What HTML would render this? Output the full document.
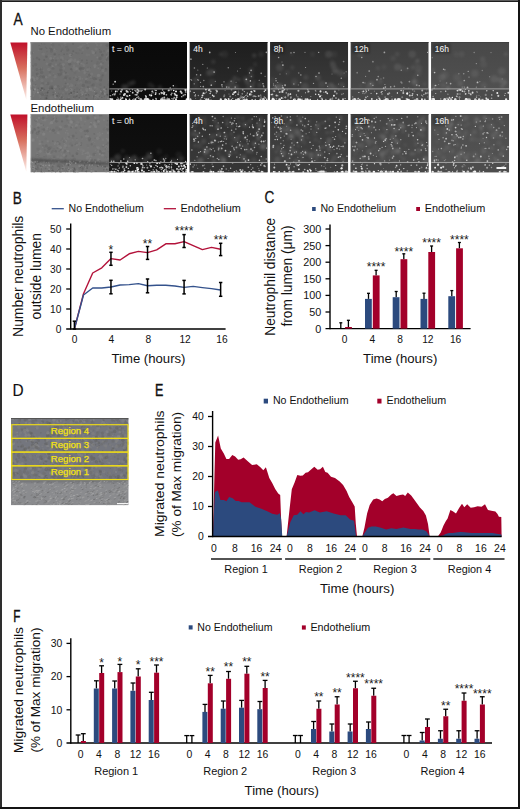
<!DOCTYPE html>
<html><head><meta charset="utf-8"><style>
html,body{margin:0;padding:0;background:#fff;}
svg{display:block;}
text{font-family:"Liberation Sans",sans-serif;}
</style></head><body>
<svg width="520" height="809" viewBox="0 0 520 809" font-family="Liberation Sans, sans-serif">
<defs><filter id="b4" x="-20%" y="-20%" width="140%" height="140%"><feGaussianBlur stdDeviation="0.35"/></filter><filter id="b5" x="-20%" y="-20%" width="140%" height="140%"><feGaussianBlur stdDeviation="0.5"/></filter><filter id="b8" x="-20%" y="-50%" width="140%" height="200%"><feGaussianBlur stdDeviation="0.8"/></filter><filter id="b10" x="-20%" y="-20%" width="140%" height="140%"><feGaussianBlur stdDeviation="1.0"/></filter></defs>
<rect x="0" y="0" width="520" height="809" fill="#fff"/>
<text transform="translate(13.4,24.7) scale(0.86,1)" x="0" y="0" font-size="16" fill="#111" stroke="#111" stroke-width="0.3">A</text>
<text x="30.5" y="34.7" font-size="10.6" text-anchor="start" fill="#111" textLength="80.6" lengthAdjust="spacingAndGlyphs" >No Endothelium</text>
<text x="30.5" y="111.6" font-size="10.6" text-anchor="start" fill="#111" textLength="63.4" lengthAdjust="spacingAndGlyphs" >Endothelium</text>
<defs><linearGradient id="tri" x1="0" y1="0" x2="0" y2="1"><stop offset="0" stop-color="#c0102a"/><stop offset="0.45" stop-color="#d8705e"/><stop offset="1" stop-color="#fdf0ec"/></linearGradient></defs>
<polygon points="10.3,42.5 27.4,42.5 26.3,99.8" fill="url(#tri)"/>
<polygon points="10.3,114.5 27.4,114.5 26.3,171.8" fill="url(#tri)"/>
<clipPath id="c1"><rect x="30.5" y="42" width="78.5" height="58"/></clipPath>
<g clip-path="url(#c1)">
<rect x="30.5" y="42" width="78.5" height="58" fill="#707070"/>
<g filter="url(#b5)">
<circle cx="55.9" cy="50.7" r="1.3" fill="#5f5f5f" opacity="0.6"/>
<circle cx="37.9" cy="75.8" r="1.7" fill="#6a6a6a" opacity="0.6"/>
<circle cx="64.5" cy="46.1" r="0.6" fill="#757575" opacity="0.6"/>
<circle cx="74.9" cy="97.0" r="1.3" fill="#626262" opacity="0.6"/>
<circle cx="61.6" cy="98.6" r="0.6" fill="#666666" opacity="0.6"/>
<circle cx="41.8" cy="48.8" r="0.9" fill="#696969" opacity="0.6"/>
<circle cx="75.3" cy="52.9" r="0.6" fill="#636363" opacity="0.6"/>
<circle cx="79.1" cy="70.8" r="1.2" fill="#7b7b7b" opacity="0.6"/>
<circle cx="103.0" cy="63.0" r="0.8" fill="#616161" opacity="0.6"/>
<circle cx="49.7" cy="75.3" r="1.2" fill="#7f7f7f" opacity="0.6"/>
<circle cx="53.1" cy="98.9" r="0.7" fill="#777777" opacity="0.6"/>
<circle cx="57.4" cy="96.1" r="1.0" fill="#606060" opacity="0.6"/>
<circle cx="75.5" cy="92.8" r="0.9" fill="#7d7d7d" opacity="0.6"/>
<circle cx="76.0" cy="68.5" r="1.6" fill="#7b7b7b" opacity="0.6"/>
<circle cx="82.6" cy="45.5" r="1.4" fill="#787878" opacity="0.6"/>
<circle cx="60.8" cy="80.8" r="0.5" fill="#797979" opacity="0.6"/>
<circle cx="78.5" cy="70.6" r="0.8" fill="#767676" opacity="0.6"/>
<circle cx="49.9" cy="64.7" r="1.6" fill="#686868" opacity="0.6"/>
<circle cx="62.0" cy="58.1" r="0.7" fill="#818181" opacity="0.6"/>
<circle cx="52.4" cy="66.1" r="1.0" fill="#828282" opacity="0.6"/>
<circle cx="42.3" cy="52.2" r="0.8" fill="#6a6a6a" opacity="0.6"/>
<circle cx="95.7" cy="52.6" r="0.9" fill="#656565" opacity="0.6"/>
<circle cx="59.5" cy="74.8" r="1.7" fill="#646464" opacity="0.6"/>
<circle cx="98.9" cy="97.2" r="1.4" fill="#7a7a7a" opacity="0.6"/>
<circle cx="61.4" cy="69.9" r="1.0" fill="#6a6a6a" opacity="0.6"/>
<circle cx="46.9" cy="51.4" r="0.9" fill="#696969" opacity="0.6"/>
<circle cx="75.0" cy="73.1" r="1.7" fill="#6a6a6a" opacity="0.6"/>
<circle cx="46.8" cy="63.8" r="1.3" fill="#7d7d7d" opacity="0.6"/>
<circle cx="67.7" cy="48.7" r="1.1" fill="#7b7b7b" opacity="0.6"/>
<circle cx="55.0" cy="50.4" r="1.5" fill="#7b7b7b" opacity="0.6"/>
<circle cx="84.8" cy="71.9" r="0.8" fill="#777777" opacity="0.6"/>
<circle cx="73.1" cy="43.6" r="1.2" fill="#616161" opacity="0.6"/>
<circle cx="51.0" cy="63.3" r="0.7" fill="#636363" opacity="0.6"/>
<circle cx="91.7" cy="61.1" r="0.8" fill="#5f5f5f" opacity="0.6"/>
<circle cx="94.7" cy="84.9" r="0.8" fill="#797979" opacity="0.6"/>
<circle cx="32.8" cy="43.6" r="0.9" fill="#777777" opacity="0.6"/>
<circle cx="78.0" cy="62.0" r="1.6" fill="#828282" opacity="0.6"/>
<circle cx="59.1" cy="54.8" r="0.8" fill="#666666" opacity="0.6"/>
<circle cx="68.4" cy="99.1" r="1.3" fill="#646464" opacity="0.6"/>
<circle cx="81.8" cy="88.4" r="0.6" fill="#5e5e5e" opacity="0.6"/>
<circle cx="91.9" cy="85.5" r="1.1" fill="#646464" opacity="0.6"/>
<circle cx="80.4" cy="47.0" r="1.7" fill="#7b7b7b" opacity="0.6"/>
<circle cx="88.9" cy="46.9" r="0.7" fill="#6a6a6a" opacity="0.6"/>
<circle cx="76.9" cy="69.0" r="1.4" fill="#7e7e7e" opacity="0.6"/>
<circle cx="58.0" cy="73.8" r="0.7" fill="#5f5f5f" opacity="0.6"/>
<circle cx="87.5" cy="48.0" r="1.5" fill="#646464" opacity="0.6"/>
<circle cx="98.9" cy="89.9" r="0.8" fill="#777777" opacity="0.6"/>
<circle cx="69.8" cy="86.3" r="0.9" fill="#808080" opacity="0.6"/>
<circle cx="35.3" cy="84.9" r="1.7" fill="#808080" opacity="0.6"/>
<circle cx="99.4" cy="49.6" r="0.7" fill="#5e5e5e" opacity="0.6"/>
<circle cx="91.5" cy="77.3" r="1.5" fill="#686868" opacity="0.6"/>
<circle cx="67.7" cy="84.1" r="1.2" fill="#7e7e7e" opacity="0.6"/>
<circle cx="72.2" cy="70.0" r="1.5" fill="#676767" opacity="0.6"/>
<circle cx="52.2" cy="86.8" r="1.2" fill="#606060" opacity="0.6"/>
<circle cx="102.1" cy="67.7" r="1.3" fill="#616161" opacity="0.6"/>
<circle cx="66.0" cy="72.9" r="1.1" fill="#616161" opacity="0.6"/>
<circle cx="99.3" cy="96.6" r="0.8" fill="#5f5f5f" opacity="0.6"/>
<circle cx="41.3" cy="49.1" r="1.1" fill="#616161" opacity="0.6"/>
<circle cx="64.1" cy="54.3" r="0.9" fill="#5e5e5e" opacity="0.6"/>
<circle cx="42.6" cy="83.5" r="1.4" fill="#676767" opacity="0.6"/>
<circle cx="41.3" cy="69.1" r="1.5" fill="#656565" opacity="0.6"/>
<circle cx="68.7" cy="99.4" r="1.6" fill="#616161" opacity="0.6"/>
<circle cx="108.5" cy="65.4" r="1.0" fill="#797979" opacity="0.6"/>
<circle cx="87.2" cy="43.1" r="1.2" fill="#7e7e7e" opacity="0.6"/>
<circle cx="60.7" cy="72.0" r="0.9" fill="#696969" opacity="0.6"/>
<circle cx="102.6" cy="55.3" r="1.6" fill="#676767" opacity="0.6"/>
<circle cx="33.6" cy="87.2" r="0.9" fill="#5f5f5f" opacity="0.6"/>
<circle cx="97.2" cy="81.2" r="1.7" fill="#777777" opacity="0.6"/>
<circle cx="102.7" cy="75.1" r="1.4" fill="#676767" opacity="0.6"/>
<circle cx="93.3" cy="52.6" r="1.7" fill="#828282" opacity="0.6"/>
<circle cx="80.3" cy="88.5" r="0.6" fill="#6a6a6a" opacity="0.6"/>
<circle cx="98.2" cy="68.3" r="0.9" fill="#818181" opacity="0.6"/>
<circle cx="51.5" cy="49.5" r="1.2" fill="#5d5d5d" opacity="0.6"/>
<circle cx="106.6" cy="57.2" r="0.7" fill="#7d7d7d" opacity="0.6"/>
<circle cx="72.2" cy="53.9" r="1.1" fill="#676767" opacity="0.6"/>
<circle cx="93.6" cy="99.7" r="0.5" fill="#606060" opacity="0.6"/>
<circle cx="73.8" cy="53.0" r="1.1" fill="#767676" opacity="0.6"/>
<circle cx="94.8" cy="67.1" r="1.1" fill="#828282" opacity="0.6"/>
<circle cx="54.7" cy="54.5" r="0.8" fill="#5f5f5f" opacity="0.6"/>
<circle cx="86.0" cy="78.9" r="1.0" fill="#828282" opacity="0.6"/>
<circle cx="96.2" cy="42.8" r="1.3" fill="#7b7b7b" opacity="0.6"/>
<circle cx="34.8" cy="80.6" r="1.0" fill="#7d7d7d" opacity="0.6"/>
<circle cx="84.9" cy="44.6" r="0.7" fill="#7b7b7b" opacity="0.6"/>
<circle cx="51.2" cy="97.8" r="1.8" fill="#787878" opacity="0.6"/>
<circle cx="106.3" cy="60.0" r="1.0" fill="#666666" opacity="0.6"/>
<circle cx="37.1" cy="58.2" r="1.4" fill="#636363" opacity="0.6"/>
<circle cx="30.9" cy="57.3" r="0.6" fill="#7d7d7d" opacity="0.6"/>
<circle cx="61.4" cy="59.4" r="1.3" fill="#626262" opacity="0.6"/>
<circle cx="72.0" cy="85.5" r="1.4" fill="#7f7f7f" opacity="0.6"/>
<circle cx="87.1" cy="70.7" r="0.9" fill="#6a6a6a" opacity="0.6"/>
<circle cx="96.1" cy="93.7" r="1.3" fill="#5e5e5e" opacity="0.6"/>
<circle cx="89.6" cy="75.0" r="1.6" fill="#5f5f5f" opacity="0.6"/>
<circle cx="76.3" cy="93.8" r="1.4" fill="#696969" opacity="0.6"/>
<circle cx="33.8" cy="79.0" r="1.7" fill="#808080" opacity="0.6"/>
<circle cx="74.3" cy="78.4" r="1.3" fill="#646464" opacity="0.6"/>
<circle cx="30.8" cy="88.3" r="1.5" fill="#616161" opacity="0.6"/>
<circle cx="35.7" cy="84.7" r="0.8" fill="#5f5f5f" opacity="0.6"/>
<circle cx="48.9" cy="85.9" r="0.8" fill="#7b7b7b" opacity="0.6"/>
<circle cx="60.5" cy="69.8" r="1.4" fill="#626262" opacity="0.6"/>
<circle cx="81.0" cy="46.5" r="0.7" fill="#7e7e7e" opacity="0.6"/>
<circle cx="84.9" cy="78.0" r="0.7" fill="#757575" opacity="0.6"/>
<circle cx="51.6" cy="81.0" r="1.4" fill="#797979" opacity="0.6"/>
<circle cx="71.0" cy="69.0" r="1.1" fill="#5d5d5d" opacity="0.6"/>
<circle cx="73.6" cy="60.1" r="0.6" fill="#757575" opacity="0.6"/>
<circle cx="66.5" cy="89.6" r="1.8" fill="#828282" opacity="0.6"/>
<circle cx="60.9" cy="95.2" r="1.7" fill="#626262" opacity="0.6"/>
<circle cx="41.6" cy="72.4" r="1.7" fill="#626262" opacity="0.6"/>
<circle cx="80.1" cy="58.2" r="0.6" fill="#787878" opacity="0.6"/>
<circle cx="101.0" cy="70.2" r="0.5" fill="#5d5d5d" opacity="0.6"/>
<circle cx="84.0" cy="65.5" r="1.4" fill="#797979" opacity="0.6"/>
<circle cx="55.3" cy="90.7" r="0.5" fill="#808080" opacity="0.6"/>
<circle cx="39.9" cy="95.7" r="1.4" fill="#787878" opacity="0.6"/>
<circle cx="35.6" cy="64.6" r="1.6" fill="#656565" opacity="0.6"/>
<circle cx="64.1" cy="58.0" r="0.6" fill="#6a6a6a" opacity="0.6"/>
<circle cx="82.5" cy="78.8" r="0.7" fill="#7b7b7b" opacity="0.6"/>
<circle cx="55.3" cy="86.8" r="1.5" fill="#818181" opacity="0.6"/>
<circle cx="94.2" cy="78.6" r="1.7" fill="#606060" opacity="0.6"/>
<circle cx="34.4" cy="84.5" r="1.1" fill="#616161" opacity="0.6"/>
<circle cx="53.0" cy="44.8" r="1.7" fill="#686868" opacity="0.6"/>
<circle cx="63.1" cy="58.3" r="0.8" fill="#7a7a7a" opacity="0.6"/>
<circle cx="49.2" cy="70.0" r="1.4" fill="#686868" opacity="0.6"/>
<circle cx="43.2" cy="54.1" r="1.7" fill="#7c7c7c" opacity="0.6"/>
<circle cx="66.1" cy="61.3" r="1.5" fill="#767676" opacity="0.6"/>
<circle cx="45.6" cy="47.3" r="0.9" fill="#666666" opacity="0.6"/>
<circle cx="59.4" cy="88.9" r="0.8" fill="#606060" opacity="0.6"/>
<circle cx="62.9" cy="66.0" r="1.2" fill="#787878" opacity="0.6"/>
<circle cx="89.5" cy="70.9" r="1.2" fill="#767676" opacity="0.6"/>
<circle cx="70.0" cy="78.5" r="1.6" fill="#696969" opacity="0.6"/>
<circle cx="100.9" cy="64.3" r="1.3" fill="#828282" opacity="0.6"/>
<circle cx="97.1" cy="92.6" r="0.5" fill="#656565" opacity="0.6"/>
<circle cx="90.4" cy="88.6" r="1.8" fill="#757575" opacity="0.6"/>
<circle cx="61.2" cy="95.8" r="1.6" fill="#828282" opacity="0.6"/>
<circle cx="50.0" cy="48.3" r="0.7" fill="#5d5d5d" opacity="0.6"/>
<circle cx="87.2" cy="79.5" r="1.5" fill="#767676" opacity="0.6"/>
<circle cx="91.5" cy="42.1" r="0.7" fill="#616161" opacity="0.6"/>
<circle cx="54.3" cy="49.4" r="0.8" fill="#7e7e7e" opacity="0.6"/>
<circle cx="39.3" cy="46.1" r="1.2" fill="#656565" opacity="0.6"/>
<circle cx="48.1" cy="76.9" r="0.5" fill="#828282" opacity="0.6"/>
<circle cx="52.4" cy="60.3" r="1.6" fill="#646464" opacity="0.6"/>
<circle cx="48.9" cy="56.3" r="1.7" fill="#757575" opacity="0.6"/>
<circle cx="45.7" cy="93.3" r="1.3" fill="#676767" opacity="0.6"/>
<circle cx="82.9" cy="95.7" r="0.8" fill="#616161" opacity="0.6"/>
<circle cx="86.9" cy="63.0" r="1.0" fill="#5f5f5f" opacity="0.6"/>
<circle cx="88.5" cy="71.3" r="0.8" fill="#666666" opacity="0.6"/>
<circle cx="94.9" cy="55.4" r="0.8" fill="#767676" opacity="0.6"/>
<circle cx="79.5" cy="77.4" r="1.7" fill="#7a7a7a" opacity="0.6"/>
<circle cx="82.7" cy="97.0" r="0.7" fill="#757575" opacity="0.6"/>
<circle cx="32.4" cy="76.6" r="1.0" fill="#686868" opacity="0.6"/>
<circle cx="65.8" cy="83.3" r="0.9" fill="#5d5d5d" opacity="0.6"/>
<circle cx="103.6" cy="61.1" r="0.7" fill="#757575" opacity="0.6"/>
<circle cx="82.7" cy="64.0" r="1.0" fill="#7b7b7b" opacity="0.6"/>
<circle cx="39.1" cy="46.5" r="0.6" fill="#828282" opacity="0.6"/>
<circle cx="40.2" cy="97.9" r="0.8" fill="#7f7f7f" opacity="0.6"/>
<circle cx="54.7" cy="88.6" r="0.6" fill="#777777" opacity="0.6"/>
<circle cx="73.0" cy="67.9" r="0.9" fill="#757575" opacity="0.6"/>
<circle cx="62.7" cy="89.1" r="1.5" fill="#656565" opacity="0.6"/>
<circle cx="66.9" cy="88.6" r="0.6" fill="#606060" opacity="0.6"/>
<circle cx="101.0" cy="61.7" r="0.9" fill="#676767" opacity="0.6"/>
<circle cx="86.8" cy="60.4" r="0.9" fill="#606060" opacity="0.6"/>
<circle cx="77.3" cy="88.7" r="1.7" fill="#6a6a6a" opacity="0.6"/>
<circle cx="48.9" cy="69.6" r="1.7" fill="#808080" opacity="0.6"/>
<circle cx="102.2" cy="89.3" r="0.7" fill="#777777" opacity="0.6"/>
<circle cx="93.5" cy="84.8" r="1.6" fill="#626262" opacity="0.6"/>
<circle cx="56.2" cy="60.5" r="1.0" fill="#636363" opacity="0.6"/>
<circle cx="61.2" cy="51.3" r="1.0" fill="#646464" opacity="0.6"/>
<circle cx="73.3" cy="51.3" r="1.1" fill="#5d5d5d" opacity="0.6"/>
<circle cx="51.3" cy="46.9" r="0.6" fill="#828282" opacity="0.6"/>
<circle cx="106.8" cy="52.0" r="0.7" fill="#7d7d7d" opacity="0.6"/>
<circle cx="83.4" cy="85.4" r="1.6" fill="#606060" opacity="0.6"/>
<circle cx="53.6" cy="58.2" r="0.8" fill="#7f7f7f" opacity="0.6"/>
<circle cx="46.1" cy="56.4" r="0.8" fill="#676767" opacity="0.6"/>
<circle cx="101.7" cy="52.9" r="0.6" fill="#828282" opacity="0.6"/>
<circle cx="70.3" cy="55.4" r="1.6" fill="#828282" opacity="0.6"/>
<circle cx="38.5" cy="69.5" r="1.6" fill="#818181" opacity="0.6"/>
<circle cx="33.7" cy="59.0" r="0.7" fill="#626262" opacity="0.6"/>
<circle cx="95.5" cy="53.3" r="0.6" fill="#646464" opacity="0.6"/>
<circle cx="50.9" cy="87.1" r="1.7" fill="#626262" opacity="0.6"/>
<circle cx="86.2" cy="62.3" r="0.5" fill="#767676" opacity="0.6"/>
<circle cx="46.5" cy="56.8" r="1.3" fill="#5f5f5f" opacity="0.6"/>
<circle cx="94.8" cy="65.7" r="1.0" fill="#767676" opacity="0.6"/>
<circle cx="33.0" cy="70.7" r="1.1" fill="#767676" opacity="0.6"/>
<circle cx="61.5" cy="73.9" r="1.3" fill="#616161" opacity="0.6"/>
<circle cx="61.7" cy="57.7" r="1.8" fill="#7a7a7a" opacity="0.6"/>
<circle cx="34.5" cy="85.2" r="1.6" fill="#7a7a7a" opacity="0.6"/>
<circle cx="98.3" cy="99.8" r="1.0" fill="#656565" opacity="0.6"/>
<circle cx="62.3" cy="96.6" r="1.1" fill="#656565" opacity="0.6"/>
<circle cx="94.9" cy="65.6" r="1.6" fill="#7f7f7f" opacity="0.6"/>
<circle cx="40.7" cy="45.0" r="0.7" fill="#767676" opacity="0.6"/>
<circle cx="79.3" cy="63.5" r="1.2" fill="#666666" opacity="0.6"/>
<circle cx="43.2" cy="52.0" r="0.6" fill="#7b7b7b" opacity="0.6"/>
<circle cx="93.7" cy="98.1" r="0.8" fill="#5f5f5f" opacity="0.6"/>
<circle cx="33.9" cy="94.9" r="0.9" fill="#767676" opacity="0.6"/>
<circle cx="86.4" cy="81.9" r="1.7" fill="#626262" opacity="0.6"/>
<circle cx="78.8" cy="53.4" r="1.1" fill="#6a6a6a" opacity="0.6"/>
<circle cx="104.2" cy="51.1" r="1.0" fill="#676767" opacity="0.6"/>
<circle cx="87.4" cy="94.0" r="0.6" fill="#616161" opacity="0.6"/>
<circle cx="55.9" cy="64.6" r="1.1" fill="#7e7e7e" opacity="0.6"/>
<circle cx="54.7" cy="56.5" r="1.0" fill="#7b7b7b" opacity="0.6"/>
<circle cx="64.9" cy="43.4" r="1.3" fill="#7b7b7b" opacity="0.6"/>
<circle cx="65.6" cy="77.9" r="1.6" fill="#5f5f5f" opacity="0.6"/>
<circle cx="61.9" cy="45.9" r="1.0" fill="#767676" opacity="0.6"/>
<circle cx="65.2" cy="71.6" r="0.6" fill="#696969" opacity="0.6"/>
<circle cx="88.1" cy="87.1" r="1.2" fill="#606060" opacity="0.6"/>
<circle cx="100.7" cy="79.9" r="1.5" fill="#5f5f5f" opacity="0.6"/>
<circle cx="108.7" cy="84.5" r="1.6" fill="#696969" opacity="0.6"/>
<circle cx="100.0" cy="58.7" r="1.6" fill="#616161" opacity="0.6"/>
<circle cx="87.1" cy="54.8" r="1.6" fill="#777777" opacity="0.6"/>
<circle cx="100.9" cy="57.9" r="1.6" fill="#676767" opacity="0.6"/>
<circle cx="106.2" cy="69.8" r="1.3" fill="#666666" opacity="0.6"/>
<circle cx="33.4" cy="52.6" r="0.7" fill="#7e7e7e" opacity="0.6"/>
<circle cx="100.8" cy="51.8" r="1.5" fill="#606060" opacity="0.6"/>
<circle cx="34.3" cy="91.8" r="1.8" fill="#7c7c7c" opacity="0.6"/>
<circle cx="76.0" cy="93.2" r="0.6" fill="#7f7f7f" opacity="0.6"/>
<circle cx="59.7" cy="63.8" r="1.0" fill="#656565" opacity="0.6"/>
<circle cx="90.5" cy="67.7" r="0.7" fill="#666666" opacity="0.6"/>
<circle cx="71.0" cy="60.0" r="1.8" fill="#7f7f7f" opacity="0.6"/>
<circle cx="89.1" cy="54.9" r="0.9" fill="#7a7a7a" opacity="0.6"/>
<circle cx="59.1" cy="44.8" r="1.1" fill="#6a6a6a" opacity="0.6"/>
<circle cx="30.7" cy="62.6" r="0.6" fill="#7c7c7c" opacity="0.6"/>
<circle cx="62.9" cy="59.5" r="0.7" fill="#7d7d7d" opacity="0.6"/>
<circle cx="67.8" cy="49.8" r="1.7" fill="#616161" opacity="0.6"/>
<circle cx="65.9" cy="45.7" r="0.7" fill="#7a7a7a" opacity="0.6"/>
<circle cx="51.2" cy="42.7" r="1.3" fill="#7d7d7d" opacity="0.6"/>
<circle cx="75.9" cy="76.9" r="1.2" fill="#787878" opacity="0.6"/>
<circle cx="101.4" cy="44.6" r="1.2" fill="#777777" opacity="0.6"/>
<circle cx="43.0" cy="94.9" r="0.6" fill="#696969" opacity="0.6"/>
<circle cx="46.2" cy="77.3" r="1.2" fill="#808080" opacity="0.6"/>
<circle cx="44.2" cy="59.9" r="0.9" fill="#5d5d5d" opacity="0.6"/>
<circle cx="87.4" cy="69.7" r="1.2" fill="#808080" opacity="0.6"/>
<circle cx="89.0" cy="69.0" r="1.5" fill="#777777" opacity="0.6"/>
<circle cx="108.7" cy="57.2" r="1.3" fill="#666666" opacity="0.6"/>
<circle cx="89.3" cy="82.3" r="1.6" fill="#676767" opacity="0.6"/>
<circle cx="74.0" cy="67.3" r="1.5" fill="#797979" opacity="0.6"/>
<circle cx="103.4" cy="93.9" r="0.6" fill="#686868" opacity="0.6"/>
<circle cx="101.5" cy="90.8" r="0.8" fill="#606060" opacity="0.6"/>
<circle cx="56.2" cy="93.0" r="0.9" fill="#656565" opacity="0.6"/>
<circle cx="97.4" cy="95.5" r="1.8" fill="#7b7b7b" opacity="0.6"/>
<circle cx="72.2" cy="42.4" r="0.5" fill="#636363" opacity="0.6"/>
<circle cx="54.7" cy="54.3" r="1.3" fill="#636363" opacity="0.6"/>
<circle cx="44.0" cy="43.9" r="0.6" fill="#666666" opacity="0.6"/>
<circle cx="41.6" cy="43.7" r="0.6" fill="#616161" opacity="0.6"/>
<circle cx="88.3" cy="45.8" r="1.3" fill="#777777" opacity="0.6"/>
<circle cx="105.4" cy="73.0" r="1.4" fill="#767676" opacity="0.6"/>
<circle cx="46.6" cy="48.5" r="0.5" fill="#5f5f5f" opacity="0.6"/>
<circle cx="80.1" cy="58.7" r="0.6" fill="#5f5f5f" opacity="0.6"/>
<circle cx="81.2" cy="59.1" r="0.9" fill="#757575" opacity="0.6"/>
<circle cx="50.7" cy="58.4" r="1.4" fill="#818181" opacity="0.6"/>
<circle cx="90.9" cy="76.9" r="1.1" fill="#7d7d7d" opacity="0.6"/>
<circle cx="32.9" cy="65.9" r="1.1" fill="#666666" opacity="0.6"/>
<circle cx="85.8" cy="73.2" r="0.8" fill="#626262" opacity="0.6"/>
<circle cx="53.0" cy="67.3" r="1.2" fill="#7f7f7f" opacity="0.6"/>
<circle cx="107.3" cy="42.3" r="1.1" fill="#7e7e7e" opacity="0.6"/>
<circle cx="95.3" cy="98.1" r="1.3" fill="#7d7d7d" opacity="0.6"/>
<circle cx="43.0" cy="89.3" r="1.7" fill="#646464" opacity="0.6"/>
<circle cx="39.1" cy="78.9" r="0.6" fill="#626262" opacity="0.6"/>
<circle cx="58.4" cy="65.3" r="1.0" fill="#656565" opacity="0.6"/>
<circle cx="81.2" cy="63.6" r="0.9" fill="#818181" opacity="0.6"/>
<circle cx="69.8" cy="64.0" r="1.6" fill="#5d5d5d" opacity="0.6"/>
<circle cx="40.5" cy="76.5" r="1.4" fill="#666666" opacity="0.6"/>
<circle cx="56.1" cy="51.0" r="1.6" fill="#777777" opacity="0.6"/>
<circle cx="64.9" cy="86.9" r="1.3" fill="#666666" opacity="0.6"/>
<circle cx="81.0" cy="82.4" r="1.2" fill="#797979" opacity="0.6"/>
<circle cx="85.7" cy="90.9" r="0.7" fill="#5d5d5d" opacity="0.6"/>
<circle cx="87.3" cy="77.0" r="1.0" fill="#666666" opacity="0.6"/>
<circle cx="45.4" cy="98.6" r="1.4" fill="#686868" opacity="0.6"/>
<circle cx="82.1" cy="53.3" r="0.7" fill="#5f5f5f" opacity="0.6"/>
<circle cx="88.1" cy="67.2" r="0.8" fill="#676767" opacity="0.6"/>
<circle cx="100.0" cy="68.9" r="0.5" fill="#7e7e7e" opacity="0.6"/>
<circle cx="69.8" cy="78.7" r="1.1" fill="#676767" opacity="0.6"/>
<circle cx="88.5" cy="42.3" r="0.8" fill="#7e7e7e" opacity="0.6"/>
<circle cx="76.6" cy="79.5" r="1.6" fill="#616161" opacity="0.6"/>
<circle cx="80.9" cy="68.3" r="0.9" fill="#5e5e5e" opacity="0.6"/>
<circle cx="49.5" cy="65.2" r="1.4" fill="#676767" opacity="0.6"/>
<circle cx="63.8" cy="68.4" r="1.3" fill="#7c7c7c" opacity="0.6"/>
<circle cx="82.4" cy="92.6" r="1.7" fill="#7f7f7f" opacity="0.6"/>
<circle cx="61.0" cy="70.4" r="1.8" fill="#676767" opacity="0.6"/>
<circle cx="47.6" cy="83.5" r="1.7" fill="#636363" opacity="0.6"/>
<circle cx="38.4" cy="75.3" r="1.2" fill="#7c7c7c" opacity="0.6"/>
<circle cx="80.7" cy="90.1" r="1.2" fill="#7f7f7f" opacity="0.6"/>
<circle cx="66.4" cy="99.4" r="0.7" fill="#606060" opacity="0.6"/>
<circle cx="78.7" cy="79.0" r="0.8" fill="#7a7a7a" opacity="0.6"/>
<circle cx="31.5" cy="66.3" r="1.0" fill="#7d7d7d" opacity="0.6"/>
<circle cx="39.1" cy="59.6" r="1.0" fill="#5d5d5d" opacity="0.6"/>
<circle cx="105.9" cy="68.8" r="0.7" fill="#5f5f5f" opacity="0.6"/>
<circle cx="80.3" cy="69.2" r="1.2" fill="#5f5f5f" opacity="0.6"/>
<circle cx="42.0" cy="80.6" r="1.6" fill="#7b7b7b" opacity="0.6"/>
<circle cx="53.6" cy="73.8" r="0.7" fill="#797979" opacity="0.6"/>
<circle cx="97.3" cy="57.5" r="1.0" fill="#828282" opacity="0.6"/>
<circle cx="83.8" cy="69.9" r="1.5" fill="#7a7a7a" opacity="0.6"/>
<circle cx="81.9" cy="60.6" r="1.1" fill="#616161" opacity="0.6"/>
<circle cx="59.0" cy="95.9" r="1.6" fill="#696969" opacity="0.6"/>
<circle cx="74.8" cy="60.8" r="1.7" fill="#7d7d7d" opacity="0.6"/>
<circle cx="31.7" cy="42.7" r="1.7" fill="#787878" opacity="0.6"/>
<circle cx="38.5" cy="50.3" r="0.8" fill="#797979" opacity="0.6"/>
<circle cx="42.5" cy="94.4" r="1.5" fill="#626262" opacity="0.6"/>
<circle cx="84.5" cy="98.7" r="0.6" fill="#777777" opacity="0.6"/>
<circle cx="84.9" cy="72.8" r="1.5" fill="#7e7e7e" opacity="0.6"/>
<circle cx="39.7" cy="48.9" r="1.0" fill="#646464" opacity="0.6"/>
<circle cx="74.2" cy="70.1" r="1.7" fill="#787878" opacity="0.6"/>
<circle cx="43.4" cy="76.8" r="1.5" fill="#5f5f5f" opacity="0.6"/>
<circle cx="67.2" cy="74.6" r="1.4" fill="#7a7a7a" opacity="0.6"/>
<circle cx="63.4" cy="97.7" r="0.6" fill="#7d7d7d" opacity="0.6"/>
<circle cx="32.7" cy="77.4" r="1.4" fill="#808080" opacity="0.6"/>
<circle cx="37.9" cy="70.1" r="1.5" fill="#6a6a6a" opacity="0.6"/>
<circle cx="86.9" cy="78.3" r="0.9" fill="#797979" opacity="0.6"/>
<circle cx="91.6" cy="74.1" r="1.7" fill="#7b7b7b" opacity="0.6"/>
<circle cx="63.7" cy="74.1" r="1.6" fill="#797979" opacity="0.6"/>
<circle cx="69.3" cy="61.4" r="1.8" fill="#828282" opacity="0.6"/>
<circle cx="81.9" cy="87.9" r="0.9" fill="#7e7e7e" opacity="0.6"/>
<circle cx="40.5" cy="98.4" r="0.6" fill="#656565" opacity="0.6"/>
<circle cx="74.0" cy="65.5" r="1.2" fill="#797979" opacity="0.6"/>
<circle cx="31.0" cy="53.0" r="1.7" fill="#5f5f5f" opacity="0.6"/>
<circle cx="101.9" cy="77.5" r="1.3" fill="#686868" opacity="0.6"/>
<circle cx="82.9" cy="68.6" r="1.5" fill="#616161" opacity="0.6"/>
<circle cx="98.7" cy="66.5" r="0.6" fill="#656565" opacity="0.6"/>
<circle cx="95.1" cy="87.6" r="1.2" fill="#818181" opacity="0.6"/>
<circle cx="45.0" cy="44.0" r="0.5" fill="#646464" opacity="0.6"/>
<circle cx="71.5" cy="89.8" r="1.5" fill="#7d7d7d" opacity="0.6"/>
<circle cx="102.6" cy="67.9" r="0.5" fill="#7d7d7d" opacity="0.6"/>
<circle cx="108.5" cy="80.2" r="0.7" fill="#7c7c7c" opacity="0.6"/>
<circle cx="37.0" cy="69.4" r="1.7" fill="#656565" opacity="0.6"/>
<circle cx="31.2" cy="80.8" r="1.8" fill="#676767" opacity="0.6"/>
<circle cx="40.0" cy="69.4" r="0.9" fill="#646464" opacity="0.6"/>
<circle cx="88.9" cy="95.5" r="1.0" fill="#606060" opacity="0.6"/>
<circle cx="37.1" cy="78.5" r="1.4" fill="#7e7e7e" opacity="0.6"/>
<circle cx="100.4" cy="95.0" r="0.6" fill="#6a6a6a" opacity="0.6"/>
<circle cx="31.7" cy="79.7" r="1.6" fill="#656565" opacity="0.6"/>
<circle cx="55.0" cy="76.8" r="1.7" fill="#7d7d7d" opacity="0.6"/>
<circle cx="55.3" cy="97.0" r="1.4" fill="#7e7e7e" opacity="0.6"/>
<circle cx="41.9" cy="88.2" r="1.0" fill="#626262" opacity="0.6"/>
<circle cx="63.3" cy="64.4" r="1.5" fill="#7f7f7f" opacity="0.6"/>
<circle cx="75.0" cy="59.0" r="0.6" fill="#818181" opacity="0.6"/>
<circle cx="87.5" cy="42.9" r="0.7" fill="#7d7d7d" opacity="0.6"/>
<circle cx="107.1" cy="56.3" r="1.0" fill="#7d7d7d" opacity="0.6"/>
<circle cx="100.8" cy="88.8" r="0.9" fill="#666666" opacity="0.6"/>
<circle cx="51.5" cy="51.1" r="1.7" fill="#666666" opacity="0.6"/>
<circle cx="41.5" cy="93.7" r="1.8" fill="#676767" opacity="0.6"/>
<circle cx="97.3" cy="88.8" r="1.4" fill="#797979" opacity="0.6"/>
<circle cx="37.2" cy="74.1" r="1.5" fill="#5f5f5f" opacity="0.6"/>
<circle cx="87.2" cy="99.0" r="0.9" fill="#616161" opacity="0.6"/>
<circle cx="67.0" cy="54.0" r="0.8" fill="#5f5f5f" opacity="0.6"/>
<circle cx="66.6" cy="47.1" r="1.5" fill="#676767" opacity="0.6"/>
<circle cx="76.0" cy="94.0" r="1.7" fill="#7b7b7b" opacity="0.6"/>
<circle cx="76.8" cy="53.0" r="0.8" fill="#5f5f5f" opacity="0.6"/>
<circle cx="53.2" cy="75.5" r="1.0" fill="#676767" opacity="0.6"/>
<circle cx="102.9" cy="70.6" r="1.6" fill="#7d7d7d" opacity="0.6"/>
<circle cx="92.3" cy="51.1" r="1.3" fill="#787878" opacity="0.6"/>
<circle cx="78.2" cy="47.5" r="0.8" fill="#7d7d7d" opacity="0.6"/>
<circle cx="47.3" cy="95.7" r="0.9" fill="#5d5d5d" opacity="0.6"/>
<circle cx="90.7" cy="89.5" r="1.8" fill="#808080" opacity="0.6"/>
<circle cx="57.1" cy="99.7" r="1.0" fill="#6a6a6a" opacity="0.6"/>
<circle cx="74.3" cy="92.5" r="1.1" fill="#5e5e5e" opacity="0.6"/>
<circle cx="80.7" cy="95.5" r="1.4" fill="#676767" opacity="0.6"/>
<circle cx="74.8" cy="79.2" r="1.7" fill="#777777" opacity="0.6"/>
<circle cx="97.2" cy="63.5" r="0.8" fill="#686868" opacity="0.6"/>
<circle cx="104.4" cy="96.6" r="0.6" fill="#5f5f5f" opacity="0.6"/>
<circle cx="34.2" cy="87.6" r="1.4" fill="#757575" opacity="0.6"/>
<circle cx="41.9" cy="85.8" r="1.7" fill="#7d7d7d" opacity="0.6"/>
<circle cx="65.1" cy="79.8" r="1.1" fill="#787878" opacity="0.6"/>
<circle cx="40.2" cy="69.9" r="0.7" fill="#5f5f5f" opacity="0.6"/>
<circle cx="102.3" cy="93.7" r="1.1" fill="#5f5f5f" opacity="0.6"/>
<circle cx="42.8" cy="90.3" r="0.6" fill="#818181" opacity="0.6"/>
<circle cx="41.5" cy="67.9" r="0.6" fill="#808080" opacity="0.6"/>
<circle cx="79.8" cy="68.2" r="0.9" fill="#646464" opacity="0.6"/>
<circle cx="79.8" cy="50.3" r="0.8" fill="#686868" opacity="0.6"/>
<circle cx="65.9" cy="93.6" r="1.1" fill="#676767" opacity="0.6"/>
<circle cx="62.8" cy="51.0" r="0.9" fill="#797979" opacity="0.6"/>
<circle cx="43.7" cy="70.5" r="0.9" fill="#767676" opacity="0.6"/>
<circle cx="107.3" cy="45.3" r="1.7" fill="#636363" opacity="0.6"/>
<circle cx="96.1" cy="48.9" r="1.5" fill="#7b7b7b" opacity="0.6"/>
<circle cx="51.0" cy="55.8" r="0.8" fill="#797979" opacity="0.6"/>
<circle cx="100.9" cy="45.3" r="1.4" fill="#777777" opacity="0.6"/>
<circle cx="80.7" cy="67.6" r="1.2" fill="#646464" opacity="0.6"/>
<circle cx="92.5" cy="96.7" r="0.9" fill="#7b7b7b" opacity="0.6"/>
<circle cx="102.1" cy="54.7" r="1.2" fill="#5f5f5f" opacity="0.6"/>
<circle cx="71.4" cy="55.4" r="0.7" fill="#5f5f5f" opacity="0.6"/>
<circle cx="100.3" cy="84.4" r="1.5" fill="#686868" opacity="0.6"/>
<circle cx="78.6" cy="83.0" r="1.6" fill="#777777" opacity="0.6"/>
<circle cx="35.7" cy="84.5" r="1.0" fill="#636363" opacity="0.6"/>
<circle cx="57.8" cy="58.3" r="1.3" fill="#767676" opacity="0.6"/>
<circle cx="62.6" cy="86.3" r="0.7" fill="#787878" opacity="0.6"/>
<circle cx="74.7" cy="99.2" r="0.5" fill="#7d7d7d" opacity="0.6"/>
<circle cx="97.9" cy="62.7" r="1.7" fill="#696969" opacity="0.6"/>
<circle cx="86.6" cy="89.4" r="1.6" fill="#7f7f7f" opacity="0.6"/>
<circle cx="98.6" cy="75.4" r="1.7" fill="#818181" opacity="0.6"/>
<circle cx="105.4" cy="70.7" r="1.2" fill="#6a6a6a" opacity="0.6"/>
<circle cx="106.4" cy="55.0" r="0.7" fill="#666666" opacity="0.6"/>
<circle cx="74.1" cy="97.4" r="0.5" fill="#676767" opacity="0.6"/>
<circle cx="96.2" cy="78.9" r="1.1" fill="#616161" opacity="0.6"/>
<circle cx="38.6" cy="92.4" r="1.4" fill="#676767" opacity="0.6"/>
<circle cx="67.0" cy="76.0" r="1.5" fill="#696969" opacity="0.6"/>
<circle cx="62.3" cy="49.9" r="1.3" fill="#686868" opacity="0.6"/>
<circle cx="75.5" cy="85.3" r="0.7" fill="#5d5d5d" opacity="0.6"/>
<circle cx="61.0" cy="66.4" r="1.6" fill="#656565" opacity="0.6"/>
<circle cx="104.4" cy="87.1" r="0.9" fill="#5f5f5f" opacity="0.6"/>
<circle cx="86.7" cy="90.9" r="1.2" fill="#808080" opacity="0.6"/>
<circle cx="97.0" cy="45.1" r="1.2" fill="#787878" opacity="0.6"/>
<circle cx="63.6" cy="78.7" r="1.0" fill="#6a6a6a" opacity="0.6"/>
<circle cx="64.5" cy="71.3" r="0.5" fill="#656565" opacity="0.6"/>
<circle cx="61.7" cy="99.9" r="1.1" fill="#5f5f5f" opacity="0.6"/>
<circle cx="99.9" cy="93.3" r="0.5" fill="#818181" opacity="0.6"/>
<circle cx="79.4" cy="78.4" r="1.5" fill="#626262" opacity="0.6"/>
<circle cx="50.2" cy="72.2" r="1.1" fill="#666666" opacity="0.6"/>
<circle cx="54.5" cy="79.6" r="0.7" fill="#767676" opacity="0.6"/>
<circle cx="76.8" cy="96.1" r="1.1" fill="#5e5e5e" opacity="0.6"/>
<circle cx="102.4" cy="75.5" r="0.9" fill="#606060" opacity="0.6"/>
<circle cx="53.0" cy="68.3" r="1.4" fill="#616161" opacity="0.6"/>
<circle cx="46.3" cy="83.2" r="1.1" fill="#7d7d7d" opacity="0.6"/>
<circle cx="67.3" cy="60.0" r="0.8" fill="#686868" opacity="0.6"/>
<circle cx="73.4" cy="98.2" r="1.0" fill="#777777" opacity="0.6"/>
<circle cx="105.2" cy="60.8" r="0.9" fill="#787878" opacity="0.6"/>
<circle cx="108.0" cy="59.1" r="1.5" fill="#636363" opacity="0.6"/>
<circle cx="78.1" cy="62.2" r="1.4" fill="#808080" opacity="0.6"/>
<circle cx="58.3" cy="86.2" r="1.2" fill="#656565" opacity="0.6"/>
<circle cx="83.0" cy="50.1" r="0.8" fill="#808080" opacity="0.6"/>
<circle cx="71.1" cy="84.8" r="1.5" fill="#787878" opacity="0.6"/>
<circle cx="80.0" cy="78.7" r="1.4" fill="#818181" opacity="0.6"/>
<circle cx="30.8" cy="86.4" r="1.3" fill="#7a7a7a" opacity="0.6"/>
<circle cx="108.4" cy="50.7" r="1.6" fill="#818181" opacity="0.6"/>
<circle cx="78.2" cy="64.0" r="1.1" fill="#797979" opacity="0.6"/>
</g>
<circle cx="58.2" cy="92.2" r="0.4" fill="#8c8c8c" opacity="0.7"/>
<circle cx="89.0" cy="99.9" r="0.5" fill="#868686" opacity="0.7"/>
<circle cx="54.4" cy="89.7" r="0.5" fill="#8a8a8a" opacity="0.7"/>
<circle cx="102.7" cy="91.9" r="0.5" fill="#4b4b4b" opacity="0.7"/>
<circle cx="64.0" cy="98.9" r="0.6" fill="#656565" opacity="0.7"/>
<circle cx="100.8" cy="91.6" r="1.0" fill="#898989" opacity="0.7"/>
<circle cx="71.1" cy="94.2" r="0.6" fill="#848484" opacity="0.7"/>
<circle cx="77.2" cy="92.2" r="0.7" fill="#535353" opacity="0.7"/>
<circle cx="38.3" cy="92.5" r="1.0" fill="#8c8c8c" opacity="0.7"/>
<circle cx="42.6" cy="90.3" r="0.7" fill="#878787" opacity="0.7"/>
<circle cx="79.5" cy="100.0" r="0.8" fill="#8d8d8d" opacity="0.7"/>
<circle cx="37.7" cy="92.4" r="0.9" fill="#959595" opacity="0.7"/>
<circle cx="70.7" cy="89.3" r="0.9" fill="#8d8d8d" opacity="0.7"/>
<circle cx="108.2" cy="98.7" r="0.7" fill="#8b8b8b" opacity="0.7"/>
<circle cx="94.6" cy="90.5" r="0.4" fill="#5a5a5a" opacity="0.7"/>
<circle cx="74.8" cy="89.3" r="0.4" fill="#525252" opacity="0.7"/>
<circle cx="30.7" cy="96.5" r="0.6" fill="#4c4c4c" opacity="0.7"/>
<circle cx="38.2" cy="88.2" r="0.7" fill="#606060" opacity="0.7"/>
<circle cx="73.9" cy="91.2" r="0.6" fill="#555555" opacity="0.7"/>
<circle cx="40.0" cy="89.9" r="0.4" fill="#656565" opacity="0.7"/>
<circle cx="104.9" cy="93.9" r="0.9" fill="#8b8b8b" opacity="0.7"/>
<circle cx="35.4" cy="88.1" r="0.5" fill="#7e7e7e" opacity="0.7"/>
<circle cx="52.1" cy="88.4" r="1.0" fill="#4d4d4d" opacity="0.7"/>
<circle cx="35.4" cy="90.3" r="0.5" fill="#7a7a7a" opacity="0.7"/>
<circle cx="61.6" cy="97.2" r="0.8" fill="#595959" opacity="0.7"/>
<circle cx="50.1" cy="88.5" r="0.9" fill="#5d5d5d" opacity="0.7"/>
<circle cx="94.5" cy="91.6" r="0.7" fill="#949494" opacity="0.7"/>
<circle cx="105.1" cy="90.9" r="0.8" fill="#8c8c8c" opacity="0.7"/>
<circle cx="63.0" cy="92.8" r="0.9" fill="#7a7a7a" opacity="0.7"/>
<circle cx="37.4" cy="90.0" r="1.0" fill="#7f7f7f" opacity="0.7"/>
<circle cx="53.3" cy="94.7" r="0.9" fill="#5c5c5c" opacity="0.7"/>
<circle cx="56.9" cy="95.8" r="0.9" fill="#5a5a5a" opacity="0.7"/>
<circle cx="74.0" cy="92.6" r="0.5" fill="#818181" opacity="0.7"/>
<circle cx="33.2" cy="96.0" r="0.5" fill="#909090" opacity="0.7"/>
<circle cx="40.7" cy="90.4" r="0.7" fill="#565656" opacity="0.7"/>
<circle cx="92.9" cy="90.9" r="0.8" fill="#838383" opacity="0.7"/>
<circle cx="60.1" cy="99.5" r="0.7" fill="#5d5d5d" opacity="0.7"/>
<circle cx="46.5" cy="98.3" r="1.0" fill="#4b4b4b" opacity="0.7"/>
<circle cx="77.3" cy="93.3" r="0.6" fill="#888888" opacity="0.7"/>
<circle cx="70.6" cy="89.5" r="0.5" fill="#535353" opacity="0.7"/>
<circle cx="97.4" cy="96.8" r="0.8" fill="#7a7a7a" opacity="0.7"/>
<circle cx="41.9" cy="88.2" r="0.9" fill="#525252" opacity="0.7"/>
<circle cx="48.7" cy="90.3" r="0.9" fill="#646464" opacity="0.7"/>
<circle cx="93.7" cy="97.1" r="0.6" fill="#646464" opacity="0.7"/>
<circle cx="48.3" cy="89.5" r="0.6" fill="#818181" opacity="0.7"/>
<circle cx="101.9" cy="97.3" r="0.5" fill="#4b4b4b" opacity="0.7"/>
<circle cx="59.3" cy="97.6" r="0.4" fill="#939393" opacity="0.7"/>
<circle cx="85.7" cy="93.6" r="0.8" fill="#838383" opacity="0.7"/>
<circle cx="44.8" cy="89.4" r="0.4" fill="#525252" opacity="0.7"/>
<circle cx="33.6" cy="89.9" r="0.5" fill="#505050" opacity="0.7"/>
<circle cx="88.5" cy="94.6" r="0.5" fill="#565656" opacity="0.7"/>
<circle cx="69.6" cy="94.2" r="0.7" fill="#8c8c8c" opacity="0.7"/>
<circle cx="104.0" cy="89.3" r="0.9" fill="#939393" opacity="0.7"/>
<circle cx="76.4" cy="96.4" r="0.4" fill="#525252" opacity="0.7"/>
<circle cx="55.5" cy="97.3" r="0.5" fill="#8e8e8e" opacity="0.7"/>
<circle cx="85.0" cy="92.7" r="0.5" fill="#5e5e5e" opacity="0.7"/>
<circle cx="104.8" cy="93.1" r="0.8" fill="#8d8d8d" opacity="0.7"/>
<circle cx="95.7" cy="95.5" r="0.8" fill="#888888" opacity="0.7"/>
<circle cx="46.7" cy="96.1" r="0.5" fill="#585858" opacity="0.7"/>
<circle cx="105.3" cy="97.9" r="0.5" fill="#7e7e7e" opacity="0.7"/>
<circle cx="91.8" cy="90.8" r="0.4" fill="#808080" opacity="0.7"/>
<circle cx="58.6" cy="92.9" r="0.5" fill="#545454" opacity="0.7"/>
<circle cx="84.4" cy="93.8" r="0.5" fill="#808080" opacity="0.7"/>
<circle cx="71.0" cy="93.3" r="0.5" fill="#8d8d8d" opacity="0.7"/>
<circle cx="86.1" cy="95.1" r="0.9" fill="#5c5c5c" opacity="0.7"/>
<circle cx="73.5" cy="97.1" r="0.5" fill="#535353" opacity="0.7"/>
<circle cx="107.4" cy="98.1" r="0.5" fill="#919191" opacity="0.7"/>
<circle cx="53.2" cy="92.3" r="0.9" fill="#646464" opacity="0.7"/>
<circle cx="54.4" cy="89.3" r="0.5" fill="#868686" opacity="0.7"/>
<circle cx="56.0" cy="93.6" r="0.7" fill="#828282" opacity="0.7"/>
<circle cx="34.1" cy="93.6" r="0.8" fill="#7c7c7c" opacity="0.7"/>
<circle cx="107.4" cy="94.8" r="1.0" fill="#535353" opacity="0.7"/>
<circle cx="68.8" cy="97.4" r="1.0" fill="#7a7a7a" opacity="0.7"/>
<circle cx="81.1" cy="95.5" r="0.4" fill="#8c8c8c" opacity="0.7"/>
<circle cx="89.2" cy="88.3" r="0.6" fill="#919191" opacity="0.7"/>
<circle cx="45.1" cy="95.7" r="0.8" fill="#636363" opacity="0.7"/>
<circle cx="54.9" cy="95.4" r="0.9" fill="#7f7f7f" opacity="0.7"/>
<circle cx="55.6" cy="92.4" r="0.6" fill="#919191" opacity="0.7"/>
<circle cx="35.0" cy="89.3" r="1.0" fill="#939393" opacity="0.7"/>
<circle cx="69.3" cy="94.0" r="0.8" fill="#4a4a4a" opacity="0.7"/>
<circle cx="79.7" cy="89.7" r="0.7" fill="#616161" opacity="0.7"/>
<circle cx="106.6" cy="89.1" r="0.7" fill="#4e4e4e" opacity="0.7"/>
<circle cx="47.6" cy="92.5" r="0.9" fill="#4e4e4e" opacity="0.7"/>
<circle cx="92.3" cy="93.1" r="0.4" fill="#7c7c7c" opacity="0.7"/>
<circle cx="86.3" cy="98.7" r="0.8" fill="#595959" opacity="0.7"/>
<circle cx="95.3" cy="98.8" r="0.4" fill="#5b5b5b" opacity="0.7"/>
<circle cx="93.6" cy="96.1" r="0.7" fill="#585858" opacity="0.7"/>
<circle cx="71.1" cy="93.1" r="1.0" fill="#4a4a4a" opacity="0.7"/>
<circle cx="79.2" cy="97.7" r="0.6" fill="#515151" opacity="0.7"/>
<circle cx="82.2" cy="94.8" r="0.7" fill="#949494" opacity="0.7"/>
<rect x="30.5" y="42" width="78.5" height="0.8" fill="#8e8e8e"/>
<rect x="30.5" y="42" width="0.8" height="58" fill="#939393"/>
</g>
<defs><linearGradient id="g109_42" x1="0" y1="0" x2="0" y2="1"><stop offset="0" stop-color="#0a0a0a"/><stop offset="0.8" stop-color="#0d0d0d"/><stop offset="1" stop-color="#0d0d0d"/></linearGradient></defs>
<clipPath id="c2"><rect x="109" y="42" width="78" height="58"/></clipPath>
<g clip-path="url(#c2)">
<rect x="109" y="42" width="78" height="58" fill="url(#g109_42)"/>
<g filter="url(#b10)">
<circle cx="133.1" cy="82.5" r="2.5" fill="#a0a0a0" opacity="0.16"/>
<circle cx="125.0" cy="87.8" r="3.2" fill="#a0a0a0" opacity="0.11"/>
<circle cx="159.9" cy="87.4" r="2.5" fill="#a0a0a0" opacity="0.13"/>
<circle cx="150.2" cy="85.1" r="2.9" fill="#a0a0a0" opacity="0.11"/>
<circle cx="124.4" cy="87.3" r="3.6" fill="#a0a0a0" opacity="0.12"/>
<circle cx="174.8" cy="87.3" r="2.3" fill="#a0a0a0" opacity="0.08"/>
<circle cx="129.6" cy="84.0" r="2.8" fill="#a0a0a0" opacity="0.13"/>
<circle cx="153.4" cy="86.6" r="2.0" fill="#a0a0a0" opacity="0.12"/>
</g>
<g filter="url(#b4)">
<circle cx="113.2" cy="84.2" r="0.66" fill="#afafaf"/>
<circle cx="173.3" cy="85.7" r="0.72" fill="#dcdcdc"/>
<circle cx="115.1" cy="81.7" r="0.90" fill="#dcdcdc"/>
<circle cx="170.2" cy="87.9" r="0.66" fill="#b5b5b5"/>
<rect x="109" y="89.5" width="78" height="10.5" fill="#101010"/>
<circle cx="183.4" cy="95.4" r="0.91" fill="#a4a4a4"/>
<circle cx="169.3" cy="90.1" r="0.59" fill="#bdbdbd"/>
<circle cx="110.7" cy="95.7" r="0.58" fill="#b5b5b5"/>
<circle cx="164.0" cy="94.0" r="0.98" fill="#d7d7d7"/>
<circle cx="176.7" cy="95.4" r="1.00" fill="#f1f1f1"/>
<circle cx="122.4" cy="97.3" r="0.65" fill="#e6e6e6"/>
<circle cx="161.9" cy="98.2" r="0.52" fill="#bdbdbd"/>
<circle cx="166.3" cy="99.5" r="0.88" fill="#9a9a9a"/>
<circle cx="156.0" cy="90.5" r="0.78" fill="#eaeaea"/>
<circle cx="118.2" cy="99.2" r="0.86" fill="#b0b0b0"/>
<circle cx="124.4" cy="94.2" r="0.95" fill="#d3d3d3"/>
<circle cx="118.2" cy="89.7" r="0.52" fill="#eaeaea"/>
<circle cx="123.8" cy="95.3" r="0.62" fill="#dedede"/>
<circle cx="138.8" cy="91.0" r="0.98" fill="#cecece"/>
<circle cx="162.6" cy="98.0" r="1.02" fill="#979797"/>
<circle cx="135.9" cy="91.1" r="0.75" fill="#f1f1f1"/>
<circle cx="171.1" cy="89.9" r="0.56" fill="#ebebeb"/>
<circle cx="161.8" cy="93.6" r="0.74" fill="#a6a6a6"/>
<circle cx="174.6" cy="93.6" r="0.97" fill="#d6d6d6"/>
<circle cx="115.3" cy="93.0" r="0.58" fill="#f3f3f3"/>
<circle cx="154.9" cy="90.0" r="0.55" fill="#bbbbbb"/>
<circle cx="145.5" cy="95.6" r="0.68" fill="#bbbbbb"/>
<circle cx="110.0" cy="95.6" r="0.65" fill="#989898"/>
<circle cx="144.9" cy="99.9" r="0.48" fill="#a5a5a5"/>
<circle cx="161.2" cy="92.4" r="0.61" fill="#cacaca"/>
<circle cx="129.7" cy="95.5" r="0.77" fill="#fafafa"/>
<circle cx="185.9" cy="89.9" r="0.79" fill="#e6e6e6"/>
<circle cx="176.7" cy="97.6" r="0.83" fill="#d8d8d8"/>
<circle cx="137.4" cy="92.5" r="0.93" fill="#f1f1f1"/>
<circle cx="181.8" cy="96.7" r="0.63" fill="#e6e6e6"/>
<circle cx="166.4" cy="94.8" r="0.83" fill="#bababa"/>
<circle cx="151.9" cy="93.8" r="0.49" fill="#b9b9b9"/>
<circle cx="134.4" cy="99.9" r="0.74" fill="#bcbcbc"/>
<circle cx="128.2" cy="92.0" r="0.66" fill="#a4a4a4"/>
<circle cx="110.1" cy="98.6" r="0.72" fill="#c4c4c4"/>
<circle cx="153.3" cy="92.7" r="0.55" fill="#9c9c9c"/>
<circle cx="132.7" cy="92.7" r="0.89" fill="#cfcfcf"/>
<circle cx="181.7" cy="93.1" r="1.00" fill="#d3d3d3"/>
<circle cx="115.7" cy="91.4" r="0.80" fill="#fdfdfd"/>
<circle cx="137.0" cy="97.6" r="0.71" fill="#f1f1f1"/>
<circle cx="114.7" cy="94.6" r="0.99" fill="#b2b2b2"/>
<circle cx="129.3" cy="89.7" r="0.55" fill="#b2b2b2"/>
<circle cx="163.7" cy="91.8" r="0.69" fill="#ababab"/>
<circle cx="155.9" cy="98.6" r="0.84" fill="#aaaaaa"/>
<circle cx="166.0" cy="99.6" r="0.81" fill="#9e9e9e"/>
<circle cx="171.8" cy="98.7" r="0.65" fill="#a4a4a4"/>
<circle cx="124.0" cy="95.1" r="0.98" fill="#d9d9d9"/>
<circle cx="180.6" cy="91.7" r="0.65" fill="#e4e4e4"/>
<circle cx="159.5" cy="93.8" r="0.86" fill="#b9b9b9"/>
<circle cx="113.9" cy="93.8" r="0.48" fill="#d7d7d7"/>
<circle cx="135.3" cy="94.7" r="0.81" fill="#b0b0b0"/>
<circle cx="145.2" cy="89.6" r="1.01" fill="#d1d1d1"/>
<circle cx="185.5" cy="90.1" r="0.82" fill="#e2e2e2"/>
<circle cx="134.8" cy="90.5" r="0.54" fill="#a4a4a4"/>
<circle cx="168.6" cy="90.4" r="0.94" fill="#c2c2c2"/>
<circle cx="151.0" cy="95.7" r="0.78" fill="#dbdbdb"/>
<circle cx="155.8" cy="93.0" r="0.89" fill="#b1b1b1"/>
<circle cx="164.3" cy="97.5" r="0.92" fill="#b6b6b6"/>
<circle cx="169.0" cy="99.8" r="0.72" fill="#b3b3b3"/>
<circle cx="149.8" cy="99.4" r="0.53" fill="#969696"/>
<circle cx="146.1" cy="96.4" r="0.91" fill="#bcbcbc"/>
<circle cx="185.7" cy="91.9" r="0.90" fill="#9f9f9f"/>
<circle cx="111.7" cy="90.9" r="0.49" fill="#cacaca"/>
<circle cx="152.3" cy="91.4" r="1.01" fill="#bcbcbc"/>
<circle cx="121.0" cy="91.4" r="0.89" fill="#f6f6f6"/>
<circle cx="122.0" cy="89.8" r="0.92" fill="#afafaf"/>
<circle cx="185.1" cy="94.7" r="0.83" fill="#bababa"/>
<circle cx="171.1" cy="94.3" r="0.64" fill="#f4f4f4"/>
<circle cx="117.8" cy="97.2" r="0.49" fill="#d9d9d9"/>
<circle cx="140.4" cy="98.6" r="0.49" fill="#d1d1d1"/>
<circle cx="141.1" cy="99.2" r="1.02" fill="#d7d7d7"/>
<circle cx="126.8" cy="92.1" r="0.61" fill="#c3c3c3"/>
<circle cx="127.3" cy="91.6" r="0.91" fill="#d9d9d9"/>
<circle cx="132.5" cy="99.9" r="0.58" fill="#d1d1d1"/>
<circle cx="121.6" cy="98.6" r="0.97" fill="#b2b2b2"/>
<circle cx="167.4" cy="98.1" r="0.62" fill="#b8b8b8"/>
<circle cx="146.9" cy="98.9" r="0.55" fill="#dddddd"/>
<circle cx="155.5" cy="94.3" r="0.80" fill="#f2f2f2"/>
<circle cx="125.7" cy="98.8" r="0.67" fill="#e7e7e7"/>
<circle cx="176.0" cy="91.4" r="0.97" fill="#fefefe"/>
<circle cx="132.4" cy="89.8" r="0.52" fill="#fcfcfc"/>
<circle cx="110.2" cy="99.1" r="0.54" fill="#e3e3e3"/>
<circle cx="117.0" cy="91.3" r="0.86" fill="#9f9f9f"/>
<circle cx="135.6" cy="99.1" r="0.88" fill="#f2f2f2"/>
<circle cx="184.9" cy="89.8" r="0.59" fill="#e9e9e9"/>
<circle cx="162.6" cy="89.9" r="0.75" fill="#aeaeae"/>
<circle cx="142.6" cy="90.6" r="0.46" fill="#fefefe"/>
<circle cx="133.9" cy="98.7" r="0.52" fill="#c9c9c9"/>
<circle cx="120.0" cy="94.0" r="0.56" fill="#dddddd"/>
<circle cx="120.9" cy="97.3" r="0.75" fill="#a1a1a1"/>
<circle cx="136.7" cy="94.7" r="1.00" fill="#bababa"/>
<circle cx="126.1" cy="99.7" r="0.98" fill="#e2e2e2"/>
<circle cx="130.5" cy="91.4" r="0.61" fill="#9d9d9d"/>
<circle cx="112.8" cy="94.8" r="0.69" fill="#d0d0d0"/>
<circle cx="137.4" cy="89.6" r="0.86" fill="#dadada"/>
<circle cx="151.4" cy="95.3" r="0.86" fill="#fdfdfd"/>
<circle cx="176.8" cy="97.0" r="0.69" fill="#b7b7b7"/>
<circle cx="141.8" cy="99.7" r="0.68" fill="#bebebe"/>
<circle cx="141.1" cy="91.0" r="1.05" fill="#969696"/>
<circle cx="156.3" cy="99.2" r="0.60" fill="#d6d6d6"/>
<circle cx="138.5" cy="92.0" r="0.57" fill="#a2a2a2"/>
<circle cx="174.4" cy="97.7" r="1.00" fill="#9b9b9b"/>
<circle cx="163.0" cy="92.9" r="0.84" fill="#cfcfcf"/>
<circle cx="133.8" cy="99.7" r="0.45" fill="#e4e4e4"/>
<circle cx="175.2" cy="94.9" r="0.81" fill="#fefefe"/>
<circle cx="127.6" cy="96.1" r="0.90" fill="#bdbdbd"/>
<circle cx="164.3" cy="93.6" r="0.77" fill="#d6d6d6"/>
<circle cx="161.6" cy="92.9" r="0.83" fill="#cfcfcf"/>
<circle cx="126.7" cy="95.9" r="0.61" fill="#f5f5f5"/>
<circle cx="145.9" cy="97.1" r="0.76" fill="#c8c8c8"/>
<circle cx="126.5" cy="91.0" r="1.01" fill="#cdcdcd"/>
<circle cx="149.8" cy="95.0" r="0.94" fill="#afafaf"/>
<circle cx="122.8" cy="98.1" r="0.73" fill="#d9d9d9"/>
<circle cx="173.2" cy="98.9" r="0.97" fill="#9a9a9a"/>
<circle cx="138.9" cy="98.2" r="0.94" fill="#a2a2a2"/>
<circle cx="121.3" cy="92.1" r="0.51" fill="#bbbbbb"/>
<circle cx="171.3" cy="95.0" r="0.72" fill="#9f9f9f"/>
<circle cx="140.0" cy="100.0" r="0.87" fill="#c5c5c5"/>
<circle cx="146.3" cy="97.9" r="0.91" fill="#a5a5a5"/>
<circle cx="161.9" cy="93.4" r="0.76" fill="#aeaeae"/>
<circle cx="138.0" cy="93.1" r="0.68" fill="#979797"/>
<circle cx="125.0" cy="95.5" r="0.48" fill="#a8a8a8"/>
<circle cx="164.8" cy="92.4" r="0.64" fill="#afafaf"/>
<circle cx="173.7" cy="90.5" r="0.83" fill="#f0f0f0"/>
<circle cx="125.0" cy="93.9" r="0.93" fill="#d6d6d6"/>
<circle cx="138.1" cy="90.0" r="0.72" fill="#bcbcbc"/>
<circle cx="164.4" cy="92.6" r="0.69" fill="#dadada"/>
<circle cx="171.9" cy="93.2" r="0.68" fill="#d2d2d2"/>
<circle cx="180.7" cy="91.5" r="1.03" fill="#e0e0e0"/>
<circle cx="138.2" cy="96.5" r="0.65" fill="#9d9d9d"/>
<circle cx="168.0" cy="99.4" r="0.90" fill="#dddddd"/>
<circle cx="147.7" cy="99.4" r="1.32" fill="#ebebeb"/>
<circle cx="111.0" cy="99.4" r="1.07" fill="#d9d9d9"/>
<circle cx="145.0" cy="99.4" r="1.27" fill="#d6d6d6"/>
<circle cx="145.9" cy="99.4" r="1.31" fill="#d8d8d8"/>
<circle cx="147.3" cy="99.4" r="1.01" fill="#efefef"/>
<circle cx="161.3" cy="99.4" r="1.19" fill="#d6d6d6"/>
<circle cx="112.2" cy="99.4" r="1.14" fill="#dfdfdf"/>
<circle cx="169.0" cy="99.4" r="1.22" fill="#c5c5c5"/>
<circle cx="126.2" cy="99.4" r="0.66" fill="#efefef"/>
<circle cx="116.9" cy="99.4" r="0.67" fill="#ebebeb"/>
<circle cx="153.0" cy="99.4" r="0.64" fill="#e6e6e6"/>
<circle cx="164.5" cy="99.4" r="0.99" fill="#c1c1c1"/>
<circle cx="162.9" cy="99.4" r="0.93" fill="#e1e1e1"/>
<circle cx="186.9" cy="99.4" r="1.25" fill="#f2f2f2"/>
<circle cx="120.4" cy="99.4" r="0.87" fill="#dddddd"/>
<circle cx="109.5" cy="99.4" r="1.39" fill="#cecece"/>
<circle cx="129.5" cy="99.4" r="0.85" fill="#cdcdcd"/>
<circle cx="176.0" cy="99.4" r="1.04" fill="#dcdcdc"/>
</g>
<rect x="109" y="88.45" width="78" height="0.9" fill="#b4b4b4" opacity="0.9"/>
<rect x="109" y="42" width="78" height="0.9" fill="#020202"/>
<rect x="109" y="42" width="0.7" height="58" fill="#282828" opacity="0.6"/>
</g>
<text x="112.0" y="52.0" font-size="8.5" text-anchor="start" fill="#eeeeee" textLength="21.9" lengthAdjust="spacingAndGlyphs" stroke="#eeeeee" stroke-width="0.08">t = 0h</text>
<defs><linearGradient id="g189_42" x1="0" y1="0" x2="0" y2="1"><stop offset="0" stop-color="#1e1e1e"/><stop offset="0.8" stop-color="#2a2a2a"/><stop offset="1" stop-color="#2a2a2a"/></linearGradient></defs>
<clipPath id="c3"><rect x="189.5" y="42" width="78.2" height="58"/></clipPath>
<g clip-path="url(#c3)">
<rect x="189.5" y="42" width="78.2" height="58" fill="url(#g189_42)"/>
<g filter="url(#b10)">
<circle cx="195.3" cy="80.0" r="2.4" fill="#a0a0a0" opacity="0.16"/>
<circle cx="255.1" cy="64.4" r="2.3" fill="#a0a0a0" opacity="0.09"/>
<circle cx="231.3" cy="87.1" r="2.5" fill="#a0a0a0" opacity="0.12"/>
<circle cx="234.8" cy="78.2" r="2.5" fill="#a0a0a0" opacity="0.15"/>
<circle cx="259.7" cy="84.7" r="2.9" fill="#a0a0a0" opacity="0.08"/>
<circle cx="231.1" cy="82.4" r="2.6" fill="#a0a0a0" opacity="0.13"/>
<circle cx="211.8" cy="82.2" r="3.4" fill="#a0a0a0" opacity="0.10"/>
<circle cx="251.0" cy="69.9" r="3.0" fill="#a0a0a0" opacity="0.12"/>
<circle cx="224.5" cy="54.2" r="3.6" fill="#a0a0a0" opacity="0.08"/>
<circle cx="238.9" cy="79.7" r="1.9" fill="#a0a0a0" opacity="0.16"/>
<circle cx="235.7" cy="86.8" r="2.2" fill="#a0a0a0" opacity="0.16"/>
<circle cx="250.9" cy="76.0" r="2.8" fill="#a0a0a0" opacity="0.14"/>
<circle cx="213.4" cy="71.6" r="2.2" fill="#a0a0a0" opacity="0.15"/>
<circle cx="259.6" cy="85.6" r="2.2" fill="#a0a0a0" opacity="0.08"/>
<circle cx="249.7" cy="86.4" r="3.7" fill="#a0a0a0" opacity="0.11"/>
<circle cx="210.6" cy="72.3" r="3.6" fill="#a0a0a0" opacity="0.14"/>
<circle cx="195.7" cy="85.5" r="3.2" fill="#a0a0a0" opacity="0.07"/>
<circle cx="213.3" cy="61.7" r="2.3" fill="#a0a0a0" opacity="0.13"/>
<circle cx="233.1" cy="82.3" r="2.1" fill="#a0a0a0" opacity="0.16"/>
<circle cx="253.9" cy="82.2" r="2.1" fill="#a0a0a0" opacity="0.15"/>
<circle cx="220.5" cy="54.2" r="1.9" fill="#a0a0a0" opacity="0.11"/>
<circle cx="208.1" cy="73.1" r="2.9" fill="#a0a0a0" opacity="0.08"/>
<circle cx="245.5" cy="78.8" r="2.7" fill="#a0a0a0" opacity="0.14"/>
<circle cx="253.0" cy="86.1" r="2.0" fill="#a0a0a0" opacity="0.16"/>
<circle cx="261.2" cy="54.2" r="2.9" fill="#a0a0a0" opacity="0.10"/>
<circle cx="247.2" cy="81.7" r="2.8" fill="#a0a0a0" opacity="0.16"/>
<circle cx="227.5" cy="86.5" r="3.5" fill="#a0a0a0" opacity="0.13"/>
<circle cx="198.1" cy="76.6" r="2.1" fill="#a0a0a0" opacity="0.10"/>
<circle cx="254.2" cy="55.5" r="2.3" fill="#a0a0a0" opacity="0.16"/>
<circle cx="235.9" cy="87.4" r="3.7" fill="#a0a0a0" opacity="0.10"/>
</g>
<g filter="url(#b4)">
<circle cx="235.5" cy="52.4" r="0.52" fill="#8f8f8f"/>
<circle cx="203.8" cy="80.5" r="0.80" fill="#848484"/>
<circle cx="207.3" cy="68.0" r="0.53" fill="#9f9f9f"/>
<circle cx="226.7" cy="87.1" r="0.82" fill="#a1a1a1"/>
<circle cx="191.6" cy="80.2" r="0.71" fill="#7e7e7e"/>
<circle cx="196.6" cy="74.7" r="0.73" fill="#909090"/>
<circle cx="236.1" cy="82.2" r="0.57" fill="#838383"/>
<circle cx="209.7" cy="52.4" r="0.84" fill="#b5b5b5"/>
<circle cx="197.6" cy="79.8" r="0.54" fill="#b5b5b5"/>
<circle cx="222.2" cy="86.8" r="0.71" fill="#808080"/>
<circle cx="198.5" cy="80.1" r="0.71" fill="#9b9b9b"/>
<circle cx="200.5" cy="82.4" r="0.66" fill="#868686"/>
<circle cx="203.3" cy="86.6" r="0.85" fill="#9b9b9b"/>
<circle cx="190.9" cy="59.2" r="0.88" fill="#9a9a9a"/>
<circle cx="228.3" cy="67.8" r="0.78" fill="#888888"/>
<circle cx="197.8" cy="70.1" r="0.61" fill="#7a7a7a"/>
<circle cx="224.0" cy="81.8" r="0.62" fill="#b6b6b6"/>
<circle cx="228.9" cy="87.2" r="0.59" fill="#a1a1a1"/>
<circle cx="240.2" cy="68.2" r="0.52" fill="#898989"/>
<circle cx="265.1" cy="76.3" r="0.52" fill="#a3a3a3"/>
<circle cx="249.5" cy="72.9" r="0.64" fill="#b0b0b0"/>
<circle cx="259.2" cy="80.2" r="0.50" fill="#b9b9b9"/>
<circle cx="215.3" cy="81.4" r="0.54" fill="#898989"/>
<circle cx="237.5" cy="71.0" r="0.56" fill="#909090"/>
<circle cx="200.6" cy="86.4" r="0.59" fill="#8f8f8f"/>
<circle cx="266.4" cy="52.4" r="0.82" fill="#999999"/>
<circle cx="246.3" cy="79.3" r="0.86" fill="#acacac"/>
<circle cx="200.6" cy="75.1" r="0.75" fill="#b3b3b3"/>
<circle cx="194.4" cy="68.0" r="0.79" fill="#909090"/>
<circle cx="263.5" cy="86.1" r="0.77" fill="#acacac"/>
<circle cx="250.7" cy="86.5" r="0.87" fill="#b7b7b7"/>
<circle cx="251.1" cy="70.4" r="0.82" fill="#a1a1a1"/>
<circle cx="250.4" cy="80.9" r="0.81" fill="#b4b4b4"/>
<circle cx="263.0" cy="83.7" r="0.71" fill="#bababa"/>
<circle cx="263.7" cy="86.8" r="0.81" fill="#898989"/>
<circle cx="202.8" cy="64.4" r="0.58" fill="#989898"/>
<circle cx="221.9" cy="84.8" r="0.86" fill="#a7a7a7"/>
<circle cx="214.1" cy="72.1" r="0.81" fill="#afafaf"/>
<circle cx="261.2" cy="73.3" r="0.83" fill="#949494"/>
<circle cx="235.2" cy="87.2" r="0.83" fill="#8f8f8f"/>
<circle cx="251.4" cy="76.5" r="0.82" fill="#787878"/>
<circle cx="190.9" cy="79.5" r="0.54" fill="#b0b0b0"/>
<circle cx="231.1" cy="81.2" r="0.68" fill="#8f8f8f"/>
<circle cx="211.3" cy="85.2" r="0.84" fill="#a3a3a3"/>
<circle cx="194.2" cy="83.8" r="0.61" fill="#a9a9a9"/>
<rect x="189.5" y="89.5" width="78.2" height="10.5" fill="#303030"/>
<circle cx="224.1" cy="96.4" r="0.93" fill="#7f7f7f"/>
<circle cx="242.7" cy="89.9" r="0.94" fill="#888888"/>
<circle cx="211.0" cy="99.6" r="0.67" fill="#8e8e8e"/>
<circle cx="258.7" cy="95.9" r="0.99" fill="#a7a7a7"/>
<circle cx="228.6" cy="99.5" r="0.75" fill="#fdfdfd"/>
<circle cx="204.6" cy="98.2" r="0.55" fill="#bababa"/>
<circle cx="190.0" cy="91.3" r="1.02" fill="#afafaf"/>
<circle cx="252.5" cy="92.1" r="0.66" fill="#7c7c7c"/>
<circle cx="232.7" cy="98.6" r="0.76" fill="#a4a4a4"/>
<circle cx="261.7" cy="98.9" r="0.85" fill="#797979"/>
<circle cx="238.2" cy="94.2" r="1.02" fill="#a2a2a2"/>
<circle cx="241.0" cy="96.1" r="0.68" fill="#b9b9b9"/>
<circle cx="242.2" cy="99.0" r="0.75" fill="#a2a2a2"/>
<circle cx="265.4" cy="90.1" r="0.95" fill="#d1d1d1"/>
<circle cx="233.0" cy="94.2" r="0.90" fill="#efefef"/>
<circle cx="246.3" cy="97.4" r="0.47" fill="#9d9d9d"/>
<circle cx="200.6" cy="99.5" r="0.98" fill="#828282"/>
<circle cx="235.4" cy="95.6" r="0.48" fill="#a6a6a6"/>
<circle cx="247.7" cy="96.2" r="0.62" fill="#dcdcdc"/>
<circle cx="212.5" cy="95.2" r="0.70" fill="#fbfbfb"/>
<circle cx="240.1" cy="98.0" r="0.86" fill="#a5a5a5"/>
<circle cx="264.3" cy="97.0" r="0.86" fill="#969696"/>
<circle cx="202.5" cy="95.5" r="0.95" fill="#e1e1e1"/>
<circle cx="216.8" cy="91.0" r="0.76" fill="#ededed"/>
<circle cx="202.5" cy="97.3" r="0.55" fill="#9b9b9b"/>
<circle cx="194.1" cy="92.6" r="0.68" fill="#fafafa"/>
<circle cx="264.3" cy="91.5" r="0.64" fill="#f6f6f6"/>
<circle cx="205.2" cy="92.9" r="0.71" fill="#7d7d7d"/>
<circle cx="210.1" cy="93.6" r="0.68" fill="#f9f9f9"/>
<circle cx="210.6" cy="91.6" r="1.00" fill="#afafaf"/>
<circle cx="254.6" cy="96.2" r="0.92" fill="#9b9b9b"/>
<circle cx="201.7" cy="97.4" r="0.73" fill="#bfbfbf"/>
<circle cx="241.8" cy="97.4" r="0.62" fill="#a2a2a2"/>
<circle cx="260.8" cy="95.1" r="0.62" fill="#c9c9c9"/>
<circle cx="210.1" cy="97.6" r="0.47" fill="#e5e5e5"/>
<circle cx="233.7" cy="93.2" r="1.01" fill="#949494"/>
<circle cx="208.8" cy="90.2" r="0.78" fill="#dbdbdb"/>
<circle cx="242.3" cy="93.8" r="0.93" fill="#7e7e7e"/>
<circle cx="213.7" cy="96.3" r="1.03" fill="#c9c9c9"/>
<circle cx="243.4" cy="97.6" r="0.69" fill="#f6f6f6"/>
<circle cx="247.3" cy="93.1" r="0.69" fill="#e2e2e2"/>
<circle cx="217.0" cy="91.5" r="0.97" fill="#bbbbbb"/>
<circle cx="230.2" cy="96.5" r="0.99" fill="#818181"/>
<circle cx="216.1" cy="90.2" r="0.70" fill="#b6b6b6"/>
<circle cx="255.8" cy="96.5" r="0.80" fill="#a8a8a8"/>
<circle cx="234.3" cy="92.4" r="0.96" fill="#e0e0e0"/>
<circle cx="254.7" cy="91.1" r="0.85" fill="#dbdbdb"/>
<circle cx="228.6" cy="98.9" r="0.99" fill="#d9d9d9"/>
<circle cx="253.4" cy="96.3" r="0.98" fill="#818181"/>
<circle cx="244.4" cy="96.9" r="0.82" fill="#959595"/>
<circle cx="195.2" cy="95.8" r="0.94" fill="#959595"/>
<circle cx="206.4" cy="91.9" r="0.51" fill="#d0d0d0"/>
<circle cx="265.3" cy="97.9" r="0.67" fill="#d3d3d3"/>
<circle cx="195.6" cy="98.3" r="0.65" fill="#6e6e6e"/>
<circle cx="238.6" cy="91.0" r="0.62" fill="#767676"/>
<circle cx="224.4" cy="95.3" r="0.93" fill="#737373"/>
<circle cx="253.9" cy="90.7" r="0.58" fill="#c9c9c9"/>
<circle cx="216.3" cy="93.0" r="0.79" fill="#8d8d8d"/>
<circle cx="251.3" cy="91.7" r="0.95" fill="#e3e3e3"/>
<circle cx="231.5" cy="89.8" r="0.92" fill="#727272"/>
<circle cx="229.0" cy="94.0" r="0.49" fill="#c9c9c9"/>
<circle cx="245.9" cy="95.6" r="0.69" fill="#b8b8b8"/>
<circle cx="235.5" cy="91.9" r="0.97" fill="#fefefe"/>
<circle cx="252.1" cy="99.6" r="0.65" fill="#fdfdfd"/>
<circle cx="195.5" cy="94.5" r="0.53" fill="#afafaf"/>
<circle cx="242.7" cy="96.9" r="0.72" fill="#9f9f9f"/>
<circle cx="204.7" cy="93.7" r="0.62" fill="#8a8a8a"/>
<circle cx="246.8" cy="94.9" r="0.71" fill="#8a8a8a"/>
<circle cx="244.3" cy="91.6" r="0.61" fill="#bfbfbf"/>
<circle cx="244.1" cy="99.7" r="0.90" fill="#f7f7f7"/>
<circle cx="261.0" cy="97.1" r="0.88" fill="#777777"/>
<circle cx="205.9" cy="89.6" r="0.97" fill="#d6d6d6"/>
<circle cx="238.7" cy="92.3" r="0.66" fill="#858585"/>
<circle cx="238.8" cy="99.9" r="0.63" fill="#747474"/>
<circle cx="203.5" cy="93.2" r="0.99" fill="#e2e2e2"/>
<circle cx="225.1" cy="90.6" r="0.51" fill="#848484"/>
<circle cx="250.0" cy="94.4" r="1.04" fill="#f2f2f2"/>
<circle cx="251.4" cy="94.5" r="0.94" fill="#808080"/>
<circle cx="198.4" cy="95.4" r="0.75" fill="#8c8c8c"/>
<circle cx="209.4" cy="89.7" r="1.00" fill="#d4d4d4"/>
<circle cx="263.4" cy="99.4" r="1.38" fill="#d8d8d8"/>
<circle cx="246.8" cy="99.4" r="0.91" fill="#eeeeee"/>
<circle cx="255.3" cy="99.4" r="0.71" fill="#bebebe"/>
<circle cx="206.2" cy="99.4" r="1.07" fill="#d4d4d4"/>
<circle cx="190.2" cy="99.4" r="1.26" fill="#ededed"/>
<circle cx="225.8" cy="99.4" r="0.63" fill="#f3f3f3"/>
<circle cx="231.3" cy="99.4" r="0.66" fill="#d1d1d1"/>
<circle cx="238.3" cy="99.4" r="1.31" fill="#dbdbdb"/>
<circle cx="239.5" cy="99.4" r="0.76" fill="#cccccc"/>
<circle cx="260.3" cy="99.4" r="0.91" fill="#c4c4c4"/>
<circle cx="235.7" cy="99.4" r="0.70" fill="#c9c9c9"/>
<circle cx="225.2" cy="99.4" r="1.07" fill="#e4e4e4"/>
<circle cx="244.8" cy="99.4" r="0.95" fill="#c2c2c2"/>
<circle cx="246.2" cy="99.4" r="0.64" fill="#dadada"/>
<circle cx="220.8" cy="99.4" r="1.14" fill="#e8e8e8"/>
<circle cx="208.3" cy="99.4" r="1.12" fill="#e7e7e7"/>
<circle cx="226.4" cy="99.4" r="0.71" fill="#f4f4f4"/>
<circle cx="236.3" cy="99.4" r="0.65" fill="#cccccc"/>
<circle cx="266.7" cy="99.4" r="0.78" fill="#d5d5d5"/>
</g>
<rect x="189.5" y="88.45" width="78.2" height="0.9" fill="#b4b4b4" opacity="0.9"/>
<rect x="189.5" y="42" width="78.2" height="0.9" fill="#161616"/>
<rect x="189.5" y="42" width="0.7" height="58" fill="#3c3c3c" opacity="0.6"/>
</g>
<text x="193.3" y="52.0" font-size="8.5" text-anchor="start" fill="#eeeeee" stroke="#eeeeee" stroke-width="0.08">4h</text>
<defs><linearGradient id="g270_42" x1="0" y1="0" x2="0" y2="1"><stop offset="0" stop-color="#2c2c2c"/><stop offset="0.8" stop-color="#3a3a3a"/><stop offset="1" stop-color="#3a3a3a"/></linearGradient></defs>
<clipPath id="c4"><rect x="270" y="42" width="78.2" height="58"/></clipPath>
<g clip-path="url(#c4)">
<rect x="270" y="42" width="78.2" height="58" fill="url(#g270_42)"/>
<g filter="url(#b10)">
<circle cx="333.1" cy="65.4" r="3.1" fill="#a0a0a0" opacity="0.14"/>
<circle cx="279.0" cy="87.3" r="3.8" fill="#a0a0a0" opacity="0.15"/>
<circle cx="275.6" cy="87.3" r="2.3" fill="#a0a0a0" opacity="0.16"/>
<circle cx="321.9" cy="84.3" r="3.7" fill="#a0a0a0" opacity="0.13"/>
<circle cx="291.5" cy="54.2" r="2.1" fill="#a0a0a0" opacity="0.07"/>
<circle cx="279.7" cy="67.4" r="3.7" fill="#a0a0a0" opacity="0.14"/>
<circle cx="331.9" cy="84.9" r="2.1" fill="#a0a0a0" opacity="0.12"/>
<circle cx="330.4" cy="86.3" r="3.6" fill="#a0a0a0" opacity="0.16"/>
<circle cx="335.2" cy="87.9" r="2.9" fill="#a0a0a0" opacity="0.15"/>
<circle cx="318.0" cy="77.8" r="3.0" fill="#a0a0a0" opacity="0.15"/>
<circle cx="276.0" cy="86.7" r="2.9" fill="#a0a0a0" opacity="0.10"/>
<circle cx="272.6" cy="80.6" r="3.3" fill="#a0a0a0" opacity="0.07"/>
<circle cx="332.2" cy="62.2" r="2.7" fill="#a0a0a0" opacity="0.08"/>
<circle cx="287.4" cy="72.7" r="2.7" fill="#a0a0a0" opacity="0.08"/>
<circle cx="312.5" cy="54.2" r="2.5" fill="#a0a0a0" opacity="0.08"/>
<circle cx="335.0" cy="68.9" r="3.5" fill="#a0a0a0" opacity="0.08"/>
<circle cx="294.5" cy="81.3" r="3.3" fill="#a0a0a0" opacity="0.08"/>
<circle cx="344.6" cy="74.4" r="3.3" fill="#a0a0a0" opacity="0.07"/>
<circle cx="280.4" cy="86.8" r="3.2" fill="#a0a0a0" opacity="0.13"/>
<circle cx="305.8" cy="77.3" r="2.6" fill="#a0a0a0" opacity="0.13"/>
<circle cx="340.0" cy="72.7" r="3.3" fill="#a0a0a0" opacity="0.15"/>
<circle cx="334.1" cy="54.2" r="3.2" fill="#a0a0a0" opacity="0.07"/>
<circle cx="335.1" cy="71.3" r="2.7" fill="#a0a0a0" opacity="0.16"/>
<circle cx="342.0" cy="85.0" r="2.7" fill="#a0a0a0" opacity="0.14"/>
<circle cx="294.3" cy="83.7" r="2.5" fill="#a0a0a0" opacity="0.10"/>
<circle cx="304.9" cy="86.5" r="3.8" fill="#a0a0a0" opacity="0.14"/>
<circle cx="328.6" cy="54.2" r="3.5" fill="#a0a0a0" opacity="0.17"/>
<circle cx="292.3" cy="67.6" r="2.3" fill="#a0a0a0" opacity="0.11"/>
</g>
<g filter="url(#b4)">
<circle cx="283.2" cy="88.1" r="0.85" fill="#b8b8b8"/>
<circle cx="326.0" cy="83.1" r="0.81" fill="#b6b6b6"/>
<circle cx="305.6" cy="67.5" r="0.54" fill="#b1b1b1"/>
<circle cx="313.5" cy="83.4" r="0.65" fill="#9d9d9d"/>
<circle cx="278.8" cy="52.4" r="0.71" fill="#a5a5a5"/>
<circle cx="341.3" cy="78.2" r="0.66" fill="#b7b7b7"/>
<circle cx="344.1" cy="73.0" r="0.54" fill="#868686"/>
<circle cx="338.4" cy="83.9" r="0.51" fill="#8a8a8a"/>
<circle cx="346.2" cy="71.8" r="0.57" fill="#969696"/>
<circle cx="319.0" cy="73.1" r="0.80" fill="#acacac"/>
<circle cx="285.0" cy="84.6" r="0.51" fill="#a8a8a8"/>
<circle cx="285.1" cy="85.3" r="0.89" fill="#a5a5a5"/>
<circle cx="316.0" cy="76.6" r="0.74" fill="#a8a8a8"/>
<circle cx="273.5" cy="83.6" r="0.53" fill="#797979"/>
<circle cx="277.7" cy="82.5" r="0.55" fill="#9a9a9a"/>
<circle cx="318.7" cy="52.4" r="0.61" fill="#adadad"/>
<circle cx="275.3" cy="85.8" r="0.62" fill="#949494"/>
<circle cx="298.7" cy="73.0" r="0.79" fill="#7e7e7e"/>
<circle cx="291.0" cy="52.9" r="0.83" fill="#7a7a7a"/>
<circle cx="282.9" cy="65.1" r="0.84" fill="#b0b0b0"/>
<circle cx="286.4" cy="73.8" r="0.50" fill="#858585"/>
<circle cx="278.6" cy="57.4" r="0.76" fill="#a1a1a1"/>
<circle cx="280.0" cy="74.1" r="0.56" fill="#7e7e7e"/>
<circle cx="294.0" cy="52.4" r="0.76" fill="#9f9f9f"/>
<circle cx="273.5" cy="85.1" r="0.51" fill="#b3b3b3"/>
<circle cx="343.7" cy="86.6" r="0.65" fill="#aaaaaa"/>
<circle cx="327.6" cy="86.4" r="0.60" fill="#919191"/>
<circle cx="275.9" cy="78.6" r="0.60" fill="#afafaf"/>
<circle cx="293.8" cy="84.0" r="0.81" fill="#878787"/>
<circle cx="282.4" cy="85.6" r="0.65" fill="#919191"/>
<circle cx="300.8" cy="74.9" r="0.85" fill="#7b7b7b"/>
<circle cx="332.0" cy="74.0" r="0.59" fill="#7a7a7a"/>
<circle cx="276.1" cy="80.8" r="0.68" fill="#a9a9a9"/>
<circle cx="276.3" cy="87.1" r="0.69" fill="#848484"/>
<circle cx="298.3" cy="84.9" r="0.55" fill="#7c7c7c"/>
<circle cx="300.6" cy="82.5" r="0.87" fill="#9e9e9e"/>
<circle cx="282.6" cy="87.4" r="0.80" fill="#9f9f9f"/>
<circle cx="343.6" cy="61.5" r="0.84" fill="#7f7f7f"/>
<circle cx="305.0" cy="52.4" r="0.60" fill="#838383"/>
<circle cx="282.0" cy="62.0" r="0.53" fill="#8a8a8a"/>
<rect x="270" y="89.5" width="78.2" height="10.5" fill="#3c3c3c"/>
<circle cx="341.8" cy="94.3" r="0.89" fill="#787878"/>
<circle cx="305.5" cy="92.8" r="0.57" fill="#cecece"/>
<circle cx="298.4" cy="90.8" r="1.04" fill="#b3b3b3"/>
<circle cx="284.4" cy="89.6" r="0.84" fill="#b8b8b8"/>
<circle cx="272.4" cy="94.4" r="0.89" fill="#bbbbbb"/>
<circle cx="288.6" cy="94.7" r="0.81" fill="#cccccc"/>
<circle cx="281.7" cy="97.9" r="1.02" fill="#d9d9d9"/>
<circle cx="336.7" cy="93.4" r="0.99" fill="#888888"/>
<circle cx="288.0" cy="95.8" r="0.99" fill="#797979"/>
<circle cx="287.2" cy="89.9" r="0.71" fill="#828282"/>
<circle cx="285.3" cy="97.4" r="0.80" fill="#f6f6f6"/>
<circle cx="301.5" cy="96.6" r="0.46" fill="#f7f7f7"/>
<circle cx="288.5" cy="94.5" r="0.76" fill="#f7f7f7"/>
<circle cx="308.5" cy="99.9" r="0.82" fill="#8d8d8d"/>
<circle cx="334.9" cy="91.6" r="1.05" fill="#b0b0b0"/>
<circle cx="288.0" cy="99.6" r="0.64" fill="#a9a9a9"/>
<circle cx="297.0" cy="96.5" r="0.46" fill="#a4a4a4"/>
<circle cx="283.0" cy="98.2" r="0.45" fill="#c6c6c6"/>
<circle cx="290.4" cy="94.3" r="0.79" fill="#d5d5d5"/>
<circle cx="281.1" cy="92.0" r="0.52" fill="#f9f9f9"/>
<circle cx="282.0" cy="90.9" r="0.76" fill="#c2c2c2"/>
<circle cx="338.9" cy="90.1" r="0.59" fill="#868686"/>
<circle cx="315.7" cy="94.3" r="0.70" fill="#eeeeee"/>
<circle cx="321.6" cy="98.5" r="1.02" fill="#949494"/>
<circle cx="343.2" cy="93.8" r="0.48" fill="#f2f2f2"/>
<circle cx="278.5" cy="89.7" r="0.62" fill="#979797"/>
<circle cx="345.1" cy="98.6" r="0.70" fill="#bababa"/>
<circle cx="336.0" cy="98.0" r="0.84" fill="#b8b8b8"/>
<circle cx="279.5" cy="92.1" r="0.84" fill="#c3c3c3"/>
<circle cx="332.3" cy="98.9" r="1.03" fill="#898989"/>
<circle cx="276.4" cy="98.9" r="0.79" fill="#888888"/>
<circle cx="323.9" cy="92.2" r="0.59" fill="#a3a3a3"/>
<circle cx="310.9" cy="96.6" r="0.49" fill="#d9d9d9"/>
<circle cx="318.7" cy="94.5" r="0.85" fill="#e1e1e1"/>
<circle cx="271.2" cy="94.5" r="0.86" fill="#d4d4d4"/>
<circle cx="320.5" cy="91.4" r="1.03" fill="#dfdfdf"/>
<circle cx="288.5" cy="94.0" r="1.02" fill="#8c8c8c"/>
<circle cx="302.1" cy="99.6" r="0.99" fill="#8f8f8f"/>
<circle cx="327.3" cy="93.3" r="0.85" fill="#dddddd"/>
<circle cx="280.3" cy="91.8" r="0.58" fill="#949494"/>
<circle cx="273.3" cy="90.9" r="0.69" fill="#ababab"/>
<circle cx="276.5" cy="95.6" r="1.02" fill="#c1c1c1"/>
<circle cx="298.0" cy="96.9" r="0.71" fill="#878787"/>
<circle cx="307.7" cy="89.7" r="0.86" fill="#858585"/>
<circle cx="299.0" cy="99.6" r="0.91" fill="#e7e7e7"/>
<circle cx="320.1" cy="96.2" r="0.87" fill="#fafafa"/>
<circle cx="285.7" cy="97.5" r="0.63" fill="#939393"/>
<circle cx="333.9" cy="95.8" r="0.96" fill="#ececec"/>
<circle cx="316.0" cy="91.6" r="0.46" fill="#bbbbbb"/>
<circle cx="326.5" cy="92.4" r="0.49" fill="#6e6e6e"/>
<circle cx="283.9" cy="96.8" r="0.45" fill="#8f8f8f"/>
<circle cx="291.0" cy="97.0" r="1.04" fill="#707070"/>
<circle cx="279.3" cy="99.3" r="1.03" fill="#838383"/>
<circle cx="296.4" cy="95.0" r="0.64" fill="#aaaaaa"/>
<circle cx="307.5" cy="92.2" r="0.48" fill="#7a7a7a"/>
<circle cx="283.0" cy="90.5" r="0.82" fill="#d3d3d3"/>
<circle cx="290.8" cy="97.8" r="0.89" fill="#9f9f9f"/>
<circle cx="308.5" cy="91.5" r="1.01" fill="#bfbfbf"/>
<circle cx="274.5" cy="91.1" r="0.87" fill="#a5a5a5"/>
<circle cx="325.9" cy="91.9" r="0.93" fill="#e2e2e2"/>
<circle cx="277.8" cy="95.7" r="0.56" fill="#d4d4d4"/>
<circle cx="332.6" cy="97.8" r="0.59" fill="#7b7b7b"/>
<circle cx="321.7" cy="95.4" r="0.53" fill="#898989"/>
<circle cx="315.5" cy="90.6" r="0.83" fill="#909090"/>
<circle cx="290.5" cy="93.9" r="0.77" fill="#d7d7d7"/>
<circle cx="272.9" cy="97.1" r="0.58" fill="#989898"/>
<circle cx="319.9" cy="96.8" r="0.82" fill="#f0f0f0"/>
<circle cx="286.3" cy="92.8" r="0.85" fill="#939393"/>
<circle cx="282.6" cy="91.9" r="0.91" fill="#e5e5e5"/>
<circle cx="325.8" cy="99.6" r="0.93" fill="#9a9a9a"/>
<circle cx="294.7" cy="99.4" r="1.18" fill="#c1c1c1"/>
<circle cx="317.6" cy="99.4" r="0.67" fill="#c0c0c0"/>
<circle cx="310.2" cy="99.4" r="0.72" fill="#f5f5f5"/>
<circle cx="338.6" cy="99.4" r="0.97" fill="#c9c9c9"/>
<circle cx="279.4" cy="99.4" r="1.01" fill="#dddddd"/>
<circle cx="298.4" cy="99.4" r="1.17" fill="#dddddd"/>
<circle cx="330.6" cy="99.4" r="0.68" fill="#c2c2c2"/>
<circle cx="300.3" cy="99.4" r="0.99" fill="#cdcdcd"/>
<circle cx="322.3" cy="99.4" r="0.78" fill="#d1d1d1"/>
<circle cx="307.3" cy="99.4" r="1.17" fill="#ececec"/>
<circle cx="299.1" cy="99.4" r="0.96" fill="#f5f5f5"/>
<circle cx="343.0" cy="99.4" r="1.09" fill="#c4c4c4"/>
<circle cx="305.6" cy="99.4" r="1.11" fill="#cecece"/>
<circle cx="272.9" cy="99.4" r="1.38" fill="#f4f4f4"/>
<circle cx="280.1" cy="99.4" r="0.97" fill="#e3e3e3"/>
<circle cx="293.5" cy="99.4" r="0.65" fill="#ebebeb"/>
<circle cx="330.3" cy="99.4" r="0.95" fill="#c3c3c3"/>
<circle cx="300.8" cy="99.4" r="0.68" fill="#f7f7f7"/>
<circle cx="274.0" cy="99.4" r="0.83" fill="#ececec"/>
</g>
<rect x="270" y="88.45" width="78.2" height="0.9" fill="#b4b4b4" opacity="0.9"/>
<rect x="270" y="42" width="78.2" height="0.9" fill="#242424"/>
<rect x="270" y="42" width="0.7" height="58" fill="#4a4a4a" opacity="0.6"/>
</g>
<rect x="271.5" y="43.5" width="13" height="10" fill="#000" opacity="0.22" filter="url(#b10)"/>
<text x="273.8" y="52.0" font-size="8.5" text-anchor="start" fill="#eeeeee" stroke="#eeeeee" stroke-width="0.08">8h</text>
<defs><linearGradient id="g350_42" x1="0" y1="0" x2="0" y2="1"><stop offset="0" stop-color="#3e3e3e"/><stop offset="0.8" stop-color="#484848"/><stop offset="1" stop-color="#484848"/></linearGradient></defs>
<clipPath id="c5"><rect x="350.5" y="42" width="78.2" height="58"/></clipPath>
<g clip-path="url(#c5)">
<rect x="350.5" y="42" width="78.2" height="58" fill="url(#g350_42)"/>
<g filter="url(#b10)">
<circle cx="360.4" cy="85.8" r="1.9" fill="#a0a0a0" opacity="0.09"/>
<circle cx="414.3" cy="76.9" r="2.1" fill="#a0a0a0" opacity="0.09"/>
<circle cx="384.1" cy="66.9" r="2.5" fill="#a0a0a0" opacity="0.08"/>
<circle cx="424.6" cy="83.9" r="2.0" fill="#a0a0a0" opacity="0.10"/>
<circle cx="418.7" cy="68.3" r="3.6" fill="#a0a0a0" opacity="0.12"/>
<circle cx="397.3" cy="54.2" r="2.4" fill="#a0a0a0" opacity="0.12"/>
<circle cx="407.0" cy="69.6" r="2.1" fill="#a0a0a0" opacity="0.09"/>
<circle cx="360.4" cy="54.2" r="3.4" fill="#a0a0a0" opacity="0.10"/>
<circle cx="371.4" cy="83.8" r="2.7" fill="#a0a0a0" opacity="0.17"/>
<circle cx="415.9" cy="85.6" r="2.4" fill="#a0a0a0" opacity="0.09"/>
<circle cx="377.8" cy="68.1" r="2.2" fill="#a0a0a0" opacity="0.11"/>
<circle cx="416.5" cy="62.9" r="2.9" fill="#a0a0a0" opacity="0.07"/>
<circle cx="397.5" cy="67.0" r="3.6" fill="#a0a0a0" opacity="0.17"/>
<circle cx="415.5" cy="82.2" r="3.4" fill="#a0a0a0" opacity="0.10"/>
<circle cx="380.3" cy="81.3" r="2.5" fill="#a0a0a0" opacity="0.11"/>
<circle cx="369.4" cy="86.2" r="3.6" fill="#a0a0a0" opacity="0.11"/>
<circle cx="418.3" cy="73.3" r="3.3" fill="#a0a0a0" opacity="0.09"/>
<circle cx="412.2" cy="54.2" r="3.8" fill="#a0a0a0" opacity="0.14"/>
<circle cx="412.8" cy="67.5" r="2.3" fill="#a0a0a0" opacity="0.14"/>
<circle cx="414.8" cy="81.0" r="2.1" fill="#a0a0a0" opacity="0.12"/>
<circle cx="413.4" cy="82.0" r="2.5" fill="#a0a0a0" opacity="0.15"/>
<circle cx="417.7" cy="60.6" r="2.1" fill="#a0a0a0" opacity="0.16"/>
<circle cx="402.7" cy="68.1" r="3.1" fill="#a0a0a0" opacity="0.07"/>
<circle cx="393.1" cy="58.3" r="2.7" fill="#a0a0a0" opacity="0.10"/>
</g>
<g filter="url(#b4)">
<circle cx="407.6" cy="68.3" r="0.85" fill="#868686"/>
<circle cx="364.9" cy="82.9" r="0.54" fill="#8e8e8e"/>
<circle cx="408.8" cy="88.1" r="0.59" fill="#7c7c7c"/>
<circle cx="403.9" cy="87.5" r="0.58" fill="#989898"/>
<circle cx="409.4" cy="81.6" r="0.88" fill="#8d8d8d"/>
<circle cx="417.8" cy="75.2" r="0.69" fill="#b6b6b6"/>
<circle cx="369.2" cy="71.0" r="0.85" fill="#a0a0a0"/>
<circle cx="390.7" cy="86.9" r="0.83" fill="#9c9c9c"/>
<circle cx="377.0" cy="79.7" r="0.85" fill="#a6a6a6"/>
<circle cx="372.9" cy="85.3" r="0.65" fill="#bbbbbb"/>
<circle cx="357.2" cy="72.7" r="0.87" fill="#7a7a7a"/>
<circle cx="378.2" cy="76.6" r="0.79" fill="#969696"/>
<circle cx="385.4" cy="87.1" r="0.83" fill="#afafaf"/>
<circle cx="363.1" cy="82.6" r="0.80" fill="#b0b0b0"/>
<circle cx="416.7" cy="85.1" r="0.90" fill="#969696"/>
<circle cx="401.1" cy="82.1" r="0.87" fill="#868686"/>
<circle cx="370.5" cy="83.7" r="0.79" fill="#858585"/>
<circle cx="383.6" cy="78.0" r="0.77" fill="#828282"/>
<circle cx="427.7" cy="52.4" r="0.72" fill="#afafaf"/>
<circle cx="419.2" cy="85.7" r="0.72" fill="#adadad"/>
<circle cx="372.9" cy="61.7" r="0.87" fill="#868686"/>
<circle cx="383.7" cy="88.1" r="0.86" fill="#b7b7b7"/>
<circle cx="384.4" cy="52.4" r="0.87" fill="#9f9f9f"/>
<circle cx="394.4" cy="86.4" r="0.82" fill="#959595"/>
<circle cx="365.6" cy="76.3" r="0.61" fill="#959595"/>
<circle cx="381.0" cy="78.9" r="0.54" fill="#787878"/>
<circle cx="401.8" cy="82.9" r="0.80" fill="#888888"/>
<circle cx="384.9" cy="84.5" r="0.57" fill="#a2a2a2"/>
<circle cx="361.8" cy="57.5" r="0.73" fill="#aaaaaa"/>
<circle cx="401.3" cy="70.2" r="0.78" fill="#8b8b8b"/>
<rect x="350.5" y="89.5" width="78.2" height="10.5" fill="#464646"/>
<circle cx="415.7" cy="99.2" r="0.48" fill="#f6f6f6"/>
<circle cx="385.2" cy="90.4" r="0.49" fill="#e1e1e1"/>
<circle cx="403.3" cy="91.0" r="0.73" fill="#cacaca"/>
<circle cx="428.0" cy="93.0" r="0.91" fill="#919191"/>
<circle cx="366.4" cy="91.2" r="0.70" fill="#c7c7c7"/>
<circle cx="374.4" cy="91.2" r="0.58" fill="#7a7a7a"/>
<circle cx="365.9" cy="92.8" r="0.75" fill="#888888"/>
<circle cx="388.0" cy="94.1" r="1.03" fill="#b4b4b4"/>
<circle cx="423.9" cy="94.4" r="0.57" fill="#c3c3c3"/>
<circle cx="362.2" cy="91.3" r="0.49" fill="#d3d3d3"/>
<circle cx="425.7" cy="93.7" r="0.66" fill="#ababab"/>
<circle cx="378.2" cy="96.8" r="0.69" fill="#848484"/>
<circle cx="417.7" cy="95.5" r="0.45" fill="#e9e9e9"/>
<circle cx="407.2" cy="93.2" r="0.83" fill="#f3f3f3"/>
<circle cx="382.0" cy="94.0" r="0.63" fill="#bebebe"/>
<circle cx="402.2" cy="97.2" r="1.02" fill="#838383"/>
<circle cx="379.2" cy="98.4" r="0.92" fill="#c3c3c3"/>
<circle cx="403.3" cy="93.1" r="1.02" fill="#bdbdbd"/>
<circle cx="382.1" cy="91.4" r="0.52" fill="#f0f0f0"/>
<circle cx="412.8" cy="89.8" r="0.64" fill="#b3b3b3"/>
<circle cx="389.3" cy="93.3" r="0.99" fill="#a0a0a0"/>
<circle cx="392.1" cy="99.3" r="0.83" fill="#b3b3b3"/>
<circle cx="376.7" cy="93.6" r="0.82" fill="#dfdfdf"/>
<circle cx="371.1" cy="93.4" r="0.68" fill="#a2a2a2"/>
<circle cx="421.5" cy="95.2" r="0.62" fill="#9e9e9e"/>
<circle cx="414.4" cy="91.2" r="0.86" fill="#717171"/>
<circle cx="365.9" cy="90.1" r="0.93" fill="#838383"/>
<circle cx="368.6" cy="90.1" r="0.61" fill="#d8d8d8"/>
<circle cx="406.6" cy="99.1" r="1.02" fill="#bdbdbd"/>
<circle cx="422.2" cy="90.4" r="1.01" fill="#acacac"/>
<circle cx="365.9" cy="97.4" r="0.97" fill="#a5a5a5"/>
<circle cx="358.2" cy="98.7" r="0.90" fill="#c4c4c4"/>
<circle cx="426.4" cy="89.9" r="0.48" fill="#808080"/>
<circle cx="352.7" cy="96.9" r="0.83" fill="#7e7e7e"/>
<circle cx="363.5" cy="91.4" r="0.82" fill="#cfcfcf"/>
<circle cx="425.8" cy="93.3" r="1.04" fill="#acacac"/>
<circle cx="381.2" cy="92.2" r="0.59" fill="#fbfbfb"/>
<circle cx="427.8" cy="96.9" r="0.56" fill="#888888"/>
<circle cx="362.8" cy="93.2" r="0.89" fill="#767676"/>
<circle cx="391.9" cy="96.6" r="0.47" fill="#adadad"/>
<circle cx="412.1" cy="95.5" r="0.72" fill="#ededed"/>
<circle cx="397.4" cy="93.0" r="0.69" fill="#f6f6f6"/>
<circle cx="417.3" cy="99.1" r="0.79" fill="#828282"/>
<circle cx="364.5" cy="93.5" r="0.86" fill="#6e6e6e"/>
<circle cx="412.9" cy="97.8" r="0.76" fill="#6e6e6e"/>
<circle cx="412.6" cy="93.8" r="0.85" fill="#c0c0c0"/>
<circle cx="407.2" cy="93.8" r="1.03" fill="#f8f8f8"/>
<circle cx="422.7" cy="96.0" r="0.64" fill="#a4a4a4"/>
<circle cx="371.8" cy="99.0" r="0.93" fill="#e0e0e0"/>
<circle cx="414.4" cy="99.9" r="0.86" fill="#9c9c9c"/>
<circle cx="409.5" cy="92.3" r="0.82" fill="#848484"/>
<circle cx="417.2" cy="94.6" r="0.62" fill="#f3f3f3"/>
<circle cx="357.4" cy="99.3" r="0.90" fill="#838383"/>
<circle cx="409.8" cy="95.5" r="0.99" fill="#c3c3c3"/>
<circle cx="384.0" cy="99.3" r="0.50" fill="#dedede"/>
<circle cx="358.9" cy="92.4" r="0.52" fill="#ececec"/>
<circle cx="385.1" cy="97.1" r="0.60" fill="#d7d7d7"/>
<circle cx="401.1" cy="90.5" r="0.75" fill="#d6d6d6"/>
<circle cx="367.6" cy="96.4" r="0.62" fill="#a3a3a3"/>
<circle cx="422.0" cy="99.4" r="1.05" fill="#ababab"/>
<circle cx="395.2" cy="99.4" r="1.25" fill="#ebebeb"/>
<circle cx="386.2" cy="99.4" r="1.29" fill="#d6d6d6"/>
<circle cx="424.8" cy="99.4" r="0.98" fill="#c5c5c5"/>
<circle cx="409.1" cy="99.4" r="0.72" fill="#e6e6e6"/>
<circle cx="354.7" cy="99.4" r="1.39" fill="#dedede"/>
<circle cx="408.4" cy="99.4" r="0.70" fill="#e4e4e4"/>
<circle cx="379.9" cy="99.4" r="0.80" fill="#eeeeee"/>
<circle cx="353.1" cy="99.4" r="0.98" fill="#c3c3c3"/>
<circle cx="417.1" cy="99.4" r="1.31" fill="#c0c0c0"/>
<circle cx="386.8" cy="99.4" r="0.98" fill="#e9e9e9"/>
<circle cx="407.5" cy="99.4" r="0.87" fill="#f5f5f5"/>
<circle cx="365.0" cy="99.4" r="0.71" fill="#eeeeee"/>
<circle cx="359.9" cy="99.4" r="0.75" fill="#dcdcdc"/>
<circle cx="376.8" cy="99.4" r="0.73" fill="#f5f5f5"/>
<circle cx="387.6" cy="99.4" r="1.23" fill="#cdcdcd"/>
<circle cx="421.9" cy="99.4" r="0.78" fill="#f4f4f4"/>
<circle cx="398.4" cy="99.4" r="1.38" fill="#ececec"/>
<circle cx="399.8" cy="99.4" r="1.03" fill="#f1f1f1"/>
<circle cx="385.2" cy="99.4" r="0.68" fill="#f4f4f4"/>
</g>
<rect x="350.5" y="88.45" width="78.2" height="0.9" fill="#b4b4b4" opacity="0.9"/>
<rect x="350.5" y="42" width="78.2" height="0.9" fill="#363636"/>
<rect x="350.5" y="42" width="0.7" height="58" fill="#5c5c5c" opacity="0.6"/>
</g>
<rect x="352.0" y="43.5" width="18" height="10" fill="#000" opacity="0.22" filter="url(#b10)"/>
<text x="354.3" y="52.0" font-size="8.5" text-anchor="start" fill="#eeeeee" stroke="#eeeeee" stroke-width="0.08">12h</text>
<defs><linearGradient id="g431_42" x1="0" y1="0" x2="0" y2="1"><stop offset="0" stop-color="#484848"/><stop offset="0.8" stop-color="#505050"/><stop offset="1" stop-color="#505050"/></linearGradient></defs>
<clipPath id="c6"><rect x="431" y="42" width="78.2" height="58"/></clipPath>
<g clip-path="url(#c6)">
<rect x="431" y="42" width="78.2" height="58" fill="url(#g431_42)"/>
<g filter="url(#b10)">
<circle cx="483.6" cy="64.2" r="3.3" fill="#a0a0a0" opacity="0.09"/>
<circle cx="494.1" cy="78.9" r="3.7" fill="#a0a0a0" opacity="0.16"/>
<circle cx="483.7" cy="85.4" r="2.9" fill="#a0a0a0" opacity="0.11"/>
<circle cx="443.2" cy="85.2" r="2.7" fill="#a0a0a0" opacity="0.12"/>
<circle cx="460.3" cy="83.4" r="2.9" fill="#a0a0a0" opacity="0.15"/>
<circle cx="445.0" cy="75.0" r="3.6" fill="#a0a0a0" opacity="0.11"/>
<circle cx="505.8" cy="54.2" r="2.1" fill="#a0a0a0" opacity="0.13"/>
<circle cx="461.6" cy="54.2" r="2.9" fill="#a0a0a0" opacity="0.10"/>
<circle cx="448.2" cy="87.5" r="2.0" fill="#a0a0a0" opacity="0.10"/>
<circle cx="474.8" cy="73.5" r="3.7" fill="#a0a0a0" opacity="0.14"/>
<circle cx="503.4" cy="81.4" r="3.1" fill="#a0a0a0" opacity="0.12"/>
<circle cx="482.7" cy="59.1" r="2.5" fill="#a0a0a0" opacity="0.13"/>
<circle cx="504.9" cy="82.7" r="2.3" fill="#a0a0a0" opacity="0.17"/>
<circle cx="433.7" cy="86.9" r="2.9" fill="#a0a0a0" opacity="0.09"/>
<circle cx="441.8" cy="77.6" r="3.5" fill="#a0a0a0" opacity="0.14"/>
<circle cx="501.8" cy="71.2" r="3.8" fill="#a0a0a0" opacity="0.14"/>
<circle cx="433.1" cy="69.8" r="1.9" fill="#a0a0a0" opacity="0.11"/>
<circle cx="456.2" cy="54.2" r="2.9" fill="#a0a0a0" opacity="0.07"/>
<circle cx="500.0" cy="80.1" r="3.0" fill="#a0a0a0" opacity="0.15"/>
<circle cx="448.0" cy="87.7" r="2.2" fill="#a0a0a0" opacity="0.15"/>
<circle cx="502.2" cy="86.3" r="2.3" fill="#a0a0a0" opacity="0.16"/>
<circle cx="457.0" cy="77.4" r="3.7" fill="#a0a0a0" opacity="0.11"/>
</g>
<g filter="url(#b4)">
<circle cx="434.6" cy="72.6" r="0.83" fill="#bcbcbc"/>
<circle cx="484.9" cy="86.9" r="0.61" fill="#828282"/>
<circle cx="477.5" cy="82.4" r="0.88" fill="#bdbdbd"/>
<circle cx="474.2" cy="52.4" r="0.76" fill="#838383"/>
<circle cx="468.2" cy="71.3" r="0.64" fill="#b7b7b7"/>
<circle cx="438.6" cy="84.5" r="0.56" fill="#828282"/>
<circle cx="489.7" cy="76.7" r="0.56" fill="#9b9b9b"/>
<circle cx="469.0" cy="77.1" r="0.67" fill="#9e9e9e"/>
<circle cx="434.2" cy="88.2" r="0.67" fill="#888888"/>
<circle cx="444.9" cy="69.8" r="0.83" fill="#888888"/>
<circle cx="462.2" cy="87.1" r="0.66" fill="#8f8f8f"/>
<circle cx="443.6" cy="69.3" r="0.77" fill="#b2b2b2"/>
<circle cx="464.3" cy="80.5" r="0.87" fill="#a2a2a2"/>
<circle cx="434.7" cy="85.8" r="0.53" fill="#8f8f8f"/>
<circle cx="476.4" cy="87.2" r="0.67" fill="#8d8d8d"/>
<circle cx="502.2" cy="78.9" r="0.60" fill="#828282"/>
<circle cx="450.6" cy="83.6" r="0.86" fill="#a9a9a9"/>
<circle cx="440.1" cy="81.0" r="0.52" fill="#808080"/>
<circle cx="476.3" cy="63.6" r="0.56" fill="#a3a3a3"/>
<circle cx="464.6" cy="87.6" r="0.63" fill="#7f7f7f"/>
<circle cx="482.3" cy="70.5" r="0.70" fill="#838383"/>
<circle cx="458.8" cy="73.8" r="0.76" fill="#7e7e7e"/>
<circle cx="432.1" cy="57.7" r="0.59" fill="#939393"/>
<circle cx="435.6" cy="85.5" r="0.77" fill="#bdbdbd"/>
<circle cx="446.6" cy="83.0" r="0.77" fill="#878787"/>
<circle cx="479.8" cy="81.6" r="0.67" fill="#828282"/>
<circle cx="467.5" cy="87.4" r="0.90" fill="#b8b8b8"/>
<circle cx="464.2" cy="87.0" r="0.70" fill="#858585"/>
<circle cx="463.7" cy="73.8" r="0.82" fill="#8c8c8c"/>
<circle cx="491.0" cy="52.6" r="0.69" fill="#818181"/>
<rect x="431" y="89.5" width="78.2" height="10.5" fill="#4c4c4c"/>
<circle cx="468.8" cy="90.8" r="0.86" fill="#d3d3d3"/>
<circle cx="476.1" cy="99.8" r="0.48" fill="#d5d5d5"/>
<circle cx="493.3" cy="90.7" r="0.64" fill="#757575"/>
<circle cx="476.5" cy="97.1" r="0.66" fill="#d2d2d2"/>
<circle cx="459.8" cy="97.0" r="0.62" fill="#fbfbfb"/>
<circle cx="465.3" cy="89.5" r="0.50" fill="#d7d7d7"/>
<circle cx="498.3" cy="96.2" r="0.54" fill="#ececec"/>
<circle cx="486.8" cy="90.7" r="0.68" fill="#cfcfcf"/>
<circle cx="431.8" cy="89.9" r="0.66" fill="#ececec"/>
<circle cx="508.4" cy="92.8" r="1.00" fill="#dfdfdf"/>
<circle cx="498.3" cy="95.7" r="1.03" fill="#cbcbcb"/>
<circle cx="504.7" cy="95.4" r="0.57" fill="#b9b9b9"/>
<circle cx="468.8" cy="93.0" r="0.67" fill="#b8b8b8"/>
<circle cx="476.9" cy="91.8" r="0.62" fill="#b6b6b6"/>
<circle cx="470.4" cy="93.9" r="0.85" fill="#888888"/>
<circle cx="472.6" cy="92.4" r="0.91" fill="#d4d4d4"/>
<circle cx="491.8" cy="94.9" r="0.60" fill="#f4f4f4"/>
<circle cx="470.9" cy="93.4" r="0.62" fill="#a8a8a8"/>
<circle cx="486.2" cy="98.1" r="0.74" fill="#d8d8d8"/>
<circle cx="447.9" cy="94.2" r="0.66" fill="#9a9a9a"/>
<circle cx="459.3" cy="97.4" r="0.89" fill="#8c8c8c"/>
<circle cx="449.5" cy="97.7" r="0.84" fill="#d0d0d0"/>
<circle cx="480.5" cy="96.8" r="0.61" fill="#767676"/>
<circle cx="459.3" cy="89.8" r="1.03" fill="#bababa"/>
<circle cx="483.2" cy="99.6" r="0.93" fill="#8f8f8f"/>
<circle cx="457.5" cy="90.6" r="0.93" fill="#d8d8d8"/>
<circle cx="469.1" cy="93.4" r="0.61" fill="#b4b4b4"/>
<circle cx="486.5" cy="98.9" r="0.96" fill="#ebebeb"/>
<circle cx="465.4" cy="93.9" r="0.64" fill="#fbfbfb"/>
<circle cx="445.7" cy="91.2" r="0.62" fill="#f3f3f3"/>
<circle cx="497.3" cy="93.0" r="0.96" fill="#efefef"/>
<circle cx="464.5" cy="91.5" r="0.91" fill="#a4a4a4"/>
<circle cx="440.7" cy="99.0" r="0.71" fill="#a7a7a7"/>
<circle cx="477.5" cy="92.2" r="0.46" fill="#a6a6a6"/>
<circle cx="460.8" cy="89.6" r="0.67" fill="#dcdcdc"/>
<circle cx="457.2" cy="96.6" r="0.82" fill="#898989"/>
<circle cx="433.1" cy="96.6" r="0.82" fill="#989898"/>
<circle cx="447.0" cy="98.5" r="1.00" fill="#8f8f8f"/>
<circle cx="476.7" cy="95.5" r="0.64" fill="#737373"/>
<circle cx="456.6" cy="96.3" r="0.81" fill="#b7b7b7"/>
<circle cx="440.9" cy="91.7" r="0.64" fill="#aaaaaa"/>
<circle cx="459.5" cy="99.0" r="0.52" fill="#fdfdfd"/>
<circle cx="450.1" cy="98.5" r="0.60" fill="#c3c3c3"/>
<circle cx="460.6" cy="89.9" r="0.93" fill="#e3e3e3"/>
<circle cx="452.3" cy="97.6" r="0.74" fill="#fdfdfd"/>
<circle cx="435.7" cy="93.5" r="0.59" fill="#c8c8c8"/>
<circle cx="491.6" cy="98.3" r="0.78" fill="#a6a6a6"/>
<circle cx="493.2" cy="90.6" r="0.61" fill="#dbdbdb"/>
<circle cx="465.5" cy="99.9" r="0.50" fill="#b0b0b0"/>
<circle cx="447.9" cy="89.5" r="0.51" fill="#7b7b7b"/>
<circle cx="460.0" cy="94.0" r="0.75" fill="#979797"/>
<circle cx="485.7" cy="94.9" r="1.04" fill="#868686"/>
<circle cx="470.9" cy="94.7" r="0.67" fill="#eaeaea"/>
<circle cx="447.7" cy="98.7" r="0.66" fill="#9e9e9e"/>
<circle cx="479.0" cy="95.4" r="0.62" fill="#7a7a7a"/>
<circle cx="505.2" cy="93.4" r="0.52" fill="#cdcdcd"/>
<circle cx="472.6" cy="92.9" r="0.65" fill="#e8e8e8"/>
<circle cx="457.6" cy="93.9" r="1.02" fill="#a2a2a2"/>
<circle cx="462.5" cy="91.2" r="0.85" fill="#cecece"/>
<circle cx="466.0" cy="93.8" r="0.59" fill="#e0e0e0"/>
<circle cx="466.8" cy="99.4" r="1.27" fill="#d4d4d4"/>
<circle cx="488.4" cy="99.4" r="0.62" fill="#cbcbcb"/>
<circle cx="506.1" cy="99.4" r="1.15" fill="#e6e6e6"/>
<circle cx="469.9" cy="99.4" r="0.98" fill="#c9c9c9"/>
<circle cx="444.5" cy="99.4" r="1.12" fill="#e7e7e7"/>
<circle cx="451.2" cy="99.4" r="1.12" fill="#c6c6c6"/>
<circle cx="478.9" cy="99.4" r="0.74" fill="#dcdcdc"/>
<circle cx="455.6" cy="99.4" r="1.04" fill="#c6c6c6"/>
<circle cx="468.8" cy="99.4" r="1.09" fill="#c6c6c6"/>
<circle cx="455.1" cy="99.4" r="1.14" fill="#dedede"/>
<circle cx="479.2" cy="99.4" r="1.22" fill="#e0e0e0"/>
<circle cx="448.4" cy="99.4" r="0.95" fill="#efefef"/>
<circle cx="475.3" cy="99.4" r="1.20" fill="#d3d3d3"/>
<circle cx="466.1" cy="99.4" r="1.38" fill="#efefef"/>
<circle cx="482.1" cy="99.4" r="0.69" fill="#e2e2e2"/>
<circle cx="433.6" cy="99.4" r="1.35" fill="#f8f8f8"/>
<circle cx="487.9" cy="99.4" r="0.81" fill="#f0f0f0"/>
<circle cx="444.9" cy="99.4" r="1.26" fill="#dddddd"/>
<circle cx="432.2" cy="99.4" r="1.31" fill="#d8d8d8"/>
</g>
<rect x="431" y="88.45" width="78.2" height="0.9" fill="#b4b4b4" opacity="0.9"/>
<rect x="431" y="42" width="78.2" height="0.9" fill="#404040"/>
<rect x="431" y="42" width="0.7" height="58" fill="#666666" opacity="0.6"/>
</g>
<rect x="432.5" y="43.5" width="18" height="10" fill="#000" opacity="0.22" filter="url(#b10)"/>
<text x="434.8" y="52.0" font-size="8.5" text-anchor="start" fill="#eeeeee" stroke="#eeeeee" stroke-width="0.08">16h</text>
<clipPath id="c7"><rect x="30.5" y="114" width="78.5" height="58.5"/></clipPath>
<g clip-path="url(#c7)">
<rect x="30.5" y="114" width="78.5" height="58.5" fill="#767676"/>
<g filter="url(#b5)">
<circle cx="95.7" cy="154.3" r="1.2" fill="#6e6e6e" opacity="0.6"/>
<circle cx="101.0" cy="133.8" r="0.5" fill="#808080" opacity="0.6"/>
<circle cx="101.9" cy="115.3" r="1.4" fill="#6e6e6e" opacity="0.6"/>
<circle cx="53.5" cy="130.3" r="1.7" fill="#646464" opacity="0.6"/>
<circle cx="108.2" cy="139.8" r="1.5" fill="#828282" opacity="0.6"/>
<circle cx="30.9" cy="117.4" r="0.9" fill="#7c7c7c" opacity="0.6"/>
<circle cx="103.1" cy="146.3" r="1.3" fill="#6b6b6b" opacity="0.6"/>
<circle cx="73.1" cy="136.0" r="1.5" fill="#636363" opacity="0.6"/>
<circle cx="47.8" cy="129.8" r="1.7" fill="#6f6f6f" opacity="0.6"/>
<circle cx="54.5" cy="116.7" r="0.6" fill="#888888" opacity="0.6"/>
<circle cx="59.4" cy="143.8" r="1.2" fill="#686868" opacity="0.6"/>
<circle cx="90.6" cy="160.6" r="1.4" fill="#7d7d7d" opacity="0.6"/>
<circle cx="57.8" cy="156.8" r="1.4" fill="#7d7d7d" opacity="0.6"/>
<circle cx="90.5" cy="138.9" r="0.7" fill="#656565" opacity="0.6"/>
<circle cx="46.0" cy="156.3" r="1.0" fill="#6d6d6d" opacity="0.6"/>
<circle cx="57.9" cy="121.1" r="0.9" fill="#6c6c6c" opacity="0.6"/>
<circle cx="93.9" cy="165.0" r="0.9" fill="#696969" opacity="0.6"/>
<circle cx="77.7" cy="150.6" r="0.7" fill="#6c6c6c" opacity="0.6"/>
<circle cx="98.2" cy="160.0" r="1.4" fill="#818181" opacity="0.6"/>
<circle cx="83.4" cy="169.7" r="0.7" fill="#6e6e6e" opacity="0.6"/>
<circle cx="44.0" cy="166.5" r="0.9" fill="#808080" opacity="0.6"/>
<circle cx="42.2" cy="124.7" r="1.3" fill="#6e6e6e" opacity="0.6"/>
<circle cx="76.5" cy="125.3" r="1.3" fill="#868686" opacity="0.6"/>
<circle cx="31.8" cy="168.4" r="0.8" fill="#646464" opacity="0.6"/>
<circle cx="81.2" cy="120.0" r="1.1" fill="#838383" opacity="0.6"/>
<circle cx="77.2" cy="169.0" r="0.7" fill="#808080" opacity="0.6"/>
<circle cx="68.2" cy="117.8" r="1.3" fill="#7d7d7d" opacity="0.6"/>
<circle cx="73.7" cy="156.9" r="0.6" fill="#6e6e6e" opacity="0.6"/>
<circle cx="46.7" cy="129.0" r="1.6" fill="#818181" opacity="0.6"/>
<circle cx="50.2" cy="131.6" r="1.1" fill="#7e7e7e" opacity="0.6"/>
<circle cx="99.5" cy="138.2" r="1.5" fill="#6f6f6f" opacity="0.6"/>
<circle cx="89.4" cy="140.5" r="1.1" fill="#636363" opacity="0.6"/>
<circle cx="46.9" cy="116.1" r="1.5" fill="#848484" opacity="0.6"/>
<circle cx="72.4" cy="127.1" r="1.0" fill="#848484" opacity="0.6"/>
<circle cx="76.4" cy="145.1" r="1.5" fill="#7d7d7d" opacity="0.6"/>
<circle cx="62.4" cy="166.1" r="1.0" fill="#696969" opacity="0.6"/>
<circle cx="66.7" cy="147.6" r="0.8" fill="#6f6f6f" opacity="0.6"/>
<circle cx="59.5" cy="165.5" r="1.8" fill="#6d6d6d" opacity="0.6"/>
<circle cx="68.8" cy="123.2" r="0.8" fill="#646464" opacity="0.6"/>
<circle cx="64.6" cy="151.2" r="1.7" fill="#686868" opacity="0.6"/>
<circle cx="82.1" cy="152.5" r="0.5" fill="#858585" opacity="0.6"/>
<circle cx="71.3" cy="127.5" r="0.6" fill="#676767" opacity="0.6"/>
<circle cx="53.0" cy="160.3" r="0.9" fill="#6f6f6f" opacity="0.6"/>
<circle cx="87.9" cy="118.0" r="1.7" fill="#666666" opacity="0.6"/>
<circle cx="102.5" cy="155.2" r="1.3" fill="#878787" opacity="0.6"/>
<circle cx="39.7" cy="141.1" r="1.1" fill="#808080" opacity="0.6"/>
<circle cx="64.7" cy="127.3" r="1.8" fill="#818181" opacity="0.6"/>
<circle cx="86.4" cy="136.2" r="1.2" fill="#868686" opacity="0.6"/>
<circle cx="76.5" cy="152.1" r="0.8" fill="#6e6e6e" opacity="0.6"/>
<circle cx="61.1" cy="149.7" r="1.0" fill="#6b6b6b" opacity="0.6"/>
<circle cx="104.2" cy="166.5" r="0.8" fill="#6b6b6b" opacity="0.6"/>
<circle cx="33.2" cy="140.0" r="1.7" fill="#878787" opacity="0.6"/>
<circle cx="65.0" cy="158.6" r="0.6" fill="#6b6b6b" opacity="0.6"/>
<circle cx="70.2" cy="161.8" r="1.6" fill="#7c7c7c" opacity="0.6"/>
<circle cx="67.7" cy="114.9" r="0.7" fill="#686868" opacity="0.6"/>
<circle cx="94.5" cy="146.3" r="1.3" fill="#6f6f6f" opacity="0.6"/>
<circle cx="95.0" cy="138.4" r="0.8" fill="#6c6c6c" opacity="0.6"/>
<circle cx="106.2" cy="147.0" r="1.8" fill="#7f7f7f" opacity="0.6"/>
<circle cx="35.1" cy="120.5" r="1.1" fill="#686868" opacity="0.6"/>
<circle cx="87.1" cy="130.3" r="1.1" fill="#686868" opacity="0.6"/>
<circle cx="32.2" cy="140.7" r="0.9" fill="#838383" opacity="0.6"/>
<circle cx="70.5" cy="119.5" r="1.2" fill="#7e7e7e" opacity="0.6"/>
<circle cx="39.5" cy="143.8" r="1.2" fill="#808080" opacity="0.6"/>
<circle cx="62.9" cy="166.2" r="0.9" fill="#636363" opacity="0.6"/>
<circle cx="104.5" cy="129.0" r="1.6" fill="#6f6f6f" opacity="0.6"/>
<circle cx="73.5" cy="121.5" r="1.6" fill="#6f6f6f" opacity="0.6"/>
<circle cx="98.3" cy="124.3" r="0.8" fill="#6b6b6b" opacity="0.6"/>
<circle cx="44.2" cy="152.1" r="0.9" fill="#6e6e6e" opacity="0.6"/>
<circle cx="80.9" cy="144.9" r="1.0" fill="#636363" opacity="0.6"/>
<circle cx="61.3" cy="154.1" r="0.8" fill="#808080" opacity="0.6"/>
<circle cx="75.2" cy="144.2" r="0.7" fill="#636363" opacity="0.6"/>
<circle cx="91.5" cy="172.1" r="1.1" fill="#6d6d6d" opacity="0.6"/>
<circle cx="88.8" cy="155.8" r="1.7" fill="#878787" opacity="0.6"/>
<circle cx="51.5" cy="160.1" r="1.1" fill="#838383" opacity="0.6"/>
<circle cx="107.7" cy="166.1" r="0.7" fill="#6e6e6e" opacity="0.6"/>
<circle cx="42.7" cy="147.2" r="0.8" fill="#878787" opacity="0.6"/>
<circle cx="71.7" cy="122.4" r="1.2" fill="#888888" opacity="0.6"/>
<circle cx="53.2" cy="118.8" r="0.8" fill="#636363" opacity="0.6"/>
<circle cx="47.8" cy="141.3" r="1.1" fill="#868686" opacity="0.6"/>
<circle cx="37.9" cy="169.3" r="1.0" fill="#707070" opacity="0.6"/>
<circle cx="38.3" cy="155.5" r="1.3" fill="#6d6d6d" opacity="0.6"/>
<circle cx="53.0" cy="170.8" r="1.0" fill="#646464" opacity="0.6"/>
<circle cx="40.3" cy="163.6" r="0.5" fill="#828282" opacity="0.6"/>
<circle cx="94.3" cy="123.0" r="1.2" fill="#7f7f7f" opacity="0.6"/>
<circle cx="43.1" cy="119.3" r="1.8" fill="#838383" opacity="0.6"/>
<circle cx="102.9" cy="161.5" r="1.2" fill="#7b7b7b" opacity="0.6"/>
<circle cx="69.8" cy="143.7" r="0.5" fill="#848484" opacity="0.6"/>
<circle cx="103.6" cy="151.8" r="1.4" fill="#858585" opacity="0.6"/>
<circle cx="65.5" cy="141.0" r="1.5" fill="#878787" opacity="0.6"/>
<circle cx="84.6" cy="124.3" r="0.6" fill="#6e6e6e" opacity="0.6"/>
<circle cx="46.9" cy="153.0" r="0.7" fill="#888888" opacity="0.6"/>
<circle cx="65.5" cy="160.4" r="1.3" fill="#656565" opacity="0.6"/>
<circle cx="35.0" cy="140.1" r="0.6" fill="#707070" opacity="0.6"/>
<circle cx="68.2" cy="138.1" r="1.7" fill="#7e7e7e" opacity="0.6"/>
<circle cx="41.4" cy="116.9" r="1.0" fill="#7f7f7f" opacity="0.6"/>
<circle cx="69.1" cy="137.1" r="1.3" fill="#6c6c6c" opacity="0.6"/>
<circle cx="78.1" cy="172.3" r="0.8" fill="#888888" opacity="0.6"/>
<circle cx="32.6" cy="163.3" r="1.6" fill="#848484" opacity="0.6"/>
<circle cx="106.3" cy="163.0" r="1.3" fill="#7b7b7b" opacity="0.6"/>
<circle cx="60.6" cy="129.3" r="1.3" fill="#6a6a6a" opacity="0.6"/>
<circle cx="71.9" cy="120.1" r="0.6" fill="#6a6a6a" opacity="0.6"/>
<circle cx="64.4" cy="143.5" r="0.5" fill="#878787" opacity="0.6"/>
<circle cx="107.9" cy="158.4" r="0.6" fill="#848484" opacity="0.6"/>
<circle cx="52.2" cy="167.8" r="1.6" fill="#6c6c6c" opacity="0.6"/>
<circle cx="67.3" cy="120.1" r="1.3" fill="#6c6c6c" opacity="0.6"/>
<circle cx="73.1" cy="168.3" r="1.2" fill="#6a6a6a" opacity="0.6"/>
<circle cx="99.8" cy="151.1" r="1.3" fill="#686868" opacity="0.6"/>
<circle cx="68.0" cy="151.1" r="1.2" fill="#888888" opacity="0.6"/>
<circle cx="31.6" cy="132.7" r="1.6" fill="#666666" opacity="0.6"/>
<circle cx="49.7" cy="167.3" r="0.7" fill="#7e7e7e" opacity="0.6"/>
<circle cx="60.4" cy="127.2" r="1.4" fill="#838383" opacity="0.6"/>
<circle cx="41.6" cy="161.1" r="1.6" fill="#6d6d6d" opacity="0.6"/>
<circle cx="71.0" cy="136.6" r="0.9" fill="#7d7d7d" opacity="0.6"/>
<circle cx="74.3" cy="159.3" r="1.7" fill="#696969" opacity="0.6"/>
<circle cx="93.0" cy="117.1" r="0.7" fill="#6b6b6b" opacity="0.6"/>
<circle cx="73.5" cy="168.3" r="0.6" fill="#7b7b7b" opacity="0.6"/>
<circle cx="60.3" cy="168.4" r="1.2" fill="#686868" opacity="0.6"/>
<circle cx="40.1" cy="160.9" r="1.2" fill="#6a6a6a" opacity="0.6"/>
<circle cx="96.2" cy="121.1" r="1.7" fill="#656565" opacity="0.6"/>
<circle cx="48.5" cy="114.1" r="1.6" fill="#7c7c7c" opacity="0.6"/>
<circle cx="90.7" cy="159.2" r="1.3" fill="#888888" opacity="0.6"/>
<circle cx="40.7" cy="124.8" r="1.4" fill="#848484" opacity="0.6"/>
<circle cx="97.1" cy="147.2" r="0.9" fill="#838383" opacity="0.6"/>
<circle cx="44.9" cy="150.0" r="1.0" fill="#6d6d6d" opacity="0.6"/>
<circle cx="85.2" cy="153.4" r="0.7" fill="#858585" opacity="0.6"/>
<circle cx="54.5" cy="119.7" r="0.9" fill="#868686" opacity="0.6"/>
<circle cx="72.9" cy="139.9" r="0.6" fill="#878787" opacity="0.6"/>
<circle cx="43.2" cy="118.3" r="1.5" fill="#646464" opacity="0.6"/>
<circle cx="62.0" cy="121.4" r="1.1" fill="#646464" opacity="0.6"/>
<circle cx="62.6" cy="140.3" r="0.5" fill="#7d7d7d" opacity="0.6"/>
<circle cx="76.6" cy="139.5" r="1.0" fill="#828282" opacity="0.6"/>
<circle cx="85.4" cy="121.4" r="1.0" fill="#808080" opacity="0.6"/>
<circle cx="53.4" cy="120.9" r="1.1" fill="#7e7e7e" opacity="0.6"/>
<circle cx="98.3" cy="151.4" r="1.1" fill="#838383" opacity="0.6"/>
<circle cx="37.5" cy="120.9" r="0.6" fill="#878787" opacity="0.6"/>
<circle cx="50.6" cy="129.1" r="0.6" fill="#696969" opacity="0.6"/>
<circle cx="45.5" cy="114.4" r="1.6" fill="#808080" opacity="0.6"/>
<circle cx="40.2" cy="151.2" r="1.5" fill="#848484" opacity="0.6"/>
<circle cx="54.7" cy="144.1" r="0.9" fill="#868686" opacity="0.6"/>
<circle cx="53.1" cy="165.0" r="1.5" fill="#838383" opacity="0.6"/>
<circle cx="79.3" cy="124.1" r="0.8" fill="#6b6b6b" opacity="0.6"/>
<circle cx="108.3" cy="115.5" r="1.6" fill="#808080" opacity="0.6"/>
<circle cx="95.6" cy="126.5" r="1.5" fill="#888888" opacity="0.6"/>
<circle cx="87.7" cy="154.8" r="1.4" fill="#6f6f6f" opacity="0.6"/>
<circle cx="107.3" cy="126.9" r="1.0" fill="#808080" opacity="0.6"/>
<circle cx="82.5" cy="154.1" r="1.1" fill="#808080" opacity="0.6"/>
<circle cx="38.9" cy="118.0" r="1.2" fill="#858585" opacity="0.6"/>
<circle cx="104.0" cy="152.7" r="1.2" fill="#6d6d6d" opacity="0.6"/>
<circle cx="79.7" cy="143.7" r="1.8" fill="#7e7e7e" opacity="0.6"/>
<circle cx="55.3" cy="142.9" r="1.1" fill="#828282" opacity="0.6"/>
<circle cx="46.7" cy="117.1" r="0.7" fill="#7f7f7f" opacity="0.6"/>
<circle cx="36.7" cy="126.6" r="1.1" fill="#818181" opacity="0.6"/>
<circle cx="72.7" cy="145.2" r="0.6" fill="#6e6e6e" opacity="0.6"/>
<circle cx="46.8" cy="119.4" r="0.7" fill="#808080" opacity="0.6"/>
<circle cx="41.6" cy="133.0" r="1.1" fill="#707070" opacity="0.6"/>
<circle cx="68.7" cy="116.0" r="1.5" fill="#808080" opacity="0.6"/>
<circle cx="107.8" cy="129.6" r="1.1" fill="#656565" opacity="0.6"/>
<circle cx="66.1" cy="155.9" r="1.0" fill="#686868" opacity="0.6"/>
<circle cx="81.8" cy="137.0" r="1.2" fill="#6c6c6c" opacity="0.6"/>
<circle cx="59.0" cy="130.0" r="0.8" fill="#696969" opacity="0.6"/>
<circle cx="60.6" cy="150.2" r="0.9" fill="#6a6a6a" opacity="0.6"/>
<circle cx="98.7" cy="159.8" r="1.4" fill="#818181" opacity="0.6"/>
<circle cx="75.5" cy="126.9" r="0.8" fill="#828282" opacity="0.6"/>
<circle cx="68.0" cy="134.8" r="1.4" fill="#7c7c7c" opacity="0.6"/>
<circle cx="98.4" cy="147.7" r="1.5" fill="#838383" opacity="0.6"/>
<circle cx="81.3" cy="143.1" r="1.1" fill="#6a6a6a" opacity="0.6"/>
<circle cx="33.4" cy="159.1" r="0.8" fill="#858585" opacity="0.6"/>
<circle cx="85.1" cy="131.1" r="1.4" fill="#686868" opacity="0.6"/>
<circle cx="65.3" cy="156.9" r="1.4" fill="#6d6d6d" opacity="0.6"/>
<circle cx="69.1" cy="124.8" r="1.7" fill="#808080" opacity="0.6"/>
<circle cx="32.3" cy="131.4" r="1.7" fill="#686868" opacity="0.6"/>
<circle cx="44.1" cy="156.8" r="0.7" fill="#636363" opacity="0.6"/>
<circle cx="54.3" cy="158.5" r="1.0" fill="#888888" opacity="0.6"/>
<circle cx="52.7" cy="157.9" r="1.4" fill="#7e7e7e" opacity="0.6"/>
<circle cx="105.0" cy="170.0" r="0.5" fill="#7e7e7e" opacity="0.6"/>
<circle cx="91.7" cy="160.7" r="0.8" fill="#7b7b7b" opacity="0.6"/>
<circle cx="96.1" cy="132.1" r="0.5" fill="#7c7c7c" opacity="0.6"/>
<circle cx="59.2" cy="151.3" r="0.9" fill="#6b6b6b" opacity="0.6"/>
<circle cx="37.3" cy="168.1" r="1.1" fill="#828282" opacity="0.6"/>
<circle cx="91.3" cy="156.4" r="0.9" fill="#828282" opacity="0.6"/>
<circle cx="67.8" cy="133.3" r="0.7" fill="#838383" opacity="0.6"/>
<circle cx="38.2" cy="168.1" r="1.7" fill="#6e6e6e" opacity="0.6"/>
<circle cx="71.6" cy="121.6" r="1.4" fill="#7f7f7f" opacity="0.6"/>
<circle cx="69.6" cy="152.9" r="0.8" fill="#6b6b6b" opacity="0.6"/>
<circle cx="107.6" cy="125.0" r="1.4" fill="#6f6f6f" opacity="0.6"/>
<circle cx="57.9" cy="142.4" r="1.2" fill="#636363" opacity="0.6"/>
<circle cx="80.1" cy="144.2" r="0.7" fill="#7c7c7c" opacity="0.6"/>
<circle cx="47.6" cy="158.7" r="1.1" fill="#7f7f7f" opacity="0.6"/>
<circle cx="61.7" cy="170.0" r="0.9" fill="#878787" opacity="0.6"/>
<circle cx="46.2" cy="145.9" r="1.7" fill="#676767" opacity="0.6"/>
<circle cx="66.6" cy="170.5" r="0.8" fill="#6c6c6c" opacity="0.6"/>
<circle cx="42.2" cy="125.1" r="1.2" fill="#808080" opacity="0.6"/>
<circle cx="36.6" cy="120.1" r="1.2" fill="#888888" opacity="0.6"/>
<circle cx="60.7" cy="161.0" r="1.1" fill="#7f7f7f" opacity="0.6"/>
<circle cx="73.3" cy="115.5" r="1.1" fill="#6e6e6e" opacity="0.6"/>
<circle cx="57.5" cy="148.0" r="0.7" fill="#636363" opacity="0.6"/>
<circle cx="37.0" cy="155.2" r="1.4" fill="#707070" opacity="0.6"/>
<circle cx="103.0" cy="139.7" r="1.3" fill="#7e7e7e" opacity="0.6"/>
<circle cx="32.8" cy="168.0" r="0.9" fill="#6d6d6d" opacity="0.6"/>
<circle cx="66.7" cy="126.1" r="1.6" fill="#6e6e6e" opacity="0.6"/>
<circle cx="101.0" cy="152.9" r="1.3" fill="#6a6a6a" opacity="0.6"/>
<circle cx="58.9" cy="166.5" r="1.1" fill="#696969" opacity="0.6"/>
<circle cx="107.9" cy="143.2" r="1.3" fill="#6b6b6b" opacity="0.6"/>
<circle cx="41.2" cy="159.1" r="0.7" fill="#868686" opacity="0.6"/>
<circle cx="40.8" cy="165.3" r="1.0" fill="#7c7c7c" opacity="0.6"/>
<circle cx="39.5" cy="168.3" r="1.0" fill="#646464" opacity="0.6"/>
<circle cx="70.6" cy="144.0" r="1.8" fill="#6f6f6f" opacity="0.6"/>
<circle cx="37.7" cy="127.5" r="0.8" fill="#6b6b6b" opacity="0.6"/>
<circle cx="33.2" cy="167.9" r="1.1" fill="#666666" opacity="0.6"/>
<circle cx="54.2" cy="156.7" r="0.8" fill="#858585" opacity="0.6"/>
<circle cx="43.7" cy="134.1" r="1.6" fill="#888888" opacity="0.6"/>
<circle cx="39.8" cy="126.3" r="0.6" fill="#848484" opacity="0.6"/>
<circle cx="91.7" cy="144.2" r="1.2" fill="#676767" opacity="0.6"/>
<circle cx="76.7" cy="142.9" r="1.5" fill="#6f6f6f" opacity="0.6"/>
<circle cx="63.9" cy="138.6" r="1.1" fill="#828282" opacity="0.6"/>
<circle cx="42.1" cy="129.3" r="0.9" fill="#6a6a6a" opacity="0.6"/>
<circle cx="55.9" cy="120.7" r="1.1" fill="#686868" opacity="0.6"/>
<circle cx="59.3" cy="128.0" r="0.5" fill="#636363" opacity="0.6"/>
<circle cx="52.9" cy="141.2" r="0.9" fill="#646464" opacity="0.6"/>
<circle cx="49.0" cy="153.2" r="1.1" fill="#818181" opacity="0.6"/>
<circle cx="39.7" cy="124.9" r="1.6" fill="#7c7c7c" opacity="0.6"/>
<circle cx="77.1" cy="171.6" r="1.4" fill="#878787" opacity="0.6"/>
<circle cx="106.5" cy="138.8" r="0.8" fill="#848484" opacity="0.6"/>
<circle cx="67.7" cy="166.2" r="1.7" fill="#6f6f6f" opacity="0.6"/>
<circle cx="76.7" cy="138.6" r="0.8" fill="#686868" opacity="0.6"/>
<circle cx="65.0" cy="126.7" r="1.7" fill="#6a6a6a" opacity="0.6"/>
<circle cx="94.4" cy="124.6" r="1.4" fill="#888888" opacity="0.6"/>
<circle cx="87.5" cy="117.8" r="1.6" fill="#6f6f6f" opacity="0.6"/>
<circle cx="62.7" cy="150.5" r="1.3" fill="#868686" opacity="0.6"/>
<circle cx="65.7" cy="132.8" r="0.8" fill="#828282" opacity="0.6"/>
<circle cx="42.2" cy="171.3" r="0.8" fill="#818181" opacity="0.6"/>
<circle cx="87.5" cy="131.2" r="1.4" fill="#646464" opacity="0.6"/>
<circle cx="43.5" cy="125.3" r="0.7" fill="#666666" opacity="0.6"/>
<circle cx="44.1" cy="161.9" r="0.9" fill="#888888" opacity="0.6"/>
<circle cx="42.6" cy="135.4" r="0.6" fill="#7d7d7d" opacity="0.6"/>
<circle cx="102.4" cy="133.5" r="0.8" fill="#868686" opacity="0.6"/>
<circle cx="40.6" cy="167.4" r="1.8" fill="#828282" opacity="0.6"/>
<circle cx="77.4" cy="122.0" r="1.3" fill="#7b7b7b" opacity="0.6"/>
<circle cx="86.3" cy="139.3" r="0.6" fill="#7c7c7c" opacity="0.6"/>
<circle cx="39.1" cy="131.4" r="1.1" fill="#636363" opacity="0.6"/>
<circle cx="95.2" cy="160.1" r="1.4" fill="#676767" opacity="0.6"/>
<circle cx="100.0" cy="152.3" r="0.6" fill="#707070" opacity="0.6"/>
<circle cx="75.0" cy="164.6" r="0.6" fill="#7d7d7d" opacity="0.6"/>
<circle cx="68.9" cy="145.8" r="1.5" fill="#7b7b7b" opacity="0.6"/>
<circle cx="107.6" cy="129.0" r="1.6" fill="#6b6b6b" opacity="0.6"/>
<circle cx="91.7" cy="159.8" r="1.2" fill="#666666" opacity="0.6"/>
<circle cx="105.2" cy="163.9" r="1.3" fill="#7e7e7e" opacity="0.6"/>
<circle cx="51.9" cy="119.1" r="1.8" fill="#6f6f6f" opacity="0.6"/>
<circle cx="60.5" cy="147.6" r="1.4" fill="#888888" opacity="0.6"/>
<circle cx="49.9" cy="123.6" r="1.3" fill="#7d7d7d" opacity="0.6"/>
<circle cx="99.1" cy="120.5" r="0.7" fill="#6b6b6b" opacity="0.6"/>
<circle cx="70.9" cy="121.9" r="1.7" fill="#878787" opacity="0.6"/>
<circle cx="67.3" cy="116.5" r="1.6" fill="#676767" opacity="0.6"/>
<circle cx="96.2" cy="115.5" r="0.6" fill="#6f6f6f" opacity="0.6"/>
<circle cx="53.6" cy="163.8" r="1.4" fill="#696969" opacity="0.6"/>
<circle cx="42.9" cy="166.2" r="1.3" fill="#7f7f7f" opacity="0.6"/>
<circle cx="41.0" cy="123.6" r="1.0" fill="#6c6c6c" opacity="0.6"/>
<circle cx="41.1" cy="133.0" r="0.8" fill="#868686" opacity="0.6"/>
<circle cx="37.4" cy="133.3" r="1.7" fill="#666666" opacity="0.6"/>
<circle cx="72.6" cy="160.1" r="1.2" fill="#696969" opacity="0.6"/>
<circle cx="78.3" cy="122.9" r="0.9" fill="#7b7b7b" opacity="0.6"/>
<circle cx="38.2" cy="124.5" r="1.7" fill="#868686" opacity="0.6"/>
<circle cx="99.7" cy="132.6" r="0.7" fill="#848484" opacity="0.6"/>
<circle cx="59.7" cy="134.1" r="0.7" fill="#818181" opacity="0.6"/>
<circle cx="94.2" cy="133.9" r="0.9" fill="#666666" opacity="0.6"/>
<circle cx="99.8" cy="134.7" r="1.4" fill="#848484" opacity="0.6"/>
<circle cx="58.5" cy="146.4" r="1.3" fill="#7e7e7e" opacity="0.6"/>
<circle cx="100.0" cy="160.9" r="0.9" fill="#676767" opacity="0.6"/>
<circle cx="82.1" cy="139.2" r="0.6" fill="#828282" opacity="0.6"/>
<circle cx="72.9" cy="138.0" r="1.2" fill="#6f6f6f" opacity="0.6"/>
<circle cx="50.1" cy="153.8" r="1.7" fill="#838383" opacity="0.6"/>
<circle cx="93.8" cy="154.5" r="1.7" fill="#6d6d6d" opacity="0.6"/>
<circle cx="87.3" cy="158.1" r="1.7" fill="#828282" opacity="0.6"/>
<circle cx="91.0" cy="123.1" r="1.2" fill="#888888" opacity="0.6"/>
<circle cx="94.0" cy="114.3" r="1.6" fill="#676767" opacity="0.6"/>
<circle cx="54.4" cy="156.8" r="1.1" fill="#6b6b6b" opacity="0.6"/>
<circle cx="99.7" cy="154.1" r="1.1" fill="#888888" opacity="0.6"/>
<circle cx="31.1" cy="166.5" r="1.4" fill="#828282" opacity="0.6"/>
<circle cx="73.7" cy="114.5" r="1.1" fill="#808080" opacity="0.6"/>
<circle cx="108.5" cy="151.9" r="0.6" fill="#6a6a6a" opacity="0.6"/>
<circle cx="37.4" cy="137.4" r="0.8" fill="#848484" opacity="0.6"/>
<circle cx="65.4" cy="145.5" r="1.6" fill="#838383" opacity="0.6"/>
<circle cx="72.1" cy="145.6" r="1.1" fill="#656565" opacity="0.6"/>
<circle cx="36.4" cy="121.2" r="0.9" fill="#696969" opacity="0.6"/>
<circle cx="102.7" cy="153.0" r="0.8" fill="#6d6d6d" opacity="0.6"/>
<circle cx="47.9" cy="115.4" r="0.9" fill="#707070" opacity="0.6"/>
<circle cx="63.4" cy="167.8" r="1.5" fill="#838383" opacity="0.6"/>
<circle cx="54.0" cy="157.0" r="1.4" fill="#6a6a6a" opacity="0.6"/>
<circle cx="66.9" cy="130.7" r="0.6" fill="#888888" opacity="0.6"/>
<circle cx="55.8" cy="151.2" r="1.2" fill="#656565" opacity="0.6"/>
<circle cx="94.6" cy="142.6" r="0.7" fill="#808080" opacity="0.6"/>
<circle cx="78.5" cy="149.2" r="0.9" fill="#878787" opacity="0.6"/>
<circle cx="60.9" cy="158.0" r="1.7" fill="#7f7f7f" opacity="0.6"/>
<circle cx="86.8" cy="161.7" r="0.7" fill="#686868" opacity="0.6"/>
<circle cx="95.3" cy="117.7" r="1.2" fill="#888888" opacity="0.6"/>
<circle cx="104.0" cy="120.1" r="1.0" fill="#828282" opacity="0.6"/>
<circle cx="105.6" cy="128.8" r="0.5" fill="#848484" opacity="0.6"/>
<circle cx="80.8" cy="118.3" r="1.2" fill="#878787" opacity="0.6"/>
<circle cx="50.7" cy="162.0" r="0.5" fill="#7b7b7b" opacity="0.6"/>
<circle cx="53.7" cy="115.0" r="0.6" fill="#6d6d6d" opacity="0.6"/>
<circle cx="86.1" cy="152.2" r="0.6" fill="#7c7c7c" opacity="0.6"/>
<circle cx="85.2" cy="134.4" r="0.7" fill="#666666" opacity="0.6"/>
<circle cx="92.0" cy="163.6" r="1.1" fill="#636363" opacity="0.6"/>
<circle cx="103.2" cy="145.2" r="0.9" fill="#888888" opacity="0.6"/>
<circle cx="87.8" cy="153.2" r="1.6" fill="#838383" opacity="0.6"/>
<circle cx="75.6" cy="161.9" r="0.6" fill="#696969" opacity="0.6"/>
<circle cx="97.8" cy="117.4" r="1.5" fill="#7f7f7f" opacity="0.6"/>
<circle cx="62.6" cy="163.5" r="0.9" fill="#707070" opacity="0.6"/>
<circle cx="37.8" cy="155.7" r="0.7" fill="#818181" opacity="0.6"/>
<circle cx="77.0" cy="153.7" r="1.4" fill="#636363" opacity="0.6"/>
<circle cx="32.6" cy="163.5" r="0.9" fill="#6a6a6a" opacity="0.6"/>
<circle cx="49.1" cy="148.4" r="1.8" fill="#636363" opacity="0.6"/>
<circle cx="80.7" cy="127.4" r="0.8" fill="#6a6a6a" opacity="0.6"/>
<circle cx="107.9" cy="133.0" r="0.9" fill="#888888" opacity="0.6"/>
<circle cx="92.9" cy="141.6" r="0.7" fill="#868686" opacity="0.6"/>
<circle cx="45.0" cy="119.9" r="1.3" fill="#828282" opacity="0.6"/>
<circle cx="69.3" cy="118.3" r="0.8" fill="#868686" opacity="0.6"/>
<circle cx="37.1" cy="153.6" r="1.0" fill="#808080" opacity="0.6"/>
<circle cx="41.2" cy="164.6" r="1.1" fill="#7f7f7f" opacity="0.6"/>
<circle cx="38.0" cy="149.1" r="1.7" fill="#6c6c6c" opacity="0.6"/>
<circle cx="48.0" cy="150.9" r="1.5" fill="#6a6a6a" opacity="0.6"/>
<circle cx="94.7" cy="164.2" r="1.2" fill="#818181" opacity="0.6"/>
<circle cx="81.7" cy="164.7" r="0.8" fill="#868686" opacity="0.6"/>
<circle cx="56.5" cy="118.2" r="0.7" fill="#666666" opacity="0.6"/>
<circle cx="80.0" cy="168.4" r="1.4" fill="#6b6b6b" opacity="0.6"/>
<circle cx="76.0" cy="144.5" r="0.7" fill="#6e6e6e" opacity="0.6"/>
<circle cx="97.7" cy="138.2" r="1.7" fill="#848484" opacity="0.6"/>
<circle cx="45.6" cy="168.5" r="0.8" fill="#636363" opacity="0.6"/>
<circle cx="105.5" cy="157.5" r="1.6" fill="#707070" opacity="0.6"/>
<circle cx="54.0" cy="149.7" r="1.6" fill="#707070" opacity="0.6"/>
<circle cx="106.0" cy="171.0" r="1.6" fill="#7f7f7f" opacity="0.6"/>
<circle cx="96.3" cy="115.0" r="1.3" fill="#7c7c7c" opacity="0.6"/>
<circle cx="33.3" cy="162.6" r="1.4" fill="#7f7f7f" opacity="0.6"/>
<circle cx="51.5" cy="167.9" r="1.2" fill="#6c6c6c" opacity="0.6"/>
<circle cx="100.5" cy="115.1" r="1.5" fill="#646464" opacity="0.6"/>
<circle cx="94.5" cy="114.2" r="1.0" fill="#656565" opacity="0.6"/>
<circle cx="68.1" cy="163.0" r="0.6" fill="#6d6d6d" opacity="0.6"/>
<circle cx="61.1" cy="165.3" r="1.2" fill="#6b6b6b" opacity="0.6"/>
<circle cx="47.9" cy="154.1" r="1.3" fill="#848484" opacity="0.6"/>
<circle cx="106.4" cy="147.2" r="0.7" fill="#6f6f6f" opacity="0.6"/>
<circle cx="89.4" cy="127.2" r="0.9" fill="#808080" opacity="0.6"/>
<circle cx="98.0" cy="134.2" r="1.4" fill="#7d7d7d" opacity="0.6"/>
<circle cx="54.4" cy="114.4" r="0.8" fill="#7d7d7d" opacity="0.6"/>
<circle cx="65.9" cy="168.8" r="0.8" fill="#656565" opacity="0.6"/>
<circle cx="88.4" cy="147.5" r="1.0" fill="#7c7c7c" opacity="0.6"/>
<circle cx="38.1" cy="132.2" r="0.7" fill="#646464" opacity="0.6"/>
<circle cx="37.4" cy="154.6" r="0.5" fill="#666666" opacity="0.6"/>
<circle cx="95.3" cy="150.2" r="0.8" fill="#808080" opacity="0.6"/>
<circle cx="51.6" cy="122.7" r="1.6" fill="#888888" opacity="0.6"/>
<circle cx="44.0" cy="129.5" r="1.2" fill="#656565" opacity="0.6"/>
<circle cx="47.6" cy="127.3" r="0.9" fill="#848484" opacity="0.6"/>
<circle cx="88.1" cy="145.7" r="1.4" fill="#6f6f6f" opacity="0.6"/>
<circle cx="47.9" cy="152.5" r="0.7" fill="#6e6e6e" opacity="0.6"/>
<circle cx="43.1" cy="145.7" r="1.0" fill="#6a6a6a" opacity="0.6"/>
<circle cx="94.4" cy="154.1" r="1.6" fill="#6b6b6b" opacity="0.6"/>
<circle cx="58.7" cy="133.0" r="0.5" fill="#858585" opacity="0.6"/>
<circle cx="69.2" cy="114.2" r="0.8" fill="#818181" opacity="0.6"/>
<circle cx="46.6" cy="162.0" r="1.7" fill="#636363" opacity="0.6"/>
<circle cx="66.1" cy="171.8" r="0.5" fill="#686868" opacity="0.6"/>
<circle cx="83.4" cy="150.8" r="1.3" fill="#828282" opacity="0.6"/>
<circle cx="82.1" cy="125.4" r="1.2" fill="#7c7c7c" opacity="0.6"/>
<circle cx="90.9" cy="124.1" r="1.0" fill="#696969" opacity="0.6"/>
<circle cx="106.6" cy="168.6" r="1.8" fill="#888888" opacity="0.6"/>
<circle cx="50.9" cy="147.6" r="1.4" fill="#6d6d6d" opacity="0.6"/>
<circle cx="62.8" cy="138.8" r="1.2" fill="#6f6f6f" opacity="0.6"/>
<circle cx="52.3" cy="151.5" r="1.3" fill="#6a6a6a" opacity="0.6"/>
<circle cx="105.3" cy="126.1" r="0.7" fill="#7c7c7c" opacity="0.6"/>
<circle cx="58.0" cy="165.9" r="1.4" fill="#636363" opacity="0.6"/>
<circle cx="35.5" cy="168.4" r="0.5" fill="#686868" opacity="0.6"/>
<circle cx="105.8" cy="158.2" r="0.6" fill="#7e7e7e" opacity="0.6"/>
<circle cx="76.8" cy="145.0" r="0.9" fill="#828282" opacity="0.6"/>
<circle cx="74.5" cy="172.4" r="1.4" fill="#666666" opacity="0.6"/>
<circle cx="72.8" cy="155.9" r="1.3" fill="#636363" opacity="0.6"/>
<circle cx="90.2" cy="126.7" r="1.2" fill="#878787" opacity="0.6"/>
<circle cx="64.3" cy="141.5" r="1.5" fill="#6a6a6a" opacity="0.6"/>
<circle cx="64.0" cy="155.3" r="1.4" fill="#868686" opacity="0.6"/>
<circle cx="51.2" cy="153.1" r="1.1" fill="#6a6a6a" opacity="0.6"/>
<circle cx="58.6" cy="115.5" r="1.1" fill="#7f7f7f" opacity="0.6"/>
<circle cx="68.9" cy="118.4" r="1.6" fill="#818181" opacity="0.6"/>
<circle cx="57.8" cy="143.3" r="1.2" fill="#838383" opacity="0.6"/>
<circle cx="66.5" cy="150.6" r="0.6" fill="#7e7e7e" opacity="0.6"/>
<circle cx="58.1" cy="132.7" r="1.5" fill="#838383" opacity="0.6"/>
<circle cx="94.9" cy="122.7" r="1.8" fill="#7e7e7e" opacity="0.6"/>
<circle cx="56.5" cy="121.6" r="1.2" fill="#686868" opacity="0.6"/>
<circle cx="77.2" cy="162.5" r="0.9" fill="#666666" opacity="0.6"/>
<circle cx="41.7" cy="172.5" r="1.2" fill="#808080" opacity="0.6"/>
<circle cx="81.0" cy="130.6" r="1.7" fill="#7d7d7d" opacity="0.6"/>
<circle cx="71.0" cy="127.6" r="1.1" fill="#6a6a6a" opacity="0.6"/>
<circle cx="107.5" cy="120.8" r="0.8" fill="#636363" opacity="0.6"/>
<circle cx="70.2" cy="154.4" r="0.8" fill="#6f6f6f" opacity="0.6"/>
<circle cx="100.4" cy="134.9" r="1.6" fill="#7c7c7c" opacity="0.6"/>
<circle cx="99.3" cy="135.6" r="1.6" fill="#7c7c7c" opacity="0.6"/>
<circle cx="95.7" cy="154.8" r="0.8" fill="#878787" opacity="0.6"/>
<circle cx="42.3" cy="142.1" r="1.1" fill="#6b6b6b" opacity="0.6"/>
<circle cx="87.2" cy="156.5" r="0.8" fill="#878787" opacity="0.6"/>
<circle cx="105.4" cy="148.8" r="0.6" fill="#646464" opacity="0.6"/>
<circle cx="81.1" cy="150.0" r="1.7" fill="#7c7c7c" opacity="0.6"/>
<circle cx="31.2" cy="126.3" r="1.5" fill="#7f7f7f" opacity="0.6"/>
<circle cx="95.9" cy="168.9" r="1.7" fill="#7b7b7b" opacity="0.6"/>
<circle cx="61.0" cy="140.3" r="0.8" fill="#6f6f6f" opacity="0.6"/>
<circle cx="70.2" cy="170.6" r="1.7" fill="#7d7d7d" opacity="0.6"/>
<circle cx="55.1" cy="132.9" r="1.0" fill="#6e6e6e" opacity="0.6"/>
<circle cx="52.4" cy="171.6" r="0.5" fill="#7c7c7c" opacity="0.6"/>
<circle cx="89.4" cy="138.8" r="1.7" fill="#666666" opacity="0.6"/>
<circle cx="38.7" cy="127.8" r="0.9" fill="#666666" opacity="0.6"/>
<circle cx="106.2" cy="144.5" r="0.6" fill="#656565" opacity="0.6"/>
<circle cx="40.3" cy="143.7" r="1.1" fill="#868686" opacity="0.6"/>
<circle cx="37.9" cy="133.2" r="0.6" fill="#7c7c7c" opacity="0.6"/>
<circle cx="34.6" cy="129.4" r="1.3" fill="#636363" opacity="0.6"/>
<circle cx="98.4" cy="121.3" r="1.5" fill="#888888" opacity="0.6"/>
<circle cx="49.6" cy="142.6" r="0.8" fill="#707070" opacity="0.6"/>
<circle cx="41.0" cy="158.9" r="1.4" fill="#6f6f6f" opacity="0.6"/>
<circle cx="44.3" cy="147.6" r="0.8" fill="#6f6f6f" opacity="0.6"/>
<circle cx="56.9" cy="128.0" r="1.8" fill="#6e6e6e" opacity="0.6"/>
<circle cx="45.8" cy="138.6" r="1.2" fill="#6f6f6f" opacity="0.6"/>
<circle cx="48.0" cy="152.2" r="0.6" fill="#6c6c6c" opacity="0.6"/>
<circle cx="88.0" cy="136.2" r="1.0" fill="#888888" opacity="0.6"/>
<circle cx="76.1" cy="128.0" r="1.2" fill="#6b6b6b" opacity="0.6"/>
<circle cx="64.6" cy="147.8" r="1.8" fill="#7d7d7d" opacity="0.6"/>
<circle cx="76.2" cy="132.8" r="1.1" fill="#707070" opacity="0.6"/>
</g>
<path d="M30.5,158.5 L109.0,162.5 L109.0,165 L30.5,161 Z" fill="#404040" opacity="0.7" filter="url(#b8)"/>
<circle cx="70.3" cy="164.6" r="0.7" fill="#989898" opacity="0.7"/>
<circle cx="79.9" cy="164.3" r="0.4" fill="#838383" opacity="0.7"/>
<circle cx="98.6" cy="165.4" r="0.6" fill="#878787" opacity="0.7"/>
<circle cx="41.2" cy="164.5" r="0.4" fill="#878787" opacity="0.7"/>
<circle cx="80.1" cy="161.3" r="0.7" fill="#8a8a8a" opacity="0.7"/>
<circle cx="84.1" cy="162.8" r="0.5" fill="#868686" opacity="0.7"/>
<circle cx="66.6" cy="170.0" r="0.6" fill="#656565" opacity="0.7"/>
<circle cx="33.0" cy="168.4" r="0.7" fill="#9b9b9b" opacity="0.7"/>
<circle cx="102.6" cy="166.4" r="0.7" fill="#888888" opacity="0.7"/>
<circle cx="104.0" cy="166.6" r="1.0" fill="#626262" opacity="0.7"/>
<circle cx="37.3" cy="161.2" r="0.5" fill="#8a8a8a" opacity="0.7"/>
<circle cx="43.1" cy="165.5" r="0.8" fill="#959595" opacity="0.7"/>
<circle cx="81.7" cy="166.8" r="0.7" fill="#606060" opacity="0.7"/>
<circle cx="31.9" cy="162.7" r="0.9" fill="#838383" opacity="0.7"/>
<circle cx="73.3" cy="162.9" r="1.0" fill="#636363" opacity="0.7"/>
<circle cx="62.8" cy="168.8" r="0.8" fill="#525252" opacity="0.7"/>
<circle cx="31.1" cy="161.7" r="0.5" fill="#9a9a9a" opacity="0.7"/>
<circle cx="75.7" cy="163.1" r="0.9" fill="#9b9b9b" opacity="0.7"/>
<circle cx="86.3" cy="171.3" r="0.9" fill="#505050" opacity="0.7"/>
<circle cx="36.4" cy="171.0" r="0.7" fill="#9c9c9c" opacity="0.7"/>
<circle cx="36.9" cy="169.1" r="0.9" fill="#545454" opacity="0.7"/>
<circle cx="87.8" cy="162.6" r="0.6" fill="#878787" opacity="0.7"/>
<circle cx="47.9" cy="167.5" r="0.7" fill="#898989" opacity="0.7"/>
<circle cx="43.1" cy="164.4" r="0.4" fill="#939393" opacity="0.7"/>
<circle cx="51.8" cy="172.2" r="0.8" fill="#9a9a9a" opacity="0.7"/>
<circle cx="38.8" cy="162.1" r="0.9" fill="#515151" opacity="0.7"/>
<circle cx="34.3" cy="169.1" r="0.8" fill="#8e8e8e" opacity="0.7"/>
<circle cx="71.5" cy="163.1" r="0.6" fill="#838383" opacity="0.7"/>
<circle cx="97.3" cy="167.5" r="0.6" fill="#8e8e8e" opacity="0.7"/>
<circle cx="73.8" cy="161.3" r="0.6" fill="#8b8b8b" opacity="0.7"/>
<circle cx="70.4" cy="161.8" r="0.9" fill="#848484" opacity="0.7"/>
<circle cx="52.7" cy="170.3" r="0.8" fill="#595959" opacity="0.7"/>
<circle cx="51.5" cy="170.6" r="0.6" fill="#646464" opacity="0.7"/>
<circle cx="58.9" cy="161.9" r="0.7" fill="#8e8e8e" opacity="0.7"/>
<circle cx="99.6" cy="161.8" r="0.5" fill="#828282" opacity="0.7"/>
<circle cx="35.3" cy="168.7" r="0.4" fill="#535353" opacity="0.7"/>
<circle cx="32.3" cy="168.2" r="0.7" fill="#888888" opacity="0.7"/>
<circle cx="38.7" cy="165.1" r="0.5" fill="#5b5b5b" opacity="0.7"/>
<circle cx="66.9" cy="163.8" r="0.9" fill="#999999" opacity="0.7"/>
<circle cx="87.0" cy="167.9" r="1.0" fill="#696969" opacity="0.7"/>
<circle cx="81.2" cy="165.5" r="0.6" fill="#898989" opacity="0.7"/>
<circle cx="92.3" cy="165.2" r="0.9" fill="#868686" opacity="0.7"/>
<circle cx="74.2" cy="169.4" r="0.5" fill="#5d5d5d" opacity="0.7"/>
<circle cx="87.0" cy="166.8" r="0.8" fill="#666666" opacity="0.7"/>
<circle cx="35.3" cy="167.5" r="0.9" fill="#686868" opacity="0.7"/>
<circle cx="59.5" cy="171.7" r="0.8" fill="#4f4f4f" opacity="0.7"/>
<circle cx="73.5" cy="170.5" r="0.4" fill="#515151" opacity="0.7"/>
<circle cx="68.3" cy="169.5" r="1.0" fill="#636363" opacity="0.7"/>
<circle cx="35.1" cy="161.7" r="0.7" fill="#959595" opacity="0.7"/>
<circle cx="44.3" cy="172.4" r="0.7" fill="#999999" opacity="0.7"/>
<circle cx="80.0" cy="166.1" r="0.7" fill="#989898" opacity="0.7"/>
<circle cx="81.8" cy="168.9" r="0.7" fill="#656565" opacity="0.7"/>
<circle cx="37.2" cy="165.7" r="1.0" fill="#6a6a6a" opacity="0.7"/>
<circle cx="41.3" cy="171.2" r="0.7" fill="#4e4e4e" opacity="0.7"/>
<circle cx="97.6" cy="166.8" r="0.7" fill="#555555" opacity="0.7"/>
<circle cx="63.3" cy="165.6" r="0.7" fill="#818181" opacity="0.7"/>
<circle cx="85.7" cy="170.0" r="0.6" fill="#858585" opacity="0.7"/>
<circle cx="57.7" cy="170.5" r="0.6" fill="#505050" opacity="0.7"/>
<circle cx="64.5" cy="164.7" r="0.8" fill="#636363" opacity="0.7"/>
<circle cx="62.8" cy="169.1" r="0.8" fill="#868686" opacity="0.7"/>
<circle cx="58.3" cy="168.1" r="0.6" fill="#8c8c8c" opacity="0.7"/>
<circle cx="68.3" cy="165.0" r="0.9" fill="#515151" opacity="0.7"/>
<circle cx="48.9" cy="170.7" r="0.7" fill="#525252" opacity="0.7"/>
<circle cx="85.5" cy="169.6" r="0.4" fill="#828282" opacity="0.7"/>
<circle cx="69.2" cy="171.0" r="0.9" fill="#969696" opacity="0.7"/>
<circle cx="67.8" cy="171.7" r="0.5" fill="#585858" opacity="0.7"/>
<circle cx="91.3" cy="170.9" r="1.0" fill="#898989" opacity="0.7"/>
<circle cx="108.3" cy="161.2" r="0.9" fill="#6a6a6a" opacity="0.7"/>
<circle cx="49.2" cy="165.3" r="0.9" fill="#9c9c9c" opacity="0.7"/>
<circle cx="32.4" cy="162.5" r="0.8" fill="#9a9a9a" opacity="0.7"/>
<circle cx="79.1" cy="166.0" r="0.8" fill="#919191" opacity="0.7"/>
<circle cx="69.2" cy="163.3" r="0.7" fill="#9a9a9a" opacity="0.7"/>
<circle cx="99.3" cy="164.4" r="0.4" fill="#818181" opacity="0.7"/>
<circle cx="95.9" cy="162.8" r="0.5" fill="#818181" opacity="0.7"/>
<circle cx="103.8" cy="169.7" r="0.7" fill="#606060" opacity="0.7"/>
<circle cx="45.7" cy="161.6" r="0.4" fill="#585858" opacity="0.7"/>
<circle cx="36.9" cy="169.1" r="0.7" fill="#8a8a8a" opacity="0.7"/>
<circle cx="55.6" cy="172.3" r="0.7" fill="#5f5f5f" opacity="0.7"/>
<circle cx="33.9" cy="171.2" r="1.0" fill="#818181" opacity="0.7"/>
<circle cx="91.2" cy="168.6" r="0.4" fill="#9b9b9b" opacity="0.7"/>
<circle cx="82.9" cy="167.2" r="0.5" fill="#555555" opacity="0.7"/>
<circle cx="74.9" cy="161.2" r="0.5" fill="#535353" opacity="0.7"/>
<circle cx="106.4" cy="162.3" r="0.4" fill="#8f8f8f" opacity="0.7"/>
<circle cx="105.7" cy="166.6" r="1.0" fill="#656565" opacity="0.7"/>
<circle cx="37.0" cy="162.4" r="0.7" fill="#5a5a5a" opacity="0.7"/>
<circle cx="33.8" cy="166.2" r="0.8" fill="#949494" opacity="0.7"/>
<circle cx="86.4" cy="171.9" r="0.4" fill="#8e8e8e" opacity="0.7"/>
<circle cx="59.5" cy="166.8" r="0.9" fill="#646464" opacity="0.7"/>
<circle cx="106.6" cy="171.9" r="0.4" fill="#8f8f8f" opacity="0.7"/>
<circle cx="68.6" cy="168.2" r="0.6" fill="#9b9b9b" opacity="0.7"/>
<circle cx="64.4" cy="170.6" r="0.4" fill="#6b6b6b" opacity="0.7"/>
<circle cx="67.0" cy="162.1" r="0.9" fill="#696969" opacity="0.7"/>
<circle cx="48.2" cy="162.5" r="0.4" fill="#979797" opacity="0.7"/>
<circle cx="58.8" cy="169.4" r="0.7" fill="#5b5b5b" opacity="0.7"/>
<circle cx="62.8" cy="168.9" r="0.7" fill="#545454" opacity="0.7"/>
<circle cx="79.7" cy="162.1" r="0.5" fill="#8a8a8a" opacity="0.7"/>
<circle cx="37.7" cy="167.2" r="0.7" fill="#616161" opacity="0.7"/>
<circle cx="46.4" cy="162.7" r="0.6" fill="#858585" opacity="0.7"/>
<circle cx="70.9" cy="169.4" r="0.9" fill="#8c8c8c" opacity="0.7"/>
<circle cx="69.6" cy="161.2" r="0.7" fill="#868686" opacity="0.7"/>
<circle cx="85.9" cy="165.2" r="0.5" fill="#979797" opacity="0.7"/>
<circle cx="57.9" cy="170.1" r="0.5" fill="#9c9c9c" opacity="0.7"/>
<circle cx="35.5" cy="163.4" r="0.5" fill="#505050" opacity="0.7"/>
<circle cx="41.8" cy="168.7" r="0.6" fill="#858585" opacity="0.7"/>
<circle cx="101.5" cy="166.1" r="0.5" fill="#525252" opacity="0.7"/>
<circle cx="82.4" cy="161.1" r="0.7" fill="#535353" opacity="0.7"/>
<circle cx="73.7" cy="171.3" r="0.8" fill="#505050" opacity="0.7"/>
<circle cx="44.9" cy="163.1" r="0.7" fill="#6a6a6a" opacity="0.7"/>
<circle cx="52.7" cy="166.4" r="0.6" fill="#555555" opacity="0.7"/>
<circle cx="79.1" cy="165.3" r="0.8" fill="#828282" opacity="0.7"/>
<circle cx="42.4" cy="166.5" r="0.8" fill="#6b6b6b" opacity="0.7"/>
<circle cx="87.2" cy="168.3" r="0.5" fill="#535353" opacity="0.7"/>
<circle cx="36.3" cy="169.0" r="0.9" fill="#676767" opacity="0.7"/>
<circle cx="31.1" cy="162.4" r="0.7" fill="#898989" opacity="0.7"/>
<circle cx="40.7" cy="166.1" r="1.0" fill="#5d5d5d" opacity="0.7"/>
<circle cx="96.7" cy="163.0" r="0.7" fill="#515151" opacity="0.7"/>
<circle cx="71.9" cy="163.0" r="0.8" fill="#838383" opacity="0.7"/>
<circle cx="56.7" cy="161.3" r="0.7" fill="#545454" opacity="0.7"/>
<circle cx="95.4" cy="162.0" r="0.8" fill="#8f8f8f" opacity="0.7"/>
<circle cx="49.2" cy="169.0" r="1.0" fill="#919191" opacity="0.7"/>
<circle cx="51.1" cy="163.6" r="0.9" fill="#676767" opacity="0.7"/>
<circle cx="51.4" cy="161.9" r="0.7" fill="#5d5d5d" opacity="0.7"/>
<circle cx="89.3" cy="161.8" r="0.8" fill="#646464" opacity="0.7"/>
<circle cx="50.9" cy="163.4" r="0.8" fill="#5e5e5e" opacity="0.7"/>
<circle cx="89.2" cy="161.0" r="0.9" fill="#878787" opacity="0.7"/>
<circle cx="106.7" cy="169.4" r="1.0" fill="#565656" opacity="0.7"/>
<circle cx="67.4" cy="169.8" r="0.9" fill="#828282" opacity="0.7"/>
<circle cx="99.9" cy="164.5" r="0.9" fill="#525252" opacity="0.7"/>
<circle cx="36.0" cy="170.6" r="0.7" fill="#6b6b6b" opacity="0.7"/>
<circle cx="45.8" cy="165.5" r="0.8" fill="#919191" opacity="0.7"/>
<circle cx="83.1" cy="165.6" r="0.7" fill="#8f8f8f" opacity="0.7"/>
<circle cx="105.3" cy="166.7" r="0.8" fill="#525252" opacity="0.7"/>
<circle cx="84.6" cy="166.9" r="0.4" fill="#585858" opacity="0.7"/>
<circle cx="65.3" cy="172.2" r="0.4" fill="#616161" opacity="0.7"/>
<circle cx="52.9" cy="166.2" r="0.9" fill="#6b6b6b" opacity="0.7"/>
<circle cx="93.1" cy="171.0" r="0.7" fill="#8f8f8f" opacity="0.7"/>
<circle cx="72.1" cy="168.6" r="0.5" fill="#949494" opacity="0.7"/>
<circle cx="30.9" cy="164.0" r="0.9" fill="#696969" opacity="0.7"/>
<circle cx="74.4" cy="168.4" r="0.8" fill="#555555" opacity="0.7"/>
<circle cx="96.0" cy="171.4" r="0.7" fill="#545454" opacity="0.7"/>
<circle cx="84.7" cy="164.9" r="0.9" fill="#525252" opacity="0.7"/>
<circle cx="64.9" cy="163.0" r="0.7" fill="#646464" opacity="0.7"/>
<circle cx="31.6" cy="161.5" r="0.6" fill="#949494" opacity="0.7"/>
<circle cx="89.4" cy="165.0" r="0.7" fill="#969696" opacity="0.7"/>
<circle cx="34.6" cy="167.2" r="1.0" fill="#888888" opacity="0.7"/>
<circle cx="82.1" cy="170.8" r="1.0" fill="#666666" opacity="0.7"/>
<circle cx="87.2" cy="166.8" r="0.6" fill="#636363" opacity="0.7"/>
<circle cx="87.4" cy="165.1" r="0.9" fill="#686868" opacity="0.7"/>
<circle cx="75.4" cy="172.0" r="0.7" fill="#8d8d8d" opacity="0.7"/>
<circle cx="76.7" cy="171.2" r="0.9" fill="#888888" opacity="0.7"/>
<circle cx="80.5" cy="167.2" r="0.5" fill="#505050" opacity="0.7"/>
<circle cx="58.8" cy="171.4" r="0.6" fill="#9d9d9d" opacity="0.7"/>
<circle cx="35.7" cy="163.9" r="0.9" fill="#595959" opacity="0.7"/>
<circle cx="74.8" cy="169.8" r="1.0" fill="#5c5c5c" opacity="0.7"/>
<circle cx="41.3" cy="169.0" r="0.7" fill="#5a5a5a" opacity="0.7"/>
<circle cx="49.1" cy="168.0" r="0.4" fill="#535353" opacity="0.7"/>
<circle cx="34.2" cy="172.0" r="0.9" fill="#686868" opacity="0.7"/>
<circle cx="85.7" cy="167.7" r="0.5" fill="#939393" opacity="0.7"/>
<circle cx="82.8" cy="168.7" r="1.0" fill="#606060" opacity="0.7"/>
<circle cx="60.8" cy="172.4" r="0.9" fill="#6a6a6a" opacity="0.7"/>
<rect x="30.5" y="114" width="78.5" height="0.8" fill="#949494"/>
<rect x="30.5" y="114" width="0.8" height="58.5" fill="#999999"/>
</g>
<defs><linearGradient id="g109_114" x1="0" y1="0" x2="0" y2="1"><stop offset="0" stop-color="#0c0c0c"/><stop offset="0.8" stop-color="#101010"/><stop offset="1" stop-color="#101010"/></linearGradient></defs>
<clipPath id="c8"><rect x="109" y="114" width="78" height="58.5"/></clipPath>
<g clip-path="url(#c8)">
<rect x="109" y="114" width="78" height="58.5" fill="url(#g109_114)"/>
<g filter="url(#b10)">
<circle cx="149.1" cy="157.0" r="3.0" fill="#a0a0a0" opacity="0.12"/>
<circle cx="150.4" cy="157.3" r="2.4" fill="#a0a0a0" opacity="0.12"/>
<circle cx="111.4" cy="160.7" r="2.8" fill="#a0a0a0" opacity="0.16"/>
<circle cx="126.5" cy="157.7" r="2.8" fill="#a0a0a0" opacity="0.13"/>
<circle cx="145.0" cy="158.9" r="2.8" fill="#a0a0a0" opacity="0.14"/>
<circle cx="149.2" cy="155.2" r="3.4" fill="#a0a0a0" opacity="0.14"/>
<circle cx="130.2" cy="161.0" r="2.4" fill="#a0a0a0" opacity="0.11"/>
<circle cx="132.8" cy="159.4" r="3.8" fill="#a0a0a0" opacity="0.14"/>
<circle cx="162.8" cy="160.0" r="3.6" fill="#a0a0a0" opacity="0.09"/>
<circle cx="181.9" cy="158.5" r="2.6" fill="#a0a0a0" opacity="0.16"/>
<circle cx="134.7" cy="156.6" r="2.1" fill="#a0a0a0" opacity="0.15"/>
<circle cx="136.9" cy="159.8" r="2.7" fill="#a0a0a0" opacity="0.14"/>
<circle cx="178.8" cy="154.8" r="3.3" fill="#a0a0a0" opacity="0.09"/>
<circle cx="111.5" cy="160.1" r="2.2" fill="#a0a0a0" opacity="0.10"/>
<circle cx="146.2" cy="160.8" r="2.1" fill="#a0a0a0" opacity="0.14"/>
<circle cx="129.3" cy="159.9" r="3.2" fill="#a0a0a0" opacity="0.10"/>
<circle cx="173.0" cy="161.3" r="3.3" fill="#a0a0a0" opacity="0.16"/>
<circle cx="130.5" cy="160.4" r="3.2" fill="#a0a0a0" opacity="0.08"/>
<circle cx="159.3" cy="151.5" r="2.9" fill="#a0a0a0" opacity="0.08"/>
<circle cx="142.3" cy="160.4" r="3.8" fill="#a0a0a0" opacity="0.08"/>
<circle cx="116.8" cy="158.8" r="3.7" fill="#a0a0a0" opacity="0.14"/>
<circle cx="166.4" cy="156.5" r="2.2" fill="#a0a0a0" opacity="0.09"/>
<circle cx="151.8" cy="161.3" r="2.0" fill="#a0a0a0" opacity="0.09"/>
<circle cx="179.1" cy="160.8" r="3.4" fill="#a0a0a0" opacity="0.10"/>
<circle cx="122.8" cy="151.1" r="2.1" fill="#a0a0a0" opacity="0.11"/>
<circle cx="118.3" cy="156.6" r="3.4" fill="#a0a0a0" opacity="0.12"/>
</g>
<g filter="url(#b4)">
<circle cx="129.5" cy="157.6" r="0.52" fill="#9c9c9c"/>
<circle cx="142.5" cy="158.5" r="0.81" fill="#a3a3a3"/>
<circle cx="120.9" cy="161.0" r="0.84" fill="#c7c7c7"/>
<circle cx="160.9" cy="161.5" r="0.52" fill="#b6b6b6"/>
<circle cx="164.3" cy="161.1" r="0.79" fill="#c5c5c5"/>
<circle cx="111.5" cy="161.3" r="0.76" fill="#c6c6c6"/>
<circle cx="171.0" cy="161.9" r="0.86" fill="#afafaf"/>
<circle cx="154.4" cy="160.0" r="0.87" fill="#c3c3c3"/>
<circle cx="164.7" cy="160.0" r="0.70" fill="#989898"/>
<circle cx="135.2" cy="159.8" r="0.63" fill="#b1b1b1"/>
<circle cx="127.7" cy="161.2" r="0.80" fill="#d3d3d3"/>
<circle cx="171.6" cy="160.3" r="0.55" fill="#bababa"/>
<circle cx="165.8" cy="158.3" r="0.65" fill="#a1a1a1"/>
<circle cx="150.9" cy="153.3" r="0.76" fill="#aeaeae"/>
<circle cx="147.7" cy="161.6" r="0.66" fill="#d4d4d4"/>
<circle cx="163.5" cy="159.0" r="0.73" fill="#cacaca"/>
<circle cx="185.6" cy="161.5" r="0.73" fill="#bfbfbf"/>
<circle cx="113.8" cy="161.3" r="0.78" fill="#c8c8c8"/>
<circle cx="123.8" cy="159.0" r="0.69" fill="#cbcbcb"/>
<circle cx="177.5" cy="159.2" r="0.54" fill="#cccccc"/>
<circle cx="152.2" cy="161.9" r="0.71" fill="#9b9b9b"/>
<circle cx="155.9" cy="160.5" r="0.85" fill="#9b9b9b"/>
<rect x="109" y="163.0" width="78" height="9.5" fill="#1e1e1e"/>
<circle cx="148.7" cy="170.6" r="0.52" fill="#f3f3f3"/>
<circle cx="181.8" cy="166.3" r="0.58" fill="#a5a5a5"/>
<circle cx="126.4" cy="167.0" r="0.87" fill="#f8f8f8"/>
<circle cx="152.5" cy="172.1" r="0.71" fill="#dbdbdb"/>
<circle cx="109.5" cy="167.0" r="0.46" fill="#a3a3a3"/>
<circle cx="171.8" cy="164.1" r="0.63" fill="#cdcdcd"/>
<circle cx="149.9" cy="163.3" r="0.52" fill="#dddddd"/>
<circle cx="140.7" cy="163.9" r="0.74" fill="#bdbdbd"/>
<circle cx="186.5" cy="163.5" r="0.56" fill="#9d9d9d"/>
<circle cx="151.9" cy="172.1" r="0.92" fill="#a1a1a1"/>
<circle cx="151.0" cy="166.4" r="1.04" fill="#e0e0e0"/>
<circle cx="156.0" cy="165.4" r="0.71" fill="#cdcdcd"/>
<circle cx="138.7" cy="168.4" r="0.50" fill="#c2c2c2"/>
<circle cx="185.5" cy="166.8" r="0.75" fill="#e5e5e5"/>
<circle cx="172.0" cy="170.0" r="0.68" fill="#e0e0e0"/>
<circle cx="124.9" cy="168.9" r="0.46" fill="#aaaaaa"/>
<circle cx="123.0" cy="166.3" r="0.89" fill="#989898"/>
<circle cx="177.0" cy="163.9" r="1.02" fill="#f9f9f9"/>
<circle cx="156.8" cy="171.0" r="1.01" fill="#c5c5c5"/>
<circle cx="175.4" cy="163.3" r="0.92" fill="#dadada"/>
<circle cx="169.3" cy="164.4" r="0.50" fill="#cccccc"/>
<circle cx="156.2" cy="169.5" r="0.56" fill="#d1d1d1"/>
<circle cx="184.1" cy="165.4" r="0.94" fill="#fafafa"/>
<circle cx="161.3" cy="167.2" r="0.70" fill="#c7c7c7"/>
<circle cx="119.1" cy="163.7" r="0.62" fill="#a8a8a8"/>
<circle cx="178.8" cy="166.4" r="0.98" fill="#d1d1d1"/>
<circle cx="178.6" cy="171.5" r="0.88" fill="#c5c5c5"/>
<circle cx="128.3" cy="168.4" r="0.64" fill="#ececec"/>
<circle cx="112.8" cy="169.0" r="0.65" fill="#c2c2c2"/>
<circle cx="151.3" cy="172.3" r="1.05" fill="#bbbbbb"/>
<circle cx="183.2" cy="172.1" r="0.77" fill="#d1d1d1"/>
<circle cx="124.7" cy="170.5" r="0.74" fill="#e6e6e6"/>
<circle cx="180.5" cy="168.9" r="0.87" fill="#cfcfcf"/>
<circle cx="119.6" cy="167.4" r="0.49" fill="#a8a8a8"/>
<circle cx="185.0" cy="166.6" r="0.53" fill="#c3c3c3"/>
<circle cx="114.1" cy="168.8" r="0.59" fill="#acacac"/>
<circle cx="158.5" cy="171.8" r="0.46" fill="#e1e1e1"/>
<circle cx="154.3" cy="167.6" r="0.70" fill="#979797"/>
<circle cx="136.6" cy="168.0" r="0.65" fill="#fefefe"/>
<circle cx="135.7" cy="171.0" r="0.94" fill="#e9e9e9"/>
<circle cx="147.4" cy="167.7" r="0.96" fill="#a2a2a2"/>
<circle cx="126.8" cy="163.1" r="0.74" fill="#c5c5c5"/>
<circle cx="183.1" cy="171.8" r="0.69" fill="#cacaca"/>
<circle cx="117.6" cy="170.2" r="0.76" fill="#a7a7a7"/>
<circle cx="177.0" cy="163.4" r="0.57" fill="#c8c8c8"/>
<circle cx="186.3" cy="164.3" r="0.61" fill="#e9e9e9"/>
<circle cx="135.4" cy="171.8" r="0.46" fill="#aeaeae"/>
<circle cx="133.4" cy="171.1" r="0.51" fill="#dcdcdc"/>
<circle cx="177.8" cy="172.3" r="0.93" fill="#9b9b9b"/>
<circle cx="146.7" cy="165.1" r="0.52" fill="#afafaf"/>
<circle cx="166.1" cy="168.5" r="0.53" fill="#b3b3b3"/>
<circle cx="114.6" cy="171.8" r="0.90" fill="#c7c7c7"/>
<circle cx="183.5" cy="172.3" r="0.57" fill="#b0b0b0"/>
<circle cx="124.2" cy="169.0" r="0.81" fill="#cccccc"/>
<circle cx="169.1" cy="168.0" r="0.64" fill="#dcdcdc"/>
<circle cx="182.6" cy="163.5" r="0.74" fill="#a4a4a4"/>
<circle cx="167.0" cy="167.1" r="0.95" fill="#dcdcdc"/>
<circle cx="183.4" cy="168.5" r="0.81" fill="#fcfcfc"/>
<circle cx="171.3" cy="166.2" r="0.51" fill="#f6f6f6"/>
<circle cx="114.4" cy="171.8" r="1.01" fill="#dbdbdb"/>
<circle cx="182.6" cy="168.8" r="0.90" fill="#d4d4d4"/>
<circle cx="126.6" cy="163.7" r="0.90" fill="#c5c5c5"/>
<circle cx="119.1" cy="168.3" r="0.61" fill="#b1b1b1"/>
<circle cx="177.0" cy="168.9" r="0.90" fill="#ebebeb"/>
<circle cx="143.1" cy="167.3" r="0.71" fill="#bbbbbb"/>
<circle cx="169.5" cy="171.4" r="0.63" fill="#e0e0e0"/>
<circle cx="126.1" cy="163.1" r="0.86" fill="#e7e7e7"/>
<circle cx="134.9" cy="172.5" r="0.88" fill="#b7b7b7"/>
<circle cx="168.0" cy="171.0" r="0.53" fill="#f5f5f5"/>
<circle cx="142.9" cy="165.6" r="0.68" fill="#cdcdcd"/>
<circle cx="150.1" cy="165.8" r="0.49" fill="#d8d8d8"/>
<circle cx="164.8" cy="169.6" r="0.69" fill="#f0f0f0"/>
<circle cx="110.8" cy="164.2" r="0.46" fill="#d0d0d0"/>
<circle cx="149.8" cy="165.2" r="0.77" fill="#969696"/>
<circle cx="112.3" cy="172.1" r="0.98" fill="#9d9d9d"/>
<circle cx="160.0" cy="167.8" r="0.77" fill="#eeeeee"/>
<circle cx="158.9" cy="171.9" r="0.86" fill="#f6f6f6"/>
<circle cx="118.5" cy="170.8" r="0.64" fill="#f6f6f6"/>
<circle cx="170.4" cy="172.2" r="0.90" fill="#bfbfbf"/>
<circle cx="149.8" cy="170.4" r="0.48" fill="#cecece"/>
<circle cx="153.2" cy="169.8" r="0.66" fill="#d5d5d5"/>
<circle cx="166.2" cy="166.6" r="0.86" fill="#f4f4f4"/>
<circle cx="137.9" cy="168.0" r="0.74" fill="#eeeeee"/>
<circle cx="130.3" cy="165.7" r="0.69" fill="#dadada"/>
<circle cx="121.4" cy="172.3" r="0.75" fill="#e2e2e2"/>
<circle cx="141.3" cy="163.3" r="0.68" fill="#d2d2d2"/>
<circle cx="116.5" cy="172.3" r="0.80" fill="#c6c6c6"/>
<circle cx="111.7" cy="165.3" r="0.65" fill="#dadada"/>
<circle cx="122.9" cy="167.6" r="0.61" fill="#d1d1d1"/>
<circle cx="162.5" cy="167.9" r="0.90" fill="#d7d7d7"/>
<circle cx="115.9" cy="169.2" r="0.74" fill="#e5e5e5"/>
<circle cx="181.7" cy="166.3" r="0.96" fill="#aeaeae"/>
<circle cx="159.6" cy="163.1" r="0.94" fill="#c4c4c4"/>
<circle cx="144.5" cy="167.7" r="0.67" fill="#aeaeae"/>
<circle cx="162.8" cy="169.0" r="0.48" fill="#b2b2b2"/>
<circle cx="181.2" cy="165.7" r="0.63" fill="#d2d2d2"/>
<circle cx="138.2" cy="172.0" r="1.04" fill="#a3a3a3"/>
<circle cx="126.8" cy="164.6" r="0.72" fill="#b3b3b3"/>
<circle cx="161.4" cy="171.4" r="0.49" fill="#989898"/>
<circle cx="118.1" cy="165.9" r="0.53" fill="#c3c3c3"/>
<circle cx="137.5" cy="169.9" r="1.03" fill="#fcfcfc"/>
<circle cx="141.9" cy="169.1" r="0.53" fill="#d6d6d6"/>
<circle cx="177.5" cy="171.4" r="0.53" fill="#a7a7a7"/>
<circle cx="178.9" cy="169.6" r="0.91" fill="#9d9d9d"/>
<circle cx="157.1" cy="163.2" r="0.89" fill="#e9e9e9"/>
<circle cx="134.3" cy="163.0" r="0.89" fill="#fefefe"/>
<circle cx="157.3" cy="166.5" r="0.65" fill="#ebebeb"/>
<circle cx="184.1" cy="166.5" r="0.58" fill="#fefefe"/>
<circle cx="142.4" cy="167.2" r="0.64" fill="#e2e2e2"/>
<circle cx="185.2" cy="167.5" r="0.96" fill="#c0c0c0"/>
<circle cx="142.0" cy="170.6" r="1.03" fill="#e5e5e5"/>
<circle cx="163.8" cy="170.9" r="1.00" fill="#fafafa"/>
<circle cx="150.4" cy="166.7" r="0.45" fill="#cdcdcd"/>
<circle cx="136.9" cy="163.0" r="1.05" fill="#b6b6b6"/>
<circle cx="181.3" cy="163.1" r="0.67" fill="#e8e8e8"/>
<circle cx="161.3" cy="169.4" r="0.74" fill="#9f9f9f"/>
<circle cx="173.5" cy="170.2" r="0.74" fill="#d1d1d1"/>
<circle cx="171.4" cy="167.7" r="0.74" fill="#c8c8c8"/>
<circle cx="166.2" cy="170.0" r="0.65" fill="#e7e7e7"/>
<circle cx="138.4" cy="169.4" r="0.68" fill="#f4f4f4"/>
<circle cx="181.9" cy="170.4" r="0.68" fill="#bababa"/>
<circle cx="142.9" cy="168.7" r="0.47" fill="#cfcfcf"/>
<circle cx="181.0" cy="163.6" r="0.98" fill="#d2d2d2"/>
<circle cx="186.3" cy="169.9" r="0.88" fill="#e5e5e5"/>
<circle cx="141.9" cy="164.1" r="0.96" fill="#f2f2f2"/>
<circle cx="165.0" cy="165.1" r="0.75" fill="#cccccc"/>
<circle cx="137.5" cy="167.7" r="0.72" fill="#fcfcfc"/>
<circle cx="157.8" cy="172.3" r="1.00" fill="#a8a8a8"/>
<circle cx="168.9" cy="166.6" r="0.81" fill="#d1d1d1"/>
<circle cx="166.5" cy="165.9" r="0.86" fill="#bcbcbc"/>
<circle cx="170.0" cy="171.9" r="0.99" fill="#e4e4e4"/>
<circle cx="186.7" cy="171.9" r="0.82" fill="#bebebe"/>
<circle cx="178.9" cy="171.9" r="1.02" fill="#e4e4e4"/>
<circle cx="173.8" cy="171.9" r="1.31" fill="#d5d5d5"/>
<circle cx="186.0" cy="171.9" r="0.91" fill="#e9e9e9"/>
<circle cx="173.9" cy="171.9" r="0.89" fill="#d7d7d7"/>
<circle cx="137.6" cy="171.9" r="0.87" fill="#d6d6d6"/>
<circle cx="175.1" cy="171.9" r="0.65" fill="#f9f9f9"/>
<circle cx="170.7" cy="171.9" r="1.05" fill="#e4e4e4"/>
<circle cx="132.4" cy="171.9" r="1.21" fill="#f2f2f2"/>
<circle cx="138.8" cy="171.9" r="1.00" fill="#cbcbcb"/>
<circle cx="128.6" cy="171.9" r="1.28" fill="#e4e4e4"/>
<circle cx="143.9" cy="171.9" r="1.11" fill="#c9c9c9"/>
<circle cx="109.3" cy="171.9" r="0.89" fill="#e0e0e0"/>
<circle cx="123.4" cy="171.9" r="1.03" fill="#d1d1d1"/>
<circle cx="129.5" cy="171.9" r="1.19" fill="#d3d3d3"/>
<circle cx="166.9" cy="171.9" r="1.20" fill="#d4d4d4"/>
<circle cx="111.5" cy="171.9" r="1.27" fill="#dfdfdf"/>
<circle cx="154.2" cy="171.9" r="1.15" fill="#dedede"/>
</g>
<rect x="109" y="161.95000000000002" width="78" height="0.9" fill="#b4b4b4" opacity="0.9"/>
<rect x="109" y="114" width="78" height="0.9" fill="#040404"/>
<rect x="109" y="114" width="0.7" height="58.5" fill="#2a2a2a" opacity="0.6"/>
</g>
<text x="112.0" y="124.0" font-size="8.5" text-anchor="start" fill="#eeeeee" textLength="21.9" lengthAdjust="spacingAndGlyphs" stroke="#eeeeee" stroke-width="0.08">t = 0h</text>
<defs><linearGradient id="g189_114" x1="0" y1="0" x2="0" y2="1"><stop offset="0" stop-color="#303030"/><stop offset="0.8" stop-color="#383838"/><stop offset="1" stop-color="#383838"/></linearGradient></defs>
<clipPath id="c9"><rect x="189.5" y="114" width="78.2" height="58.5"/></clipPath>
<g clip-path="url(#c9)">
<rect x="189.5" y="114" width="78.2" height="58.5" fill="url(#g189_114)"/>
<g filter="url(#b10)">
<circle cx="192.2" cy="164.7" r="2.9" fill="#a0a0a0" opacity="0.14"/>
<circle cx="258.8" cy="138.4" r="2.8" fill="#a0a0a0" opacity="0.14"/>
<circle cx="237.8" cy="117.4" r="2.1" fill="#a0a0a0" opacity="0.14"/>
<circle cx="201.3" cy="160.6" r="2.8" fill="#a0a0a0" opacity="0.11"/>
<circle cx="194.3" cy="130.2" r="1.6" fill="#a0a0a0" opacity="0.11"/>
<circle cx="261.2" cy="144.8" r="1.7" fill="#a0a0a0" opacity="0.11"/>
<circle cx="239.0" cy="136.6" r="2.0" fill="#a0a0a0" opacity="0.15"/>
<circle cx="194.7" cy="124.8" r="2.3" fill="#a0a0a0" opacity="0.15"/>
<circle cx="195.1" cy="124.0" r="2.5" fill="#a0a0a0" opacity="0.09"/>
<circle cx="242.7" cy="165.7" r="1.7" fill="#a0a0a0" opacity="0.12"/>
<circle cx="198.0" cy="119.9" r="2.0" fill="#a0a0a0" opacity="0.17"/>
<circle cx="247.4" cy="164.8" r="2.4" fill="#a0a0a0" opacity="0.14"/>
<circle cx="240.2" cy="143.8" r="2.2" fill="#a0a0a0" opacity="0.12"/>
<circle cx="213.8" cy="161.0" r="2.0" fill="#a0a0a0" opacity="0.15"/>
<circle cx="217.1" cy="167.7" r="2.1" fill="#a0a0a0" opacity="0.12"/>
<circle cx="217.8" cy="128.0" r="2.7" fill="#a0a0a0" opacity="0.10"/>
<circle cx="212.6" cy="142.1" r="2.3" fill="#a0a0a0" opacity="0.16"/>
<circle cx="227.6" cy="123.0" r="1.7" fill="#a0a0a0" opacity="0.14"/>
<circle cx="207.9" cy="152.6" r="1.8" fill="#a0a0a0" opacity="0.11"/>
<circle cx="257.7" cy="134.2" r="2.8" fill="#a0a0a0" opacity="0.16"/>
<circle cx="225.4" cy="137.7" r="1.7" fill="#a0a0a0" opacity="0.13"/>
<circle cx="198.3" cy="167.0" r="2.0" fill="#a0a0a0" opacity="0.10"/>
<circle cx="213.9" cy="161.4" r="2.2" fill="#a0a0a0" opacity="0.09"/>
<circle cx="229.6" cy="153.3" r="2.7" fill="#a0a0a0" opacity="0.15"/>
<circle cx="211.0" cy="156.1" r="1.8" fill="#a0a0a0" opacity="0.14"/>
<circle cx="261.0" cy="119.5" r="2.6" fill="#a0a0a0" opacity="0.13"/>
<circle cx="197.2" cy="136.0" r="2.3" fill="#a0a0a0" opacity="0.16"/>
<circle cx="198.9" cy="123.1" r="2.5" fill="#a0a0a0" opacity="0.13"/>
<circle cx="222.0" cy="158.6" r="3.0" fill="#a0a0a0" opacity="0.17"/>
<circle cx="231.3" cy="133.8" r="2.3" fill="#a0a0a0" opacity="0.13"/>
<circle cx="243.8" cy="160.0" r="2.7" fill="#a0a0a0" opacity="0.11"/>
<circle cx="231.8" cy="143.5" r="2.3" fill="#a0a0a0" opacity="0.08"/>
<circle cx="224.7" cy="159.7" r="1.7" fill="#a0a0a0" opacity="0.17"/>
<circle cx="246.4" cy="146.2" r="2.6" fill="#a0a0a0" opacity="0.14"/>
<circle cx="195.6" cy="165.1" r="1.9" fill="#a0a0a0" opacity="0.10"/>
<circle cx="207.8" cy="150.4" r="1.4" fill="#a0a0a0" opacity="0.09"/>
<circle cx="231.6" cy="126.1" r="2.1" fill="#a0a0a0" opacity="0.13"/>
<circle cx="230.7" cy="117.6" r="1.8" fill="#a0a0a0" opacity="0.09"/>
<circle cx="202.7" cy="119.9" r="2.0" fill="#a0a0a0" opacity="0.10"/>
<circle cx="203.6" cy="141.3" r="2.6" fill="#a0a0a0" opacity="0.17"/>
<circle cx="196.8" cy="134.0" r="2.9" fill="#a0a0a0" opacity="0.09"/>
<circle cx="247.6" cy="151.1" r="2.2" fill="#a0a0a0" opacity="0.17"/>
<circle cx="245.0" cy="124.7" r="2.9" fill="#a0a0a0" opacity="0.17"/>
<circle cx="223.9" cy="161.6" r="2.2" fill="#a0a0a0" opacity="0.16"/>
<circle cx="210.4" cy="136.9" r="1.5" fill="#a0a0a0" opacity="0.10"/>
<circle cx="260.5" cy="124.3" r="1.9" fill="#a0a0a0" opacity="0.12"/>
<circle cx="242.8" cy="168.2" r="2.1" fill="#a0a0a0" opacity="0.09"/>
<circle cx="213.1" cy="136.2" r="2.9" fill="#a0a0a0" opacity="0.12"/>
<circle cx="211.5" cy="168.1" r="1.5" fill="#a0a0a0" opacity="0.17"/>
<circle cx="250.0" cy="120.9" r="2.4" fill="#a0a0a0" opacity="0.11"/>
<circle cx="223.3" cy="160.8" r="3.0" fill="#a0a0a0" opacity="0.14"/>
<circle cx="260.5" cy="166.6" r="2.0" fill="#a0a0a0" opacity="0.15"/>
<circle cx="240.1" cy="155.3" r="1.4" fill="#a0a0a0" opacity="0.15"/>
<circle cx="205.9" cy="157.0" r="1.6" fill="#a0a0a0" opacity="0.09"/>
<circle cx="199.4" cy="145.6" r="2.8" fill="#a0a0a0" opacity="0.12"/>
<circle cx="246.0" cy="169.3" r="2.1" fill="#a0a0a0" opacity="0.10"/>
<circle cx="236.5" cy="139.4" r="2.8" fill="#a0a0a0" opacity="0.17"/>
<circle cx="193.2" cy="134.0" r="2.5" fill="#a0a0a0" opacity="0.15"/>
<circle cx="251.1" cy="151.0" r="2.7" fill="#a0a0a0" opacity="0.14"/>
<circle cx="200.8" cy="160.2" r="2.9" fill="#a0a0a0" opacity="0.15"/>
<circle cx="204.0" cy="121.9" r="2.4" fill="#a0a0a0" opacity="0.11"/>
<circle cx="212.2" cy="166.3" r="2.2" fill="#a0a0a0" opacity="0.13"/>
<circle cx="214.0" cy="166.4" r="2.8" fill="#a0a0a0" opacity="0.15"/>
<circle cx="261.7" cy="146.9" r="2.8" fill="#a0a0a0" opacity="0.15"/>
<circle cx="194.8" cy="145.6" r="1.8" fill="#a0a0a0" opacity="0.15"/>
<circle cx="239.2" cy="123.1" r="2.0" fill="#a0a0a0" opacity="0.12"/>
<circle cx="253.9" cy="160.2" r="2.6" fill="#a0a0a0" opacity="0.12"/>
<circle cx="264.6" cy="145.1" r="2.9" fill="#a0a0a0" opacity="0.14"/>
<circle cx="258.4" cy="121.1" r="1.5" fill="#a0a0a0" opacity="0.09"/>
<circle cx="206.1" cy="151.6" r="2.6" fill="#a0a0a0" opacity="0.15"/>
<circle cx="258.9" cy="125.6" r="3.0" fill="#a0a0a0" opacity="0.15"/>
<circle cx="250.9" cy="168.6" r="2.2" fill="#a0a0a0" opacity="0.16"/>
<circle cx="243.1" cy="166.3" r="1.5" fill="#a0a0a0" opacity="0.12"/>
<circle cx="218.6" cy="154.0" r="1.7" fill="#a0a0a0" opacity="0.13"/>
<circle cx="226.7" cy="124.3" r="1.6" fill="#a0a0a0" opacity="0.15"/>
<circle cx="260.9" cy="128.1" r="1.6" fill="#a0a0a0" opacity="0.14"/>
<circle cx="206.3" cy="150.8" r="2.4" fill="#a0a0a0" opacity="0.13"/>
<circle cx="205.2" cy="149.3" r="2.2" fill="#a0a0a0" opacity="0.16"/>
<circle cx="209.6" cy="149.5" r="1.9" fill="#a0a0a0" opacity="0.17"/>
<circle cx="227.0" cy="119.7" r="2.2" fill="#a0a0a0" opacity="0.12"/>
<circle cx="199.4" cy="117.1" r="2.7" fill="#a0a0a0" opacity="0.13"/>
<circle cx="225.0" cy="132.3" r="1.5" fill="#a0a0a0" opacity="0.09"/>
<circle cx="247.9" cy="160.6" r="1.7" fill="#a0a0a0" opacity="0.11"/>
<circle cx="215.1" cy="121.0" r="2.2" fill="#a0a0a0" opacity="0.16"/>
<circle cx="254.4" cy="143.6" r="3.0" fill="#a0a0a0" opacity="0.14"/>
<circle cx="201.5" cy="119.2" r="2.5" fill="#a0a0a0" opacity="0.09"/>
<circle cx="195.5" cy="164.3" r="1.5" fill="#a0a0a0" opacity="0.18"/>
<circle cx="232.7" cy="138.3" r="2.4" fill="#a0a0a0" opacity="0.09"/>
<circle cx="218.9" cy="134.6" r="2.6" fill="#a0a0a0" opacity="0.16"/>
<circle cx="204.9" cy="153.5" r="2.1" fill="#a0a0a0" opacity="0.17"/>
<circle cx="217.4" cy="126.1" r="2.4" fill="#a0a0a0" opacity="0.18"/>
<circle cx="242.8" cy="118.3" r="2.1" fill="#a0a0a0" opacity="0.13"/>
<circle cx="198.6" cy="161.2" r="2.4" fill="#a0a0a0" opacity="0.11"/>
<circle cx="244.5" cy="156.7" r="2.1" fill="#a0a0a0" opacity="0.10"/>
<circle cx="243.5" cy="157.2" r="2.3" fill="#a0a0a0" opacity="0.15"/>
<circle cx="209.6" cy="166.9" r="2.5" fill="#a0a0a0" opacity="0.16"/>
<circle cx="258.5" cy="130.9" r="1.9" fill="#a0a0a0" opacity="0.18"/>
<circle cx="263.7" cy="147.6" r="2.8" fill="#a0a0a0" opacity="0.16"/>
<circle cx="225.5" cy="136.4" r="2.3" fill="#a0a0a0" opacity="0.16"/>
<circle cx="258.2" cy="138.8" r="1.7" fill="#a0a0a0" opacity="0.13"/>
<circle cx="204.2" cy="124.6" r="1.9" fill="#a0a0a0" opacity="0.08"/>
<circle cx="237.5" cy="146.9" r="2.0" fill="#a0a0a0" opacity="0.16"/>
<circle cx="242.2" cy="145.7" r="1.5" fill="#a0a0a0" opacity="0.11"/>
<circle cx="203.4" cy="118.0" r="2.8" fill="#a0a0a0" opacity="0.09"/>
<circle cx="219.5" cy="148.3" r="2.5" fill="#a0a0a0" opacity="0.17"/>
<circle cx="263.1" cy="160.6" r="2.9" fill="#a0a0a0" opacity="0.12"/>
<circle cx="248.1" cy="168.9" r="1.8" fill="#a0a0a0" opacity="0.11"/>
<circle cx="254.2" cy="144.5" r="1.6" fill="#a0a0a0" opacity="0.17"/>
<circle cx="235.5" cy="152.2" r="2.1" fill="#a0a0a0" opacity="0.12"/>
<circle cx="244.6" cy="138.3" r="2.1" fill="#a0a0a0" opacity="0.15"/>
</g>
<g filter="url(#b4)">
<circle cx="197.1" cy="156.7" r="0.51" fill="#cdcdcd"/>
<circle cx="252.5" cy="125.0" r="0.66" fill="#9b9b9b"/>
<circle cx="223.2" cy="116.6" r="0.74" fill="#8f8f8f"/>
<circle cx="212.4" cy="116.5" r="0.85" fill="#c0c0c0"/>
<circle cx="221.2" cy="127.9" r="0.67" fill="#bdbdbd"/>
<circle cx="217.6" cy="129.2" r="0.70" fill="#9c9c9c"/>
<circle cx="247.5" cy="135.9" r="0.70" fill="#8f8f8f"/>
<circle cx="234.0" cy="132.2" r="0.59" fill="#a7a7a7"/>
<circle cx="218.3" cy="142.0" r="0.57" fill="#c9c9c9"/>
<circle cx="259.6" cy="119.0" r="0.54" fill="#b2b2b2"/>
<circle cx="221.7" cy="141.3" r="0.75" fill="#c9c9c9"/>
<circle cx="195.1" cy="130.8" r="0.58" fill="#c9c9c9"/>
<circle cx="248.0" cy="143.8" r="0.66" fill="#a2a2a2"/>
<circle cx="233.8" cy="148.0" r="0.87" fill="#979797"/>
<circle cx="243.2" cy="131.9" r="0.86" fill="#acacac"/>
<circle cx="198.8" cy="152.5" r="0.76" fill="#a3a3a3"/>
<circle cx="213.2" cy="148.2" r="0.57" fill="#9e9e9e"/>
<circle cx="244.8" cy="149.6" r="0.87" fill="#a8a8a8"/>
<circle cx="252.1" cy="119.0" r="0.60" fill="#bebebe"/>
<circle cx="224.3" cy="138.7" r="0.51" fill="#9b9b9b"/>
<circle cx="225.5" cy="150.7" r="0.85" fill="#c4c4c4"/>
<circle cx="265.4" cy="140.8" r="0.50" fill="#a8a8a8"/>
<circle cx="194.6" cy="140.8" r="0.85" fill="#969696"/>
<circle cx="211.2" cy="142.9" r="0.65" fill="#acacac"/>
<circle cx="203.5" cy="129.4" r="0.77" fill="#b7b7b7"/>
<circle cx="264.6" cy="119.7" r="0.54" fill="#9b9b9b"/>
<circle cx="218.3" cy="129.1" r="0.70" fill="#cbcbcb"/>
<circle cx="234.3" cy="120.7" r="0.75" fill="#9e9e9e"/>
<circle cx="224.4" cy="132.5" r="0.85" fill="#c2c2c2"/>
<circle cx="195.8" cy="138.3" r="0.64" fill="#c5c5c5"/>
<circle cx="220.3" cy="136.2" r="0.76" fill="#8e8e8e"/>
<circle cx="242.7" cy="146.1" r="0.55" fill="#a9a9a9"/>
<circle cx="210.5" cy="155.7" r="0.71" fill="#a4a4a4"/>
<circle cx="220.3" cy="141.6" r="0.64" fill="#cccccc"/>
<circle cx="266.6" cy="148.1" r="0.63" fill="#acacac"/>
<circle cx="256.6" cy="133.0" r="0.65" fill="#bbbbbb"/>
<circle cx="231.8" cy="124.2" r="0.61" fill="#cbcbcb"/>
<circle cx="263.1" cy="133.0" r="0.73" fill="#a3a3a3"/>
<circle cx="261.4" cy="141.6" r="0.78" fill="#c5c5c5"/>
<circle cx="237.6" cy="142.3" r="0.56" fill="#c6c6c6"/>
<circle cx="239.9" cy="145.7" r="0.62" fill="#c1c1c1"/>
<circle cx="214.9" cy="140.5" r="0.90" fill="#c2c2c2"/>
<circle cx="254.5" cy="147.5" r="0.78" fill="#a6a6a6"/>
<circle cx="259.5" cy="160.3" r="0.77" fill="#aaaaaa"/>
<circle cx="194.0" cy="139.2" r="0.86" fill="#c6c6c6"/>
<circle cx="226.0" cy="143.6" r="0.82" fill="#8d8d8d"/>
<circle cx="209.6" cy="134.6" r="0.74" fill="#a4a4a4"/>
<circle cx="258.9" cy="144.2" r="0.66" fill="#949494"/>
<circle cx="254.2" cy="116.6" r="0.69" fill="#aaaaaa"/>
<circle cx="198.4" cy="117.4" r="0.50" fill="#cacaca"/>
<circle cx="215.0" cy="118.2" r="0.69" fill="#b4b4b4"/>
<circle cx="239.7" cy="126.3" r="0.76" fill="#d0d0d0"/>
<circle cx="213.0" cy="120.3" r="0.54" fill="#a0a0a0"/>
<circle cx="192.8" cy="125.9" r="0.82" fill="#9f9f9f"/>
<circle cx="252.5" cy="150.6" r="0.82" fill="#8d8d8d"/>
<circle cx="255.4" cy="143.2" r="0.75" fill="#b6b6b6"/>
<circle cx="253.2" cy="135.7" r="0.71" fill="#a4a4a4"/>
<circle cx="226.4" cy="139.0" r="0.57" fill="#bbbbbb"/>
<circle cx="240.3" cy="154.7" r="0.50" fill="#a8a8a8"/>
<circle cx="200.5" cy="151.6" r="0.70" fill="#bbbbbb"/>
<circle cx="215.7" cy="140.8" r="0.51" fill="#bdbdbd"/>
<circle cx="236.3" cy="123.7" r="0.71" fill="#bebebe"/>
<circle cx="264.7" cy="121.2" r="0.80" fill="#c9c9c9"/>
<circle cx="245.4" cy="124.6" r="0.65" fill="#bdbdbd"/>
<circle cx="221.7" cy="148.4" r="0.88" fill="#aaaaaa"/>
<circle cx="245.0" cy="137.7" r="0.56" fill="#cacaca"/>
<circle cx="258.1" cy="131.4" r="0.56" fill="#949494"/>
<circle cx="208.8" cy="143.4" r="0.68" fill="#9a9a9a"/>
<circle cx="246.7" cy="149.6" r="0.77" fill="#959595"/>
<circle cx="234.9" cy="118.2" r="0.53" fill="#bebebe"/>
<circle cx="261.5" cy="141.4" r="0.83" fill="#b9b9b9"/>
<circle cx="229.2" cy="154.4" r="0.62" fill="#909090"/>
<circle cx="241.2" cy="148.6" r="0.75" fill="#afafaf"/>
<circle cx="260.5" cy="137.1" r="0.65" fill="#959595"/>
<circle cx="248.5" cy="160.1" r="0.86" fill="#d0d0d0"/>
<circle cx="202.3" cy="136.3" r="0.70" fill="#aeaeae"/>
<circle cx="250.4" cy="134.0" r="0.60" fill="#cfcfcf"/>
<circle cx="212.1" cy="125.8" r="0.83" fill="#9c9c9c"/>
<circle cx="211.4" cy="149.6" r="0.66" fill="#acacac"/>
<circle cx="253.2" cy="127.4" r="0.88" fill="#cccccc"/>
<circle cx="192.5" cy="123.4" r="0.68" fill="#bfbfbf"/>
<circle cx="263.7" cy="141.4" r="0.90" fill="#bbbbbb"/>
<circle cx="221.1" cy="128.1" r="0.53" fill="#a7a7a7"/>
<circle cx="214.6" cy="150.9" r="0.57" fill="#b1b1b1"/>
<circle cx="239.7" cy="157.6" r="0.54" fill="#aaaaaa"/>
<circle cx="252.4" cy="126.6" r="0.67" fill="#ababab"/>
<circle cx="213.1" cy="156.7" r="0.68" fill="#d0d0d0"/>
<circle cx="231.6" cy="130.2" r="0.76" fill="#a3a3a3"/>
<circle cx="222.6" cy="145.2" r="0.83" fill="#b2b2b2"/>
<circle cx="234.2" cy="149.7" r="0.78" fill="#a7a7a7"/>
<circle cx="218.2" cy="122.9" r="0.63" fill="#8d8d8d"/>
<circle cx="230.5" cy="151.7" r="0.69" fill="#bdbdbd"/>
<circle cx="200.1" cy="119.1" r="0.79" fill="#8e8e8e"/>
<circle cx="229.2" cy="156.3" r="0.89" fill="#c8c8c8"/>
<circle cx="216.7" cy="134.9" r="0.67" fill="#c1c1c1"/>
<circle cx="245.4" cy="137.4" r="0.90" fill="#c0c0c0"/>
<circle cx="247.1" cy="139.8" r="0.70" fill="#b4b4b4"/>
<circle cx="261.8" cy="135.5" r="0.89" fill="#b3b3b3"/>
<circle cx="198.4" cy="141.9" r="0.73" fill="#cdcdcd"/>
<circle cx="249.5" cy="127.2" r="0.60" fill="#bdbdbd"/>
<circle cx="235.9" cy="129.1" r="0.81" fill="#8e8e8e"/>
<circle cx="230.4" cy="155.0" r="0.60" fill="#a1a1a1"/>
<circle cx="247.0" cy="141.7" r="0.57" fill="#909090"/>
<circle cx="238.8" cy="126.7" r="0.66" fill="#c1c1c1"/>
<circle cx="218.5" cy="149.7" r="0.74" fill="#969696"/>
<circle cx="239.8" cy="144.3" r="0.59" fill="#bababa"/>
<circle cx="264.6" cy="122.4" r="0.72" fill="#cccccc"/>
<circle cx="206.9" cy="147.0" r="0.79" fill="#b7b7b7"/>
<circle cx="243.3" cy="133.6" r="0.80" fill="#bbbbbb"/>
<circle cx="264.1" cy="126.1" r="0.86" fill="#aaaaaa"/>
<circle cx="266.2" cy="159.0" r="0.64" fill="#999999"/>
<circle cx="227.8" cy="127.3" r="0.56" fill="#9c9c9c"/>
<circle cx="191.9" cy="150.0" r="0.74" fill="#a8a8a8"/>
<circle cx="210.2" cy="148.9" r="0.69" fill="#9a9a9a"/>
<circle cx="256.4" cy="116.7" r="0.65" fill="#a0a0a0"/>
<circle cx="218.7" cy="159.4" r="0.72" fill="#959595"/>
<circle cx="257.2" cy="135.1" r="0.83" fill="#c5c5c5"/>
<circle cx="208.1" cy="158.4" r="0.52" fill="#959595"/>
<circle cx="232.1" cy="146.2" r="0.65" fill="#bdbdbd"/>
<circle cx="236.8" cy="126.2" r="0.67" fill="#959595"/>
<circle cx="204.5" cy="152.0" r="0.82" fill="#c1c1c1"/>
<circle cx="225.1" cy="136.3" r="0.58" fill="#959595"/>
<circle cx="218.8" cy="148.3" r="0.73" fill="#a5a5a5"/>
<circle cx="202.9" cy="128.4" r="0.80" fill="#aaaaaa"/>
<circle cx="257.0" cy="123.1" r="0.56" fill="#9c9c9c"/>
<circle cx="233.1" cy="123.3" r="0.81" fill="#8e8e8e"/>
<circle cx="244.0" cy="158.9" r="0.83" fill="#a9a9a9"/>
<circle cx="197.7" cy="136.3" r="0.60" fill="#c8c8c8"/>
<circle cx="259.1" cy="129.2" r="0.83" fill="#cccccc"/>
<circle cx="222.7" cy="122.5" r="0.83" fill="#a1a1a1"/>
<circle cx="192.1" cy="127.4" r="0.71" fill="#b2b2b2"/>
<circle cx="210.2" cy="125.8" r="0.75" fill="#989898"/>
<circle cx="257.0" cy="152.5" r="0.67" fill="#959595"/>
<circle cx="213.0" cy="142.5" r="0.54" fill="#bdbdbd"/>
<circle cx="211.2" cy="142.0" r="0.60" fill="#bebebe"/>
<circle cx="217.3" cy="158.5" r="0.73" fill="#9b9b9b"/>
<circle cx="234.7" cy="137.6" r="0.62" fill="#b6b6b6"/>
<circle cx="193.8" cy="141.1" r="0.55" fill="#a8a8a8"/>
<circle cx="232.1" cy="122.9" r="0.74" fill="#b7b7b7"/>
<circle cx="236.8" cy="157.1" r="0.81" fill="#949494"/>
<circle cx="261.3" cy="156.5" r="0.74" fill="#c5c5c5"/>
<circle cx="223.6" cy="141.5" r="0.56" fill="#adadad"/>
<circle cx="251.0" cy="149.1" r="0.86" fill="#b0b0b0"/>
<circle cx="218.8" cy="159.8" r="0.51" fill="#a9a9a9"/>
<circle cx="249.4" cy="141.1" r="0.59" fill="#8d8d8d"/>
<circle cx="205.1" cy="149.5" r="0.84" fill="#b3b3b3"/>
<circle cx="230.2" cy="122.3" r="0.81" fill="#9b9b9b"/>
<circle cx="194.8" cy="160.3" r="0.56" fill="#b5b5b5"/>
<circle cx="236.4" cy="147.4" r="0.87" fill="#9a9a9a"/>
<circle cx="231.4" cy="118.1" r="0.64" fill="#a7a7a7"/>
<circle cx="257.7" cy="134.4" r="0.61" fill="#bcbcbc"/>
<circle cx="212.2" cy="142.3" r="0.86" fill="#9d9d9d"/>
<circle cx="205.2" cy="129.9" r="0.78" fill="#bcbcbc"/>
<circle cx="199.5" cy="132.9" r="0.74" fill="#a3a3a3"/>
<circle cx="240.5" cy="141.5" r="0.50" fill="#8f8f8f"/>
<circle cx="256.6" cy="154.0" r="0.53" fill="#9b9b9b"/>
<circle cx="254.0" cy="135.8" r="0.62" fill="#cecece"/>
<circle cx="259.5" cy="120.2" r="0.52" fill="#b6b6b6"/>
<circle cx="245.5" cy="161.1" r="0.87" fill="#a4a4a4"/>
<circle cx="259.4" cy="160.3" r="0.61" fill="#c2c2c2"/>
<rect x="189.5" y="163.0" width="78.2" height="9.5" fill="#363636"/>
<circle cx="260.8" cy="165.0" r="0.68" fill="#e0e0e0"/>
<circle cx="234.3" cy="171.7" r="0.71" fill="#b4b4b4"/>
<circle cx="202.9" cy="165.6" r="0.97" fill="#9b9b9b"/>
<circle cx="259.2" cy="170.6" r="0.79" fill="#a0a0a0"/>
<circle cx="190.1" cy="164.1" r="0.95" fill="#f9f9f9"/>
<circle cx="264.3" cy="165.7" r="1.01" fill="#b3b3b3"/>
<circle cx="218.4" cy="171.6" r="0.94" fill="#d3d3d3"/>
<circle cx="212.1" cy="164.0" r="0.56" fill="#9b9b9b"/>
<circle cx="204.8" cy="168.4" r="0.64" fill="#959595"/>
<circle cx="257.7" cy="166.5" r="0.45" fill="#797979"/>
<circle cx="232.6" cy="163.3" r="0.78" fill="#7b7b7b"/>
<circle cx="226.2" cy="168.9" r="0.77" fill="#959595"/>
<circle cx="254.7" cy="172.2" r="0.94" fill="#f5f5f5"/>
<circle cx="265.0" cy="166.5" r="0.78" fill="#afafaf"/>
<circle cx="250.7" cy="164.6" r="0.59" fill="#b4b4b4"/>
<circle cx="232.0" cy="172.4" r="0.65" fill="#787878"/>
<circle cx="219.9" cy="171.3" r="0.51" fill="#bebebe"/>
<circle cx="236.3" cy="171.0" r="0.65" fill="#c9c9c9"/>
<circle cx="263.5" cy="172.2" r="0.79" fill="#a5a5a5"/>
<circle cx="240.2" cy="169.9" r="0.86" fill="#d3d3d3"/>
<circle cx="219.7" cy="169.8" r="0.66" fill="#979797"/>
<circle cx="197.7" cy="168.3" r="0.55" fill="#9e9e9e"/>
<circle cx="213.0" cy="166.5" r="0.70" fill="#fbfbfb"/>
<circle cx="230.6" cy="168.2" r="0.69" fill="#c1c1c1"/>
<circle cx="252.8" cy="168.0" r="0.76" fill="#a7a7a7"/>
<circle cx="204.3" cy="165.0" r="0.50" fill="#9e9e9e"/>
<circle cx="193.1" cy="166.9" r="0.79" fill="#878787"/>
<circle cx="248.3" cy="167.3" r="0.82" fill="#b2b2b2"/>
<circle cx="251.3" cy="169.5" r="0.52" fill="#c2c2c2"/>
<circle cx="210.4" cy="170.1" r="0.67" fill="#969696"/>
<circle cx="192.6" cy="172.4" r="0.52" fill="#999999"/>
<circle cx="261.9" cy="163.5" r="0.70" fill="#b2b2b2"/>
<circle cx="242.5" cy="170.4" r="1.03" fill="#a3a3a3"/>
<circle cx="196.5" cy="165.0" r="0.45" fill="#9c9c9c"/>
<circle cx="237.9" cy="171.5" r="0.51" fill="#9c9c9c"/>
<circle cx="258.7" cy="168.6" r="0.69" fill="#818181"/>
<circle cx="194.3" cy="165.1" r="0.82" fill="#7f7f7f"/>
<circle cx="228.8" cy="170.8" r="0.45" fill="#9e9e9e"/>
<circle cx="221.9" cy="168.8" r="0.89" fill="#d3d3d3"/>
<circle cx="223.5" cy="166.2" r="0.83" fill="#b6b6b6"/>
<circle cx="262.2" cy="171.9" r="1.02" fill="#e1e1e1"/>
<circle cx="241.6" cy="171.9" r="0.99" fill="#dbdbdb"/>
<circle cx="241.4" cy="171.9" r="1.08" fill="#f9f9f9"/>
<circle cx="213.4" cy="171.9" r="1.00" fill="#f8f8f8"/>
<circle cx="253.2" cy="171.9" r="1.04" fill="#d0d0d0"/>
<circle cx="203.5" cy="171.9" r="0.93" fill="#d7d7d7"/>
<circle cx="223.3" cy="171.9" r="0.80" fill="#dadada"/>
<circle cx="234.4" cy="171.9" r="0.68" fill="#e5e5e5"/>
<circle cx="245.0" cy="171.9" r="0.76" fill="#cccccc"/>
<circle cx="192.5" cy="171.9" r="0.98" fill="#e6e6e6"/>
<circle cx="221.7" cy="171.9" r="1.07" fill="#e2e2e2"/>
<circle cx="193.0" cy="171.9" r="0.64" fill="#dcdcdc"/>
<circle cx="261.8" cy="171.9" r="1.16" fill="#d8d8d8"/>
<circle cx="209.8" cy="171.9" r="0.71" fill="#e4e4e4"/>
<circle cx="249.3" cy="171.9" r="0.91" fill="#c3c3c3"/>
<circle cx="211.2" cy="171.9" r="1.17" fill="#ececec"/>
<circle cx="220.8" cy="171.9" r="1.31" fill="#d5d5d5"/>
<circle cx="191.3" cy="171.9" r="0.76" fill="#f3f3f3"/>
<circle cx="244.7" cy="171.9" r="0.67" fill="#cfcfcf"/>
</g>
<rect x="189.5" y="161.95000000000002" width="78.2" height="0.9" fill="#b4b4b4" opacity="0.9"/>
<rect x="189.5" y="114" width="78.2" height="0.9" fill="#282828"/>
<rect x="189.5" y="114" width="0.7" height="58.5" fill="#4e4e4e" opacity="0.6"/>
</g>
<rect x="191.0" y="115.5" width="13" height="10" fill="#000" opacity="0.22" filter="url(#b10)"/>
<text x="193.3" y="124.0" font-size="8.5" text-anchor="start" fill="#eeeeee" stroke="#eeeeee" stroke-width="0.08">4h</text>
<defs><linearGradient id="g270_114" x1="0" y1="0" x2="0" y2="1"><stop offset="0" stop-color="#3a3a3a"/><stop offset="0.8" stop-color="#404040"/><stop offset="1" stop-color="#404040"/></linearGradient></defs>
<clipPath id="c10"><rect x="270" y="114" width="78.2" height="58.5"/></clipPath>
<g clip-path="url(#c10)">
<rect x="270" y="114" width="78.2" height="58.5" fill="url(#g270_114)"/>
<g filter="url(#b10)">
<circle cx="307.7" cy="137.7" r="1.4" fill="#a0a0a0" opacity="0.17"/>
<circle cx="291.6" cy="144.9" r="1.5" fill="#a0a0a0" opacity="0.14"/>
<circle cx="325.3" cy="166.0" r="2.8" fill="#a0a0a0" opacity="0.17"/>
<circle cx="276.2" cy="151.9" r="1.9" fill="#a0a0a0" opacity="0.14"/>
<circle cx="288.1" cy="138.8" r="1.5" fill="#a0a0a0" opacity="0.17"/>
<circle cx="294.2" cy="152.0" r="2.2" fill="#a0a0a0" opacity="0.17"/>
<circle cx="318.7" cy="124.5" r="1.8" fill="#a0a0a0" opacity="0.17"/>
<circle cx="342.3" cy="159.1" r="2.0" fill="#a0a0a0" opacity="0.13"/>
<circle cx="298.1" cy="133.9" r="2.9" fill="#a0a0a0" opacity="0.18"/>
<circle cx="339.4" cy="169.3" r="2.2" fill="#a0a0a0" opacity="0.15"/>
<circle cx="304.0" cy="164.7" r="2.9" fill="#a0a0a0" opacity="0.16"/>
<circle cx="298.7" cy="131.9" r="2.5" fill="#a0a0a0" opacity="0.10"/>
<circle cx="286.4" cy="130.4" r="1.6" fill="#a0a0a0" opacity="0.17"/>
<circle cx="332.9" cy="169.4" r="2.2" fill="#a0a0a0" opacity="0.15"/>
<circle cx="304.7" cy="153.1" r="2.2" fill="#a0a0a0" opacity="0.09"/>
<circle cx="297.5" cy="129.7" r="2.0" fill="#a0a0a0" opacity="0.15"/>
<circle cx="289.6" cy="129.6" r="2.8" fill="#a0a0a0" opacity="0.16"/>
<circle cx="329.8" cy="166.0" r="1.7" fill="#a0a0a0" opacity="0.13"/>
<circle cx="331.8" cy="160.8" r="1.8" fill="#a0a0a0" opacity="0.13"/>
<circle cx="272.8" cy="147.9" r="1.8" fill="#a0a0a0" opacity="0.15"/>
<circle cx="305.2" cy="152.0" r="2.3" fill="#a0a0a0" opacity="0.13"/>
<circle cx="278.3" cy="135.1" r="2.6" fill="#a0a0a0" opacity="0.16"/>
<circle cx="329.1" cy="139.8" r="2.7" fill="#a0a0a0" opacity="0.15"/>
<circle cx="343.7" cy="159.5" r="1.5" fill="#a0a0a0" opacity="0.17"/>
<circle cx="329.7" cy="140.7" r="2.6" fill="#a0a0a0" opacity="0.09"/>
<circle cx="278.6" cy="147.8" r="2.6" fill="#a0a0a0" opacity="0.11"/>
<circle cx="292.3" cy="136.7" r="2.7" fill="#a0a0a0" opacity="0.14"/>
<circle cx="327.0" cy="132.6" r="1.7" fill="#a0a0a0" opacity="0.16"/>
<circle cx="328.8" cy="148.7" r="2.4" fill="#a0a0a0" opacity="0.18"/>
<circle cx="306.4" cy="153.5" r="2.3" fill="#a0a0a0" opacity="0.14"/>
<circle cx="294.7" cy="132.0" r="2.7" fill="#a0a0a0" opacity="0.16"/>
<circle cx="322.9" cy="167.7" r="2.2" fill="#a0a0a0" opacity="0.12"/>
<circle cx="320.2" cy="154.1" r="2.9" fill="#a0a0a0" opacity="0.15"/>
<circle cx="292.7" cy="137.1" r="1.5" fill="#a0a0a0" opacity="0.16"/>
<circle cx="301.3" cy="139.4" r="1.5" fill="#a0a0a0" opacity="0.13"/>
<circle cx="292.6" cy="164.2" r="2.6" fill="#a0a0a0" opacity="0.16"/>
<circle cx="316.2" cy="151.7" r="1.8" fill="#a0a0a0" opacity="0.15"/>
<circle cx="343.7" cy="147.7" r="2.2" fill="#a0a0a0" opacity="0.12"/>
<circle cx="318.3" cy="164.6" r="1.9" fill="#a0a0a0" opacity="0.14"/>
<circle cx="286.0" cy="125.0" r="2.8" fill="#a0a0a0" opacity="0.13"/>
<circle cx="287.9" cy="159.1" r="2.2" fill="#a0a0a0" opacity="0.10"/>
<circle cx="316.3" cy="159.2" r="2.0" fill="#a0a0a0" opacity="0.12"/>
<circle cx="287.6" cy="128.0" r="2.5" fill="#a0a0a0" opacity="0.11"/>
<circle cx="300.6" cy="122.4" r="2.1" fill="#a0a0a0" opacity="0.18"/>
<circle cx="301.9" cy="137.2" r="3.0" fill="#a0a0a0" opacity="0.15"/>
<circle cx="301.5" cy="141.1" r="1.8" fill="#a0a0a0" opacity="0.10"/>
<circle cx="319.5" cy="141.8" r="1.6" fill="#a0a0a0" opacity="0.13"/>
<circle cx="316.6" cy="126.0" r="2.0" fill="#a0a0a0" opacity="0.15"/>
<circle cx="302.0" cy="158.1" r="2.0" fill="#a0a0a0" opacity="0.09"/>
<circle cx="318.1" cy="128.1" r="2.7" fill="#a0a0a0" opacity="0.09"/>
<circle cx="339.8" cy="168.3" r="2.0" fill="#a0a0a0" opacity="0.13"/>
<circle cx="296.4" cy="152.3" r="2.0" fill="#a0a0a0" opacity="0.15"/>
<circle cx="304.4" cy="142.4" r="2.3" fill="#a0a0a0" opacity="0.09"/>
<circle cx="293.9" cy="141.7" r="1.7" fill="#a0a0a0" opacity="0.13"/>
<circle cx="311.0" cy="153.9" r="2.2" fill="#a0a0a0" opacity="0.15"/>
<circle cx="344.8" cy="139.1" r="1.7" fill="#a0a0a0" opacity="0.08"/>
<circle cx="323.6" cy="146.9" r="2.0" fill="#a0a0a0" opacity="0.12"/>
<circle cx="290.0" cy="135.0" r="2.7" fill="#a0a0a0" opacity="0.17"/>
<circle cx="313.9" cy="131.6" r="2.1" fill="#a0a0a0" opacity="0.09"/>
<circle cx="311.5" cy="155.5" r="3.0" fill="#a0a0a0" opacity="0.17"/>
<circle cx="291.4" cy="164.5" r="1.6" fill="#a0a0a0" opacity="0.16"/>
<circle cx="323.0" cy="122.6" r="1.7" fill="#a0a0a0" opacity="0.15"/>
<circle cx="278.5" cy="119.8" r="2.8" fill="#a0a0a0" opacity="0.13"/>
<circle cx="344.1" cy="140.6" r="2.7" fill="#a0a0a0" opacity="0.10"/>
<circle cx="300.6" cy="154.1" r="2.1" fill="#a0a0a0" opacity="0.11"/>
<circle cx="294.5" cy="128.9" r="1.8" fill="#a0a0a0" opacity="0.10"/>
<circle cx="300.1" cy="162.9" r="2.3" fill="#a0a0a0" opacity="0.16"/>
<circle cx="283.6" cy="152.6" r="2.9" fill="#a0a0a0" opacity="0.17"/>
<circle cx="296.5" cy="161.1" r="2.7" fill="#a0a0a0" opacity="0.14"/>
<circle cx="300.0" cy="118.6" r="2.5" fill="#a0a0a0" opacity="0.13"/>
<circle cx="330.7" cy="166.8" r="2.7" fill="#a0a0a0" opacity="0.18"/>
<circle cx="339.4" cy="135.0" r="1.4" fill="#a0a0a0" opacity="0.16"/>
<circle cx="309.1" cy="121.6" r="2.1" fill="#a0a0a0" opacity="0.09"/>
<circle cx="330.4" cy="150.4" r="1.8" fill="#a0a0a0" opacity="0.10"/>
<circle cx="311.2" cy="157.5" r="1.4" fill="#a0a0a0" opacity="0.11"/>
<circle cx="292.5" cy="166.6" r="1.9" fill="#a0a0a0" opacity="0.13"/>
<circle cx="332.1" cy="163.6" r="2.0" fill="#a0a0a0" opacity="0.15"/>
<circle cx="276.8" cy="118.4" r="2.0" fill="#a0a0a0" opacity="0.14"/>
<circle cx="275.2" cy="124.3" r="2.8" fill="#a0a0a0" opacity="0.10"/>
<circle cx="278.4" cy="119.8" r="1.5" fill="#a0a0a0" opacity="0.11"/>
<circle cx="320.7" cy="147.4" r="1.9" fill="#a0a0a0" opacity="0.13"/>
<circle cx="315.0" cy="134.4" r="1.6" fill="#a0a0a0" opacity="0.14"/>
<circle cx="340.5" cy="116.9" r="1.7" fill="#a0a0a0" opacity="0.14"/>
<circle cx="305.0" cy="126.9" r="1.8" fill="#a0a0a0" opacity="0.14"/>
<circle cx="334.7" cy="158.0" r="3.0" fill="#a0a0a0" opacity="0.13"/>
<circle cx="298.1" cy="145.9" r="1.9" fill="#a0a0a0" opacity="0.13"/>
<circle cx="276.1" cy="168.2" r="2.6" fill="#a0a0a0" opacity="0.11"/>
<circle cx="291.7" cy="148.4" r="2.6" fill="#a0a0a0" opacity="0.13"/>
<circle cx="305.2" cy="133.3" r="1.4" fill="#a0a0a0" opacity="0.09"/>
<circle cx="278.1" cy="164.7" r="2.0" fill="#a0a0a0" opacity="0.15"/>
<circle cx="341.1" cy="118.8" r="1.7" fill="#a0a0a0" opacity="0.18"/>
<circle cx="315.5" cy="139.8" r="2.4" fill="#a0a0a0" opacity="0.09"/>
<circle cx="327.6" cy="143.6" r="2.7" fill="#a0a0a0" opacity="0.15"/>
<circle cx="281.5" cy="152.7" r="2.1" fill="#a0a0a0" opacity="0.13"/>
<circle cx="328.8" cy="119.1" r="1.6" fill="#a0a0a0" opacity="0.14"/>
<circle cx="284.1" cy="131.0" r="2.9" fill="#a0a0a0" opacity="0.14"/>
<circle cx="317.0" cy="155.5" r="2.3" fill="#a0a0a0" opacity="0.17"/>
<circle cx="300.1" cy="120.3" r="1.8" fill="#a0a0a0" opacity="0.14"/>
<circle cx="340.3" cy="137.7" r="1.8" fill="#a0a0a0" opacity="0.11"/>
<circle cx="325.5" cy="165.2" r="2.1" fill="#a0a0a0" opacity="0.12"/>
<circle cx="283.0" cy="155.6" r="2.6" fill="#a0a0a0" opacity="0.10"/>
<circle cx="277.5" cy="159.4" r="2.9" fill="#a0a0a0" opacity="0.17"/>
<circle cx="283.9" cy="118.2" r="2.9" fill="#a0a0a0" opacity="0.16"/>
<circle cx="331.4" cy="132.3" r="2.3" fill="#a0a0a0" opacity="0.10"/>
<circle cx="302.8" cy="153.1" r="1.6" fill="#a0a0a0" opacity="0.17"/>
<circle cx="290.1" cy="154.7" r="2.1" fill="#a0a0a0" opacity="0.15"/>
<circle cx="291.1" cy="136.5" r="2.2" fill="#a0a0a0" opacity="0.18"/>
<circle cx="290.7" cy="121.9" r="2.2" fill="#a0a0a0" opacity="0.18"/>
<circle cx="272.6" cy="169.2" r="2.4" fill="#a0a0a0" opacity="0.09"/>
<circle cx="282.1" cy="127.8" r="2.2" fill="#a0a0a0" opacity="0.18"/>
</g>
<g filter="url(#b4)">
<circle cx="299.0" cy="160.8" r="0.86" fill="#bcbcbc"/>
<circle cx="339.6" cy="119.4" r="0.61" fill="#d0d0d0"/>
<circle cx="339.6" cy="122.1" r="0.71" fill="#b0b0b0"/>
<circle cx="308.2" cy="124.5" r="0.80" fill="#b2b2b2"/>
<circle cx="311.7" cy="161.5" r="0.86" fill="#959595"/>
<circle cx="316.7" cy="150.2" r="0.85" fill="#a3a3a3"/>
<circle cx="332.9" cy="137.5" r="0.60" fill="#a6a6a6"/>
<circle cx="320.4" cy="155.3" r="0.70" fill="#8d8d8d"/>
<circle cx="302.6" cy="151.4" r="0.60" fill="#a7a7a7"/>
<circle cx="335.1" cy="122.4" r="0.82" fill="#cfcfcf"/>
<circle cx="283.3" cy="147.3" r="0.67" fill="#d1d1d1"/>
<circle cx="297.1" cy="116.0" r="0.56" fill="#979797"/>
<circle cx="318.2" cy="128.8" r="0.53" fill="#c8c8c8"/>
<circle cx="284.2" cy="136.0" r="0.54" fill="#b0b0b0"/>
<circle cx="309.2" cy="132.2" r="0.54" fill="#a4a4a4"/>
<circle cx="277.4" cy="139.5" r="0.70" fill="#c6c6c6"/>
<circle cx="280.8" cy="143.4" r="0.75" fill="#919191"/>
<circle cx="271.7" cy="122.6" r="0.71" fill="#989898"/>
<circle cx="280.2" cy="128.9" r="0.86" fill="#969696"/>
<circle cx="332.4" cy="147.3" r="0.68" fill="#b4b4b4"/>
<circle cx="333.4" cy="131.5" r="0.77" fill="#919191"/>
<circle cx="281.7" cy="148.7" r="0.69" fill="#989898"/>
<circle cx="320.9" cy="138.5" r="0.79" fill="#a2a2a2"/>
<circle cx="305.3" cy="118.5" r="0.87" fill="#b2b2b2"/>
<circle cx="329.3" cy="144.7" r="0.76" fill="#cecece"/>
<circle cx="327.3" cy="160.3" r="0.82" fill="#959595"/>
<circle cx="325.2" cy="128.3" r="0.73" fill="#c8c8c8"/>
<circle cx="296.3" cy="151.9" r="0.57" fill="#bababa"/>
<circle cx="308.7" cy="121.1" r="0.61" fill="#a8a8a8"/>
<circle cx="319.3" cy="146.3" r="0.75" fill="#909090"/>
<circle cx="324.7" cy="157.5" r="0.86" fill="#b6b6b6"/>
<circle cx="338.7" cy="146.0" r="0.80" fill="#b8b8b8"/>
<circle cx="272.8" cy="117.9" r="0.79" fill="#c7c7c7"/>
<circle cx="287.0" cy="133.9" r="0.68" fill="#c6c6c6"/>
<circle cx="280.9" cy="151.1" r="0.58" fill="#9a9a9a"/>
<circle cx="290.1" cy="150.6" r="0.86" fill="#a8a8a8"/>
<circle cx="302.7" cy="125.0" r="0.56" fill="#c9c9c9"/>
<circle cx="302.8" cy="117.1" r="0.65" fill="#8e8e8e"/>
<circle cx="346.4" cy="126.3" r="0.84" fill="#a9a9a9"/>
<circle cx="340.2" cy="156.5" r="0.84" fill="#bebebe"/>
<circle cx="310.0" cy="142.3" r="0.79" fill="#b6b6b6"/>
<circle cx="284.7" cy="161.2" r="0.86" fill="#c0c0c0"/>
<circle cx="335.6" cy="136.5" r="0.61" fill="#a7a7a7"/>
<circle cx="344.9" cy="142.8" r="0.60" fill="#c7c7c7"/>
<circle cx="341.1" cy="146.5" r="0.62" fill="#bababa"/>
<circle cx="338.4" cy="157.2" r="0.78" fill="#c6c6c6"/>
<circle cx="313.1" cy="145.4" r="0.58" fill="#b0b0b0"/>
<circle cx="343.1" cy="161.3" r="0.52" fill="#a1a1a1"/>
<circle cx="335.2" cy="127.1" r="0.57" fill="#c1c1c1"/>
<circle cx="296.9" cy="125.1" r="0.89" fill="#949494"/>
<circle cx="291.9" cy="143.0" r="0.80" fill="#909090"/>
<circle cx="290.6" cy="147.4" r="0.88" fill="#a3a3a3"/>
<circle cx="273.2" cy="147.1" r="0.88" fill="#b8b8b8"/>
<circle cx="327.7" cy="158.4" r="0.52" fill="#c0c0c0"/>
<circle cx="286.3" cy="133.7" r="0.86" fill="#bababa"/>
<circle cx="276.5" cy="132.2" r="0.76" fill="#909090"/>
<circle cx="274.7" cy="127.1" r="0.57" fill="#c0c0c0"/>
<circle cx="346.1" cy="128.4" r="0.61" fill="#c3c3c3"/>
<circle cx="320.0" cy="150.2" r="0.74" fill="#959595"/>
<circle cx="341.3" cy="154.5" r="0.71" fill="#999999"/>
<circle cx="290.5" cy="120.0" r="0.89" fill="#a2a2a2"/>
<circle cx="311.0" cy="129.0" r="0.51" fill="#c3c3c3"/>
<circle cx="294.4" cy="152.2" r="0.51" fill="#cacaca"/>
<circle cx="329.2" cy="153.6" r="0.58" fill="#cecece"/>
<circle cx="273.4" cy="145.7" r="0.89" fill="#bcbcbc"/>
<circle cx="338.9" cy="124.5" r="0.74" fill="#b8b8b8"/>
<circle cx="287.3" cy="117.3" r="0.82" fill="#8c8c8c"/>
<circle cx="276.3" cy="125.0" r="0.73" fill="#959595"/>
<circle cx="305.4" cy="152.4" r="0.81" fill="#cbcbcb"/>
<circle cx="285.6" cy="161.1" r="0.65" fill="#c3c3c3"/>
<circle cx="342.5" cy="131.4" r="0.63" fill="#b7b7b7"/>
<circle cx="326.1" cy="127.9" r="0.61" fill="#a9a9a9"/>
<circle cx="334.1" cy="149.6" r="0.56" fill="#989898"/>
<circle cx="329.5" cy="125.8" r="0.77" fill="#bebebe"/>
<circle cx="288.8" cy="153.5" r="0.70" fill="#8c8c8c"/>
<circle cx="316.8" cy="132.3" r="0.60" fill="#c3c3c3"/>
<circle cx="304.7" cy="125.9" r="0.77" fill="#9b9b9b"/>
<circle cx="301.5" cy="146.8" r="0.52" fill="#939393"/>
<circle cx="333.7" cy="146.3" r="0.77" fill="#c8c8c8"/>
<circle cx="330.3" cy="146.9" r="0.84" fill="#b5b5b5"/>
<circle cx="283.3" cy="140.7" r="0.59" fill="#929292"/>
<circle cx="300.9" cy="121.2" r="0.62" fill="#b3b3b3"/>
<circle cx="291.5" cy="154.4" r="0.86" fill="#c6c6c6"/>
<circle cx="315.9" cy="124.9" r="0.58" fill="#909090"/>
<circle cx="286.6" cy="126.2" r="0.50" fill="#8d8d8d"/>
<circle cx="336.9" cy="153.5" r="0.85" fill="#919191"/>
<circle cx="336.3" cy="117.1" r="0.65" fill="#a4a4a4"/>
<circle cx="311.4" cy="148.5" r="0.63" fill="#969696"/>
<circle cx="325.3" cy="121.3" r="0.86" fill="#8e8e8e"/>
<circle cx="311.0" cy="126.4" r="0.61" fill="#aeaeae"/>
<circle cx="291.1" cy="139.3" r="0.55" fill="#a9a9a9"/>
<circle cx="281.5" cy="153.6" r="0.72" fill="#c4c4c4"/>
<circle cx="297.4" cy="142.5" r="0.87" fill="#c2c2c2"/>
<circle cx="293.8" cy="162.3" r="0.69" fill="#ababab"/>
<circle cx="318.2" cy="155.0" r="0.72" fill="#b0b0b0"/>
<circle cx="297.9" cy="157.3" r="0.55" fill="#989898"/>
<circle cx="278.3" cy="127.3" r="0.89" fill="#b2b2b2"/>
<circle cx="305.6" cy="153.0" r="0.71" fill="#9b9b9b"/>
<circle cx="303.0" cy="157.3" r="0.66" fill="#bfbfbf"/>
<circle cx="347.0" cy="156.3" r="0.69" fill="#a9a9a9"/>
<circle cx="303.4" cy="154.3" r="0.58" fill="#adadad"/>
<circle cx="290.6" cy="130.2" r="0.81" fill="#a4a4a4"/>
<circle cx="294.1" cy="145.0" r="0.55" fill="#c2c2c2"/>
<circle cx="324.7" cy="152.0" r="0.74" fill="#989898"/>
<circle cx="334.5" cy="139.3" r="0.81" fill="#b5b5b5"/>
<circle cx="284.0" cy="145.3" r="0.52" fill="#c7c7c7"/>
<circle cx="290.3" cy="116.8" r="0.66" fill="#bdbdbd"/>
<circle cx="337.0" cy="148.3" r="0.87" fill="#9f9f9f"/>
<circle cx="280.3" cy="127.5" r="0.63" fill="#939393"/>
<circle cx="314.8" cy="160.6" r="0.70" fill="#909090"/>
<circle cx="289.7" cy="158.3" r="0.81" fill="#9a9a9a"/>
<circle cx="281.4" cy="128.6" r="0.71" fill="#9f9f9f"/>
<circle cx="325.5" cy="142.5" r="0.59" fill="#959595"/>
<circle cx="301.5" cy="139.9" r="0.68" fill="#a5a5a5"/>
<circle cx="280.3" cy="123.7" r="0.79" fill="#b8b8b8"/>
<circle cx="319.7" cy="147.9" r="0.71" fill="#999999"/>
<circle cx="311.6" cy="158.4" r="0.68" fill="#9e9e9e"/>
<circle cx="345.7" cy="133.5" r="0.66" fill="#c4c4c4"/>
<circle cx="316.7" cy="121.8" r="0.61" fill="#9c9c9c"/>
<circle cx="301.2" cy="130.1" r="0.76" fill="#a8a8a8"/>
<circle cx="282.8" cy="156.0" r="0.84" fill="#aaaaaa"/>
<circle cx="301.1" cy="152.8" r="0.60" fill="#cacaca"/>
<circle cx="326.0" cy="145.5" r="0.71" fill="#bdbdbd"/>
<circle cx="327.4" cy="160.4" r="0.89" fill="#a4a4a4"/>
<circle cx="338.3" cy="129.8" r="0.83" fill="#cacaca"/>
<circle cx="302.5" cy="136.2" r="0.88" fill="#9a9a9a"/>
<circle cx="284.1" cy="123.7" r="0.62" fill="#a9a9a9"/>
<circle cx="306.1" cy="133.8" r="0.51" fill="#a3a3a3"/>
<circle cx="275.1" cy="139.6" r="0.69" fill="#cbcbcb"/>
<circle cx="343.1" cy="146.3" r="0.84" fill="#aeaeae"/>
<circle cx="275.5" cy="117.0" r="0.73" fill="#c6c6c6"/>
<circle cx="281.0" cy="131.4" r="0.80" fill="#b1b1b1"/>
<circle cx="280.7" cy="137.7" r="0.72" fill="#b4b4b4"/>
<circle cx="339.7" cy="149.0" r="0.53" fill="#c6c6c6"/>
<circle cx="302.7" cy="130.9" r="0.64" fill="#c4c4c4"/>
<circle cx="276.4" cy="136.5" r="0.69" fill="#969696"/>
<circle cx="274.9" cy="116.7" r="0.65" fill="#ababab"/>
<circle cx="281.4" cy="116.0" r="0.86" fill="#b2b2b2"/>
<circle cx="312.3" cy="161.5" r="0.88" fill="#bcbcbc"/>
<circle cx="274.8" cy="134.0" r="0.56" fill="#c3c3c3"/>
<rect x="270" y="163.0" width="78.2" height="9.5" fill="#3e3e3e"/>
<circle cx="321.6" cy="165.8" r="0.55" fill="#cecece"/>
<circle cx="342.3" cy="165.4" r="1.05" fill="#c0c0c0"/>
<circle cx="286.6" cy="164.7" r="0.88" fill="#f5f5f5"/>
<circle cx="286.2" cy="165.3" r="0.54" fill="#949494"/>
<circle cx="287.9" cy="167.0" r="0.59" fill="#d1d1d1"/>
<circle cx="289.0" cy="165.5" r="0.70" fill="#8e8e8e"/>
<circle cx="274.4" cy="163.9" r="0.45" fill="#d2d2d2"/>
<circle cx="274.3" cy="167.6" r="0.98" fill="#cacaca"/>
<circle cx="294.1" cy="166.8" r="0.71" fill="#a3a3a3"/>
<circle cx="274.6" cy="164.5" r="0.54" fill="#949494"/>
<circle cx="296.0" cy="164.0" r="0.82" fill="#929292"/>
<circle cx="309.9" cy="169.6" r="0.75" fill="#dcdcdc"/>
<circle cx="330.7" cy="167.3" r="0.58" fill="#7d7d7d"/>
<circle cx="324.0" cy="166.5" r="0.62" fill="#838383"/>
<circle cx="284.4" cy="171.5" r="0.73" fill="#eaeaea"/>
<circle cx="335.7" cy="165.4" r="0.59" fill="#efefef"/>
<circle cx="288.8" cy="168.7" r="1.01" fill="#b6b6b6"/>
<circle cx="303.3" cy="172.1" r="0.97" fill="#f5f5f5"/>
<circle cx="325.1" cy="165.1" r="0.48" fill="#7a7a7a"/>
<circle cx="341.8" cy="168.2" r="0.98" fill="#f9f9f9"/>
<circle cx="288.8" cy="172.2" r="0.61" fill="#909090"/>
<circle cx="291.5" cy="172.5" r="1.01" fill="#a7a7a7"/>
<circle cx="307.7" cy="170.8" r="0.93" fill="#f1f1f1"/>
<circle cx="298.5" cy="165.2" r="0.76" fill="#f6f6f6"/>
<circle cx="317.8" cy="171.3" r="0.57" fill="#bcbcbc"/>
<circle cx="341.3" cy="168.4" r="0.93" fill="#e5e5e5"/>
<circle cx="304.7" cy="169.5" r="0.87" fill="#b3b3b3"/>
<circle cx="310.7" cy="170.7" r="0.98" fill="#fdfdfd"/>
<circle cx="298.9" cy="169.4" r="0.78" fill="#eaeaea"/>
<circle cx="289.1" cy="167.4" r="0.60" fill="#e4e4e4"/>
<circle cx="325.3" cy="163.1" r="0.52" fill="#8b8b8b"/>
<circle cx="316.1" cy="170.4" r="0.66" fill="#828282"/>
<circle cx="315.7" cy="168.8" r="0.71" fill="#9c9c9c"/>
<circle cx="297.3" cy="165.2" r="0.94" fill="#ababab"/>
<circle cx="325.6" cy="168.2" r="0.59" fill="#9d9d9d"/>
<circle cx="322.3" cy="171.2" r="1.00" fill="#8c8c8c"/>
<circle cx="290.5" cy="163.9" r="0.56" fill="#acacac"/>
<circle cx="325.9" cy="171.7" r="0.80" fill="#8b8b8b"/>
<circle cx="299.6" cy="164.4" r="0.62" fill="#c5c5c5"/>
<circle cx="309.2" cy="164.6" r="0.62" fill="#f0f0f0"/>
<circle cx="319.3" cy="171.9" r="1.08" fill="#d1d1d1"/>
<circle cx="293.4" cy="171.9" r="1.21" fill="#bebebe"/>
<circle cx="321.1" cy="171.9" r="1.36" fill="#e4e4e4"/>
<circle cx="273.8" cy="171.9" r="0.63" fill="#ededed"/>
<circle cx="284.5" cy="171.9" r="0.94" fill="#e5e5e5"/>
<circle cx="322.8" cy="171.9" r="0.83" fill="#e6e6e6"/>
<circle cx="341.5" cy="171.9" r="0.97" fill="#d5d5d5"/>
<circle cx="323.6" cy="171.9" r="1.30" fill="#e7e7e7"/>
<circle cx="342.5" cy="171.9" r="1.23" fill="#f7f7f7"/>
<circle cx="289.6" cy="171.9" r="1.14" fill="#cacaca"/>
<circle cx="279.2" cy="171.9" r="0.87" fill="#f6f6f6"/>
<circle cx="293.0" cy="171.9" r="0.85" fill="#f5f5f5"/>
<circle cx="346.8" cy="171.9" r="1.21" fill="#d3d3d3"/>
<circle cx="334.4" cy="171.9" r="0.65" fill="#bebebe"/>
<circle cx="274.9" cy="171.9" r="0.87" fill="#cccccc"/>
<circle cx="337.2" cy="171.9" r="0.96" fill="#f1f1f1"/>
<circle cx="308.2" cy="171.9" r="0.90" fill="#d2d2d2"/>
<circle cx="273.7" cy="171.9" r="0.96" fill="#f7f7f7"/>
<circle cx="346.0" cy="171.9" r="1.35" fill="#c3c3c3"/>
</g>
<rect x="270" y="161.95000000000002" width="78.2" height="0.9" fill="#b4b4b4" opacity="0.9"/>
<rect x="270" y="114" width="78.2" height="0.9" fill="#323232"/>
<rect x="270" y="114" width="0.7" height="58.5" fill="#585858" opacity="0.6"/>
</g>
<rect x="271.5" y="115.5" width="13" height="10" fill="#000" opacity="0.22" filter="url(#b10)"/>
<text x="273.8" y="124.0" font-size="8.5" text-anchor="start" fill="#eeeeee" stroke="#eeeeee" stroke-width="0.08">8h</text>
<defs><linearGradient id="g350_114" x1="0" y1="0" x2="0" y2="1"><stop offset="0" stop-color="#444444"/><stop offset="0.8" stop-color="#4a4a4a"/><stop offset="1" stop-color="#4a4a4a"/></linearGradient></defs>
<clipPath id="c11"><rect x="350.5" y="114" width="78.2" height="58.5"/></clipPath>
<g clip-path="url(#c11)">
<rect x="350.5" y="114" width="78.2" height="58.5" fill="url(#g350_114)"/>
<g filter="url(#b10)">
<circle cx="414.4" cy="140.2" r="1.6" fill="#a0a0a0" opacity="0.09"/>
<circle cx="358.7" cy="127.8" r="2.6" fill="#a0a0a0" opacity="0.15"/>
<circle cx="356.3" cy="169.0" r="2.5" fill="#a0a0a0" opacity="0.16"/>
<circle cx="358.4" cy="126.3" r="3.0" fill="#a0a0a0" opacity="0.16"/>
<circle cx="366.4" cy="120.6" r="2.5" fill="#a0a0a0" opacity="0.10"/>
<circle cx="363.6" cy="139.9" r="1.5" fill="#a0a0a0" opacity="0.13"/>
<circle cx="415.4" cy="145.5" r="1.4" fill="#a0a0a0" opacity="0.12"/>
<circle cx="393.5" cy="120.7" r="1.7" fill="#a0a0a0" opacity="0.11"/>
<circle cx="400.7" cy="168.0" r="2.5" fill="#a0a0a0" opacity="0.14"/>
<circle cx="403.3" cy="127.5" r="3.0" fill="#a0a0a0" opacity="0.09"/>
<circle cx="378.0" cy="161.1" r="1.7" fill="#a0a0a0" opacity="0.15"/>
<circle cx="364.9" cy="161.7" r="1.7" fill="#a0a0a0" opacity="0.13"/>
<circle cx="390.1" cy="127.7" r="3.0" fill="#a0a0a0" opacity="0.08"/>
<circle cx="367.5" cy="139.4" r="1.7" fill="#a0a0a0" opacity="0.14"/>
<circle cx="387.4" cy="166.8" r="2.3" fill="#a0a0a0" opacity="0.15"/>
<circle cx="424.2" cy="162.2" r="1.9" fill="#a0a0a0" opacity="0.10"/>
<circle cx="397.4" cy="165.2" r="2.8" fill="#a0a0a0" opacity="0.09"/>
<circle cx="361.3" cy="158.5" r="1.6" fill="#a0a0a0" opacity="0.09"/>
<circle cx="383.3" cy="136.0" r="2.5" fill="#a0a0a0" opacity="0.17"/>
<circle cx="395.4" cy="139.5" r="2.1" fill="#a0a0a0" opacity="0.12"/>
<circle cx="352.9" cy="130.9" r="1.8" fill="#a0a0a0" opacity="0.15"/>
<circle cx="403.4" cy="159.0" r="2.1" fill="#a0a0a0" opacity="0.12"/>
<circle cx="370.5" cy="126.9" r="3.0" fill="#a0a0a0" opacity="0.14"/>
<circle cx="392.2" cy="138.2" r="2.2" fill="#a0a0a0" opacity="0.11"/>
<circle cx="384.4" cy="138.9" r="2.8" fill="#a0a0a0" opacity="0.17"/>
<circle cx="386.3" cy="132.1" r="1.8" fill="#a0a0a0" opacity="0.18"/>
<circle cx="388.2" cy="124.1" r="1.4" fill="#a0a0a0" opacity="0.13"/>
<circle cx="353.6" cy="141.1" r="1.6" fill="#a0a0a0" opacity="0.13"/>
<circle cx="375.0" cy="141.9" r="1.5" fill="#a0a0a0" opacity="0.11"/>
<circle cx="360.2" cy="135.2" r="2.4" fill="#a0a0a0" opacity="0.10"/>
<circle cx="405.2" cy="144.9" r="1.4" fill="#a0a0a0" opacity="0.13"/>
<circle cx="418.8" cy="150.5" r="2.5" fill="#a0a0a0" opacity="0.16"/>
<circle cx="369.1" cy="151.8" r="2.7" fill="#a0a0a0" opacity="0.16"/>
<circle cx="421.2" cy="142.6" r="1.5" fill="#a0a0a0" opacity="0.17"/>
<circle cx="392.7" cy="135.7" r="2.7" fill="#a0a0a0" opacity="0.10"/>
<circle cx="353.6" cy="143.0" r="1.5" fill="#a0a0a0" opacity="0.18"/>
<circle cx="384.2" cy="128.5" r="1.6" fill="#a0a0a0" opacity="0.17"/>
<circle cx="416.0" cy="143.6" r="1.8" fill="#a0a0a0" opacity="0.13"/>
<circle cx="396.3" cy="129.9" r="2.5" fill="#a0a0a0" opacity="0.14"/>
<circle cx="375.5" cy="147.7" r="2.9" fill="#a0a0a0" opacity="0.08"/>
<circle cx="402.0" cy="125.7" r="3.0" fill="#a0a0a0" opacity="0.16"/>
<circle cx="422.5" cy="129.9" r="2.1" fill="#a0a0a0" opacity="0.14"/>
<circle cx="398.3" cy="151.0" r="2.8" fill="#a0a0a0" opacity="0.17"/>
<circle cx="418.7" cy="133.6" r="1.9" fill="#a0a0a0" opacity="0.15"/>
<circle cx="399.8" cy="125.2" r="1.9" fill="#a0a0a0" opacity="0.18"/>
<circle cx="381.2" cy="151.9" r="2.9" fill="#a0a0a0" opacity="0.09"/>
<circle cx="400.6" cy="156.2" r="1.4" fill="#a0a0a0" opacity="0.13"/>
<circle cx="426.7" cy="123.1" r="1.6" fill="#a0a0a0" opacity="0.14"/>
<circle cx="361.8" cy="145.5" r="2.9" fill="#a0a0a0" opacity="0.14"/>
<circle cx="372.0" cy="149.5" r="1.6" fill="#a0a0a0" opacity="0.11"/>
<circle cx="367.4" cy="118.8" r="2.2" fill="#a0a0a0" opacity="0.12"/>
<circle cx="363.0" cy="157.0" r="1.7" fill="#a0a0a0" opacity="0.13"/>
<circle cx="375.8" cy="153.1" r="1.7" fill="#a0a0a0" opacity="0.09"/>
<circle cx="380.6" cy="136.1" r="2.7" fill="#a0a0a0" opacity="0.10"/>
<circle cx="407.8" cy="134.9" r="1.7" fill="#a0a0a0" opacity="0.08"/>
<circle cx="420.4" cy="168.1" r="1.9" fill="#a0a0a0" opacity="0.11"/>
<circle cx="368.1" cy="141.1" r="2.7" fill="#a0a0a0" opacity="0.17"/>
<circle cx="382.1" cy="154.4" r="2.7" fill="#a0a0a0" opacity="0.17"/>
<circle cx="402.1" cy="126.6" r="1.7" fill="#a0a0a0" opacity="0.18"/>
<circle cx="382.9" cy="158.8" r="2.6" fill="#a0a0a0" opacity="0.11"/>
<circle cx="390.6" cy="120.3" r="1.5" fill="#a0a0a0" opacity="0.13"/>
<circle cx="395.3" cy="161.8" r="1.8" fill="#a0a0a0" opacity="0.10"/>
<circle cx="390.3" cy="146.3" r="2.8" fill="#a0a0a0" opacity="0.10"/>
<circle cx="385.7" cy="141.5" r="2.0" fill="#a0a0a0" opacity="0.10"/>
<circle cx="392.8" cy="137.1" r="1.7" fill="#a0a0a0" opacity="0.11"/>
<circle cx="422.2" cy="144.7" r="2.2" fill="#a0a0a0" opacity="0.11"/>
<circle cx="390.9" cy="118.7" r="2.0" fill="#a0a0a0" opacity="0.09"/>
<circle cx="398.2" cy="141.9" r="2.0" fill="#a0a0a0" opacity="0.15"/>
<circle cx="357.2" cy="150.2" r="1.5" fill="#a0a0a0" opacity="0.13"/>
<circle cx="393.8" cy="148.8" r="1.8" fill="#a0a0a0" opacity="0.11"/>
<circle cx="381.9" cy="154.7" r="2.2" fill="#a0a0a0" opacity="0.10"/>
<circle cx="388.1" cy="150.0" r="1.4" fill="#a0a0a0" opacity="0.16"/>
<circle cx="425.7" cy="159.2" r="2.9" fill="#a0a0a0" opacity="0.15"/>
<circle cx="372.2" cy="141.5" r="2.5" fill="#a0a0a0" opacity="0.12"/>
<circle cx="361.2" cy="133.9" r="2.4" fill="#a0a0a0" opacity="0.15"/>
<circle cx="363.8" cy="157.4" r="1.7" fill="#a0a0a0" opacity="0.14"/>
<circle cx="418.3" cy="123.7" r="2.9" fill="#a0a0a0" opacity="0.14"/>
<circle cx="394.2" cy="130.7" r="2.6" fill="#a0a0a0" opacity="0.11"/>
<circle cx="397.1" cy="151.1" r="2.9" fill="#a0a0a0" opacity="0.16"/>
<circle cx="392.9" cy="152.2" r="2.8" fill="#a0a0a0" opacity="0.14"/>
<circle cx="375.5" cy="153.2" r="1.6" fill="#a0a0a0" opacity="0.14"/>
<circle cx="424.4" cy="128.6" r="1.8" fill="#a0a0a0" opacity="0.17"/>
<circle cx="366.7" cy="134.5" r="2.3" fill="#a0a0a0" opacity="0.11"/>
<circle cx="398.3" cy="169.2" r="1.6" fill="#a0a0a0" opacity="0.11"/>
<circle cx="389.1" cy="122.8" r="2.2" fill="#a0a0a0" opacity="0.11"/>
<circle cx="385.5" cy="152.3" r="2.7" fill="#a0a0a0" opacity="0.15"/>
<circle cx="414.1" cy="130.5" r="1.4" fill="#a0a0a0" opacity="0.10"/>
<circle cx="423.1" cy="118.4" r="2.3" fill="#a0a0a0" opacity="0.16"/>
<circle cx="359.3" cy="169.1" r="2.8" fill="#a0a0a0" opacity="0.08"/>
<circle cx="411.4" cy="153.8" r="2.0" fill="#a0a0a0" opacity="0.17"/>
<circle cx="389.4" cy="157.3" r="1.8" fill="#a0a0a0" opacity="0.10"/>
<circle cx="392.7" cy="120.9" r="2.2" fill="#a0a0a0" opacity="0.10"/>
<circle cx="358.4" cy="144.9" r="1.9" fill="#a0a0a0" opacity="0.15"/>
<circle cx="391.3" cy="124.9" r="1.6" fill="#a0a0a0" opacity="0.17"/>
<circle cx="421.6" cy="128.1" r="2.9" fill="#a0a0a0" opacity="0.18"/>
<circle cx="403.1" cy="131.8" r="1.5" fill="#a0a0a0" opacity="0.18"/>
<circle cx="355.2" cy="153.4" r="1.6" fill="#a0a0a0" opacity="0.09"/>
<circle cx="422.0" cy="135.2" r="2.7" fill="#a0a0a0" opacity="0.11"/>
<circle cx="353.3" cy="159.5" r="2.3" fill="#a0a0a0" opacity="0.12"/>
<circle cx="420.7" cy="120.9" r="2.5" fill="#a0a0a0" opacity="0.18"/>
<circle cx="398.6" cy="150.6" r="1.6" fill="#a0a0a0" opacity="0.13"/>
<circle cx="394.0" cy="164.1" r="2.4" fill="#a0a0a0" opacity="0.13"/>
<circle cx="353.4" cy="135.8" r="1.7" fill="#a0a0a0" opacity="0.10"/>
<circle cx="356.5" cy="121.7" r="2.6" fill="#a0a0a0" opacity="0.18"/>
<circle cx="414.1" cy="153.7" r="1.7" fill="#a0a0a0" opacity="0.16"/>
<circle cx="415.9" cy="137.0" r="1.8" fill="#a0a0a0" opacity="0.11"/>
<circle cx="369.1" cy="144.7" r="1.8" fill="#a0a0a0" opacity="0.15"/>
<circle cx="425.4" cy="158.5" r="2.4" fill="#a0a0a0" opacity="0.12"/>
<circle cx="396.0" cy="141.6" r="2.3" fill="#a0a0a0" opacity="0.17"/>
<circle cx="423.8" cy="146.8" r="2.2" fill="#a0a0a0" opacity="0.12"/>
</g>
<g filter="url(#b4)">
<circle cx="376.2" cy="117.3" r="0.69" fill="#8c8c8c"/>
<circle cx="360.3" cy="136.4" r="0.61" fill="#c9c9c9"/>
<circle cx="360.2" cy="158.5" r="0.74" fill="#aeaeae"/>
<circle cx="374.2" cy="118.5" r="0.71" fill="#a9a9a9"/>
<circle cx="356.5" cy="142.4" r="0.75" fill="#b6b6b6"/>
<circle cx="394.7" cy="124.8" r="0.87" fill="#cacaca"/>
<circle cx="391.2" cy="144.6" r="0.80" fill="#ababab"/>
<circle cx="379.9" cy="148.8" r="0.72" fill="#bfbfbf"/>
<circle cx="397.4" cy="143.2" r="0.65" fill="#a4a4a4"/>
<circle cx="385.5" cy="146.4" r="0.68" fill="#a6a6a6"/>
<circle cx="399.2" cy="129.5" r="0.85" fill="#999999"/>
<circle cx="392.0" cy="146.1" r="0.75" fill="#bababa"/>
<circle cx="352.3" cy="134.6" r="0.65" fill="#b0b0b0"/>
<circle cx="422.1" cy="145.2" r="0.76" fill="#b9b9b9"/>
<circle cx="412.0" cy="132.3" r="0.55" fill="#c9c9c9"/>
<circle cx="386.1" cy="138.7" r="0.78" fill="#b1b1b1"/>
<circle cx="360.7" cy="162.2" r="0.53" fill="#b5b5b5"/>
<circle cx="368.8" cy="126.5" r="0.90" fill="#b1b1b1"/>
<circle cx="379.3" cy="129.6" r="0.59" fill="#9d9d9d"/>
<circle cx="425.9" cy="122.3" r="0.79" fill="#a5a5a5"/>
<circle cx="425.8" cy="121.1" r="0.86" fill="#929292"/>
<circle cx="393.5" cy="156.3" r="0.89" fill="#aaaaaa"/>
<circle cx="352.1" cy="136.2" r="0.73" fill="#9c9c9c"/>
<circle cx="368.6" cy="156.9" r="0.85" fill="#a3a3a3"/>
<circle cx="405.9" cy="153.4" r="0.87" fill="#b4b4b4"/>
<circle cx="371.5" cy="132.7" r="0.59" fill="#939393"/>
<circle cx="375.7" cy="129.9" r="0.83" fill="#8c8c8c"/>
<circle cx="390.2" cy="139.3" r="0.56" fill="#bcbcbc"/>
<circle cx="408.1" cy="125.6" r="0.57" fill="#c9c9c9"/>
<circle cx="358.7" cy="130.5" r="0.56" fill="#9a9a9a"/>
<circle cx="375.4" cy="122.1" r="0.89" fill="#a6a6a6"/>
<circle cx="408.9" cy="134.3" r="0.53" fill="#929292"/>
<circle cx="376.4" cy="156.4" r="0.57" fill="#989898"/>
<circle cx="426.0" cy="150.5" r="0.66" fill="#bdbdbd"/>
<circle cx="367.0" cy="137.4" r="0.63" fill="#a3a3a3"/>
<circle cx="412.0" cy="127.6" r="0.54" fill="#a7a7a7"/>
<circle cx="354.0" cy="150.1" r="0.89" fill="#b7b7b7"/>
<circle cx="366.2" cy="146.3" r="0.58" fill="#c7c7c7"/>
<circle cx="352.6" cy="161.2" r="0.83" fill="#999999"/>
<circle cx="397.0" cy="119.6" r="0.54" fill="#c6c6c6"/>
<circle cx="373.3" cy="155.2" r="0.56" fill="#afafaf"/>
<circle cx="354.4" cy="150.8" r="0.78" fill="#949494"/>
<circle cx="364.1" cy="133.5" r="0.53" fill="#b1b1b1"/>
<circle cx="420.9" cy="129.9" r="0.86" fill="#bebebe"/>
<circle cx="400.8" cy="139.7" r="0.63" fill="#acacac"/>
<circle cx="383.6" cy="141.4" r="0.68" fill="#c7c7c7"/>
<circle cx="407.6" cy="161.9" r="0.84" fill="#a1a1a1"/>
<circle cx="368.5" cy="119.5" r="0.70" fill="#c1c1c1"/>
<circle cx="421.2" cy="150.1" r="0.81" fill="#a0a0a0"/>
<circle cx="388.2" cy="118.6" r="0.63" fill="#c8c8c8"/>
<circle cx="392.5" cy="158.0" r="0.81" fill="#bebebe"/>
<circle cx="385.2" cy="140.1" r="0.88" fill="#c3c3c3"/>
<circle cx="426.7" cy="142.5" r="0.56" fill="#c1c1c1"/>
<circle cx="376.0" cy="141.5" r="0.55" fill="#b4b4b4"/>
<circle cx="364.9" cy="156.3" r="0.86" fill="#d1d1d1"/>
<circle cx="393.6" cy="125.0" r="0.69" fill="#a3a3a3"/>
<circle cx="371.9" cy="121.5" r="0.88" fill="#c6c6c6"/>
<circle cx="389.5" cy="160.1" r="0.70" fill="#909090"/>
<circle cx="395.8" cy="135.8" r="0.90" fill="#909090"/>
<circle cx="355.1" cy="146.5" r="0.89" fill="#9a9a9a"/>
<circle cx="399.8" cy="148.2" r="0.58" fill="#acacac"/>
<circle cx="365.1" cy="135.6" r="0.66" fill="#909090"/>
<circle cx="425.5" cy="148.8" r="0.72" fill="#a7a7a7"/>
<circle cx="362.5" cy="139.9" r="0.80" fill="#bcbcbc"/>
<circle cx="380.3" cy="120.8" r="0.55" fill="#bdbdbd"/>
<circle cx="417.8" cy="116.7" r="0.53" fill="#c6c6c6"/>
<circle cx="391.8" cy="124.9" r="0.78" fill="#cdcdcd"/>
<circle cx="363.1" cy="156.6" r="0.79" fill="#aaaaaa"/>
<circle cx="386.7" cy="123.8" r="0.88" fill="#8d8d8d"/>
<circle cx="392.8" cy="148.4" r="0.85" fill="#adadad"/>
<circle cx="416.4" cy="127.6" r="0.54" fill="#bcbcbc"/>
<circle cx="355.6" cy="129.6" r="0.57" fill="#c7c7c7"/>
<circle cx="421.5" cy="123.3" r="0.56" fill="#cccccc"/>
<circle cx="401.7" cy="118.4" r="0.71" fill="#b5b5b5"/>
<circle cx="368.8" cy="158.9" r="0.90" fill="#b3b3b3"/>
<circle cx="370.6" cy="153.5" r="0.90" fill="#bebebe"/>
<circle cx="368.1" cy="137.9" r="0.85" fill="#b3b3b3"/>
<circle cx="418.9" cy="161.9" r="0.80" fill="#bebebe"/>
<circle cx="414.7" cy="123.8" r="0.79" fill="#929292"/>
<circle cx="359.2" cy="119.2" r="0.59" fill="#c1c1c1"/>
<circle cx="404.4" cy="151.6" r="0.65" fill="#cdcdcd"/>
<circle cx="368.8" cy="123.0" r="0.68" fill="#9e9e9e"/>
<circle cx="415.1" cy="150.1" r="0.80" fill="#a2a2a2"/>
<circle cx="375.5" cy="142.9" r="0.72" fill="#b1b1b1"/>
<circle cx="415.9" cy="123.1" r="0.82" fill="#c2c2c2"/>
<circle cx="369.3" cy="120.2" r="0.80" fill="#c4c4c4"/>
<circle cx="422.6" cy="144.7" r="0.67" fill="#9b9b9b"/>
<circle cx="374.5" cy="138.0" r="0.65" fill="#c2c2c2"/>
<circle cx="405.8" cy="131.0" r="0.74" fill="#8d8d8d"/>
<circle cx="417.6" cy="139.7" r="0.76" fill="#c7c7c7"/>
<circle cx="427.3" cy="145.7" r="0.52" fill="#a9a9a9"/>
<circle cx="409.1" cy="125.2" r="0.62" fill="#bababa"/>
<circle cx="352.8" cy="146.4" r="0.75" fill="#a3a3a3"/>
<circle cx="400.7" cy="127.7" r="0.75" fill="#9a9a9a"/>
<circle cx="357.2" cy="149.0" r="0.52" fill="#cacaca"/>
<circle cx="423.7" cy="159.1" r="0.90" fill="#bfbfbf"/>
<circle cx="391.9" cy="142.4" r="0.71" fill="#cecece"/>
<circle cx="384.7" cy="160.9" r="0.58" fill="#b1b1b1"/>
<circle cx="413.2" cy="135.6" r="0.87" fill="#b7b7b7"/>
<circle cx="392.2" cy="119.8" r="0.55" fill="#b1b1b1"/>
<circle cx="402.8" cy="154.0" r="0.69" fill="#979797"/>
<circle cx="417.9" cy="159.2" r="0.70" fill="#8f8f8f"/>
<circle cx="382.1" cy="147.4" r="0.66" fill="#a6a6a6"/>
<circle cx="362.2" cy="128.8" r="0.76" fill="#b0b0b0"/>
<circle cx="408.7" cy="136.0" r="0.70" fill="#979797"/>
<circle cx="394.1" cy="128.4" r="0.77" fill="#b8b8b8"/>
<circle cx="378.7" cy="150.6" r="0.81" fill="#b4b4b4"/>
<circle cx="361.1" cy="127.8" r="0.75" fill="#c7c7c7"/>
<circle cx="413.7" cy="160.1" r="0.83" fill="#b5b5b5"/>
<circle cx="374.1" cy="127.4" r="0.84" fill="#9f9f9f"/>
<circle cx="393.3" cy="138.5" r="0.51" fill="#939393"/>
<circle cx="412.2" cy="125.3" r="0.81" fill="#929292"/>
<circle cx="426.7" cy="123.5" r="0.57" fill="#c3c3c3"/>
<circle cx="417.9" cy="143.2" r="0.79" fill="#929292"/>
<circle cx="406.0" cy="151.7" r="0.52" fill="#cdcdcd"/>
<circle cx="386.9" cy="129.6" r="0.71" fill="#b2b2b2"/>
<circle cx="356.5" cy="142.5" r="0.84" fill="#b0b0b0"/>
<circle cx="389.8" cy="120.6" r="0.58" fill="#aaaaaa"/>
<circle cx="408.9" cy="149.4" r="0.56" fill="#a0a0a0"/>
<circle cx="399.4" cy="160.9" r="0.57" fill="#b6b6b6"/>
<circle cx="357.2" cy="127.5" r="0.76" fill="#939393"/>
<circle cx="403.2" cy="122.5" r="0.89" fill="#909090"/>
<circle cx="362.4" cy="150.8" r="0.52" fill="#8d8d8d"/>
<circle cx="407.2" cy="116.9" r="0.86" fill="#8c8c8c"/>
<circle cx="355.1" cy="123.0" r="0.66" fill="#a2a2a2"/>
<rect x="350.5" y="163.0" width="78.2" height="9.5" fill="#464646"/>
<circle cx="365.8" cy="170.7" r="0.51" fill="#cdcdcd"/>
<circle cx="362.1" cy="169.2" r="0.53" fill="#929292"/>
<circle cx="427.4" cy="165.5" r="0.72" fill="#d1d1d1"/>
<circle cx="428.1" cy="168.2" r="0.52" fill="#d2d2d2"/>
<circle cx="403.8" cy="168.6" r="0.68" fill="#e6e6e6"/>
<circle cx="355.9" cy="168.2" r="0.78" fill="#f3f3f3"/>
<circle cx="411.2" cy="165.3" r="0.68" fill="#c8c8c8"/>
<circle cx="380.3" cy="163.6" r="1.05" fill="#b5b5b5"/>
<circle cx="361.8" cy="164.5" r="0.46" fill="#f2f2f2"/>
<circle cx="361.8" cy="168.4" r="1.02" fill="#dfdfdf"/>
<circle cx="396.6" cy="165.7" r="0.85" fill="#e4e4e4"/>
<circle cx="367.0" cy="165.2" r="0.70" fill="#c8c8c8"/>
<circle cx="419.7" cy="168.6" r="0.61" fill="#d9d9d9"/>
<circle cx="362.6" cy="164.0" r="0.46" fill="#c5c5c5"/>
<circle cx="395.6" cy="167.4" r="0.78" fill="#919191"/>
<circle cx="367.2" cy="168.6" r="0.69" fill="#bbbbbb"/>
<circle cx="421.6" cy="167.4" r="0.90" fill="#808080"/>
<circle cx="388.9" cy="163.5" r="0.57" fill="#919191"/>
<circle cx="380.7" cy="164.5" r="1.01" fill="#a0a0a0"/>
<circle cx="374.5" cy="163.7" r="0.67" fill="#e1e1e1"/>
<circle cx="393.2" cy="171.5" r="0.82" fill="#cecece"/>
<circle cx="384.0" cy="170.9" r="0.72" fill="#8a8a8a"/>
<circle cx="368.3" cy="170.6" r="0.48" fill="#909090"/>
<circle cx="399.4" cy="169.5" r="0.73" fill="#d0d0d0"/>
<circle cx="383.4" cy="168.6" r="0.47" fill="#afafaf"/>
<circle cx="426.2" cy="168.5" r="0.65" fill="#cccccc"/>
<circle cx="426.4" cy="167.4" r="0.70" fill="#e6e6e6"/>
<circle cx="416.7" cy="165.1" r="0.85" fill="#a0a0a0"/>
<circle cx="378.3" cy="170.6" r="0.67" fill="#f3f3f3"/>
<circle cx="388.5" cy="171.2" r="0.53" fill="#aeaeae"/>
<circle cx="353.6" cy="171.2" r="0.98" fill="#b9b9b9"/>
<circle cx="386.9" cy="172.2" r="0.68" fill="#a1a1a1"/>
<circle cx="361.6" cy="171.7" r="0.93" fill="#bfbfbf"/>
<circle cx="407.3" cy="170.9" r="0.85" fill="#868686"/>
<circle cx="401.1" cy="171.3" r="0.74" fill="#b1b1b1"/>
<circle cx="400.7" cy="164.8" r="0.59" fill="#d3d3d3"/>
<circle cx="427.7" cy="164.1" r="0.85" fill="#bbbbbb"/>
<circle cx="353.9" cy="164.5" r="0.63" fill="#d5d5d5"/>
<circle cx="361.2" cy="166.5" r="0.82" fill="#dddddd"/>
<circle cx="427.9" cy="171.0" r="0.56" fill="#c3c3c3"/>
<circle cx="397.9" cy="171.9" r="1.04" fill="#e1e1e1"/>
<circle cx="380.4" cy="171.9" r="0.79" fill="#e6e6e6"/>
<circle cx="418.8" cy="171.9" r="1.15" fill="#e5e5e5"/>
<circle cx="425.4" cy="171.9" r="0.80" fill="#e0e0e0"/>
<circle cx="415.2" cy="171.9" r="1.12" fill="#bebebe"/>
<circle cx="390.5" cy="171.9" r="1.25" fill="#cacaca"/>
<circle cx="381.3" cy="171.9" r="1.39" fill="#d9d9d9"/>
<circle cx="393.0" cy="171.9" r="1.08" fill="#f0f0f0"/>
<circle cx="386.1" cy="171.9" r="1.32" fill="#e8e8e8"/>
<circle cx="381.9" cy="171.9" r="1.09" fill="#d0d0d0"/>
<circle cx="354.6" cy="171.9" r="0.99" fill="#c0c0c0"/>
<circle cx="373.9" cy="171.9" r="1.27" fill="#f8f8f8"/>
<circle cx="366.0" cy="171.9" r="0.73" fill="#d3d3d3"/>
<circle cx="385.7" cy="171.9" r="0.71" fill="#eeeeee"/>
<circle cx="362.8" cy="171.9" r="1.03" fill="#cecece"/>
<circle cx="401.1" cy="171.9" r="0.69" fill="#dbdbdb"/>
<circle cx="416.8" cy="171.9" r="0.61" fill="#c9c9c9"/>
<circle cx="356.1" cy="171.9" r="1.27" fill="#e6e6e6"/>
<circle cx="369.4" cy="171.9" r="1.32" fill="#c8c8c8"/>
</g>
<rect x="350.5" y="161.95000000000002" width="78.2" height="0.9" fill="#b4b4b4" opacity="0.9"/>
<rect x="350.5" y="114" width="78.2" height="0.9" fill="#3c3c3c"/>
<rect x="350.5" y="114" width="0.7" height="58.5" fill="#626262" opacity="0.6"/>
</g>
<rect x="352.0" y="115.5" width="18" height="10" fill="#000" opacity="0.22" filter="url(#b10)"/>
<text x="354.3" y="124.0" font-size="8.5" text-anchor="start" fill="#eeeeee" stroke="#eeeeee" stroke-width="0.08">12h</text>
<defs><linearGradient id="g431_114" x1="0" y1="0" x2="0" y2="1"><stop offset="0" stop-color="#4c4c4c"/><stop offset="0.8" stop-color="#525252"/><stop offset="1" stop-color="#525252"/></linearGradient></defs>
<clipPath id="c12"><rect x="431" y="114" width="78.2" height="58.5"/></clipPath>
<g clip-path="url(#c12)">
<rect x="431" y="114" width="78.2" height="58.5" fill="url(#g431_114)"/>
<g filter="url(#b10)">
<circle cx="487.2" cy="142.6" r="2.4" fill="#a0a0a0" opacity="0.09"/>
<circle cx="446.7" cy="119.4" r="2.9" fill="#a0a0a0" opacity="0.17"/>
<circle cx="436.6" cy="132.7" r="2.4" fill="#a0a0a0" opacity="0.10"/>
<circle cx="501.2" cy="163.9" r="2.7" fill="#a0a0a0" opacity="0.16"/>
<circle cx="494.7" cy="157.9" r="2.0" fill="#a0a0a0" opacity="0.15"/>
<circle cx="484.5" cy="117.6" r="2.1" fill="#a0a0a0" opacity="0.18"/>
<circle cx="466.6" cy="158.3" r="2.5" fill="#a0a0a0" opacity="0.14"/>
<circle cx="433.6" cy="149.4" r="1.8" fill="#a0a0a0" opacity="0.11"/>
<circle cx="501.0" cy="154.0" r="2.4" fill="#a0a0a0" opacity="0.16"/>
<circle cx="443.8" cy="150.4" r="1.8" fill="#a0a0a0" opacity="0.14"/>
<circle cx="464.1" cy="156.6" r="2.5" fill="#a0a0a0" opacity="0.11"/>
<circle cx="445.5" cy="133.5" r="2.1" fill="#a0a0a0" opacity="0.14"/>
<circle cx="502.0" cy="122.7" r="1.4" fill="#a0a0a0" opacity="0.15"/>
<circle cx="502.6" cy="135.2" r="1.9" fill="#a0a0a0" opacity="0.08"/>
<circle cx="461.1" cy="153.3" r="2.7" fill="#a0a0a0" opacity="0.15"/>
<circle cx="482.0" cy="140.2" r="2.5" fill="#a0a0a0" opacity="0.11"/>
<circle cx="481.5" cy="127.2" r="2.3" fill="#a0a0a0" opacity="0.08"/>
<circle cx="465.0" cy="125.4" r="1.5" fill="#a0a0a0" opacity="0.13"/>
<circle cx="454.9" cy="137.7" r="2.6" fill="#a0a0a0" opacity="0.15"/>
<circle cx="477.3" cy="120.5" r="3.0" fill="#a0a0a0" opacity="0.14"/>
<circle cx="450.3" cy="168.8" r="1.8" fill="#a0a0a0" opacity="0.11"/>
<circle cx="444.8" cy="129.3" r="1.8" fill="#a0a0a0" opacity="0.13"/>
<circle cx="490.3" cy="159.7" r="1.5" fill="#a0a0a0" opacity="0.16"/>
<circle cx="452.7" cy="150.5" r="1.4" fill="#a0a0a0" opacity="0.17"/>
<circle cx="451.8" cy="124.0" r="1.9" fill="#a0a0a0" opacity="0.16"/>
<circle cx="500.9" cy="166.7" r="2.8" fill="#a0a0a0" opacity="0.16"/>
<circle cx="437.2" cy="141.8" r="1.8" fill="#a0a0a0" opacity="0.09"/>
<circle cx="443.0" cy="123.0" r="1.9" fill="#a0a0a0" opacity="0.09"/>
<circle cx="496.5" cy="132.5" r="1.8" fill="#a0a0a0" opacity="0.13"/>
<circle cx="434.2" cy="161.7" r="2.6" fill="#a0a0a0" opacity="0.13"/>
<circle cx="499.1" cy="118.5" r="2.7" fill="#a0a0a0" opacity="0.09"/>
<circle cx="475.8" cy="167.5" r="2.4" fill="#a0a0a0" opacity="0.10"/>
<circle cx="485.3" cy="118.5" r="2.5" fill="#a0a0a0" opacity="0.10"/>
<circle cx="475.6" cy="118.7" r="1.9" fill="#a0a0a0" opacity="0.11"/>
<circle cx="475.0" cy="162.6" r="1.6" fill="#a0a0a0" opacity="0.15"/>
<circle cx="475.1" cy="154.9" r="2.9" fill="#a0a0a0" opacity="0.13"/>
<circle cx="437.1" cy="151.1" r="1.9" fill="#a0a0a0" opacity="0.11"/>
<circle cx="470.9" cy="139.5" r="1.6" fill="#a0a0a0" opacity="0.15"/>
<circle cx="451.7" cy="119.8" r="2.3" fill="#a0a0a0" opacity="0.08"/>
<circle cx="493.1" cy="134.2" r="2.6" fill="#a0a0a0" opacity="0.12"/>
<circle cx="488.7" cy="125.7" r="2.8" fill="#a0a0a0" opacity="0.09"/>
<circle cx="473.6" cy="139.0" r="2.5" fill="#a0a0a0" opacity="0.10"/>
<circle cx="478.2" cy="160.2" r="2.7" fill="#a0a0a0" opacity="0.17"/>
<circle cx="482.8" cy="152.9" r="1.9" fill="#a0a0a0" opacity="0.11"/>
<circle cx="493.1" cy="136.6" r="2.4" fill="#a0a0a0" opacity="0.11"/>
<circle cx="471.3" cy="164.4" r="3.0" fill="#a0a0a0" opacity="0.15"/>
<circle cx="458.6" cy="155.6" r="3.0" fill="#a0a0a0" opacity="0.13"/>
<circle cx="462.9" cy="152.4" r="2.2" fill="#a0a0a0" opacity="0.10"/>
<circle cx="463.7" cy="136.3" r="2.6" fill="#a0a0a0" opacity="0.10"/>
<circle cx="480.8" cy="127.3" r="2.2" fill="#a0a0a0" opacity="0.17"/>
<circle cx="465.8" cy="118.0" r="2.7" fill="#a0a0a0" opacity="0.16"/>
<circle cx="471.3" cy="135.5" r="2.0" fill="#a0a0a0" opacity="0.08"/>
<circle cx="449.9" cy="121.2" r="2.8" fill="#a0a0a0" opacity="0.10"/>
<circle cx="474.4" cy="132.0" r="2.5" fill="#a0a0a0" opacity="0.14"/>
<circle cx="458.3" cy="133.2" r="1.4" fill="#a0a0a0" opacity="0.16"/>
<circle cx="454.6" cy="136.8" r="1.7" fill="#a0a0a0" opacity="0.13"/>
<circle cx="457.2" cy="124.8" r="1.6" fill="#a0a0a0" opacity="0.10"/>
<circle cx="457.3" cy="144.7" r="1.6" fill="#a0a0a0" opacity="0.17"/>
<circle cx="463.6" cy="120.1" r="1.9" fill="#a0a0a0" opacity="0.09"/>
<circle cx="465.7" cy="132.5" r="2.5" fill="#a0a0a0" opacity="0.11"/>
<circle cx="499.8" cy="136.9" r="2.4" fill="#a0a0a0" opacity="0.12"/>
<circle cx="491.3" cy="128.1" r="2.9" fill="#a0a0a0" opacity="0.10"/>
<circle cx="460.7" cy="161.7" r="2.2" fill="#a0a0a0" opacity="0.08"/>
<circle cx="450.9" cy="129.7" r="1.7" fill="#a0a0a0" opacity="0.16"/>
<circle cx="456.7" cy="167.0" r="2.7" fill="#a0a0a0" opacity="0.11"/>
<circle cx="447.4" cy="147.5" r="2.9" fill="#a0a0a0" opacity="0.13"/>
<circle cx="491.9" cy="148.0" r="2.2" fill="#a0a0a0" opacity="0.13"/>
<circle cx="468.2" cy="154.4" r="2.3" fill="#a0a0a0" opacity="0.11"/>
<circle cx="449.6" cy="125.0" r="3.0" fill="#a0a0a0" opacity="0.14"/>
<circle cx="446.9" cy="117.9" r="2.3" fill="#a0a0a0" opacity="0.13"/>
<circle cx="500.0" cy="169.0" r="1.5" fill="#a0a0a0" opacity="0.16"/>
<circle cx="488.4" cy="168.7" r="2.9" fill="#a0a0a0" opacity="0.12"/>
<circle cx="483.8" cy="150.0" r="2.7" fill="#a0a0a0" opacity="0.15"/>
<circle cx="458.0" cy="160.1" r="2.7" fill="#a0a0a0" opacity="0.14"/>
<circle cx="457.0" cy="167.5" r="2.4" fill="#a0a0a0" opacity="0.17"/>
<circle cx="484.7" cy="156.9" r="1.6" fill="#a0a0a0" opacity="0.10"/>
<circle cx="481.4" cy="133.7" r="1.5" fill="#a0a0a0" opacity="0.15"/>
<circle cx="447.4" cy="123.2" r="1.8" fill="#a0a0a0" opacity="0.13"/>
<circle cx="503.3" cy="154.7" r="1.8" fill="#a0a0a0" opacity="0.09"/>
<circle cx="476.8" cy="162.1" r="2.9" fill="#a0a0a0" opacity="0.15"/>
<circle cx="459.9" cy="123.8" r="1.8" fill="#a0a0a0" opacity="0.13"/>
<circle cx="496.9" cy="132.0" r="2.8" fill="#a0a0a0" opacity="0.10"/>
<circle cx="504.4" cy="169.6" r="2.0" fill="#a0a0a0" opacity="0.17"/>
<circle cx="487.5" cy="166.7" r="2.0" fill="#a0a0a0" opacity="0.14"/>
<circle cx="458.2" cy="157.3" r="2.2" fill="#a0a0a0" opacity="0.09"/>
<circle cx="492.0" cy="125.2" r="1.9" fill="#a0a0a0" opacity="0.15"/>
<circle cx="485.8" cy="139.5" r="1.9" fill="#a0a0a0" opacity="0.09"/>
<circle cx="452.1" cy="152.1" r="1.7" fill="#a0a0a0" opacity="0.13"/>
<circle cx="499.1" cy="143.0" r="2.5" fill="#a0a0a0" opacity="0.12"/>
<circle cx="477.5" cy="140.1" r="1.6" fill="#a0a0a0" opacity="0.11"/>
<circle cx="502.7" cy="148.7" r="2.4" fill="#a0a0a0" opacity="0.10"/>
<circle cx="492.1" cy="167.9" r="1.8" fill="#a0a0a0" opacity="0.12"/>
<circle cx="489.5" cy="118.7" r="1.7" fill="#a0a0a0" opacity="0.16"/>
<circle cx="490.6" cy="154.7" r="2.3" fill="#a0a0a0" opacity="0.10"/>
<circle cx="477.1" cy="118.8" r="1.4" fill="#a0a0a0" opacity="0.13"/>
<circle cx="443.4" cy="157.7" r="2.1" fill="#a0a0a0" opacity="0.13"/>
<circle cx="448.0" cy="124.9" r="2.4" fill="#a0a0a0" opacity="0.10"/>
<circle cx="449.4" cy="124.9" r="2.9" fill="#a0a0a0" opacity="0.17"/>
<circle cx="475.5" cy="122.8" r="2.1" fill="#a0a0a0" opacity="0.08"/>
<circle cx="481.3" cy="130.2" r="1.4" fill="#a0a0a0" opacity="0.18"/>
<circle cx="458.8" cy="132.0" r="2.9" fill="#a0a0a0" opacity="0.09"/>
<circle cx="468.1" cy="123.8" r="1.9" fill="#a0a0a0" opacity="0.11"/>
<circle cx="503.5" cy="147.6" r="2.1" fill="#a0a0a0" opacity="0.08"/>
<circle cx="496.3" cy="136.6" r="2.1" fill="#a0a0a0" opacity="0.09"/>
<circle cx="449.8" cy="130.1" r="2.0" fill="#a0a0a0" opacity="0.11"/>
<circle cx="486.4" cy="152.2" r="1.5" fill="#a0a0a0" opacity="0.09"/>
<circle cx="498.0" cy="160.2" r="2.7" fill="#a0a0a0" opacity="0.10"/>
<circle cx="438.6" cy="153.4" r="2.5" fill="#a0a0a0" opacity="0.10"/>
<circle cx="495.6" cy="161.1" r="2.1" fill="#a0a0a0" opacity="0.15"/>
<circle cx="499.3" cy="166.7" r="2.4" fill="#a0a0a0" opacity="0.14"/>
</g>
<g filter="url(#b4)">
<circle cx="484.1" cy="132.6" r="0.56" fill="#acacac"/>
<circle cx="439.0" cy="119.9" r="0.77" fill="#a9a9a9"/>
<circle cx="504.3" cy="125.6" r="0.62" fill="#b1b1b1"/>
<circle cx="446.1" cy="138.7" r="0.90" fill="#c1c1c1"/>
<circle cx="454.8" cy="157.4" r="0.86" fill="#cbcbcb"/>
<circle cx="445.6" cy="159.7" r="0.56" fill="#919191"/>
<circle cx="485.5" cy="120.2" r="0.52" fill="#acacac"/>
<circle cx="487.5" cy="132.5" r="0.52" fill="#bebebe"/>
<circle cx="454.6" cy="160.5" r="0.66" fill="#bfbfbf"/>
<circle cx="496.5" cy="130.2" r="0.90" fill="#9b9b9b"/>
<circle cx="443.1" cy="137.8" r="0.72" fill="#a7a7a7"/>
<circle cx="487.4" cy="161.1" r="0.90" fill="#c4c4c4"/>
<circle cx="461.1" cy="154.3" r="0.77" fill="#939393"/>
<circle cx="502.2" cy="132.2" r="0.89" fill="#989898"/>
<circle cx="462.9" cy="139.0" r="0.75" fill="#b5b5b5"/>
<circle cx="499.0" cy="128.1" r="0.68" fill="#c2c2c2"/>
<circle cx="506.7" cy="149.5" r="0.71" fill="#b5b5b5"/>
<circle cx="449.5" cy="151.8" r="0.52" fill="#c4c4c4"/>
<circle cx="489.1" cy="148.2" r="0.82" fill="#9a9a9a"/>
<circle cx="480.8" cy="156.7" r="0.88" fill="#b2b2b2"/>
<circle cx="436.3" cy="156.2" r="0.57" fill="#b2b2b2"/>
<circle cx="461.4" cy="147.0" r="0.53" fill="#cacaca"/>
<circle cx="499.7" cy="119.3" r="0.59" fill="#bdbdbd"/>
<circle cx="450.0" cy="143.5" r="0.63" fill="#9c9c9c"/>
<circle cx="453.2" cy="140.7" r="0.72" fill="#9f9f9f"/>
<circle cx="485.1" cy="121.6" r="0.60" fill="#cecece"/>
<circle cx="452.0" cy="134.8" r="0.79" fill="#cbcbcb"/>
<circle cx="487.9" cy="133.2" r="0.63" fill="#d1d1d1"/>
<circle cx="434.8" cy="129.9" r="0.50" fill="#b1b1b1"/>
<circle cx="453.8" cy="145.0" r="0.67" fill="#a8a8a8"/>
<circle cx="446.4" cy="132.9" r="0.72" fill="#bababa"/>
<circle cx="499.1" cy="117.3" r="0.60" fill="#adadad"/>
<circle cx="483.3" cy="126.1" r="0.66" fill="#b4b4b4"/>
<circle cx="470.7" cy="134.9" r="0.53" fill="#d0d0d0"/>
<circle cx="457.2" cy="135.8" r="0.84" fill="#a0a0a0"/>
<circle cx="464.3" cy="152.7" r="0.55" fill="#b4b4b4"/>
<circle cx="447.3" cy="129.0" r="0.90" fill="#cdcdcd"/>
<circle cx="493.5" cy="137.9" r="0.77" fill="#a1a1a1"/>
<circle cx="476.3" cy="122.0" r="0.58" fill="#c0c0c0"/>
<circle cx="448.8" cy="143.6" r="0.81" fill="#cfcfcf"/>
<circle cx="505.9" cy="138.3" r="0.68" fill="#8d8d8d"/>
<circle cx="458.9" cy="137.4" r="0.87" fill="#b0b0b0"/>
<circle cx="444.4" cy="160.6" r="0.65" fill="#8c8c8c"/>
<circle cx="486.2" cy="118.4" r="0.51" fill="#9b9b9b"/>
<circle cx="502.2" cy="136.2" r="0.59" fill="#8c8c8c"/>
<circle cx="485.1" cy="148.5" r="0.56" fill="#cccccc"/>
<circle cx="503.3" cy="156.2" r="0.83" fill="#b2b2b2"/>
<circle cx="441.4" cy="148.5" r="0.76" fill="#a4a4a4"/>
<circle cx="455.9" cy="131.6" r="0.53" fill="#c4c4c4"/>
<circle cx="432.7" cy="151.5" r="0.71" fill="#8d8d8d"/>
<circle cx="444.7" cy="141.3" r="0.88" fill="#a2a2a2"/>
<circle cx="452.0" cy="140.3" r="0.86" fill="#8c8c8c"/>
<circle cx="449.2" cy="130.1" r="0.80" fill="#a6a6a6"/>
<circle cx="457.0" cy="156.0" r="0.55" fill="#ababab"/>
<circle cx="443.6" cy="120.0" r="0.71" fill="#b4b4b4"/>
<circle cx="445.7" cy="125.9" r="0.71" fill="#ababab"/>
<circle cx="483.1" cy="138.3" r="0.56" fill="#8c8c8c"/>
<circle cx="492.6" cy="119.0" r="0.78" fill="#969696"/>
<circle cx="455.5" cy="131.3" r="0.87" fill="#a8a8a8"/>
<circle cx="438.5" cy="149.1" r="0.52" fill="#9b9b9b"/>
<circle cx="466.1" cy="145.8" r="0.85" fill="#c5c5c5"/>
<circle cx="508.0" cy="146.8" r="0.88" fill="#c9c9c9"/>
<circle cx="462.5" cy="120.1" r="0.56" fill="#b6b6b6"/>
<circle cx="439.0" cy="139.4" r="0.53" fill="#acacac"/>
<circle cx="462.9" cy="145.0" r="0.69" fill="#b8b8b8"/>
<circle cx="485.9" cy="148.4" r="0.67" fill="#989898"/>
<circle cx="435.1" cy="156.4" r="0.58" fill="#999999"/>
<circle cx="479.4" cy="143.6" r="0.54" fill="#b0b0b0"/>
<circle cx="484.3" cy="142.7" r="0.53" fill="#bebebe"/>
<circle cx="461.3" cy="128.5" r="0.55" fill="#c6c6c6"/>
<circle cx="493.9" cy="144.7" r="0.71" fill="#939393"/>
<circle cx="438.0" cy="134.6" r="0.54" fill="#c4c4c4"/>
<circle cx="461.7" cy="116.0" r="0.52" fill="#c1c1c1"/>
<circle cx="434.5" cy="162.0" r="0.65" fill="#d0d0d0"/>
<circle cx="455.6" cy="127.6" r="0.89" fill="#cccccc"/>
<circle cx="483.1" cy="133.9" r="0.82" fill="#a4a4a4"/>
<circle cx="460.5" cy="116.1" r="0.78" fill="#cfcfcf"/>
<circle cx="463.3" cy="136.5" r="0.65" fill="#b6b6b6"/>
<circle cx="501.6" cy="117.0" r="0.88" fill="#8e8e8e"/>
<circle cx="455.9" cy="116.3" r="0.56" fill="#c1c1c1"/>
<circle cx="473.6" cy="156.4" r="0.88" fill="#9b9b9b"/>
<circle cx="461.2" cy="125.1" r="0.68" fill="#999999"/>
<circle cx="489.2" cy="158.7" r="0.62" fill="#9b9b9b"/>
<circle cx="462.1" cy="129.2" r="0.76" fill="#c2c2c2"/>
<circle cx="438.2" cy="160.1" r="0.58" fill="#a6a6a6"/>
<circle cx="466.8" cy="160.2" r="0.79" fill="#c6c6c6"/>
<circle cx="460.7" cy="137.4" r="0.81" fill="#b8b8b8"/>
<circle cx="452.6" cy="162.1" r="0.88" fill="#aeaeae"/>
<circle cx="480.9" cy="156.3" r="0.73" fill="#c7c7c7"/>
<circle cx="453.4" cy="119.7" r="0.70" fill="#c5c5c5"/>
<circle cx="491.4" cy="124.6" r="0.54" fill="#a4a4a4"/>
<circle cx="486.5" cy="137.5" r="0.71" fill="#c7c7c7"/>
<circle cx="461.2" cy="148.1" r="0.71" fill="#a7a7a7"/>
<circle cx="455.1" cy="156.5" r="0.57" fill="#9d9d9d"/>
<circle cx="493.7" cy="127.6" r="0.77" fill="#9d9d9d"/>
<circle cx="500.2" cy="135.5" r="0.88" fill="#9b9b9b"/>
<circle cx="436.4" cy="159.8" r="0.90" fill="#a2a2a2"/>
<circle cx="434.4" cy="160.3" r="0.78" fill="#cccccc"/>
<circle cx="475.6" cy="154.1" r="0.56" fill="#9c9c9c"/>
<circle cx="498.0" cy="159.8" r="0.59" fill="#a4a4a4"/>
<circle cx="455.1" cy="144.5" r="0.59" fill="#c8c8c8"/>
<circle cx="480.2" cy="121.2" r="0.66" fill="#acacac"/>
<circle cx="488.8" cy="156.4" r="0.81" fill="#8d8d8d"/>
<circle cx="492.4" cy="153.6" r="0.50" fill="#9b9b9b"/>
<circle cx="498.2" cy="149.9" r="0.72" fill="#cacaca"/>
<circle cx="451.8" cy="120.1" r="0.83" fill="#c3c3c3"/>
<circle cx="475.4" cy="126.4" r="0.68" fill="#bfbfbf"/>
<circle cx="456.3" cy="134.5" r="0.80" fill="#bcbcbc"/>
<circle cx="486.4" cy="132.8" r="0.60" fill="#afafaf"/>
<circle cx="458.2" cy="124.7" r="0.67" fill="#929292"/>
<rect x="431" y="163.0" width="78.2" height="9.5" fill="#4e4e4e"/>
<circle cx="455.6" cy="166.3" r="0.65" fill="#bcbcbc"/>
<circle cx="500.9" cy="171.1" r="0.63" fill="#8a8a8a"/>
<circle cx="438.3" cy="171.4" r="0.91" fill="#dbdbdb"/>
<circle cx="501.6" cy="166.8" r="0.55" fill="#848484"/>
<circle cx="462.3" cy="170.3" r="0.50" fill="#b3b3b3"/>
<circle cx="437.8" cy="165.0" r="0.78" fill="#cfcfcf"/>
<circle cx="504.3" cy="166.0" r="0.59" fill="#808080"/>
<circle cx="446.0" cy="163.3" r="0.45" fill="#878787"/>
<circle cx="472.9" cy="167.3" r="0.99" fill="#b9b9b9"/>
<circle cx="438.2" cy="164.4" r="0.87" fill="#fcfcfc"/>
<circle cx="489.4" cy="165.2" r="0.66" fill="#b3b3b3"/>
<circle cx="465.0" cy="165.7" r="0.54" fill="#7b7b7b"/>
<circle cx="499.4" cy="172.3" r="1.04" fill="#ababab"/>
<circle cx="484.6" cy="165.0" r="0.52" fill="#787878"/>
<circle cx="457.2" cy="170.6" r="0.77" fill="#979797"/>
<circle cx="468.7" cy="168.1" r="0.57" fill="#b4b4b4"/>
<circle cx="503.2" cy="167.3" r="1.04" fill="#d9d9d9"/>
<circle cx="441.4" cy="171.7" r="0.87" fill="#b3b3b3"/>
<circle cx="446.1" cy="169.3" r="0.56" fill="#b6b6b6"/>
<circle cx="443.2" cy="166.9" r="1.03" fill="#c8c8c8"/>
<circle cx="471.1" cy="168.9" r="0.84" fill="#c9c9c9"/>
<circle cx="453.5" cy="165.0" r="0.81" fill="#f5f5f5"/>
<circle cx="498.8" cy="167.6" r="0.63" fill="#c7c7c7"/>
<circle cx="435.1" cy="167.7" r="0.92" fill="#fafafa"/>
<circle cx="438.5" cy="164.9" r="0.74" fill="#cacaca"/>
<circle cx="505.9" cy="164.0" r="0.53" fill="#b9b9b9"/>
<circle cx="492.7" cy="163.3" r="0.68" fill="#d7d7d7"/>
<circle cx="464.0" cy="164.7" r="0.49" fill="#dedede"/>
<circle cx="470.9" cy="168.1" r="0.86" fill="#dedede"/>
<circle cx="462.5" cy="166.5" r="1.00" fill="#828282"/>
<circle cx="491.5" cy="167.4" r="0.77" fill="#999999"/>
<circle cx="504.3" cy="165.9" r="0.64" fill="#808080"/>
<circle cx="500.3" cy="170.9" r="0.48" fill="#8b8b8b"/>
<circle cx="453.8" cy="163.3" r="0.75" fill="#eaeaea"/>
<circle cx="487.1" cy="167.8" r="1.04" fill="#a1a1a1"/>
<circle cx="456.0" cy="165.5" r="0.81" fill="#b6b6b6"/>
<circle cx="441.1" cy="167.7" r="1.03" fill="#eeeeee"/>
<circle cx="479.6" cy="171.2" r="0.74" fill="#bbbbbb"/>
<circle cx="485.2" cy="164.9" r="0.81" fill="#bbbbbb"/>
<circle cx="454.5" cy="167.7" r="0.56" fill="#cecece"/>
<circle cx="440.0" cy="171.9" r="0.96" fill="#c1c1c1"/>
<circle cx="473.2" cy="171.9" r="0.68" fill="#efefef"/>
<circle cx="432.4" cy="171.9" r="1.25" fill="#cfcfcf"/>
<circle cx="505.6" cy="171.9" r="0.86" fill="#c6c6c6"/>
<circle cx="483.4" cy="171.9" r="0.79" fill="#eeeeee"/>
<circle cx="468.4" cy="171.9" r="0.81" fill="#e1e1e1"/>
<circle cx="448.4" cy="171.9" r="0.81" fill="#c2c2c2"/>
<circle cx="449.6" cy="171.9" r="0.78" fill="#c7c7c7"/>
<circle cx="463.5" cy="171.9" r="0.96" fill="#e1e1e1"/>
<circle cx="474.1" cy="171.9" r="1.15" fill="#e2e2e2"/>
<circle cx="467.8" cy="171.9" r="1.28" fill="#c6c6c6"/>
<circle cx="452.5" cy="171.9" r="0.61" fill="#f4f4f4"/>
<circle cx="499.8" cy="171.9" r="0.93" fill="#f0f0f0"/>
<circle cx="474.9" cy="171.9" r="1.34" fill="#f4f4f4"/>
<circle cx="456.9" cy="171.9" r="0.82" fill="#d6d6d6"/>
<circle cx="505.8" cy="171.9" r="0.97" fill="#d3d3d3"/>
<circle cx="432.9" cy="171.9" r="0.91" fill="#f5f5f5"/>
<circle cx="463.8" cy="171.9" r="1.24" fill="#f3f3f3"/>
<circle cx="504.3" cy="171.9" r="1.19" fill="#dbdbdb"/>
</g>
<rect x="431" y="161.95000000000002" width="78.2" height="0.9" fill="#b4b4b4" opacity="0.9"/>
<rect x="431" y="114" width="78.2" height="0.9" fill="#444444"/>
<rect x="431" y="114" width="0.7" height="58.5" fill="#6a6a6a" opacity="0.6"/>
</g>
<rect x="432.5" y="115.5" width="18" height="10" fill="#000" opacity="0.22" filter="url(#b10)"/>
<text x="434.8" y="124.0" font-size="8.5" text-anchor="start" fill="#eeeeee" stroke="#eeeeee" stroke-width="0.08">16h</text>
<rect x="496.5" y="167" width="9.7" height="2" fill="#f4f4f4"/>
<text transform="translate(12.7,203.5) scale(0.85,1)" x="0" y="0" font-size="16" fill="#111" stroke="#111" stroke-width="0.3">B</text>
<line x1="51.7" y1="208.7" x2="63.8" y2="208.7" stroke="#34528c" stroke-width="1.3"/>
<text x="68.6" y="211.9" font-size="10.0" text-anchor="start" fill="#111" textLength="75.2" lengthAdjust="spacingAndGlyphs" >No Endothelium</text>
<line x1="163.8" y1="208.7" x2="176" y2="208.7" stroke="#b3123a" stroke-width="1.3"/>
<text x="180.4" y="211.9" font-size="10.0" text-anchor="start" fill="#111" textLength="60.4" lengthAdjust="spacingAndGlyphs" >Endothelium</text>
<line x1="70.7" y1="223.6" x2="70.7" y2="329.6" stroke="#000" stroke-width="1.4"/>
<line x1="66.2" y1="329" x2="225.6" y2="329" stroke="#000" stroke-width="1.4"/>
<text x="61.4" y="332.9" font-size="10.2" text-anchor="end" fill="#111" >0</text>
<line x1="66.2" y1="309.0" x2="70.7" y2="309.0" stroke="#000" stroke-width="1.3"/>
<text x="61.4" y="312.9" font-size="10.2" text-anchor="end" fill="#111" >10</text>
<line x1="66.2" y1="289.0" x2="70.7" y2="289.0" stroke="#000" stroke-width="1.3"/>
<text x="61.4" y="292.9" font-size="10.2" text-anchor="end" fill="#111" >20</text>
<line x1="66.2" y1="269.0" x2="70.7" y2="269.0" stroke="#000" stroke-width="1.3"/>
<text x="61.4" y="272.9" font-size="10.2" text-anchor="end" fill="#111" >30</text>
<line x1="66.2" y1="249.0" x2="70.7" y2="249.0" stroke="#000" stroke-width="1.3"/>
<text x="61.4" y="252.9" font-size="10.2" text-anchor="end" fill="#111" >40</text>
<line x1="66.2" y1="229.0" x2="70.7" y2="229.0" stroke="#000" stroke-width="1.3"/>
<text x="61.4" y="232.9" font-size="10.2" text-anchor="end" fill="#111" >50</text>
<text x="74.6" y="343.2" font-size="10.2" text-anchor="middle" fill="#111" >0</text>
<text x="111.44" y="343.2" font-size="10.2" text-anchor="middle" fill="#111" >4</text>
<text x="148.28" y="343.2" font-size="10.2" text-anchor="middle" fill="#111" >8</text>
<text x="185.12" y="343.2" font-size="10.2" text-anchor="middle" fill="#111" >12</text>
<text x="221.96" y="343.2" font-size="10.2" text-anchor="middle" fill="#111" >16</text>
<text x="111.5" y="363.2" font-size="13.2" text-anchor="start" fill="#111" textLength="74.0" lengthAdjust="spacingAndGlyphs" >Time (hours)</text>
<text transform="translate(23.2,276.3) rotate(-90)" font-size="13.8" text-anchor="middle" fill="#111" textLength="121.2" lengthAdjust="spacingAndGlyphs">Number neutrophils</text>
<text transform="translate(40.5,276.3) rotate(-90)" font-size="13.8" text-anchor="middle" fill="#111" textLength="86.6" lengthAdjust="spacingAndGlyphs">outside lumen</text>
<polyline points="74.4,329.0 83.5,293.8 92.7,273.0 101.8,267.8 111.0,258.6 120.1,260.0 129.2,253.8 138.4,251.4 147.5,252.6 156.7,249.8 165.8,243.8 174.9,243.8 184.1,241.6 193.2,245.6 202.4,249.6 211.5,247.4 220.6,249.2" fill="none" stroke="#b3123a" stroke-width="1.4" stroke-linejoin="round"/>
<polyline points="74.4,329.0 83.5,295.0 92.7,288.0 101.8,288.0 111.0,287.0 120.1,285.0 129.2,284.6 138.4,283.6 147.5,285.8 156.7,285.2 165.8,285.2 174.9,286.0 184.1,287.4 193.2,286.4 202.4,287.6 211.5,288.6 220.6,290.0" fill="none" stroke="#34528c" stroke-width="1.4" stroke-linejoin="round"/>
<line x1="74.4" y1="321.2" x2="74.4" y2="329" stroke="#000" stroke-width="1.5"/>
<line x1="72.7" y1="321.2" x2="76.10000000000001" y2="321.2" stroke="#000" stroke-width="1.5"/>
<line x1="72.7" y1="329" x2="76.10000000000001" y2="329" stroke="#000" stroke-width="1.5"/>
<line x1="110.96000000000001" y1="252.3" x2="110.96000000000001" y2="265.3" stroke="#000" stroke-width="1.5"/>
<line x1="109.26" y1="252.3" x2="112.66000000000001" y2="252.3" stroke="#000" stroke-width="1.5"/>
<line x1="109.26" y1="265.3" x2="112.66000000000001" y2="265.3" stroke="#000" stroke-width="1.5"/>
<line x1="110.96000000000001" y1="280.3" x2="110.96000000000001" y2="293.8" stroke="#000" stroke-width="1.5"/>
<line x1="109.26" y1="280.3" x2="112.66000000000001" y2="280.3" stroke="#000" stroke-width="1.5"/>
<line x1="109.26" y1="293.8" x2="112.66000000000001" y2="293.8" stroke="#000" stroke-width="1.5"/>
<line x1="147.52" y1="246.5" x2="147.52" y2="259.4" stroke="#000" stroke-width="1.5"/>
<line x1="145.82000000000002" y1="246.5" x2="149.22" y2="246.5" stroke="#000" stroke-width="1.5"/>
<line x1="145.82000000000002" y1="259.4" x2="149.22" y2="259.4" stroke="#000" stroke-width="1.5"/>
<line x1="147.52" y1="279" x2="147.52" y2="292.8" stroke="#000" stroke-width="1.5"/>
<line x1="145.82000000000002" y1="279" x2="149.22" y2="279" stroke="#000" stroke-width="1.5"/>
<line x1="145.82000000000002" y1="292.8" x2="149.22" y2="292.8" stroke="#000" stroke-width="1.5"/>
<line x1="184.08" y1="234.6" x2="184.08" y2="247.5" stroke="#000" stroke-width="1.5"/>
<line x1="182.38000000000002" y1="234.6" x2="185.78" y2="234.6" stroke="#000" stroke-width="1.5"/>
<line x1="182.38000000000002" y1="247.5" x2="185.78" y2="247.5" stroke="#000" stroke-width="1.5"/>
<line x1="184.08" y1="280.4" x2="184.08" y2="293.9" stroke="#000" stroke-width="1.5"/>
<line x1="182.38000000000002" y1="280.4" x2="185.78" y2="280.4" stroke="#000" stroke-width="1.5"/>
<line x1="182.38000000000002" y1="293.9" x2="185.78" y2="293.9" stroke="#000" stroke-width="1.5"/>
<line x1="220.64000000000001" y1="243.3" x2="220.64000000000001" y2="255.6" stroke="#000" stroke-width="1.5"/>
<line x1="218.94000000000003" y1="243.3" x2="222.34" y2="243.3" stroke="#000" stroke-width="1.5"/>
<line x1="218.94000000000003" y1="255.6" x2="222.34" y2="255.6" stroke="#000" stroke-width="1.5"/>
<line x1="220.64000000000001" y1="282.5" x2="220.64000000000001" y2="296.3" stroke="#000" stroke-width="1.5"/>
<line x1="218.94000000000003" y1="282.5" x2="222.34" y2="282.5" stroke="#000" stroke-width="1.5"/>
<line x1="218.94000000000003" y1="296.3" x2="222.34" y2="296.3" stroke="#000" stroke-width="1.5"/>
<text x="110.96000000000001" y="253.74" font-size="12" text-anchor="middle" fill="#1a1a1a">*</text>
<text x="147.52" y="248.04" font-size="12" text-anchor="middle" fill="#1a1a1a">**</text>
<text x="184.08" y="235.34" font-size="12" text-anchor="middle" fill="#1a1a1a">****</text>
<text x="220.64000000000001" y="244.34" font-size="12" text-anchor="middle" fill="#1a1a1a">***</text>
<text transform="translate(264.5,203.4) scale(0.85,1)" x="0" y="0" font-size="16" fill="#111" stroke="#111" stroke-width="0.3">C</text>
<rect x="312.1" y="207" width="3.6" height="4" fill="#2c4a7e"/>
<text x="320.4" y="212.4" font-size="10.0" text-anchor="start" fill="#111" textLength="75.6" lengthAdjust="spacingAndGlyphs" >No Endothelium</text>
<rect x="416.2" y="207" width="3.8" height="4" fill="#a3002a"/>
<text x="424.8" y="212.4" font-size="10.0" text-anchor="start" fill="#111" textLength="60.4" lengthAdjust="spacingAndGlyphs" >Endothelium</text>
<line x1="330" y1="224.4" x2="330" y2="329.2" stroke="#000" stroke-width="1.4"/>
<line x1="325.5" y1="328.6" x2="470.6" y2="328.6" stroke="#000" stroke-width="1.4"/>
<text x="321.2" y="332.5" font-size="10.8" text-anchor="end" fill="#111" >0</text>
<line x1="325.5" y1="312.00" x2="330" y2="312.00" stroke="#000" stroke-width="1.3"/>
<text x="321.2" y="315.9" font-size="10.8" text-anchor="end" fill="#111" >50</text>
<line x1="325.5" y1="295.40" x2="330" y2="295.40" stroke="#000" stroke-width="1.3"/>
<text x="321.2" y="299.3" font-size="10.8" text-anchor="end" fill="#111" >100</text>
<line x1="325.5" y1="278.80" x2="330" y2="278.80" stroke="#000" stroke-width="1.3"/>
<text x="321.2" y="282.7" font-size="10.8" text-anchor="end" fill="#111" >150</text>
<line x1="325.5" y1="262.20" x2="330" y2="262.20" stroke="#000" stroke-width="1.3"/>
<text x="321.2" y="266.1" font-size="10.8" text-anchor="end" fill="#111" >200</text>
<line x1="325.5" y1="245.60" x2="330" y2="245.60" stroke="#000" stroke-width="1.3"/>
<text x="321.2" y="249.50000000000003" font-size="10.8" text-anchor="end" fill="#111" >250</text>
<line x1="325.5" y1="229.00" x2="330" y2="229.00" stroke="#000" stroke-width="1.3"/>
<text x="321.2" y="232.9" font-size="10.8" text-anchor="end" fill="#111" >300</text>
<text x="344.6" y="343.2" font-size="10.2" text-anchor="middle" fill="#111" >0</text>
<text x="372.3" y="343.2" font-size="10.2" text-anchor="middle" fill="#111" >4</text>
<text x="400.0" y="343.2" font-size="10.2" text-anchor="middle" fill="#111" >8</text>
<text x="427.8" y="343.2" font-size="10.2" text-anchor="middle" fill="#111" >12</text>
<text x="455.6" y="343.2" font-size="10.2" text-anchor="middle" fill="#111" >16</text>
<text x="363.1" y="362.9" font-size="13.2" text-anchor="start" fill="#111" textLength="74.2" lengthAdjust="spacingAndGlyphs" >Time (hours)</text>
<text transform="translate(275.2,276.8) rotate(-90)" font-size="13.8" text-anchor="middle" fill="#111" textLength="118.0" lengthAdjust="spacingAndGlyphs">Neutrophil distance</text>
<text transform="translate(292.4,276.0) rotate(-90)" font-size="13.8" text-anchor="middle" fill="#111" textLength="101.2" lengthAdjust="spacingAndGlyphs">from lumen (μm)</text>
<line x1="340.8" y1="322.8" x2="340.8" y2="328.6" stroke="#000" stroke-width="1.3"/>
<line x1="339.3" y1="322.8" x2="342.3" y2="322.8" stroke="#000" stroke-width="1.3"/>
<line x1="348.40000000000003" y1="320.3" x2="348.40000000000003" y2="327.0" stroke="#000" stroke-width="1.3"/>
<line x1="346.90000000000003" y1="320.3" x2="349.90000000000003" y2="320.3" stroke="#000" stroke-width="1.3"/>
<rect x="345.1" y="327.0" width="6.8" height="1.60" fill="#a3002a"/>
<line x1="368.5" y1="293.3" x2="368.5" y2="298.9" stroke="#000" stroke-width="1.3"/>
<line x1="367.0" y1="293.3" x2="370.0" y2="293.3" stroke="#000" stroke-width="1.3"/>
<line x1="376.1" y1="270.3" x2="376.1" y2="275.4" stroke="#000" stroke-width="1.3"/>
<line x1="374.6" y1="270.3" x2="377.6" y2="270.3" stroke="#000" stroke-width="1.3"/>
<rect x="365.0" y="298.9" width="6.8" height="29.70" fill="#2c4a7e"/>
<rect x="372.8" y="275.4" width="6.8" height="53.20" fill="#a3002a"/>
<line x1="396.2" y1="291.5" x2="396.2" y2="297.2" stroke="#000" stroke-width="1.3"/>
<line x1="394.7" y1="291.5" x2="397.7" y2="291.5" stroke="#000" stroke-width="1.3"/>
<line x1="403.8" y1="253.8" x2="403.8" y2="259.2" stroke="#000" stroke-width="1.3"/>
<line x1="402.3" y1="253.8" x2="405.3" y2="253.8" stroke="#000" stroke-width="1.3"/>
<rect x="392.7" y="297.2" width="6.8" height="31.40" fill="#2c4a7e"/>
<rect x="400.5" y="259.2" width="6.8" height="69.40" fill="#a3002a"/>
<line x1="424.0" y1="293.2" x2="424.0" y2="298.9" stroke="#000" stroke-width="1.3"/>
<line x1="422.5" y1="293.2" x2="425.5" y2="293.2" stroke="#000" stroke-width="1.3"/>
<line x1="431.6" y1="246.0" x2="431.6" y2="252.0" stroke="#000" stroke-width="1.3"/>
<line x1="430.1" y1="246.0" x2="433.1" y2="246.0" stroke="#000" stroke-width="1.3"/>
<rect x="420.5" y="298.9" width="6.8" height="29.70" fill="#2c4a7e"/>
<rect x="428.3" y="252.0" width="6.8" height="76.60" fill="#a3002a"/>
<line x1="451.8" y1="290.6" x2="451.8" y2="296.2" stroke="#000" stroke-width="1.3"/>
<line x1="450.3" y1="290.6" x2="453.3" y2="290.6" stroke="#000" stroke-width="1.3"/>
<line x1="459.40000000000003" y1="242.5" x2="459.40000000000003" y2="248.3" stroke="#000" stroke-width="1.3"/>
<line x1="457.90000000000003" y1="242.5" x2="460.90000000000003" y2="242.5" stroke="#000" stroke-width="1.3"/>
<rect x="448.3" y="296.2" width="6.8" height="32.40" fill="#2c4a7e"/>
<rect x="456.1" y="248.3" width="6.8" height="80.30" fill="#a3002a"/>
<text x="376.1" y="271.44" font-size="12" text-anchor="middle" fill="#1a1a1a">****</text>
<text x="403.8" y="255.64" font-size="12" text-anchor="middle" fill="#1a1a1a">****</text>
<text x="431.6" y="247.44" font-size="12" text-anchor="middle" fill="#1a1a1a">****</text>
<text x="459.40000000000003" y="243.74" font-size="12" text-anchor="middle" fill="#1a1a1a">****</text>
<text transform="translate(12.6,395.5) scale(0.96,1)" x="0" y="0" font-size="16" fill="#111" stroke="#111" stroke-width="0.15">D</text>
<clipPath id="c13"><rect x="11" y="418" width="117.5" height="87.2"/></clipPath>
<g clip-path="url(#c13)">
<rect x="11" y="418" width="117.5" height="87.2" fill="#74767e"/>
<g filter="url(#b5)">
<circle cx="46.2" cy="476.3" r="1.6" fill="#5f5f5f" opacity="0.55"/>
<circle cx="17.1" cy="435.6" r="1.4" fill="#848484" opacity="0.55"/>
<circle cx="40.8" cy="424.6" r="0.7" fill="#7d7d7d" opacity="0.55"/>
<circle cx="104.3" cy="445.7" r="1.1" fill="#808080" opacity="0.55"/>
<circle cx="48.2" cy="455.1" r="1.5" fill="#7e7e7e" opacity="0.55"/>
<circle cx="57.5" cy="441.7" r="1.9" fill="#898989" opacity="0.55"/>
<circle cx="13.9" cy="439.8" r="0.7" fill="#6d6d6d" opacity="0.55"/>
<circle cx="119.5" cy="439.3" r="0.7" fill="#676767" opacity="0.55"/>
<circle cx="100.2" cy="471.1" r="1.4" fill="#646464" opacity="0.55"/>
<circle cx="61.1" cy="448.8" r="1.0" fill="#666666" opacity="0.55"/>
<circle cx="92.8" cy="468.8" r="1.5" fill="#848484" opacity="0.55"/>
<circle cx="92.9" cy="472.9" r="1.2" fill="#7c7c7c" opacity="0.55"/>
<circle cx="120.2" cy="467.9" r="1.9" fill="#838383" opacity="0.55"/>
<circle cx="45.2" cy="451.0" r="1.6" fill="#636363" opacity="0.55"/>
<circle cx="78.4" cy="421.0" r="1.6" fill="#838383" opacity="0.55"/>
<circle cx="31.4" cy="460.5" r="1.5" fill="#818181" opacity="0.55"/>
<circle cx="99.8" cy="460.4" r="1.5" fill="#6f6f6f" opacity="0.55"/>
<circle cx="111.5" cy="420.6" r="0.8" fill="#7f7f7f" opacity="0.55"/>
<circle cx="23.3" cy="451.9" r="1.3" fill="#8a8a8a" opacity="0.55"/>
<circle cx="117.0" cy="419.3" r="1.7" fill="#666666" opacity="0.55"/>
<circle cx="66.3" cy="435.6" r="1.0" fill="#858585" opacity="0.55"/>
<circle cx="58.6" cy="479.4" r="1.1" fill="#858585" opacity="0.55"/>
<circle cx="52.0" cy="470.4" r="1.8" fill="#6c6c6c" opacity="0.55"/>
<circle cx="98.7" cy="442.8" r="1.6" fill="#636363" opacity="0.55"/>
<circle cx="29.4" cy="447.4" r="0.8" fill="#616161" opacity="0.55"/>
<circle cx="57.6" cy="466.7" r="1.3" fill="#808080" opacity="0.55"/>
<circle cx="101.7" cy="458.2" r="1.9" fill="#888888" opacity="0.55"/>
<circle cx="39.2" cy="466.0" r="1.2" fill="#6d6d6d" opacity="0.55"/>
<circle cx="96.5" cy="436.0" r="0.9" fill="#7d7d7d" opacity="0.55"/>
<circle cx="38.3" cy="438.3" r="0.8" fill="#7f7f7f" opacity="0.55"/>
<circle cx="112.6" cy="450.3" r="1.4" fill="#636363" opacity="0.55"/>
<circle cx="15.2" cy="466.1" r="0.8" fill="#858585" opacity="0.55"/>
<circle cx="63.8" cy="449.3" r="1.7" fill="#5f5f5f" opacity="0.55"/>
<circle cx="118.1" cy="455.3" r="1.5" fill="#6d6d6d" opacity="0.55"/>
<circle cx="64.9" cy="428.5" r="1.1" fill="#6b6b6b" opacity="0.55"/>
<circle cx="23.0" cy="457.3" r="0.6" fill="#696969" opacity="0.55"/>
<circle cx="87.4" cy="432.8" r="1.4" fill="#696969" opacity="0.55"/>
<circle cx="96.5" cy="437.3" r="1.6" fill="#5f5f5f" opacity="0.55"/>
<circle cx="58.6" cy="477.9" r="1.9" fill="#656565" opacity="0.55"/>
<circle cx="25.0" cy="428.4" r="1.1" fill="#696969" opacity="0.55"/>
<circle cx="124.5" cy="459.7" r="1.4" fill="#656565" opacity="0.55"/>
<circle cx="97.8" cy="447.3" r="1.6" fill="#6f6f6f" opacity="0.55"/>
<circle cx="25.5" cy="433.4" r="1.0" fill="#898989" opacity="0.55"/>
<circle cx="61.8" cy="426.5" r="1.7" fill="#6b6b6b" opacity="0.55"/>
<circle cx="106.2" cy="459.5" r="1.2" fill="#696969" opacity="0.55"/>
<circle cx="71.3" cy="432.3" r="1.0" fill="#5e5e5e" opacity="0.55"/>
<circle cx="102.3" cy="453.2" r="1.3" fill="#6d6d6d" opacity="0.55"/>
<circle cx="38.6" cy="440.7" r="1.4" fill="#656565" opacity="0.55"/>
<circle cx="124.0" cy="451.1" r="0.7" fill="#5e5e5e" opacity="0.55"/>
<circle cx="97.2" cy="432.6" r="0.8" fill="#6e6e6e" opacity="0.55"/>
<circle cx="19.3" cy="423.9" r="1.0" fill="#5e5e5e" opacity="0.55"/>
<circle cx="43.9" cy="479.7" r="0.7" fill="#616161" opacity="0.55"/>
<circle cx="46.8" cy="465.7" r="1.1" fill="#818181" opacity="0.55"/>
<circle cx="14.2" cy="453.5" r="0.9" fill="#696969" opacity="0.55"/>
<circle cx="121.4" cy="463.0" r="1.4" fill="#666666" opacity="0.55"/>
<circle cx="50.7" cy="437.1" r="1.1" fill="#636363" opacity="0.55"/>
<circle cx="106.8" cy="423.2" r="0.7" fill="#8c8c8c" opacity="0.55"/>
<circle cx="122.3" cy="464.3" r="0.6" fill="#6f6f6f" opacity="0.55"/>
<circle cx="29.4" cy="448.7" r="1.4" fill="#7d7d7d" opacity="0.55"/>
<circle cx="39.6" cy="466.2" r="0.9" fill="#878787" opacity="0.55"/>
<circle cx="107.2" cy="475.8" r="0.8" fill="#676767" opacity="0.55"/>
<circle cx="120.2" cy="434.2" r="0.8" fill="#7d7d7d" opacity="0.55"/>
<circle cx="37.7" cy="471.5" r="0.6" fill="#696969" opacity="0.55"/>
<circle cx="43.8" cy="463.5" r="0.9" fill="#656565" opacity="0.55"/>
<circle cx="112.4" cy="420.2" r="1.5" fill="#666666" opacity="0.55"/>
<circle cx="75.3" cy="436.5" r="0.8" fill="#616161" opacity="0.55"/>
<circle cx="69.0" cy="418.9" r="0.5" fill="#7c7c7c" opacity="0.55"/>
<circle cx="84.0" cy="426.3" r="1.6" fill="#6b6b6b" opacity="0.55"/>
<circle cx="64.3" cy="431.2" r="0.7" fill="#8b8b8b" opacity="0.55"/>
<circle cx="44.3" cy="478.2" r="0.9" fill="#646464" opacity="0.55"/>
<circle cx="60.1" cy="463.2" r="0.8" fill="#5f5f5f" opacity="0.55"/>
<circle cx="102.4" cy="464.2" r="1.9" fill="#676767" opacity="0.55"/>
<circle cx="48.3" cy="435.0" r="1.0" fill="#6d6d6d" opacity="0.55"/>
<circle cx="55.8" cy="474.8" r="1.5" fill="#656565" opacity="0.55"/>
<circle cx="98.7" cy="439.2" r="0.9" fill="#656565" opacity="0.55"/>
<circle cx="84.2" cy="438.3" r="1.6" fill="#888888" opacity="0.55"/>
<circle cx="25.3" cy="469.4" r="1.2" fill="#808080" opacity="0.55"/>
<circle cx="106.5" cy="458.9" r="1.1" fill="#818181" opacity="0.55"/>
<circle cx="104.7" cy="457.0" r="1.3" fill="#878787" opacity="0.55"/>
<circle cx="121.1" cy="446.3" r="0.6" fill="#6e6e6e" opacity="0.55"/>
<circle cx="113.0" cy="460.1" r="0.5" fill="#868686" opacity="0.55"/>
<circle cx="27.6" cy="472.9" r="1.6" fill="#6e6e6e" opacity="0.55"/>
<circle cx="45.9" cy="445.4" r="0.8" fill="#858585" opacity="0.55"/>
<circle cx="99.6" cy="467.3" r="1.5" fill="#7f7f7f" opacity="0.55"/>
<circle cx="120.7" cy="426.5" r="0.6" fill="#6c6c6c" opacity="0.55"/>
<circle cx="113.5" cy="475.5" r="1.6" fill="#6d6d6d" opacity="0.55"/>
<circle cx="115.3" cy="438.4" r="1.8" fill="#868686" opacity="0.55"/>
<circle cx="67.9" cy="458.3" r="1.6" fill="#686868" opacity="0.55"/>
<circle cx="47.8" cy="435.7" r="1.8" fill="#616161" opacity="0.55"/>
<circle cx="120.7" cy="444.8" r="0.7" fill="#686868" opacity="0.55"/>
<circle cx="82.3" cy="450.1" r="1.5" fill="#848484" opacity="0.55"/>
<circle cx="84.6" cy="429.0" r="1.0" fill="#878787" opacity="0.55"/>
<circle cx="16.8" cy="462.2" r="1.6" fill="#808080" opacity="0.55"/>
<circle cx="19.5" cy="453.4" r="0.7" fill="#6a6a6a" opacity="0.55"/>
<circle cx="54.5" cy="479.1" r="0.6" fill="#626262" opacity="0.55"/>
<circle cx="111.1" cy="457.0" r="0.5" fill="#888888" opacity="0.55"/>
<circle cx="19.7" cy="419.5" r="1.3" fill="#666666" opacity="0.55"/>
<circle cx="90.0" cy="467.0" r="1.2" fill="#6f6f6f" opacity="0.55"/>
<circle cx="110.0" cy="432.1" r="1.2" fill="#6f6f6f" opacity="0.55"/>
<circle cx="75.2" cy="467.7" r="0.8" fill="#626262" opacity="0.55"/>
<circle cx="76.9" cy="440.2" r="1.2" fill="#818181" opacity="0.55"/>
<circle cx="68.8" cy="445.3" r="1.9" fill="#6d6d6d" opacity="0.55"/>
<circle cx="31.4" cy="436.4" r="1.3" fill="#626262" opacity="0.55"/>
<circle cx="40.1" cy="479.6" r="1.7" fill="#7d7d7d" opacity="0.55"/>
<circle cx="52.9" cy="464.3" r="1.7" fill="#838383" opacity="0.55"/>
<circle cx="86.1" cy="454.5" r="1.3" fill="#7f7f7f" opacity="0.55"/>
<circle cx="92.0" cy="421.7" r="1.4" fill="#686868" opacity="0.55"/>
<circle cx="15.6" cy="432.5" r="1.5" fill="#7e7e7e" opacity="0.55"/>
<circle cx="103.8" cy="442.1" r="1.6" fill="#6b6b6b" opacity="0.55"/>
<circle cx="75.5" cy="458.0" r="1.5" fill="#7e7e7e" opacity="0.55"/>
<circle cx="25.7" cy="431.8" r="1.0" fill="#7c7c7c" opacity="0.55"/>
<circle cx="87.3" cy="461.0" r="1.7" fill="#666666" opacity="0.55"/>
<circle cx="56.6" cy="448.8" r="0.8" fill="#5e5e5e" opacity="0.55"/>
<circle cx="16.0" cy="473.4" r="1.9" fill="#6e6e6e" opacity="0.55"/>
<circle cx="93.6" cy="458.1" r="1.0" fill="#696969" opacity="0.55"/>
<circle cx="17.6" cy="470.6" r="1.4" fill="#828282" opacity="0.55"/>
<circle cx="64.4" cy="440.0" r="1.4" fill="#878787" opacity="0.55"/>
<circle cx="19.9" cy="434.8" r="0.9" fill="#858585" opacity="0.55"/>
<circle cx="38.8" cy="454.3" r="1.6" fill="#808080" opacity="0.55"/>
<circle cx="119.9" cy="429.0" r="1.5" fill="#838383" opacity="0.55"/>
<circle cx="51.1" cy="447.1" r="0.7" fill="#6c6c6c" opacity="0.55"/>
<circle cx="68.4" cy="419.0" r="1.1" fill="#666666" opacity="0.55"/>
<circle cx="56.1" cy="440.2" r="0.9" fill="#8a8a8a" opacity="0.55"/>
<circle cx="111.4" cy="434.2" r="1.0" fill="#888888" opacity="0.55"/>
<circle cx="105.8" cy="477.9" r="0.5" fill="#7c7c7c" opacity="0.55"/>
<circle cx="21.4" cy="476.9" r="1.5" fill="#606060" opacity="0.55"/>
<circle cx="79.6" cy="450.7" r="0.6" fill="#848484" opacity="0.55"/>
<circle cx="14.1" cy="419.4" r="1.3" fill="#828282" opacity="0.55"/>
<circle cx="54.1" cy="450.9" r="1.1" fill="#5f5f5f" opacity="0.55"/>
<circle cx="128.5" cy="424.5" r="1.8" fill="#878787" opacity="0.55"/>
<circle cx="121.6" cy="434.4" r="0.6" fill="#8d8d8d" opacity="0.55"/>
<circle cx="32.5" cy="423.2" r="1.0" fill="#838383" opacity="0.55"/>
<circle cx="122.1" cy="435.9" r="1.8" fill="#6c6c6c" opacity="0.55"/>
<circle cx="89.6" cy="473.3" r="1.0" fill="#606060" opacity="0.55"/>
<circle cx="116.1" cy="441.8" r="1.2" fill="#898989" opacity="0.55"/>
<circle cx="120.5" cy="429.9" r="1.4" fill="#696969" opacity="0.55"/>
<circle cx="25.7" cy="459.9" r="1.5" fill="#696969" opacity="0.55"/>
<circle cx="70.9" cy="446.0" r="1.7" fill="#8d8d8d" opacity="0.55"/>
<circle cx="72.6" cy="476.7" r="1.8" fill="#686868" opacity="0.55"/>
<circle cx="63.0" cy="429.4" r="1.0" fill="#888888" opacity="0.55"/>
<circle cx="83.4" cy="432.4" r="0.5" fill="#868686" opacity="0.55"/>
<circle cx="100.6" cy="475.9" r="1.5" fill="#8a8a8a" opacity="0.55"/>
<circle cx="121.7" cy="475.0" r="1.7" fill="#898989" opacity="0.55"/>
<circle cx="111.6" cy="460.4" r="0.8" fill="#818181" opacity="0.55"/>
<circle cx="18.8" cy="427.3" r="1.7" fill="#818181" opacity="0.55"/>
<circle cx="123.3" cy="431.8" r="0.9" fill="#7f7f7f" opacity="0.55"/>
<circle cx="68.2" cy="447.7" r="1.2" fill="#7f7f7f" opacity="0.55"/>
<circle cx="104.5" cy="438.2" r="1.1" fill="#898989" opacity="0.55"/>
<circle cx="96.6" cy="467.2" r="1.1" fill="#818181" opacity="0.55"/>
<circle cx="85.8" cy="463.6" r="1.4" fill="#676767" opacity="0.55"/>
<circle cx="122.0" cy="462.0" r="1.8" fill="#858585" opacity="0.55"/>
<circle cx="95.9" cy="440.7" r="1.7" fill="#636363" opacity="0.55"/>
<circle cx="38.5" cy="470.6" r="0.6" fill="#8d8d8d" opacity="0.55"/>
<circle cx="73.0" cy="456.2" r="1.2" fill="#868686" opacity="0.55"/>
<circle cx="106.1" cy="458.8" r="1.9" fill="#898989" opacity="0.55"/>
<circle cx="71.3" cy="458.4" r="1.6" fill="#858585" opacity="0.55"/>
<circle cx="125.3" cy="422.3" r="1.7" fill="#656565" opacity="0.55"/>
<circle cx="70.0" cy="470.3" r="1.7" fill="#828282" opacity="0.55"/>
<circle cx="47.1" cy="476.7" r="1.0" fill="#818181" opacity="0.55"/>
<circle cx="86.9" cy="454.2" r="0.9" fill="#5e5e5e" opacity="0.55"/>
<circle cx="106.3" cy="424.8" r="1.4" fill="#626262" opacity="0.55"/>
<circle cx="49.2" cy="421.0" r="0.7" fill="#828282" opacity="0.55"/>
<circle cx="53.4" cy="476.9" r="1.1" fill="#656565" opacity="0.55"/>
<circle cx="16.4" cy="459.3" r="1.0" fill="#656565" opacity="0.55"/>
<circle cx="43.1" cy="444.4" r="0.7" fill="#7e7e7e" opacity="0.55"/>
<circle cx="47.9" cy="457.5" r="0.9" fill="#808080" opacity="0.55"/>
<circle cx="87.9" cy="437.2" r="1.2" fill="#828282" opacity="0.55"/>
<circle cx="36.2" cy="443.2" r="1.8" fill="#5e5e5e" opacity="0.55"/>
<circle cx="32.6" cy="459.7" r="1.0" fill="#6d6d6d" opacity="0.55"/>
<circle cx="103.8" cy="471.6" r="1.6" fill="#858585" opacity="0.55"/>
<circle cx="78.8" cy="469.8" r="1.2" fill="#848484" opacity="0.55"/>
<circle cx="93.1" cy="444.8" r="1.9" fill="#858585" opacity="0.55"/>
<circle cx="45.3" cy="454.4" r="0.6" fill="#676767" opacity="0.55"/>
<circle cx="65.5" cy="454.3" r="1.0" fill="#7f7f7f" opacity="0.55"/>
<circle cx="68.3" cy="460.9" r="1.5" fill="#868686" opacity="0.55"/>
<circle cx="42.1" cy="456.1" r="0.7" fill="#6d6d6d" opacity="0.55"/>
<circle cx="33.9" cy="436.5" r="0.9" fill="#616161" opacity="0.55"/>
<circle cx="90.0" cy="434.1" r="0.6" fill="#696969" opacity="0.55"/>
<circle cx="105.8" cy="445.8" r="1.5" fill="#838383" opacity="0.55"/>
<circle cx="53.7" cy="461.5" r="0.6" fill="#7c7c7c" opacity="0.55"/>
<circle cx="123.2" cy="443.6" r="1.6" fill="#666666" opacity="0.55"/>
<circle cx="48.9" cy="467.1" r="1.3" fill="#6e6e6e" opacity="0.55"/>
<circle cx="118.5" cy="421.4" r="1.6" fill="#6b6b6b" opacity="0.55"/>
<circle cx="103.7" cy="465.1" r="0.8" fill="#838383" opacity="0.55"/>
<circle cx="112.1" cy="432.4" r="1.0" fill="#686868" opacity="0.55"/>
<circle cx="46.8" cy="453.6" r="1.5" fill="#848484" opacity="0.55"/>
<circle cx="23.4" cy="474.8" r="1.4" fill="#8b8b8b" opacity="0.55"/>
<circle cx="81.3" cy="440.1" r="1.1" fill="#868686" opacity="0.55"/>
<circle cx="108.9" cy="477.7" r="0.5" fill="#7d7d7d" opacity="0.55"/>
<circle cx="69.9" cy="448.0" r="1.0" fill="#676767" opacity="0.55"/>
<circle cx="24.1" cy="450.3" r="1.8" fill="#6f6f6f" opacity="0.55"/>
<circle cx="109.2" cy="473.1" r="1.4" fill="#666666" opacity="0.55"/>
<circle cx="122.7" cy="434.2" r="1.0" fill="#7c7c7c" opacity="0.55"/>
<circle cx="105.6" cy="465.1" r="1.6" fill="#808080" opacity="0.55"/>
<circle cx="118.2" cy="419.0" r="0.8" fill="#676767" opacity="0.55"/>
<circle cx="20.7" cy="442.0" r="0.9" fill="#6b6b6b" opacity="0.55"/>
<circle cx="86.1" cy="459.8" r="1.1" fill="#6b6b6b" opacity="0.55"/>
<circle cx="29.2" cy="460.8" r="0.7" fill="#7f7f7f" opacity="0.55"/>
<circle cx="123.5" cy="427.9" r="0.5" fill="#5e5e5e" opacity="0.55"/>
<circle cx="65.3" cy="428.5" r="0.9" fill="#8a8a8a" opacity="0.55"/>
<circle cx="27.2" cy="450.9" r="1.8" fill="#8c8c8c" opacity="0.55"/>
<circle cx="53.7" cy="441.5" r="1.8" fill="#838383" opacity="0.55"/>
<circle cx="110.4" cy="454.8" r="1.4" fill="#7f7f7f" opacity="0.55"/>
<circle cx="57.4" cy="427.2" r="1.8" fill="#646464" opacity="0.55"/>
<circle cx="50.9" cy="462.0" r="0.9" fill="#646464" opacity="0.55"/>
<circle cx="102.2" cy="433.2" r="1.6" fill="#666666" opacity="0.55"/>
<circle cx="11.9" cy="475.8" r="0.8" fill="#848484" opacity="0.55"/>
<circle cx="39.6" cy="462.1" r="0.7" fill="#8b8b8b" opacity="0.55"/>
<circle cx="91.6" cy="439.6" r="0.6" fill="#808080" opacity="0.55"/>
<circle cx="93.8" cy="458.4" r="1.7" fill="#616161" opacity="0.55"/>
<circle cx="47.2" cy="478.0" r="0.8" fill="#616161" opacity="0.55"/>
<circle cx="64.5" cy="452.1" r="0.7" fill="#6d6d6d" opacity="0.55"/>
<circle cx="50.8" cy="434.5" r="1.3" fill="#6f6f6f" opacity="0.55"/>
<circle cx="72.8" cy="474.6" r="1.6" fill="#626262" opacity="0.55"/>
<circle cx="116.7" cy="445.3" r="1.0" fill="#818181" opacity="0.55"/>
<circle cx="39.9" cy="474.7" r="1.4" fill="#888888" opacity="0.55"/>
<circle cx="59.9" cy="444.7" r="0.6" fill="#8b8b8b" opacity="0.55"/>
<circle cx="14.9" cy="423.2" r="0.7" fill="#6a6a6a" opacity="0.55"/>
<circle cx="49.3" cy="431.5" r="0.9" fill="#686868" opacity="0.55"/>
<circle cx="102.8" cy="441.6" r="1.1" fill="#868686" opacity="0.55"/>
<circle cx="31.0" cy="460.2" r="0.5" fill="#626262" opacity="0.55"/>
<circle cx="36.1" cy="444.6" r="1.8" fill="#8a8a8a" opacity="0.55"/>
<circle cx="79.2" cy="430.2" r="1.4" fill="#6e6e6e" opacity="0.55"/>
<circle cx="106.8" cy="418.1" r="1.2" fill="#636363" opacity="0.55"/>
<circle cx="28.7" cy="447.7" r="1.3" fill="#686868" opacity="0.55"/>
<circle cx="114.5" cy="420.9" r="0.9" fill="#686868" opacity="0.55"/>
<circle cx="14.8" cy="437.3" r="1.8" fill="#858585" opacity="0.55"/>
<circle cx="77.7" cy="443.8" r="1.3" fill="#828282" opacity="0.55"/>
<circle cx="58.6" cy="472.0" r="1.5" fill="#646464" opacity="0.55"/>
<circle cx="65.0" cy="450.3" r="0.5" fill="#6b6b6b" opacity="0.55"/>
<circle cx="126.0" cy="469.2" r="0.6" fill="#6c6c6c" opacity="0.55"/>
<circle cx="79.2" cy="447.4" r="0.8" fill="#8d8d8d" opacity="0.55"/>
<circle cx="50.4" cy="466.1" r="1.4" fill="#7c7c7c" opacity="0.55"/>
<circle cx="47.2" cy="444.6" r="0.6" fill="#636363" opacity="0.55"/>
<circle cx="62.8" cy="468.5" r="1.3" fill="#838383" opacity="0.55"/>
<circle cx="42.3" cy="446.3" r="0.9" fill="#848484" opacity="0.55"/>
<circle cx="25.9" cy="464.0" r="0.7" fill="#5f5f5f" opacity="0.55"/>
<circle cx="71.9" cy="464.3" r="1.6" fill="#858585" opacity="0.55"/>
<circle cx="46.8" cy="418.8" r="0.7" fill="#616161" opacity="0.55"/>
<circle cx="92.8" cy="439.0" r="0.9" fill="#8c8c8c" opacity="0.55"/>
<circle cx="34.9" cy="435.0" r="1.0" fill="#7f7f7f" opacity="0.55"/>
<circle cx="31.1" cy="450.9" r="0.6" fill="#7d7d7d" opacity="0.55"/>
<circle cx="117.1" cy="440.1" r="1.6" fill="#8b8b8b" opacity="0.55"/>
<circle cx="16.3" cy="425.1" r="0.8" fill="#8a8a8a" opacity="0.55"/>
<circle cx="110.5" cy="477.4" r="1.8" fill="#646464" opacity="0.55"/>
<circle cx="110.2" cy="444.8" r="1.4" fill="#7c7c7c" opacity="0.55"/>
<circle cx="61.6" cy="477.2" r="1.7" fill="#636363" opacity="0.55"/>
<circle cx="65.0" cy="437.5" r="0.8" fill="#7c7c7c" opacity="0.55"/>
<circle cx="127.4" cy="458.0" r="1.2" fill="#868686" opacity="0.55"/>
<circle cx="59.6" cy="448.9" r="1.2" fill="#5f5f5f" opacity="0.55"/>
<circle cx="79.7" cy="465.0" r="0.9" fill="#6d6d6d" opacity="0.55"/>
<circle cx="113.9" cy="451.1" r="1.8" fill="#7f7f7f" opacity="0.55"/>
<circle cx="26.4" cy="465.8" r="1.3" fill="#6c6c6c" opacity="0.55"/>
<circle cx="11.4" cy="477.6" r="1.6" fill="#5f5f5f" opacity="0.55"/>
<circle cx="121.8" cy="427.9" r="1.0" fill="#646464" opacity="0.55"/>
<circle cx="28.8" cy="434.8" r="1.6" fill="#7c7c7c" opacity="0.55"/>
<circle cx="91.7" cy="442.6" r="1.5" fill="#696969" opacity="0.55"/>
<circle cx="89.0" cy="468.4" r="1.7" fill="#626262" opacity="0.55"/>
<circle cx="39.8" cy="437.1" r="0.9" fill="#7e7e7e" opacity="0.55"/>
<circle cx="88.5" cy="443.3" r="1.6" fill="#8b8b8b" opacity="0.55"/>
<circle cx="119.6" cy="425.9" r="0.7" fill="#7c7c7c" opacity="0.55"/>
<circle cx="32.2" cy="433.2" r="1.1" fill="#6b6b6b" opacity="0.55"/>
<circle cx="56.6" cy="465.6" r="1.3" fill="#666666" opacity="0.55"/>
<circle cx="56.0" cy="463.3" r="1.5" fill="#6a6a6a" opacity="0.55"/>
<circle cx="50.9" cy="471.6" r="0.6" fill="#676767" opacity="0.55"/>
<circle cx="120.6" cy="436.6" r="1.5" fill="#8a8a8a" opacity="0.55"/>
<circle cx="12.2" cy="429.2" r="0.7" fill="#898989" opacity="0.55"/>
<circle cx="53.8" cy="477.4" r="1.8" fill="#6a6a6a" opacity="0.55"/>
<circle cx="46.0" cy="461.3" r="1.3" fill="#5f5f5f" opacity="0.55"/>
<circle cx="67.6" cy="453.0" r="1.2" fill="#5f5f5f" opacity="0.55"/>
<circle cx="44.1" cy="467.6" r="1.8" fill="#808080" opacity="0.55"/>
<circle cx="91.5" cy="456.8" r="1.5" fill="#5e5e5e" opacity="0.55"/>
<circle cx="24.7" cy="432.2" r="1.2" fill="#858585" opacity="0.55"/>
<circle cx="53.5" cy="448.0" r="1.2" fill="#676767" opacity="0.55"/>
<circle cx="110.0" cy="424.5" r="1.0" fill="#686868" opacity="0.55"/>
<circle cx="75.3" cy="467.5" r="0.7" fill="#808080" opacity="0.55"/>
<circle cx="59.4" cy="428.3" r="0.7" fill="#8d8d8d" opacity="0.55"/>
<circle cx="127.5" cy="433.6" r="0.8" fill="#6f6f6f" opacity="0.55"/>
<circle cx="118.4" cy="478.7" r="1.4" fill="#626262" opacity="0.55"/>
<circle cx="30.2" cy="432.6" r="1.4" fill="#6a6a6a" opacity="0.55"/>
<circle cx="49.3" cy="469.9" r="1.3" fill="#6a6a6a" opacity="0.55"/>
<circle cx="19.2" cy="465.3" r="1.5" fill="#8d8d8d" opacity="0.55"/>
<circle cx="56.1" cy="466.1" r="1.3" fill="#868686" opacity="0.55"/>
<circle cx="83.3" cy="446.8" r="1.1" fill="#838383" opacity="0.55"/>
<circle cx="82.6" cy="441.0" r="1.4" fill="#686868" opacity="0.55"/>
<circle cx="31.1" cy="461.7" r="0.5" fill="#636363" opacity="0.55"/>
<circle cx="80.3" cy="460.4" r="1.5" fill="#8b8b8b" opacity="0.55"/>
<circle cx="48.9" cy="450.0" r="0.5" fill="#808080" opacity="0.55"/>
<circle cx="22.1" cy="463.5" r="1.6" fill="#898989" opacity="0.55"/>
<circle cx="14.1" cy="450.9" r="1.4" fill="#606060" opacity="0.55"/>
<circle cx="122.1" cy="452.2" r="1.5" fill="#7d7d7d" opacity="0.55"/>
<circle cx="122.7" cy="445.8" r="0.9" fill="#666666" opacity="0.55"/>
<circle cx="54.2" cy="449.3" r="1.6" fill="#898989" opacity="0.55"/>
<circle cx="93.0" cy="433.6" r="1.6" fill="#838383" opacity="0.55"/>
<circle cx="105.3" cy="437.2" r="1.3" fill="#858585" opacity="0.55"/>
<circle cx="71.1" cy="450.7" r="0.7" fill="#8a8a8a" opacity="0.55"/>
<circle cx="89.0" cy="458.2" r="0.9" fill="#848484" opacity="0.55"/>
<circle cx="74.2" cy="418.3" r="1.3" fill="#616161" opacity="0.55"/>
<circle cx="40.9" cy="432.9" r="0.8" fill="#6a6a6a" opacity="0.55"/>
<circle cx="53.7" cy="434.2" r="1.8" fill="#636363" opacity="0.55"/>
<circle cx="96.7" cy="471.9" r="1.7" fill="#7c7c7c" opacity="0.55"/>
<circle cx="68.3" cy="469.6" r="1.6" fill="#646464" opacity="0.55"/>
<circle cx="75.1" cy="444.2" r="1.2" fill="#6d6d6d" opacity="0.55"/>
<circle cx="80.1" cy="430.1" r="1.0" fill="#6e6e6e" opacity="0.55"/>
<circle cx="35.6" cy="447.9" r="1.6" fill="#7c7c7c" opacity="0.55"/>
<circle cx="93.7" cy="468.7" r="0.7" fill="#6c6c6c" opacity="0.55"/>
<circle cx="109.8" cy="452.1" r="0.5" fill="#898989" opacity="0.55"/>
<circle cx="78.2" cy="453.4" r="1.0" fill="#808080" opacity="0.55"/>
<circle cx="59.3" cy="440.2" r="1.7" fill="#898989" opacity="0.55"/>
<circle cx="29.2" cy="454.2" r="1.5" fill="#7c7c7c" opacity="0.55"/>
<circle cx="98.4" cy="427.6" r="1.9" fill="#868686" opacity="0.55"/>
<circle cx="118.5" cy="445.8" r="1.9" fill="#6c6c6c" opacity="0.55"/>
<circle cx="118.5" cy="467.0" r="1.5" fill="#848484" opacity="0.55"/>
<circle cx="55.3" cy="470.9" r="0.9" fill="#636363" opacity="0.55"/>
<circle cx="18.3" cy="446.7" r="0.9" fill="#636363" opacity="0.55"/>
<circle cx="81.5" cy="418.2" r="0.9" fill="#7d7d7d" opacity="0.55"/>
<circle cx="127.1" cy="442.0" r="0.8" fill="#676767" opacity="0.55"/>
<circle cx="114.7" cy="431.4" r="1.8" fill="#606060" opacity="0.55"/>
<circle cx="99.5" cy="474.8" r="0.8" fill="#7f7f7f" opacity="0.55"/>
<circle cx="27.1" cy="435.1" r="1.1" fill="#7d7d7d" opacity="0.55"/>
<circle cx="110.4" cy="468.5" r="0.5" fill="#626262" opacity="0.55"/>
<circle cx="79.7" cy="459.6" r="1.0" fill="#858585" opacity="0.55"/>
<circle cx="107.0" cy="431.7" r="1.5" fill="#8d8d8d" opacity="0.55"/>
<circle cx="103.3" cy="424.7" r="0.5" fill="#898989" opacity="0.55"/>
<circle cx="55.7" cy="475.6" r="1.4" fill="#6a6a6a" opacity="0.55"/>
<circle cx="46.3" cy="469.0" r="0.9" fill="#8d8d8d" opacity="0.55"/>
<circle cx="29.3" cy="418.9" r="1.8" fill="#8a8a8a" opacity="0.55"/>
<circle cx="11.7" cy="431.4" r="1.7" fill="#818181" opacity="0.55"/>
<circle cx="17.7" cy="473.5" r="1.1" fill="#5e5e5e" opacity="0.55"/>
<circle cx="31.4" cy="446.5" r="1.4" fill="#7e7e7e" opacity="0.55"/>
<circle cx="104.1" cy="422.6" r="0.8" fill="#838383" opacity="0.55"/>
<circle cx="45.8" cy="443.8" r="1.6" fill="#5f5f5f" opacity="0.55"/>
<circle cx="57.8" cy="472.6" r="1.0" fill="#818181" opacity="0.55"/>
<circle cx="68.1" cy="441.7" r="1.8" fill="#858585" opacity="0.55"/>
<circle cx="22.0" cy="424.5" r="0.6" fill="#808080" opacity="0.55"/>
<circle cx="88.0" cy="468.4" r="0.6" fill="#878787" opacity="0.55"/>
<circle cx="106.5" cy="441.0" r="1.4" fill="#6c6c6c" opacity="0.55"/>
<circle cx="80.4" cy="473.9" r="1.9" fill="#626262" opacity="0.55"/>
<circle cx="81.9" cy="455.5" r="1.3" fill="#8a8a8a" opacity="0.55"/>
<circle cx="76.6" cy="422.3" r="1.5" fill="#6e6e6e" opacity="0.55"/>
<circle cx="59.6" cy="436.5" r="1.7" fill="#7e7e7e" opacity="0.55"/>
<circle cx="124.9" cy="430.7" r="0.7" fill="#686868" opacity="0.55"/>
<circle cx="123.1" cy="420.9" r="1.8" fill="#858585" opacity="0.55"/>
<circle cx="78.5" cy="459.3" r="0.8" fill="#7d7d7d" opacity="0.55"/>
<circle cx="52.0" cy="479.6" r="1.7" fill="#878787" opacity="0.55"/>
<circle cx="85.2" cy="466.7" r="1.7" fill="#5e5e5e" opacity="0.55"/>
<circle cx="51.3" cy="476.9" r="0.9" fill="#636363" opacity="0.55"/>
<circle cx="118.3" cy="480.0" r="1.7" fill="#6b6b6b" opacity="0.55"/>
<circle cx="73.2" cy="421.3" r="1.1" fill="#656565" opacity="0.55"/>
<circle cx="100.1" cy="425.6" r="0.6" fill="#818181" opacity="0.55"/>
<circle cx="19.3" cy="457.8" r="1.2" fill="#6a6a6a" opacity="0.55"/>
<circle cx="117.2" cy="466.0" r="1.3" fill="#7d7d7d" opacity="0.55"/>
<circle cx="40.3" cy="467.7" r="0.9" fill="#636363" opacity="0.55"/>
<circle cx="92.3" cy="457.2" r="1.2" fill="#6f6f6f" opacity="0.55"/>
<circle cx="100.4" cy="426.9" r="0.7" fill="#686868" opacity="0.55"/>
<circle cx="37.5" cy="443.4" r="0.6" fill="#616161" opacity="0.55"/>
<circle cx="97.1" cy="462.4" r="1.5" fill="#828282" opacity="0.55"/>
<circle cx="80.6" cy="479.5" r="1.5" fill="#626262" opacity="0.55"/>
<circle cx="85.2" cy="418.5" r="1.0" fill="#6d6d6d" opacity="0.55"/>
<circle cx="37.3" cy="439.1" r="1.4" fill="#6b6b6b" opacity="0.55"/>
<circle cx="27.4" cy="441.0" r="0.9" fill="#626262" opacity="0.55"/>
<circle cx="113.0" cy="441.1" r="1.7" fill="#696969" opacity="0.55"/>
<circle cx="74.9" cy="439.9" r="0.9" fill="#6f6f6f" opacity="0.55"/>
<circle cx="34.6" cy="467.1" r="1.5" fill="#6c6c6c" opacity="0.55"/>
<circle cx="39.0" cy="469.1" r="1.4" fill="#8b8b8b" opacity="0.55"/>
<circle cx="67.1" cy="454.9" r="1.8" fill="#6f6f6f" opacity="0.55"/>
<circle cx="95.4" cy="477.4" r="0.7" fill="#878787" opacity="0.55"/>
<circle cx="118.3" cy="436.5" r="1.6" fill="#8c8c8c" opacity="0.55"/>
<circle cx="20.2" cy="458.1" r="0.6" fill="#7f7f7f" opacity="0.55"/>
<circle cx="69.6" cy="439.5" r="0.6" fill="#6d6d6d" opacity="0.55"/>
<circle cx="31.3" cy="479.0" r="1.1" fill="#818181" opacity="0.55"/>
<circle cx="68.4" cy="440.1" r="1.2" fill="#666666" opacity="0.55"/>
<circle cx="80.7" cy="471.5" r="1.4" fill="#7c7c7c" opacity="0.55"/>
<circle cx="30.9" cy="441.1" r="0.9" fill="#6a6a6a" opacity="0.55"/>
<circle cx="38.0" cy="446.5" r="1.6" fill="#8d8d8d" opacity="0.55"/>
<circle cx="64.6" cy="446.9" r="1.8" fill="#868686" opacity="0.55"/>
<circle cx="44.5" cy="451.6" r="1.6" fill="#838383" opacity="0.55"/>
<circle cx="34.9" cy="464.4" r="0.6" fill="#818181" opacity="0.55"/>
<circle cx="36.6" cy="447.3" r="1.6" fill="#656565" opacity="0.55"/>
<circle cx="37.3" cy="451.0" r="1.5" fill="#8c8c8c" opacity="0.55"/>
<circle cx="83.7" cy="433.7" r="1.3" fill="#868686" opacity="0.55"/>
<circle cx="51.1" cy="429.0" r="1.8" fill="#656565" opacity="0.55"/>
<circle cx="36.3" cy="475.1" r="1.4" fill="#676767" opacity="0.55"/>
<circle cx="35.0" cy="450.6" r="1.8" fill="#8a8a8a" opacity="0.55"/>
<circle cx="46.7" cy="432.4" r="1.2" fill="#6f6f6f" opacity="0.55"/>
<circle cx="84.0" cy="418.3" r="0.6" fill="#8d8d8d" opacity="0.55"/>
<circle cx="78.3" cy="418.6" r="0.9" fill="#636363" opacity="0.55"/>
<circle cx="21.1" cy="446.6" r="1.2" fill="#636363" opacity="0.55"/>
<circle cx="112.4" cy="438.3" r="0.8" fill="#6a6a6a" opacity="0.55"/>
<circle cx="115.9" cy="419.3" r="1.2" fill="#6f6f6f" opacity="0.55"/>
<circle cx="109.6" cy="473.5" r="0.9" fill="#818181" opacity="0.55"/>
<circle cx="96.5" cy="461.7" r="1.7" fill="#636363" opacity="0.55"/>
<circle cx="103.8" cy="425.1" r="1.7" fill="#6d6d6d" opacity="0.55"/>
<circle cx="112.8" cy="448.6" r="1.5" fill="#6e6e6e" opacity="0.55"/>
<circle cx="121.4" cy="471.0" r="0.7" fill="#8a8a8a" opacity="0.55"/>
<circle cx="72.2" cy="456.8" r="1.4" fill="#606060" opacity="0.55"/>
<circle cx="64.3" cy="422.4" r="1.2" fill="#818181" opacity="0.55"/>
<circle cx="118.3" cy="476.4" r="1.6" fill="#5e5e5e" opacity="0.55"/>
<circle cx="79.9" cy="435.1" r="1.1" fill="#7d7d7d" opacity="0.55"/>
<circle cx="98.2" cy="436.6" r="0.7" fill="#858585" opacity="0.55"/>
<circle cx="96.7" cy="451.1" r="1.8" fill="#838383" opacity="0.55"/>
<circle cx="16.3" cy="463.3" r="1.0" fill="#808080" opacity="0.55"/>
<circle cx="112.4" cy="465.4" r="1.3" fill="#828282" opacity="0.55"/>
<circle cx="111.3" cy="426.6" r="0.5" fill="#626262" opacity="0.55"/>
<circle cx="80.1" cy="440.2" r="0.9" fill="#666666" opacity="0.55"/>
<circle cx="73.6" cy="477.4" r="1.8" fill="#8b8b8b" opacity="0.55"/>
<circle cx="14.3" cy="439.6" r="1.1" fill="#6a6a6a" opacity="0.55"/>
<circle cx="124.2" cy="476.1" r="1.8" fill="#636363" opacity="0.55"/>
<circle cx="124.5" cy="457.7" r="1.1" fill="#6a6a6a" opacity="0.55"/>
<circle cx="128.3" cy="466.5" r="1.1" fill="#838383" opacity="0.55"/>
<circle cx="91.4" cy="480.0" r="1.5" fill="#8b8b8b" opacity="0.55"/>
<circle cx="76.3" cy="472.2" r="1.0" fill="#868686" opacity="0.55"/>
<circle cx="86.0" cy="440.8" r="1.4" fill="#888888" opacity="0.55"/>
<circle cx="22.1" cy="429.8" r="1.4" fill="#6a6a6a" opacity="0.55"/>
<circle cx="25.2" cy="476.2" r="1.6" fill="#8b8b8b" opacity="0.55"/>
<circle cx="41.7" cy="451.1" r="1.8" fill="#696969" opacity="0.55"/>
<circle cx="37.8" cy="423.2" r="1.5" fill="#828282" opacity="0.55"/>
<circle cx="90.4" cy="479.2" r="1.3" fill="#6f6f6f" opacity="0.55"/>
<circle cx="46.0" cy="459.1" r="1.7" fill="#878787" opacity="0.55"/>
<circle cx="114.7" cy="434.4" r="0.6" fill="#6b6b6b" opacity="0.55"/>
<circle cx="84.5" cy="421.9" r="1.2" fill="#8c8c8c" opacity="0.55"/>
<circle cx="71.3" cy="433.3" r="1.4" fill="#808080" opacity="0.55"/>
<circle cx="22.3" cy="465.9" r="1.0" fill="#898989" opacity="0.55"/>
<circle cx="122.0" cy="441.6" r="1.0" fill="#7d7d7d" opacity="0.55"/>
<circle cx="47.7" cy="446.2" r="1.4" fill="#8b8b8b" opacity="0.55"/>
<circle cx="73.7" cy="452.4" r="1.8" fill="#7d7d7d" opacity="0.55"/>
<circle cx="48.7" cy="453.8" r="1.7" fill="#5e5e5e" opacity="0.55"/>
<circle cx="114.9" cy="468.7" r="1.7" fill="#7e7e7e" opacity="0.55"/>
<circle cx="102.0" cy="460.0" r="0.8" fill="#5f5f5f" opacity="0.55"/>
<circle cx="56.9" cy="431.4" r="1.6" fill="#7e7e7e" opacity="0.55"/>
<circle cx="88.7" cy="472.9" r="1.8" fill="#868686" opacity="0.55"/>
<circle cx="48.0" cy="456.5" r="0.6" fill="#888888" opacity="0.55"/>
<circle cx="58.0" cy="444.8" r="1.5" fill="#6d6d6d" opacity="0.55"/>
<circle cx="97.1" cy="442.6" r="0.8" fill="#878787" opacity="0.55"/>
<circle cx="87.4" cy="446.5" r="1.8" fill="#686868" opacity="0.55"/>
<circle cx="101.4" cy="455.0" r="0.5" fill="#858585" opacity="0.55"/>
<circle cx="117.8" cy="478.8" r="1.3" fill="#616161" opacity="0.55"/>
<circle cx="14.0" cy="475.5" r="1.7" fill="#6d6d6d" opacity="0.55"/>
<circle cx="46.1" cy="464.6" r="0.7" fill="#616161" opacity="0.55"/>
<circle cx="128.3" cy="478.3" r="1.0" fill="#868686" opacity="0.55"/>
<circle cx="47.8" cy="432.7" r="1.7" fill="#8d8d8d" opacity="0.55"/>
<circle cx="56.4" cy="449.1" r="1.2" fill="#606060" opacity="0.55"/>
<circle cx="29.6" cy="435.0" r="1.8" fill="#888888" opacity="0.55"/>
<circle cx="68.7" cy="462.7" r="1.3" fill="#818181" opacity="0.55"/>
<circle cx="17.7" cy="435.4" r="0.6" fill="#878787" opacity="0.55"/>
<circle cx="69.3" cy="438.0" r="1.5" fill="#7d7d7d" opacity="0.55"/>
<circle cx="91.1" cy="426.1" r="1.0" fill="#878787" opacity="0.55"/>
<circle cx="42.7" cy="421.7" r="1.5" fill="#626262" opacity="0.55"/>
<circle cx="68.5" cy="461.7" r="1.1" fill="#646464" opacity="0.55"/>
<circle cx="108.0" cy="428.0" r="0.8" fill="#7d7d7d" opacity="0.55"/>
<circle cx="65.0" cy="433.1" r="1.3" fill="#878787" opacity="0.55"/>
<circle cx="106.1" cy="457.8" r="1.0" fill="#808080" opacity="0.55"/>
<circle cx="125.1" cy="435.5" r="1.8" fill="#7e7e7e" opacity="0.55"/>
<circle cx="47.3" cy="422.6" r="0.8" fill="#666666" opacity="0.55"/>
<circle cx="112.7" cy="446.5" r="0.9" fill="#858585" opacity="0.55"/>
<circle cx="54.3" cy="427.8" r="1.9" fill="#5e5e5e" opacity="0.55"/>
<circle cx="28.8" cy="468.8" r="1.7" fill="#838383" opacity="0.55"/>
<circle cx="58.2" cy="444.3" r="1.3" fill="#7f7f7f" opacity="0.55"/>
<circle cx="94.7" cy="475.7" r="1.7" fill="#6a6a6a" opacity="0.55"/>
<circle cx="31.7" cy="466.9" r="0.7" fill="#626262" opacity="0.55"/>
<circle cx="72.8" cy="435.9" r="1.8" fill="#848484" opacity="0.55"/>
<circle cx="50.4" cy="479.8" r="0.6" fill="#6a6a6a" opacity="0.55"/>
<circle cx="73.7" cy="440.6" r="0.9" fill="#808080" opacity="0.55"/>
<circle cx="96.4" cy="467.3" r="1.2" fill="#878787" opacity="0.55"/>
<circle cx="41.6" cy="422.8" r="1.0" fill="#838383" opacity="0.55"/>
<circle cx="63.2" cy="455.6" r="0.6" fill="#8b8b8b" opacity="0.55"/>
<circle cx="25.9" cy="422.8" r="1.2" fill="#888888" opacity="0.55"/>
<circle cx="106.2" cy="479.8" r="0.6" fill="#626262" opacity="0.55"/>
<circle cx="127.0" cy="473.0" r="1.5" fill="#636363" opacity="0.55"/>
<circle cx="105.0" cy="441.3" r="0.8" fill="#6b6b6b" opacity="0.55"/>
<circle cx="119.4" cy="418.3" r="0.6" fill="#888888" opacity="0.55"/>
<circle cx="63.2" cy="433.0" r="1.8" fill="#8c8c8c" opacity="0.55"/>
<circle cx="33.3" cy="439.7" r="1.8" fill="#7d7d7d" opacity="0.55"/>
<circle cx="65.4" cy="428.8" r="1.1" fill="#8c8c8c" opacity="0.55"/>
<circle cx="96.7" cy="439.5" r="0.9" fill="#616161" opacity="0.55"/>
<circle cx="47.7" cy="433.5" r="0.9" fill="#848484" opacity="0.55"/>
<circle cx="90.2" cy="460.0" r="1.6" fill="#7c7c7c" opacity="0.55"/>
<circle cx="88.8" cy="433.0" r="1.7" fill="#636363" opacity="0.55"/>
<circle cx="91.7" cy="470.8" r="1.6" fill="#7c7c7c" opacity="0.55"/>
<circle cx="41.3" cy="419.2" r="0.8" fill="#868686" opacity="0.55"/>
<circle cx="22.0" cy="429.3" r="0.7" fill="#666666" opacity="0.55"/>
<circle cx="35.5" cy="428.3" r="0.5" fill="#656565" opacity="0.55"/>
<circle cx="92.7" cy="423.3" r="1.9" fill="#6e6e6e" opacity="0.55"/>
<circle cx="13.4" cy="443.6" r="1.6" fill="#8c8c8c" opacity="0.55"/>
<circle cx="89.8" cy="447.7" r="1.8" fill="#868686" opacity="0.55"/>
<circle cx="115.0" cy="424.6" r="0.9" fill="#666666" opacity="0.55"/>
<circle cx="25.6" cy="457.2" r="0.9" fill="#6d6d6d" opacity="0.55"/>
<circle cx="34.5" cy="473.2" r="1.3" fill="#7f7f7f" opacity="0.55"/>
<circle cx="99.1" cy="446.5" r="0.7" fill="#8d8d8d" opacity="0.55"/>
<circle cx="79.7" cy="462.9" r="1.8" fill="#6d6d6d" opacity="0.55"/>
<circle cx="32.7" cy="469.0" r="0.8" fill="#686868" opacity="0.55"/>
<circle cx="108.6" cy="454.7" r="1.5" fill="#828282" opacity="0.55"/>
<circle cx="98.3" cy="459.4" r="0.8" fill="#5e5e5e" opacity="0.55"/>
<circle cx="107.2" cy="452.2" r="1.1" fill="#6d6d6d" opacity="0.55"/>
<circle cx="37.1" cy="427.7" r="1.7" fill="#878787" opacity="0.55"/>
<circle cx="32.5" cy="442.0" r="1.5" fill="#5f5f5f" opacity="0.55"/>
<circle cx="98.7" cy="477.9" r="0.9" fill="#696969" opacity="0.55"/>
<circle cx="90.1" cy="449.3" r="1.6" fill="#6b6b6b" opacity="0.55"/>
<circle cx="71.1" cy="446.5" r="1.1" fill="#606060" opacity="0.55"/>
<circle cx="91.0" cy="431.1" r="1.1" fill="#818181" opacity="0.55"/>
<circle cx="25.2" cy="447.8" r="0.9" fill="#828282" opacity="0.55"/>
<circle cx="52.1" cy="434.4" r="0.8" fill="#606060" opacity="0.55"/>
<circle cx="79.3" cy="439.4" r="0.9" fill="#7f7f7f" opacity="0.55"/>
<circle cx="120.7" cy="432.9" r="1.4" fill="#686868" opacity="0.55"/>
<circle cx="76.6" cy="453.4" r="0.7" fill="#626262" opacity="0.55"/>
<circle cx="116.4" cy="450.4" r="0.6" fill="#5e5e5e" opacity="0.55"/>
<circle cx="30.9" cy="468.4" r="1.4" fill="#8d8d8d" opacity="0.55"/>
<circle cx="108.7" cy="443.9" r="0.6" fill="#666666" opacity="0.55"/>
<circle cx="74.0" cy="478.0" r="1.5" fill="#686868" opacity="0.55"/>
<circle cx="47.9" cy="426.5" r="0.9" fill="#818181" opacity="0.55"/>
<circle cx="116.0" cy="472.0" r="1.1" fill="#8d8d8d" opacity="0.55"/>
<circle cx="46.3" cy="469.4" r="1.9" fill="#626262" opacity="0.55"/>
<circle cx="36.7" cy="455.8" r="0.5" fill="#898989" opacity="0.55"/>
<circle cx="45.2" cy="462.8" r="0.5" fill="#838383" opacity="0.55"/>
<circle cx="53.0" cy="464.8" r="0.8" fill="#636363" opacity="0.55"/>
<circle cx="98.3" cy="455.3" r="0.8" fill="#6b6b6b" opacity="0.55"/>
<circle cx="119.8" cy="426.8" r="0.7" fill="#656565" opacity="0.55"/>
<circle cx="73.1" cy="456.0" r="0.6" fill="#686868" opacity="0.55"/>
<circle cx="56.2" cy="451.2" r="1.0" fill="#8d8d8d" opacity="0.55"/>
<circle cx="25.5" cy="449.7" r="0.5" fill="#888888" opacity="0.55"/>
<circle cx="77.0" cy="429.8" r="1.7" fill="#888888" opacity="0.55"/>
<circle cx="64.0" cy="473.0" r="0.8" fill="#8c8c8c" opacity="0.55"/>
<circle cx="82.4" cy="428.5" r="1.0" fill="#8c8c8c" opacity="0.55"/>
<circle cx="88.3" cy="427.6" r="1.6" fill="#6f6f6f" opacity="0.55"/>
<circle cx="58.4" cy="459.2" r="1.4" fill="#626262" opacity="0.55"/>
<circle cx="30.1" cy="479.5" r="0.5" fill="#6c6c6c" opacity="0.55"/>
<circle cx="113.1" cy="450.5" r="1.7" fill="#848484" opacity="0.55"/>
<circle cx="47.8" cy="437.4" r="1.1" fill="#6b6b6b" opacity="0.55"/>
<circle cx="111.6" cy="427.1" r="1.1" fill="#8a8a8a" opacity="0.55"/>
<circle cx="32.8" cy="467.9" r="0.5" fill="#616161" opacity="0.55"/>
<circle cx="24.9" cy="430.4" r="1.8" fill="#848484" opacity="0.55"/>
<circle cx="44.7" cy="462.9" r="0.5" fill="#878787" opacity="0.55"/>
<circle cx="62.9" cy="425.3" r="0.9" fill="#888888" opacity="0.55"/>
<circle cx="52.5" cy="426.4" r="1.9" fill="#838383" opacity="0.55"/>
<circle cx="100.6" cy="472.0" r="1.6" fill="#646464" opacity="0.55"/>
<circle cx="56.7" cy="444.1" r="1.2" fill="#636363" opacity="0.55"/>
<circle cx="101.6" cy="444.3" r="1.3" fill="#6b6b6b" opacity="0.55"/>
<circle cx="91.6" cy="459.1" r="1.4" fill="#636363" opacity="0.55"/>
<circle cx="127.4" cy="455.5" r="1.4" fill="#676767" opacity="0.55"/>
<circle cx="15.1" cy="462.1" r="1.6" fill="#838383" opacity="0.55"/>
<circle cx="25.4" cy="476.7" r="1.8" fill="#858585" opacity="0.55"/>
<circle cx="77.3" cy="453.7" r="0.8" fill="#8c8c8c" opacity="0.55"/>
<circle cx="90.0" cy="446.4" r="1.0" fill="#7d7d7d" opacity="0.55"/>
<circle cx="31.8" cy="439.6" r="1.9" fill="#7e7e7e" opacity="0.55"/>
<circle cx="108.2" cy="473.2" r="1.1" fill="#6b6b6b" opacity="0.55"/>
<circle cx="61.1" cy="461.2" r="1.8" fill="#6c6c6c" opacity="0.55"/>
<circle cx="105.6" cy="434.5" r="1.8" fill="#808080" opacity="0.55"/>
<circle cx="75.7" cy="459.1" r="1.3" fill="#7c7c7c" opacity="0.55"/>
<circle cx="54.5" cy="448.4" r="1.8" fill="#6f6f6f" opacity="0.55"/>
<circle cx="100.5" cy="434.3" r="1.1" fill="#7e7e7e" opacity="0.55"/>
<circle cx="116.6" cy="427.3" r="1.5" fill="#818181" opacity="0.55"/>
<circle cx="128.4" cy="431.4" r="0.8" fill="#888888" opacity="0.55"/>
<circle cx="38.5" cy="477.1" r="0.6" fill="#818181" opacity="0.55"/>
<circle cx="57.8" cy="467.1" r="1.2" fill="#696969" opacity="0.55"/>
<circle cx="105.6" cy="474.3" r="0.7" fill="#6b6b6b" opacity="0.55"/>
<circle cx="77.5" cy="473.5" r="1.4" fill="#696969" opacity="0.55"/>
<circle cx="44.4" cy="451.6" r="1.0" fill="#6b6b6b" opacity="0.55"/>
<circle cx="35.4" cy="455.7" r="0.7" fill="#6e6e6e" opacity="0.55"/>
<circle cx="88.9" cy="452.5" r="1.0" fill="#606060" opacity="0.55"/>
<circle cx="72.3" cy="446.9" r="1.0" fill="#828282" opacity="0.55"/>
<circle cx="27.2" cy="429.4" r="1.5" fill="#818181" opacity="0.55"/>
<circle cx="92.3" cy="466.7" r="0.8" fill="#8d8d8d" opacity="0.55"/>
<circle cx="40.7" cy="460.6" r="1.2" fill="#878787" opacity="0.55"/>
<circle cx="116.5" cy="452.8" r="1.1" fill="#6d6d6d" opacity="0.55"/>
<circle cx="28.3" cy="429.4" r="0.6" fill="#646464" opacity="0.55"/>
<circle cx="110.9" cy="434.2" r="1.6" fill="#6d6d6d" opacity="0.55"/>
<circle cx="116.8" cy="427.7" r="1.8" fill="#5e5e5e" opacity="0.55"/>
<circle cx="25.0" cy="470.1" r="0.7" fill="#818181" opacity="0.55"/>
<circle cx="43.0" cy="449.1" r="1.1" fill="#7f7f7f" opacity="0.55"/>
<circle cx="112.9" cy="454.5" r="1.1" fill="#828282" opacity="0.55"/>
<circle cx="101.6" cy="477.7" r="1.7" fill="#7e7e7e" opacity="0.55"/>
<circle cx="42.1" cy="475.9" r="1.6" fill="#8c8c8c" opacity="0.55"/>
<circle cx="102.8" cy="436.9" r="1.6" fill="#656565" opacity="0.55"/>
<circle cx="128.4" cy="443.3" r="1.7" fill="#656565" opacity="0.55"/>
<circle cx="83.2" cy="459.0" r="0.7" fill="#6d6d6d" opacity="0.55"/>
<circle cx="118.1" cy="429.6" r="1.2" fill="#676767" opacity="0.55"/>
<circle cx="55.2" cy="460.5" r="0.7" fill="#686868" opacity="0.55"/>
<circle cx="34.0" cy="474.4" r="1.8" fill="#6b6b6b" opacity="0.55"/>
<circle cx="13.9" cy="461.2" r="1.8" fill="#818181" opacity="0.55"/>
<circle cx="17.6" cy="474.9" r="0.5" fill="#888888" opacity="0.55"/>
<circle cx="72.2" cy="468.8" r="1.3" fill="#7c7c7c" opacity="0.55"/>
<circle cx="67.6" cy="474.1" r="1.2" fill="#666666" opacity="0.55"/>
<circle cx="120.5" cy="422.7" r="0.9" fill="#6e6e6e" opacity="0.55"/>
<circle cx="90.7" cy="472.7" r="1.9" fill="#6e6e6e" opacity="0.55"/>
<circle cx="93.4" cy="437.3" r="1.4" fill="#848484" opacity="0.55"/>
<circle cx="69.4" cy="440.6" r="1.1" fill="#6a6a6a" opacity="0.55"/>
<circle cx="57.8" cy="421.5" r="1.4" fill="#8d8d8d" opacity="0.55"/>
<circle cx="47.4" cy="423.7" r="1.7" fill="#838383" opacity="0.55"/>
<circle cx="53.4" cy="455.0" r="0.8" fill="#898989" opacity="0.55"/>
<circle cx="74.4" cy="459.1" r="1.5" fill="#6c6c6c" opacity="0.55"/>
<circle cx="32.6" cy="445.1" r="1.7" fill="#626262" opacity="0.55"/>
<circle cx="86.5" cy="467.5" r="1.4" fill="#6d6d6d" opacity="0.55"/>
<circle cx="104.9" cy="457.9" r="1.6" fill="#636363" opacity="0.55"/>
<circle cx="107.7" cy="462.3" r="1.3" fill="#808080" opacity="0.55"/>
<circle cx="91.9" cy="461.6" r="0.9" fill="#888888" opacity="0.55"/>
<circle cx="71.6" cy="441.2" r="0.6" fill="#7c7c7c" opacity="0.55"/>
<circle cx="100.2" cy="456.3" r="1.7" fill="#8b8b8b" opacity="0.55"/>
<circle cx="39.0" cy="476.6" r="0.6" fill="#606060" opacity="0.55"/>
<circle cx="85.3" cy="452.3" r="1.4" fill="#5e5e5e" opacity="0.55"/>
<circle cx="34.2" cy="477.6" r="0.9" fill="#7f7f7f" opacity="0.55"/>
<circle cx="93.1" cy="478.7" r="1.4" fill="#666666" opacity="0.55"/>
<circle cx="67.4" cy="442.9" r="0.9" fill="#6d6d6d" opacity="0.55"/>
<circle cx="63.2" cy="474.7" r="1.8" fill="#5f5f5f" opacity="0.55"/>
<circle cx="104.4" cy="424.0" r="1.6" fill="#898989" opacity="0.55"/>
<circle cx="68.8" cy="427.4" r="1.2" fill="#838383" opacity="0.55"/>
<circle cx="35.9" cy="420.3" r="1.3" fill="#646464" opacity="0.55"/>
<circle cx="109.4" cy="472.9" r="1.7" fill="#808080" opacity="0.55"/>
<circle cx="33.1" cy="470.4" r="1.3" fill="#7c7c7c" opacity="0.55"/>
<circle cx="106.6" cy="479.5" r="1.2" fill="#898989" opacity="0.55"/>
<circle cx="48.1" cy="439.3" r="1.8" fill="#868686" opacity="0.55"/>
<circle cx="97.1" cy="429.7" r="1.7" fill="#818181" opacity="0.55"/>
<circle cx="47.2" cy="473.1" r="0.7" fill="#7c7c7c" opacity="0.55"/>
<circle cx="87.4" cy="470.5" r="1.2" fill="#808080" opacity="0.55"/>
<circle cx="64.1" cy="431.5" r="1.4" fill="#606060" opacity="0.55"/>
<circle cx="50.5" cy="457.3" r="1.2" fill="#818181" opacity="0.55"/>
<circle cx="125.2" cy="435.1" r="0.8" fill="#828282" opacity="0.55"/>
<circle cx="32.7" cy="472.7" r="1.8" fill="#8c8c8c" opacity="0.55"/>
<circle cx="50.3" cy="423.1" r="1.2" fill="#606060" opacity="0.55"/>
<circle cx="87.3" cy="443.5" r="1.2" fill="#5e5e5e" opacity="0.55"/>
<circle cx="93.9" cy="452.7" r="0.9" fill="#636363" opacity="0.55"/>
<circle cx="49.1" cy="457.9" r="1.8" fill="#5f5f5f" opacity="0.55"/>
<circle cx="17.4" cy="461.7" r="1.3" fill="#686868" opacity="0.55"/>
<circle cx="97.8" cy="433.0" r="1.8" fill="#6c6c6c" opacity="0.55"/>
<circle cx="50.7" cy="472.9" r="1.8" fill="#8a8a8a" opacity="0.55"/>
<circle cx="52.0" cy="460.7" r="0.6" fill="#828282" opacity="0.55"/>
<circle cx="93.6" cy="430.3" r="0.9" fill="#6b6b6b" opacity="0.55"/>
<circle cx="72.5" cy="438.5" r="1.6" fill="#848484" opacity="0.55"/>
<circle cx="106.0" cy="447.9" r="1.0" fill="#7e7e7e" opacity="0.55"/>
<circle cx="122.9" cy="464.1" r="0.7" fill="#6a6a6a" opacity="0.55"/>
<circle cx="32.4" cy="450.0" r="1.1" fill="#888888" opacity="0.55"/>
<circle cx="96.7" cy="474.2" r="1.8" fill="#858585" opacity="0.55"/>
<circle cx="74.7" cy="439.3" r="0.8" fill="#808080" opacity="0.55"/>
<circle cx="64.0" cy="475.0" r="0.7" fill="#696969" opacity="0.55"/>
<circle cx="94.4" cy="434.4" r="0.5" fill="#818181" opacity="0.55"/>
<circle cx="103.4" cy="424.4" r="0.9" fill="#7f7f7f" opacity="0.55"/>
<circle cx="78.8" cy="446.3" r="1.6" fill="#8c8c8c" opacity="0.55"/>
<circle cx="55.0" cy="429.6" r="1.3" fill="#6a6a6a" opacity="0.55"/>
<circle cx="83.7" cy="432.9" r="1.1" fill="#606060" opacity="0.55"/>
<circle cx="68.9" cy="472.8" r="1.5" fill="#7c7c7c" opacity="0.55"/>
<circle cx="15.9" cy="449.8" r="1.1" fill="#646464" opacity="0.55"/>
<circle cx="119.8" cy="432.3" r="1.2" fill="#8d8d8d" opacity="0.55"/>
<circle cx="33.0" cy="421.4" r="1.7" fill="#686868" opacity="0.55"/>
<circle cx="75.6" cy="418.2" r="0.5" fill="#666666" opacity="0.55"/>
<circle cx="50.6" cy="442.1" r="0.6" fill="#5f5f5f" opacity="0.55"/>
<circle cx="87.5" cy="448.0" r="1.8" fill="#868686" opacity="0.55"/>
<circle cx="128.3" cy="423.7" r="1.5" fill="#6c6c6c" opacity="0.55"/>
<circle cx="81.1" cy="421.1" r="1.6" fill="#898989" opacity="0.55"/>
<circle cx="25.0" cy="458.1" r="0.9" fill="#636363" opacity="0.55"/>
<circle cx="30.3" cy="451.1" r="0.5" fill="#7c7c7c" opacity="0.55"/>
<circle cx="114.7" cy="456.9" r="1.0" fill="#6b6b6b" opacity="0.55"/>
<circle cx="20.0" cy="471.2" r="1.5" fill="#6e6e6e" opacity="0.55"/>
<circle cx="121.9" cy="470.5" r="1.5" fill="#6c6c6c" opacity="0.55"/>
<circle cx="67.9" cy="477.2" r="1.8" fill="#7d7d7d" opacity="0.55"/>
<circle cx="69.1" cy="452.3" r="1.3" fill="#7f7f7f" opacity="0.55"/>
<circle cx="40.8" cy="457.9" r="0.9" fill="#7f7f7f" opacity="0.55"/>
<circle cx="35.3" cy="478.9" r="0.7" fill="#666666" opacity="0.55"/>
<circle cx="54.2" cy="431.7" r="1.6" fill="#6b6b6b" opacity="0.55"/>
<circle cx="25.0" cy="447.1" r="1.1" fill="#7e7e7e" opacity="0.55"/>
<circle cx="74.7" cy="475.7" r="1.1" fill="#626262" opacity="0.55"/>
<circle cx="53.8" cy="424.7" r="1.5" fill="#6e6e6e" opacity="0.55"/>
<circle cx="71.0" cy="432.7" r="1.3" fill="#858585" opacity="0.55"/>
<circle cx="62.7" cy="458.5" r="0.6" fill="#848484" opacity="0.55"/>
<circle cx="45.0" cy="471.6" r="0.8" fill="#7d7d7d" opacity="0.55"/>
<circle cx="53.9" cy="420.0" r="1.8" fill="#8c8c8c" opacity="0.55"/>
<circle cx="82.2" cy="475.8" r="0.9" fill="#606060" opacity="0.55"/>
<circle cx="32.0" cy="456.3" r="1.3" fill="#6d6d6d" opacity="0.55"/>
<circle cx="60.3" cy="473.0" r="1.3" fill="#808080" opacity="0.55"/>
<circle cx="92.8" cy="459.2" r="1.4" fill="#6b6b6b" opacity="0.55"/>
<circle cx="62.8" cy="454.7" r="1.5" fill="#7e7e7e" opacity="0.55"/>
<circle cx="50.7" cy="469.8" r="1.7" fill="#686868" opacity="0.55"/>
<circle cx="91.4" cy="438.3" r="0.6" fill="#6a6a6a" opacity="0.55"/>
<circle cx="19.3" cy="420.7" r="1.8" fill="#6d6d6d" opacity="0.55"/>
<circle cx="18.5" cy="452.6" r="1.1" fill="#616161" opacity="0.55"/>
<circle cx="40.6" cy="456.8" r="1.5" fill="#686868" opacity="0.55"/>
<circle cx="83.3" cy="473.0" r="0.6" fill="#6c6c6c" opacity="0.55"/>
<circle cx="39.6" cy="437.5" r="1.6" fill="#828282" opacity="0.55"/>
<circle cx="46.9" cy="440.7" r="1.4" fill="#878787" opacity="0.55"/>
<circle cx="11.6" cy="444.4" r="1.7" fill="#868686" opacity="0.55"/>
<circle cx="93.4" cy="438.8" r="1.1" fill="#656565" opacity="0.55"/>
<circle cx="84.8" cy="461.2" r="0.9" fill="#646464" opacity="0.55"/>
<circle cx="93.1" cy="433.6" r="1.4" fill="#7e7e7e" opacity="0.55"/>
<circle cx="69.8" cy="426.4" r="1.6" fill="#6e6e6e" opacity="0.55"/>
<circle cx="125.6" cy="448.6" r="1.7" fill="#656565" opacity="0.55"/>
<circle cx="62.5" cy="460.1" r="1.2" fill="#686868" opacity="0.55"/>
<circle cx="62.2" cy="438.6" r="0.7" fill="#818181" opacity="0.55"/>
<circle cx="44.0" cy="466.7" r="1.7" fill="#848484" opacity="0.55"/>
<circle cx="81.1" cy="479.4" r="1.5" fill="#828282" opacity="0.55"/>
<circle cx="19.7" cy="439.3" r="1.2" fill="#676767" opacity="0.55"/>
<circle cx="81.8" cy="472.7" r="0.5" fill="#636363" opacity="0.55"/>
<circle cx="30.6" cy="456.6" r="1.9" fill="#818181" opacity="0.55"/>
<circle cx="92.5" cy="444.4" r="0.9" fill="#8c8c8c" opacity="0.55"/>
<circle cx="112.4" cy="451.1" r="1.5" fill="#626262" opacity="0.55"/>
<circle cx="24.3" cy="453.4" r="0.9" fill="#898989" opacity="0.55"/>
<circle cx="101.0" cy="460.7" r="1.2" fill="#858585" opacity="0.55"/>
<circle cx="21.0" cy="434.1" r="0.5" fill="#626262" opacity="0.55"/>
<circle cx="55.5" cy="468.2" r="1.4" fill="#5f5f5f" opacity="0.55"/>
<circle cx="98.0" cy="459.8" r="1.3" fill="#7e7e7e" opacity="0.55"/>
<circle cx="87.6" cy="471.8" r="0.9" fill="#8c8c8c" opacity="0.55"/>
<circle cx="65.4" cy="446.4" r="0.6" fill="#646464" opacity="0.55"/>
<circle cx="51.5" cy="418.1" r="1.5" fill="#696969" opacity="0.55"/>
<circle cx="103.6" cy="478.6" r="0.6" fill="#808080" opacity="0.55"/>
<circle cx="109.1" cy="452.4" r="0.8" fill="#838383" opacity="0.55"/>
<circle cx="66.3" cy="419.4" r="1.3" fill="#636363" opacity="0.55"/>
<circle cx="115.5" cy="477.0" r="1.1" fill="#626262" opacity="0.55"/>
<circle cx="53.7" cy="423.9" r="1.5" fill="#858585" opacity="0.55"/>
<circle cx="88.1" cy="468.0" r="1.6" fill="#6d6d6d" opacity="0.55"/>
<circle cx="59.1" cy="431.6" r="1.2" fill="#6b6b6b" opacity="0.55"/>
<circle cx="124.0" cy="450.1" r="1.1" fill="#636363" opacity="0.55"/>
<circle cx="50.9" cy="425.5" r="0.6" fill="#606060" opacity="0.55"/>
<circle cx="47.4" cy="442.4" r="0.9" fill="#6f6f6f" opacity="0.55"/>
<circle cx="30.5" cy="440.1" r="1.3" fill="#8b8b8b" opacity="0.55"/>
<circle cx="15.6" cy="470.2" r="1.7" fill="#868686" opacity="0.55"/>
<circle cx="29.2" cy="476.7" r="1.7" fill="#6d6d6d" opacity="0.55"/>
<circle cx="35.1" cy="469.7" r="1.4" fill="#6f6f6f" opacity="0.55"/>
<circle cx="83.1" cy="451.5" r="1.9" fill="#828282" opacity="0.55"/>
<circle cx="87.3" cy="433.5" r="1.4" fill="#868686" opacity="0.55"/>
<circle cx="17.3" cy="432.4" r="0.9" fill="#8c8c8c" opacity="0.55"/>
<circle cx="119.4" cy="469.5" r="1.7" fill="#696969" opacity="0.55"/>
<circle cx="78.3" cy="456.8" r="1.5" fill="#6e6e6e" opacity="0.55"/>
<circle cx="20.6" cy="433.1" r="1.5" fill="#828282" opacity="0.55"/>
<circle cx="125.5" cy="444.5" r="1.4" fill="#818181" opacity="0.55"/>
<circle cx="71.4" cy="422.2" r="1.7" fill="#828282" opacity="0.55"/>
<circle cx="127.9" cy="420.6" r="1.7" fill="#8c8c8c" opacity="0.55"/>
<circle cx="97.3" cy="447.7" r="1.0" fill="#8d8d8d" opacity="0.55"/>
<circle cx="81.9" cy="429.4" r="1.7" fill="#6d6d6d" opacity="0.55"/>
<circle cx="103.6" cy="419.9" r="1.2" fill="#626262" opacity="0.55"/>
<circle cx="111.8" cy="438.2" r="1.3" fill="#8d8d8d" opacity="0.55"/>
<circle cx="35.1" cy="446.3" r="1.4" fill="#6e6e6e" opacity="0.55"/>
<circle cx="78.6" cy="475.0" r="1.3" fill="#6f6f6f" opacity="0.55"/>
<circle cx="81.2" cy="424.3" r="1.2" fill="#858585" opacity="0.55"/>
<circle cx="33.4" cy="446.3" r="1.2" fill="#898989" opacity="0.55"/>
<circle cx="64.1" cy="428.0" r="1.7" fill="#838383" opacity="0.55"/>
<circle cx="111.0" cy="429.5" r="1.2" fill="#7e7e7e" opacity="0.55"/>
<circle cx="119.1" cy="464.8" r="0.8" fill="#636363" opacity="0.55"/>
<circle cx="99.3" cy="445.7" r="0.9" fill="#616161" opacity="0.55"/>
<circle cx="20.9" cy="457.7" r="0.9" fill="#7e7e7e" opacity="0.55"/>
<circle cx="68.7" cy="425.8" r="0.7" fill="#5f5f5f" opacity="0.55"/>
<circle cx="83.7" cy="442.7" r="0.9" fill="#8a8a8a" opacity="0.55"/>
<circle cx="110.3" cy="428.0" r="1.5" fill="#646464" opacity="0.55"/>
<circle cx="26.6" cy="435.9" r="0.7" fill="#656565" opacity="0.55"/>
<circle cx="95.1" cy="465.6" r="1.6" fill="#7f7f7f" opacity="0.55"/>
<circle cx="54.0" cy="447.3" r="1.4" fill="#6b6b6b" opacity="0.55"/>
<circle cx="48.0" cy="459.8" r="0.6" fill="#7d7d7d" opacity="0.55"/>
<circle cx="60.9" cy="472.2" r="0.8" fill="#7f7f7f" opacity="0.55"/>
<circle cx="24.3" cy="455.9" r="1.8" fill="#7f7f7f" opacity="0.55"/>
<circle cx="61.9" cy="453.7" r="1.4" fill="#7f7f7f" opacity="0.55"/>
<circle cx="96.8" cy="435.5" r="1.1" fill="#6b6b6b" opacity="0.55"/>
<circle cx="88.0" cy="473.8" r="1.5" fill="#818181" opacity="0.55"/>
<circle cx="108.8" cy="429.3" r="1.2" fill="#808080" opacity="0.55"/>
<circle cx="127.7" cy="418.7" r="1.6" fill="#606060" opacity="0.55"/>
<circle cx="29.7" cy="423.6" r="1.6" fill="#898989" opacity="0.55"/>
<circle cx="123.3" cy="477.3" r="1.0" fill="#868686" opacity="0.55"/>
<circle cx="81.5" cy="421.0" r="1.2" fill="#7f7f7f" opacity="0.55"/>
<circle cx="116.5" cy="441.3" r="1.3" fill="#808080" opacity="0.55"/>
<circle cx="47.9" cy="447.7" r="0.7" fill="#6b6b6b" opacity="0.55"/>
<circle cx="58.8" cy="435.7" r="1.8" fill="#5e5e5e" opacity="0.55"/>
<circle cx="122.2" cy="436.2" r="1.9" fill="#6b6b6b" opacity="0.55"/>
<circle cx="118.4" cy="466.5" r="1.5" fill="#8a8a8a" opacity="0.55"/>
<circle cx="55.2" cy="479.1" r="0.6" fill="#606060" opacity="0.55"/>
<circle cx="92.0" cy="475.8" r="0.9" fill="#686868" opacity="0.55"/>
<circle cx="18.4" cy="461.6" r="0.7" fill="#6b6b6b" opacity="0.55"/>
<circle cx="117.7" cy="453.4" r="1.0" fill="#888888" opacity="0.55"/>
<circle cx="93.2" cy="444.8" r="0.8" fill="#696969" opacity="0.55"/>
<circle cx="122.9" cy="440.3" r="1.7" fill="#606060" opacity="0.55"/>
<circle cx="61.1" cy="475.2" r="0.9" fill="#7e7e7e" opacity="0.55"/>
<circle cx="56.6" cy="431.1" r="1.6" fill="#7f7f7f" opacity="0.55"/>
<circle cx="101.5" cy="423.3" r="1.1" fill="#838383" opacity="0.55"/>
<circle cx="15.0" cy="474.1" r="1.7" fill="#858585" opacity="0.55"/>
<circle cx="106.7" cy="457.6" r="1.8" fill="#626262" opacity="0.55"/>
<circle cx="112.7" cy="435.4" r="0.7" fill="#8b8b8b" opacity="0.55"/>
<circle cx="124.3" cy="447.7" r="1.7" fill="#858585" opacity="0.55"/>
<circle cx="79.4" cy="455.0" r="1.8" fill="#8d8d8d" opacity="0.55"/>
<circle cx="77.5" cy="456.7" r="0.7" fill="#898989" opacity="0.55"/>
<circle cx="127.7" cy="426.6" r="1.3" fill="#7e7e7e" opacity="0.55"/>
<circle cx="101.9" cy="458.7" r="0.6" fill="#6d6d6d" opacity="0.55"/>
<circle cx="72.6" cy="445.8" r="1.3" fill="#828282" opacity="0.55"/>
<circle cx="126.8" cy="441.0" r="1.3" fill="#828282" opacity="0.55"/>
<circle cx="25.0" cy="420.1" r="1.5" fill="#626262" opacity="0.55"/>
<circle cx="128.2" cy="459.6" r="0.8" fill="#6e6e6e" opacity="0.55"/>
<circle cx="56.7" cy="450.7" r="0.8" fill="#808080" opacity="0.55"/>
<circle cx="102.0" cy="420.8" r="0.8" fill="#828282" opacity="0.55"/>
<circle cx="27.0" cy="419.0" r="1.4" fill="#656565" opacity="0.55"/>
<circle cx="59.0" cy="420.9" r="1.1" fill="#696969" opacity="0.55"/>
<circle cx="100.2" cy="461.6" r="1.2" fill="#606060" opacity="0.55"/>
<circle cx="95.8" cy="476.0" r="0.7" fill="#858585" opacity="0.55"/>
<circle cx="25.2" cy="449.0" r="1.8" fill="#5f5f5f" opacity="0.55"/>
<circle cx="102.6" cy="422.1" r="1.1" fill="#888888" opacity="0.55"/>
<circle cx="68.6" cy="446.2" r="1.1" fill="#7c7c7c" opacity="0.55"/>
<circle cx="116.6" cy="446.6" r="1.9" fill="#7f7f7f" opacity="0.55"/>
<circle cx="85.1" cy="453.6" r="1.2" fill="#868686" opacity="0.55"/>
<circle cx="67.5" cy="435.5" r="1.2" fill="#6a6a6a" opacity="0.55"/>
<circle cx="60.7" cy="421.0" r="1.0" fill="#8c8c8c" opacity="0.55"/>
<circle cx="51.4" cy="451.9" r="0.9" fill="#6b6b6b" opacity="0.55"/>
<circle cx="65.2" cy="474.2" r="1.8" fill="#8c8c8c" opacity="0.55"/>
<circle cx="69.8" cy="456.3" r="0.7" fill="#8d8d8d" opacity="0.55"/>
<circle cx="23.8" cy="457.0" r="1.4" fill="#606060" opacity="0.55"/>
<circle cx="72.4" cy="465.5" r="0.9" fill="#858585" opacity="0.55"/>
<circle cx="47.5" cy="443.7" r="0.5" fill="#6d6d6d" opacity="0.55"/>
<circle cx="44.8" cy="473.2" r="0.7" fill="#6c6c6c" opacity="0.55"/>
<circle cx="38.0" cy="459.0" r="1.1" fill="#868686" opacity="0.55"/>
<circle cx="65.1" cy="472.1" r="1.7" fill="#848484" opacity="0.55"/>
<circle cx="63.2" cy="479.2" r="0.7" fill="#828282" opacity="0.55"/>
<circle cx="60.0" cy="464.8" r="1.0" fill="#6a6a6a" opacity="0.55"/>
<circle cx="13.3" cy="462.9" r="0.9" fill="#636363" opacity="0.55"/>
<circle cx="102.7" cy="450.8" r="0.6" fill="#5f5f5f" opacity="0.55"/>
<circle cx="88.8" cy="452.1" r="0.5" fill="#696969" opacity="0.55"/>
<circle cx="64.7" cy="460.6" r="1.5" fill="#656565" opacity="0.55"/>
<circle cx="24.3" cy="471.8" r="1.7" fill="#696969" opacity="0.55"/>
<circle cx="83.2" cy="457.4" r="0.7" fill="#676767" opacity="0.55"/>
<circle cx="45.0" cy="439.8" r="0.7" fill="#666666" opacity="0.55"/>
<circle cx="14.4" cy="419.3" r="0.6" fill="#6d6d6d" opacity="0.55"/>
<circle cx="83.3" cy="476.9" r="1.0" fill="#5f5f5f" opacity="0.55"/>
<circle cx="87.0" cy="421.0" r="1.7" fill="#6c6c6c" opacity="0.55"/>
<circle cx="55.0" cy="459.9" r="1.8" fill="#8d8d8d" opacity="0.55"/>
<circle cx="95.5" cy="444.7" r="0.9" fill="#616161" opacity="0.55"/>
<circle cx="19.8" cy="462.2" r="1.7" fill="#7c7c7c" opacity="0.55"/>
<circle cx="59.7" cy="473.9" r="1.9" fill="#616161" opacity="0.55"/>
<circle cx="84.4" cy="430.2" r="1.8" fill="#6d6d6d" opacity="0.55"/>
<circle cx="94.2" cy="425.2" r="0.6" fill="#666666" opacity="0.55"/>
<circle cx="118.0" cy="458.7" r="1.2" fill="#686868" opacity="0.55"/>
<circle cx="80.8" cy="468.1" r="1.1" fill="#7d7d7d" opacity="0.55"/>
<circle cx="73.8" cy="429.0" r="0.6" fill="#5e5e5e" opacity="0.55"/>
<circle cx="108.7" cy="434.6" r="1.6" fill="#6a6a6a" opacity="0.55"/>
<circle cx="53.9" cy="431.6" r="1.1" fill="#6f6f6f" opacity="0.55"/>
<circle cx="126.5" cy="461.5" r="1.5" fill="#5f5f5f" opacity="0.55"/>
<circle cx="64.2" cy="459.1" r="1.3" fill="#7c7c7c" opacity="0.55"/>
<circle cx="83.0" cy="464.3" r="0.6" fill="#8a8a8a" opacity="0.55"/>
<circle cx="89.9" cy="441.6" r="1.6" fill="#6b6b6b" opacity="0.55"/>
<circle cx="40.3" cy="468.9" r="1.6" fill="#828282" opacity="0.55"/>
<circle cx="100.7" cy="474.8" r="0.8" fill="#6e6e6e" opacity="0.55"/>
<circle cx="12.5" cy="442.3" r="1.1" fill="#636363" opacity="0.55"/>
<circle cx="80.6" cy="421.3" r="1.4" fill="#646464" opacity="0.55"/>
<circle cx="65.4" cy="424.9" r="1.7" fill="#636363" opacity="0.55"/>
<circle cx="42.8" cy="452.6" r="0.5" fill="#818181" opacity="0.55"/>
<circle cx="84.4" cy="418.9" r="1.4" fill="#858585" opacity="0.55"/>
<circle cx="97.9" cy="425.7" r="1.6" fill="#646464" opacity="0.55"/>
<circle cx="38.7" cy="471.2" r="0.7" fill="#646464" opacity="0.55"/>
<circle cx="43.7" cy="463.3" r="0.6" fill="#6a6a6a" opacity="0.55"/>
<circle cx="84.6" cy="430.7" r="1.8" fill="#5e5e5e" opacity="0.55"/>
<circle cx="109.3" cy="463.1" r="1.1" fill="#8b8b8b" opacity="0.55"/>
<circle cx="43.8" cy="473.4" r="1.8" fill="#6f6f6f" opacity="0.55"/>
<circle cx="103.7" cy="471.1" r="0.7" fill="#6e6e6e" opacity="0.55"/>
<circle cx="48.4" cy="435.9" r="0.7" fill="#6b6b6b" opacity="0.55"/>
<circle cx="26.1" cy="435.5" r="1.6" fill="#8d8d8d" opacity="0.55"/>
<circle cx="55.1" cy="466.5" r="0.8" fill="#8b8b8b" opacity="0.55"/>
<circle cx="27.7" cy="430.5" r="1.4" fill="#8c8c8c" opacity="0.55"/>
<circle cx="119.6" cy="461.0" r="0.9" fill="#898989" opacity="0.55"/>
<circle cx="38.7" cy="423.9" r="0.9" fill="#8a8a8a" opacity="0.55"/>
<circle cx="41.6" cy="458.8" r="1.4" fill="#5e5e5e" opacity="0.55"/>
<circle cx="67.4" cy="469.5" r="1.6" fill="#878787" opacity="0.55"/>
<circle cx="21.1" cy="474.4" r="1.9" fill="#6e6e6e" opacity="0.55"/>
<circle cx="36.2" cy="437.6" r="0.7" fill="#8b8b8b" opacity="0.55"/>
<circle cx="14.5" cy="474.8" r="1.1" fill="#606060" opacity="0.55"/>
<circle cx="112.9" cy="453.6" r="1.7" fill="#7d7d7d" opacity="0.55"/>
<circle cx="104.2" cy="419.7" r="0.6" fill="#7e7e7e" opacity="0.55"/>
<circle cx="82.4" cy="470.0" r="1.8" fill="#8d8d8d" opacity="0.55"/>
<circle cx="113.1" cy="448.6" r="1.0" fill="#626262" opacity="0.55"/>
<circle cx="66.6" cy="459.5" r="1.2" fill="#5f5f5f" opacity="0.55"/>
<circle cx="77.6" cy="448.2" r="0.9" fill="#8d8d8d" opacity="0.55"/>
<circle cx="22.5" cy="445.9" r="1.6" fill="#666666" opacity="0.55"/>
<circle cx="79.0" cy="451.6" r="1.4" fill="#6b6b6b" opacity="0.55"/>
<circle cx="38.3" cy="448.4" r="1.4" fill="#6b6b6b" opacity="0.55"/>
<circle cx="33.4" cy="423.6" r="1.6" fill="#6c6c6c" opacity="0.55"/>
<circle cx="113.8" cy="470.9" r="1.0" fill="#7e7e7e" opacity="0.55"/>
<circle cx="107.6" cy="455.1" r="0.9" fill="#6c6c6c" opacity="0.55"/>
<circle cx="124.8" cy="450.9" r="0.9" fill="#676767" opacity="0.55"/>
<circle cx="26.4" cy="441.4" r="0.9" fill="#8d8d8d" opacity="0.55"/>
<circle cx="48.7" cy="423.2" r="1.6" fill="#5f5f5f" opacity="0.55"/>
<circle cx="83.0" cy="436.0" r="0.9" fill="#868686" opacity="0.55"/>
<circle cx="100.5" cy="474.7" r="0.9" fill="#626262" opacity="0.55"/>
<circle cx="18.4" cy="455.4" r="1.6" fill="#686868" opacity="0.55"/>
<circle cx="45.3" cy="440.7" r="1.0" fill="#686868" opacity="0.55"/>
<circle cx="108.1" cy="478.7" r="0.5" fill="#848484" opacity="0.55"/>
<circle cx="51.3" cy="473.5" r="0.7" fill="#8d8d8d" opacity="0.55"/>
<circle cx="81.8" cy="427.0" r="1.1" fill="#606060" opacity="0.55"/>
<circle cx="62.7" cy="479.5" r="0.7" fill="#656565" opacity="0.55"/>
<circle cx="12.6" cy="418.3" r="1.7" fill="#8b8b8b" opacity="0.55"/>
<circle cx="79.0" cy="441.5" r="0.8" fill="#8c8c8c" opacity="0.55"/>
<circle cx="19.0" cy="464.8" r="1.7" fill="#8d8d8d" opacity="0.55"/>
<circle cx="17.4" cy="442.1" r="1.1" fill="#6f6f6f" opacity="0.55"/>
<circle cx="91.0" cy="420.4" r="0.8" fill="#8a8a8a" opacity="0.55"/>
<circle cx="97.5" cy="463.3" r="1.1" fill="#6d6d6d" opacity="0.55"/>
<circle cx="47.0" cy="422.7" r="1.6" fill="#676767" opacity="0.55"/>
<circle cx="76.5" cy="419.8" r="1.8" fill="#818181" opacity="0.55"/>
<circle cx="29.5" cy="439.1" r="1.2" fill="#686868" opacity="0.55"/>
<circle cx="50.8" cy="449.3" r="1.3" fill="#878787" opacity="0.55"/>
<circle cx="40.6" cy="466.0" r="1.6" fill="#5e5e5e" opacity="0.55"/>
<circle cx="20.6" cy="425.3" r="0.5" fill="#6f6f6f" opacity="0.55"/>
<circle cx="93.8" cy="419.9" r="1.0" fill="#8a8a8a" opacity="0.55"/>
<circle cx="55.9" cy="465.5" r="1.7" fill="#8b8b8b" opacity="0.55"/>
<circle cx="33.2" cy="441.1" r="0.8" fill="#8b8b8b" opacity="0.55"/>
<circle cx="66.7" cy="430.0" r="1.1" fill="#6d6d6d" opacity="0.55"/>
<circle cx="78.1" cy="476.4" r="1.4" fill="#616161" opacity="0.55"/>
<circle cx="61.3" cy="442.9" r="1.4" fill="#6d6d6d" opacity="0.55"/>
<circle cx="31.0" cy="433.6" r="1.4" fill="#5e5e5e" opacity="0.55"/>
<circle cx="13.7" cy="427.9" r="0.7" fill="#878787" opacity="0.55"/>
<circle cx="67.1" cy="459.6" r="1.5" fill="#6a6a6a" opacity="0.55"/>
<circle cx="85.0" cy="447.7" r="1.6" fill="#6c6c6c" opacity="0.55"/>
<circle cx="25.3" cy="468.8" r="1.6" fill="#646464" opacity="0.55"/>
<circle cx="13.7" cy="473.2" r="1.2" fill="#5e5e5e" opacity="0.55"/>
</g>
<rect x="11" y="480" width="117.5" height="25.2" fill="#8a8b8e"/>
<rect x="11" y="479.5" width="117.5" height="3" fill="#5c5d62" opacity="0.5" filter="url(#b8)"/>
<ellipse cx="118.7" cy="499.6" rx="1.1" ry="0.45" fill="#9a9a9a" opacity="0.7" transform="rotate(-25 118.7 499.6)"/>
<ellipse cx="127.2" cy="482.5" rx="1.2" ry="0.45" fill="#959595" opacity="0.7" transform="rotate(-25 127.2 482.5)"/>
<ellipse cx="67.9" cy="501.8" rx="1.5" ry="0.45" fill="#7d7d7d" opacity="0.7" transform="rotate(-25 67.9 501.8)"/>
<ellipse cx="50.9" cy="482.8" rx="1.2" ry="0.45" fill="#696969" opacity="0.7" transform="rotate(-25 50.9 482.8)"/>
<ellipse cx="121.9" cy="498.0" rx="0.9" ry="0.45" fill="#ababab" opacity="0.7" transform="rotate(-25 121.9 498.0)"/>
<ellipse cx="93.4" cy="491.2" rx="1.2" ry="0.45" fill="#606060" opacity="0.7" transform="rotate(-25 93.4 491.2)"/>
<ellipse cx="26.0" cy="484.2" rx="0.6" ry="0.45" fill="#999999" opacity="0.7" transform="rotate(-25 26.0 484.2)"/>
<ellipse cx="36.9" cy="490.4" rx="1.3" ry="0.45" fill="#a6a6a6" opacity="0.7" transform="rotate(-25 36.9 490.4)"/>
<ellipse cx="65.3" cy="492.7" rx="0.9" ry="0.45" fill="#afafaf" opacity="0.7" transform="rotate(-25 65.3 492.7)"/>
<ellipse cx="16.1" cy="495.3" rx="1.1" ry="0.45" fill="#989898" opacity="0.7" transform="rotate(-25 16.1 495.3)"/>
<ellipse cx="124.1" cy="491.0" rx="0.8" ry="0.45" fill="#a3a3a3" opacity="0.7" transform="rotate(-25 124.1 491.0)"/>
<ellipse cx="113.5" cy="503.8" rx="1.6" ry="0.45" fill="#979797" opacity="0.7" transform="rotate(-25 113.5 503.8)"/>
<ellipse cx="126.8" cy="501.0" rx="1.2" ry="0.45" fill="#a6a6a6" opacity="0.7" transform="rotate(-25 126.8 501.0)"/>
<ellipse cx="37.4" cy="497.4" rx="1.6" ry="0.45" fill="#7b7b7b" opacity="0.7" transform="rotate(-25 37.4 497.4)"/>
<ellipse cx="96.8" cy="498.5" rx="0.9" ry="0.45" fill="#b0b0b0" opacity="0.7" transform="rotate(-25 96.8 498.5)"/>
<ellipse cx="83.0" cy="497.6" rx="1.3" ry="0.45" fill="#b0b0b0" opacity="0.7" transform="rotate(-25 83.0 497.6)"/>
<ellipse cx="51.0" cy="489.6" rx="1.4" ry="0.45" fill="#797979" opacity="0.7" transform="rotate(-25 51.0 489.6)"/>
<ellipse cx="21.8" cy="495.4" rx="1.1" ry="0.45" fill="#757575" opacity="0.7" transform="rotate(-25 21.8 495.4)"/>
<ellipse cx="67.1" cy="503.4" rx="0.7" ry="0.45" fill="#666666" opacity="0.7" transform="rotate(-25 67.1 503.4)"/>
<ellipse cx="124.6" cy="483.5" rx="1.5" ry="0.45" fill="#a9a9a9" opacity="0.7" transform="rotate(-25 124.6 483.5)"/>
<ellipse cx="121.5" cy="497.8" rx="0.7" ry="0.45" fill="#9a9a9a" opacity="0.7" transform="rotate(-25 121.5 497.8)"/>
<ellipse cx="123.8" cy="497.3" rx="1.7" ry="0.45" fill="#757575" opacity="0.7" transform="rotate(-25 123.8 497.3)"/>
<ellipse cx="100.7" cy="494.7" rx="1.4" ry="0.45" fill="#9d9d9d" opacity="0.7" transform="rotate(-25 100.7 494.7)"/>
<ellipse cx="102.9" cy="497.2" rx="1.2" ry="0.45" fill="#757575" opacity="0.7" transform="rotate(-25 102.9 497.2)"/>
<ellipse cx="100.2" cy="498.1" rx="1.3" ry="0.45" fill="#626262" opacity="0.7" transform="rotate(-25 100.2 498.1)"/>
<ellipse cx="127.1" cy="485.4" rx="0.8" ry="0.45" fill="#b3b3b3" opacity="0.7" transform="rotate(-25 127.1 485.4)"/>
<ellipse cx="34.6" cy="492.4" rx="0.8" ry="0.45" fill="#aaaaaa" opacity="0.7" transform="rotate(-25 34.6 492.4)"/>
<ellipse cx="101.4" cy="488.1" rx="1.0" ry="0.45" fill="#979797" opacity="0.7" transform="rotate(-25 101.4 488.1)"/>
<ellipse cx="103.7" cy="495.1" rx="1.6" ry="0.45" fill="#757575" opacity="0.7" transform="rotate(-25 103.7 495.1)"/>
<ellipse cx="79.4" cy="503.8" rx="0.7" ry="0.45" fill="#696969" opacity="0.7" transform="rotate(-25 79.4 503.8)"/>
<ellipse cx="112.4" cy="488.9" rx="1.6" ry="0.45" fill="#9e9e9e" opacity="0.7" transform="rotate(-25 112.4 488.9)"/>
<ellipse cx="114.9" cy="497.5" rx="1.4" ry="0.45" fill="#a9a9a9" opacity="0.7" transform="rotate(-25 114.9 497.5)"/>
<ellipse cx="90.9" cy="483.0" rx="1.8" ry="0.45" fill="#969696" opacity="0.7" transform="rotate(-25 90.9 483.0)"/>
<ellipse cx="88.7" cy="499.1" rx="1.3" ry="0.45" fill="#afafaf" opacity="0.7" transform="rotate(-25 88.7 499.1)"/>
<ellipse cx="48.8" cy="489.0" rx="0.9" ry="0.45" fill="#7a7a7a" opacity="0.7" transform="rotate(-25 48.8 489.0)"/>
<ellipse cx="104.3" cy="486.8" rx="0.7" ry="0.45" fill="#9d9d9d" opacity="0.7" transform="rotate(-25 104.3 486.8)"/>
<ellipse cx="48.7" cy="501.8" rx="1.8" ry="0.45" fill="#989898" opacity="0.7" transform="rotate(-25 48.7 501.8)"/>
<ellipse cx="41.5" cy="497.8" rx="0.8" ry="0.45" fill="#acacac" opacity="0.7" transform="rotate(-25 41.5 497.8)"/>
<ellipse cx="87.6" cy="491.9" rx="1.4" ry="0.45" fill="#616161" opacity="0.7" transform="rotate(-25 87.6 491.9)"/>
<ellipse cx="65.5" cy="503.4" rx="1.4" ry="0.45" fill="#6d6d6d" opacity="0.7" transform="rotate(-25 65.5 503.4)"/>
<ellipse cx="124.9" cy="500.4" rx="0.7" ry="0.45" fill="#9d9d9d" opacity="0.7" transform="rotate(-25 124.9 500.4)"/>
<ellipse cx="122.2" cy="498.4" rx="0.7" ry="0.45" fill="#9c9c9c" opacity="0.7" transform="rotate(-25 122.2 498.4)"/>
<ellipse cx="82.2" cy="487.2" rx="1.0" ry="0.45" fill="#959595" opacity="0.7" transform="rotate(-25 82.2 487.2)"/>
<ellipse cx="75.2" cy="488.4" rx="1.6" ry="0.45" fill="#a9a9a9" opacity="0.7" transform="rotate(-25 75.2 488.4)"/>
<ellipse cx="53.8" cy="504.3" rx="0.9" ry="0.45" fill="#b3b3b3" opacity="0.7" transform="rotate(-25 53.8 504.3)"/>
<ellipse cx="31.7" cy="495.0" rx="1.3" ry="0.45" fill="#747474" opacity="0.7" transform="rotate(-25 31.7 495.0)"/>
<ellipse cx="96.0" cy="492.9" rx="0.9" ry="0.45" fill="#a4a4a4" opacity="0.7" transform="rotate(-25 96.0 492.9)"/>
<ellipse cx="117.7" cy="494.2" rx="1.4" ry="0.45" fill="#aaaaaa" opacity="0.7" transform="rotate(-25 117.7 494.2)"/>
<ellipse cx="59.9" cy="501.2" rx="0.9" ry="0.45" fill="#979797" opacity="0.7" transform="rotate(-25 59.9 501.2)"/>
<ellipse cx="12.9" cy="500.4" rx="1.7" ry="0.45" fill="#999999" opacity="0.7" transform="rotate(-25 12.9 500.4)"/>
<ellipse cx="12.5" cy="488.4" rx="0.9" ry="0.45" fill="#949494" opacity="0.7" transform="rotate(-25 12.5 488.4)"/>
<ellipse cx="67.1" cy="489.2" rx="1.1" ry="0.45" fill="#a3a3a3" opacity="0.7" transform="rotate(-25 67.1 489.2)"/>
<ellipse cx="35.0" cy="482.8" rx="0.6" ry="0.45" fill="#b3b3b3" opacity="0.7" transform="rotate(-25 35.0 482.8)"/>
<ellipse cx="124.9" cy="504.5" rx="1.8" ry="0.45" fill="#606060" opacity="0.7" transform="rotate(-25 124.9 504.5)"/>
<ellipse cx="70.0" cy="500.7" rx="1.0" ry="0.45" fill="#6e6e6e" opacity="0.7" transform="rotate(-25 70.0 500.7)"/>
<ellipse cx="66.3" cy="482.3" rx="1.5" ry="0.45" fill="#a9a9a9" opacity="0.7" transform="rotate(-25 66.3 482.3)"/>
<ellipse cx="49.4" cy="500.6" rx="1.4" ry="0.45" fill="#a8a8a8" opacity="0.7" transform="rotate(-25 49.4 500.6)"/>
<ellipse cx="38.6" cy="490.7" rx="1.6" ry="0.45" fill="#b2b2b2" opacity="0.7" transform="rotate(-25 38.6 490.7)"/>
<ellipse cx="72.5" cy="483.5" rx="1.6" ry="0.45" fill="#a3a3a3" opacity="0.7" transform="rotate(-25 72.5 483.5)"/>
<ellipse cx="127.6" cy="484.4" rx="1.3" ry="0.45" fill="#9d9d9d" opacity="0.7" transform="rotate(-25 127.6 484.4)"/>
<ellipse cx="57.1" cy="482.0" rx="0.7" ry="0.45" fill="#a8a8a8" opacity="0.7" transform="rotate(-25 57.1 482.0)"/>
<ellipse cx="26.8" cy="502.9" rx="1.8" ry="0.45" fill="#606060" opacity="0.7" transform="rotate(-25 26.8 502.9)"/>
<ellipse cx="65.4" cy="485.7" rx="1.6" ry="0.45" fill="#9f9f9f" opacity="0.7" transform="rotate(-25 65.4 485.7)"/>
<ellipse cx="62.4" cy="498.2" rx="0.9" ry="0.45" fill="#a8a8a8" opacity="0.7" transform="rotate(-25 62.4 498.2)"/>
<ellipse cx="52.5" cy="492.3" rx="1.1" ry="0.45" fill="#a1a1a1" opacity="0.7" transform="rotate(-25 52.5 492.3)"/>
<ellipse cx="80.1" cy="499.6" rx="1.7" ry="0.45" fill="#787878" opacity="0.7" transform="rotate(-25 80.1 499.6)"/>
<ellipse cx="111.8" cy="483.7" rx="1.2" ry="0.45" fill="#7b7b7b" opacity="0.7" transform="rotate(-25 111.8 483.7)"/>
<ellipse cx="33.0" cy="491.4" rx="1.2" ry="0.45" fill="#aeaeae" opacity="0.7" transform="rotate(-25 33.0 491.4)"/>
<ellipse cx="85.9" cy="493.0" rx="1.0" ry="0.45" fill="#737373" opacity="0.7" transform="rotate(-25 85.9 493.0)"/>
<ellipse cx="18.5" cy="490.8" rx="1.1" ry="0.45" fill="#a9a9a9" opacity="0.7" transform="rotate(-25 18.5 490.8)"/>
<ellipse cx="24.8" cy="504.9" rx="1.4" ry="0.45" fill="#6d6d6d" opacity="0.7" transform="rotate(-25 24.8 504.9)"/>
<ellipse cx="43.9" cy="499.9" rx="1.1" ry="0.45" fill="#7e7e7e" opacity="0.7" transform="rotate(-25 43.9 499.9)"/>
<ellipse cx="14.3" cy="495.2" rx="1.8" ry="0.45" fill="#a9a9a9" opacity="0.7" transform="rotate(-25 14.3 495.2)"/>
<ellipse cx="77.3" cy="494.5" rx="1.4" ry="0.45" fill="#a6a6a6" opacity="0.7" transform="rotate(-25 77.3 494.5)"/>
<ellipse cx="71.6" cy="490.2" rx="1.4" ry="0.45" fill="#636363" opacity="0.7" transform="rotate(-25 71.6 490.2)"/>
<ellipse cx="50.7" cy="504.8" rx="0.9" ry="0.45" fill="#afafaf" opacity="0.7" transform="rotate(-25 50.7 504.8)"/>
<ellipse cx="100.4" cy="495.2" rx="1.4" ry="0.45" fill="#aeaeae" opacity="0.7" transform="rotate(-25 100.4 495.2)"/>
<ellipse cx="29.8" cy="501.5" rx="1.3" ry="0.45" fill="#979797" opacity="0.7" transform="rotate(-25 29.8 501.5)"/>
<ellipse cx="113.9" cy="489.0" rx="1.3" ry="0.45" fill="#7d7d7d" opacity="0.7" transform="rotate(-25 113.9 489.0)"/>
<ellipse cx="37.5" cy="495.2" rx="1.7" ry="0.45" fill="#656565" opacity="0.7" transform="rotate(-25 37.5 495.2)"/>
<ellipse cx="54.1" cy="494.1" rx="0.8" ry="0.45" fill="#a4a4a4" opacity="0.7" transform="rotate(-25 54.1 494.1)"/>
<ellipse cx="75.5" cy="485.9" rx="0.8" ry="0.45" fill="#979797" opacity="0.7" transform="rotate(-25 75.5 485.9)"/>
<ellipse cx="86.4" cy="487.2" rx="0.8" ry="0.45" fill="#707070" opacity="0.7" transform="rotate(-25 86.4 487.2)"/>
<ellipse cx="90.4" cy="504.7" rx="1.0" ry="0.45" fill="#797979" opacity="0.7" transform="rotate(-25 90.4 504.7)"/>
<ellipse cx="61.1" cy="493.0" rx="1.8" ry="0.45" fill="#6e6e6e" opacity="0.7" transform="rotate(-25 61.1 493.0)"/>
<ellipse cx="119.4" cy="495.0" rx="1.0" ry="0.45" fill="#616161" opacity="0.7" transform="rotate(-25 119.4 495.0)"/>
<ellipse cx="38.9" cy="504.7" rx="0.7" ry="0.45" fill="#9c9c9c" opacity="0.7" transform="rotate(-25 38.9 504.7)"/>
<ellipse cx="123.3" cy="504.5" rx="1.0" ry="0.45" fill="#a1a1a1" opacity="0.7" transform="rotate(-25 123.3 504.5)"/>
<ellipse cx="113.9" cy="491.3" rx="1.0" ry="0.45" fill="#a4a4a4" opacity="0.7" transform="rotate(-25 113.9 491.3)"/>
<ellipse cx="93.9" cy="491.6" rx="1.0" ry="0.45" fill="#9b9b9b" opacity="0.7" transform="rotate(-25 93.9 491.6)"/>
<ellipse cx="65.1" cy="485.0" rx="1.5" ry="0.45" fill="#747474" opacity="0.7" transform="rotate(-25 65.1 485.0)"/>
<ellipse cx="22.2" cy="488.6" rx="0.7" ry="0.45" fill="#737373" opacity="0.7" transform="rotate(-25 22.2 488.6)"/>
<ellipse cx="84.4" cy="482.6" rx="0.9" ry="0.45" fill="#a9a9a9" opacity="0.7" transform="rotate(-25 84.4 482.6)"/>
<ellipse cx="101.4" cy="481.0" rx="0.8" ry="0.45" fill="#979797" opacity="0.7" transform="rotate(-25 101.4 481.0)"/>
<ellipse cx="89.6" cy="483.1" rx="0.7" ry="0.45" fill="#a7a7a7" opacity="0.7" transform="rotate(-25 89.6 483.1)"/>
<ellipse cx="39.5" cy="493.7" rx="0.7" ry="0.45" fill="#757575" opacity="0.7" transform="rotate(-25 39.5 493.7)"/>
<ellipse cx="96.8" cy="494.4" rx="0.7" ry="0.45" fill="#a4a4a4" opacity="0.7" transform="rotate(-25 96.8 494.4)"/>
<ellipse cx="91.9" cy="499.8" rx="1.2" ry="0.45" fill="#a1a1a1" opacity="0.7" transform="rotate(-25 91.9 499.8)"/>
<ellipse cx="69.7" cy="498.5" rx="0.8" ry="0.45" fill="#9c9c9c" opacity="0.7" transform="rotate(-25 69.7 498.5)"/>
<ellipse cx="66.1" cy="486.3" rx="1.4" ry="0.45" fill="#a1a1a1" opacity="0.7" transform="rotate(-25 66.1 486.3)"/>
<ellipse cx="67.4" cy="486.5" rx="1.6" ry="0.45" fill="#7b7b7b" opacity="0.7" transform="rotate(-25 67.4 486.5)"/>
<ellipse cx="114.8" cy="485.9" rx="0.8" ry="0.45" fill="#6d6d6d" opacity="0.7" transform="rotate(-25 114.8 485.9)"/>
<ellipse cx="125.0" cy="494.1" rx="0.8" ry="0.45" fill="#666666" opacity="0.7" transform="rotate(-25 125.0 494.1)"/>
<ellipse cx="99.1" cy="482.9" rx="1.7" ry="0.45" fill="#b2b2b2" opacity="0.7" transform="rotate(-25 99.1 482.9)"/>
<ellipse cx="118.9" cy="487.8" rx="1.4" ry="0.45" fill="#696969" opacity="0.7" transform="rotate(-25 118.9 487.8)"/>
<ellipse cx="11.4" cy="491.3" rx="1.6" ry="0.45" fill="#949494" opacity="0.7" transform="rotate(-25 11.4 491.3)"/>
<ellipse cx="94.3" cy="499.4" rx="1.3" ry="0.45" fill="#626262" opacity="0.7" transform="rotate(-25 94.3 499.4)"/>
<ellipse cx="13.3" cy="498.2" rx="1.1" ry="0.45" fill="#b1b1b1" opacity="0.7" transform="rotate(-25 13.3 498.2)"/>
<ellipse cx="25.3" cy="493.0" rx="1.5" ry="0.45" fill="#777777" opacity="0.7" transform="rotate(-25 25.3 493.0)"/>
<ellipse cx="36.9" cy="504.3" rx="1.7" ry="0.45" fill="#6d6d6d" opacity="0.7" transform="rotate(-25 36.9 504.3)"/>
<ellipse cx="118.3" cy="491.2" rx="0.6" ry="0.45" fill="#a3a3a3" opacity="0.7" transform="rotate(-25 118.3 491.2)"/>
<ellipse cx="109.4" cy="490.6" rx="1.6" ry="0.45" fill="#727272" opacity="0.7" transform="rotate(-25 109.4 490.6)"/>
<ellipse cx="80.7" cy="482.0" rx="1.1" ry="0.45" fill="#9c9c9c" opacity="0.7" transform="rotate(-25 80.7 482.0)"/>
<ellipse cx="21.7" cy="483.4" rx="1.1" ry="0.45" fill="#a6a6a6" opacity="0.7" transform="rotate(-25 21.7 483.4)"/>
<ellipse cx="100.1" cy="502.9" rx="0.7" ry="0.45" fill="#a5a5a5" opacity="0.7" transform="rotate(-25 100.1 502.9)"/>
<ellipse cx="126.2" cy="486.2" rx="1.1" ry="0.45" fill="#a8a8a8" opacity="0.7" transform="rotate(-25 126.2 486.2)"/>
<ellipse cx="22.7" cy="484.1" rx="1.3" ry="0.45" fill="#969696" opacity="0.7" transform="rotate(-25 22.7 484.1)"/>
<ellipse cx="56.5" cy="500.3" rx="1.1" ry="0.45" fill="#b0b0b0" opacity="0.7" transform="rotate(-25 56.5 500.3)"/>
<ellipse cx="32.4" cy="482.0" rx="1.3" ry="0.45" fill="#ababab" opacity="0.7" transform="rotate(-25 32.4 482.0)"/>
<ellipse cx="36.2" cy="491.0" rx="1.7" ry="0.45" fill="#a8a8a8" opacity="0.7" transform="rotate(-25 36.2 491.0)"/>
<ellipse cx="63.9" cy="499.6" rx="1.2" ry="0.45" fill="#767676" opacity="0.7" transform="rotate(-25 63.9 499.6)"/>
<ellipse cx="19.6" cy="498.2" rx="0.7" ry="0.45" fill="#727272" opacity="0.7" transform="rotate(-25 19.6 498.2)"/>
<ellipse cx="86.0" cy="504.7" rx="1.2" ry="0.45" fill="#aeaeae" opacity="0.7" transform="rotate(-25 86.0 504.7)"/>
<ellipse cx="77.4" cy="502.2" rx="1.2" ry="0.45" fill="#949494" opacity="0.7" transform="rotate(-25 77.4 502.2)"/>
<ellipse cx="113.9" cy="494.0" rx="1.2" ry="0.45" fill="#989898" opacity="0.7" transform="rotate(-25 113.9 494.0)"/>
<ellipse cx="46.0" cy="492.5" rx="1.4" ry="0.45" fill="#989898" opacity="0.7" transform="rotate(-25 46.0 492.5)"/>
<ellipse cx="24.8" cy="483.8" rx="1.7" ry="0.45" fill="#959595" opacity="0.7" transform="rotate(-25 24.8 483.8)"/>
<ellipse cx="55.5" cy="486.9" rx="1.5" ry="0.45" fill="#aaaaaa" opacity="0.7" transform="rotate(-25 55.5 486.9)"/>
<ellipse cx="94.9" cy="488.0" rx="1.8" ry="0.45" fill="#adadad" opacity="0.7" transform="rotate(-25 94.9 488.0)"/>
<ellipse cx="91.0" cy="491.5" rx="1.1" ry="0.45" fill="#7d7d7d" opacity="0.7" transform="rotate(-25 91.0 491.5)"/>
<ellipse cx="112.7" cy="494.0" rx="1.5" ry="0.45" fill="#989898" opacity="0.7" transform="rotate(-25 112.7 494.0)"/>
<ellipse cx="31.4" cy="489.6" rx="0.6" ry="0.45" fill="#7c7c7c" opacity="0.7" transform="rotate(-25 31.4 489.6)"/>
<ellipse cx="33.1" cy="494.6" rx="0.6" ry="0.45" fill="#969696" opacity="0.7" transform="rotate(-25 33.1 494.6)"/>
<ellipse cx="108.8" cy="499.6" rx="1.8" ry="0.45" fill="#636363" opacity="0.7" transform="rotate(-25 108.8 499.6)"/>
<ellipse cx="124.5" cy="503.0" rx="1.7" ry="0.45" fill="#b1b1b1" opacity="0.7" transform="rotate(-25 124.5 503.0)"/>
<ellipse cx="117.5" cy="485.7" rx="0.7" ry="0.45" fill="#999999" opacity="0.7" transform="rotate(-25 117.5 485.7)"/>
<ellipse cx="58.4" cy="486.6" rx="1.2" ry="0.45" fill="#9b9b9b" opacity="0.7" transform="rotate(-25 58.4 486.6)"/>
<ellipse cx="66.2" cy="491.8" rx="1.2" ry="0.45" fill="#6c6c6c" opacity="0.7" transform="rotate(-25 66.2 491.8)"/>
<ellipse cx="19.8" cy="492.4" rx="1.2" ry="0.45" fill="#a5a5a5" opacity="0.7" transform="rotate(-25 19.8 492.4)"/>
<ellipse cx="37.8" cy="496.6" rx="1.7" ry="0.45" fill="#9e9e9e" opacity="0.7" transform="rotate(-25 37.8 496.6)"/>
<ellipse cx="23.4" cy="490.7" rx="1.6" ry="0.45" fill="#b0b0b0" opacity="0.7" transform="rotate(-25 23.4 490.7)"/>
<ellipse cx="120.3" cy="503.4" rx="1.3" ry="0.45" fill="#797979" opacity="0.7" transform="rotate(-25 120.3 503.4)"/>
<ellipse cx="65.7" cy="496.8" rx="1.6" ry="0.45" fill="#6d6d6d" opacity="0.7" transform="rotate(-25 65.7 496.8)"/>
<ellipse cx="82.0" cy="488.3" rx="0.9" ry="0.45" fill="#9e9e9e" opacity="0.7" transform="rotate(-25 82.0 488.3)"/>
<ellipse cx="100.6" cy="481.4" rx="0.8" ry="0.45" fill="#9a9a9a" opacity="0.7" transform="rotate(-25 100.6 481.4)"/>
<ellipse cx="46.8" cy="501.7" rx="1.4" ry="0.45" fill="#606060" opacity="0.7" transform="rotate(-25 46.8 501.7)"/>
<ellipse cx="102.9" cy="496.1" rx="0.9" ry="0.45" fill="#9d9d9d" opacity="0.7" transform="rotate(-25 102.9 496.1)"/>
<ellipse cx="119.0" cy="492.2" rx="1.7" ry="0.45" fill="#a4a4a4" opacity="0.7" transform="rotate(-25 119.0 492.2)"/>
<ellipse cx="57.6" cy="493.4" rx="0.8" ry="0.45" fill="#717171" opacity="0.7" transform="rotate(-25 57.6 493.4)"/>
<ellipse cx="17.3" cy="491.7" rx="0.9" ry="0.45" fill="#7b7b7b" opacity="0.7" transform="rotate(-25 17.3 491.7)"/>
<ellipse cx="98.3" cy="486.3" rx="0.8" ry="0.45" fill="#6d6d6d" opacity="0.7" transform="rotate(-25 98.3 486.3)"/>
<ellipse cx="90.2" cy="493.1" rx="1.7" ry="0.45" fill="#a2a2a2" opacity="0.7" transform="rotate(-25 90.2 493.1)"/>
<ellipse cx="26.4" cy="502.0" rx="1.5" ry="0.45" fill="#a4a4a4" opacity="0.7" transform="rotate(-25 26.4 502.0)"/>
<ellipse cx="72.9" cy="486.0" rx="1.4" ry="0.45" fill="#a8a8a8" opacity="0.7" transform="rotate(-25 72.9 486.0)"/>
<ellipse cx="43.7" cy="483.5" rx="1.4" ry="0.45" fill="#a8a8a8" opacity="0.7" transform="rotate(-25 43.7 483.5)"/>
<ellipse cx="100.1" cy="483.1" rx="1.6" ry="0.45" fill="#949494" opacity="0.7" transform="rotate(-25 100.1 483.1)"/>
<ellipse cx="71.6" cy="498.5" rx="0.6" ry="0.45" fill="#adadad" opacity="0.7" transform="rotate(-25 71.6 498.5)"/>
<ellipse cx="40.6" cy="494.1" rx="1.7" ry="0.45" fill="#ababab" opacity="0.7" transform="rotate(-25 40.6 494.1)"/>
<ellipse cx="124.2" cy="487.5" rx="1.3" ry="0.45" fill="#999999" opacity="0.7" transform="rotate(-25 124.2 487.5)"/>
<ellipse cx="34.9" cy="483.7" rx="1.0" ry="0.45" fill="#a6a6a6" opacity="0.7" transform="rotate(-25 34.9 483.7)"/>
<ellipse cx="16.0" cy="486.1" rx="1.3" ry="0.45" fill="#b2b2b2" opacity="0.7" transform="rotate(-25 16.0 486.1)"/>
<ellipse cx="107.0" cy="505.2" rx="0.7" ry="0.45" fill="#7f7f7f" opacity="0.7" transform="rotate(-25 107.0 505.2)"/>
<ellipse cx="49.7" cy="484.6" rx="1.4" ry="0.45" fill="#adadad" opacity="0.7" transform="rotate(-25 49.7 484.6)"/>
<ellipse cx="50.3" cy="497.7" rx="0.7" ry="0.45" fill="#979797" opacity="0.7" transform="rotate(-25 50.3 497.7)"/>
<ellipse cx="14.3" cy="489.1" rx="1.8" ry="0.45" fill="#adadad" opacity="0.7" transform="rotate(-25 14.3 489.1)"/>
<ellipse cx="106.2" cy="502.0" rx="1.0" ry="0.45" fill="#acacac" opacity="0.7" transform="rotate(-25 106.2 502.0)"/>
<ellipse cx="96.1" cy="493.4" rx="1.3" ry="0.45" fill="#959595" opacity="0.7" transform="rotate(-25 96.1 493.4)"/>
<ellipse cx="65.1" cy="488.4" rx="0.6" ry="0.45" fill="#b0b0b0" opacity="0.7" transform="rotate(-25 65.1 488.4)"/>
<ellipse cx="67.4" cy="485.0" rx="1.5" ry="0.45" fill="#aaaaaa" opacity="0.7" transform="rotate(-25 67.4 485.0)"/>
<ellipse cx="68.8" cy="499.2" rx="1.2" ry="0.45" fill="#b0b0b0" opacity="0.7" transform="rotate(-25 68.8 499.2)"/>
<ellipse cx="53.6" cy="498.7" rx="1.1" ry="0.45" fill="#6e6e6e" opacity="0.7" transform="rotate(-25 53.6 498.7)"/>
<ellipse cx="116.2" cy="492.1" rx="0.7" ry="0.45" fill="#707070" opacity="0.7" transform="rotate(-25 116.2 492.1)"/>
<ellipse cx="63.1" cy="484.4" rx="0.8" ry="0.45" fill="#9f9f9f" opacity="0.7" transform="rotate(-25 63.1 484.4)"/>
<ellipse cx="94.7" cy="502.5" rx="1.6" ry="0.45" fill="#a4a4a4" opacity="0.7" transform="rotate(-25 94.7 502.5)"/>
<ellipse cx="100.6" cy="484.5" rx="0.8" ry="0.45" fill="#a0a0a0" opacity="0.7" transform="rotate(-25 100.6 484.5)"/>
<ellipse cx="44.6" cy="502.6" rx="1.5" ry="0.45" fill="#747474" opacity="0.7" transform="rotate(-25 44.6 502.6)"/>
<ellipse cx="46.6" cy="503.8" rx="1.5" ry="0.45" fill="#989898" opacity="0.7" transform="rotate(-25 46.6 503.8)"/>
<ellipse cx="18.7" cy="491.7" rx="0.7" ry="0.45" fill="#787878" opacity="0.7" transform="rotate(-25 18.7 491.7)"/>
<ellipse cx="87.6" cy="484.6" rx="0.7" ry="0.45" fill="#b2b2b2" opacity="0.7" transform="rotate(-25 87.6 484.6)"/>
<ellipse cx="105.8" cy="493.9" rx="1.5" ry="0.45" fill="#a3a3a3" opacity="0.7" transform="rotate(-25 105.8 493.9)"/>
<ellipse cx="100.1" cy="488.6" rx="0.8" ry="0.45" fill="#a5a5a5" opacity="0.7" transform="rotate(-25 100.1 488.6)"/>
<ellipse cx="91.6" cy="486.2" rx="1.5" ry="0.45" fill="#adadad" opacity="0.7" transform="rotate(-25 91.6 486.2)"/>
<ellipse cx="21.0" cy="494.4" rx="1.1" ry="0.45" fill="#6f6f6f" opacity="0.7" transform="rotate(-25 21.0 494.4)"/>
<ellipse cx="62.3" cy="504.9" rx="0.8" ry="0.45" fill="#a9a9a9" opacity="0.7" transform="rotate(-25 62.3 504.9)"/>
<ellipse cx="12.7" cy="490.1" rx="0.9" ry="0.45" fill="#b0b0b0" opacity="0.7" transform="rotate(-25 12.7 490.1)"/>
<ellipse cx="72.8" cy="482.7" rx="1.7" ry="0.45" fill="#696969" opacity="0.7" transform="rotate(-25 72.8 482.7)"/>
<ellipse cx="22.2" cy="486.0" rx="1.3" ry="0.45" fill="#a4a4a4" opacity="0.7" transform="rotate(-25 22.2 486.0)"/>
<ellipse cx="33.9" cy="489.2" rx="1.6" ry="0.45" fill="#9b9b9b" opacity="0.7" transform="rotate(-25 33.9 489.2)"/>
<ellipse cx="36.4" cy="500.1" rx="1.6" ry="0.45" fill="#949494" opacity="0.7" transform="rotate(-25 36.4 500.1)"/>
<ellipse cx="124.2" cy="486.7" rx="1.6" ry="0.45" fill="#989898" opacity="0.7" transform="rotate(-25 124.2 486.7)"/>
<ellipse cx="82.9" cy="483.2" rx="0.9" ry="0.45" fill="#7e7e7e" opacity="0.7" transform="rotate(-25 82.9 483.2)"/>
<ellipse cx="96.5" cy="490.4" rx="1.2" ry="0.45" fill="#7e7e7e" opacity="0.7" transform="rotate(-25 96.5 490.4)"/>
<ellipse cx="14.9" cy="500.6" rx="1.4" ry="0.45" fill="#ababab" opacity="0.7" transform="rotate(-25 14.9 500.6)"/>
<ellipse cx="127.7" cy="488.2" rx="1.1" ry="0.45" fill="#a7a7a7" opacity="0.7" transform="rotate(-25 127.7 488.2)"/>
<ellipse cx="59.9" cy="492.1" rx="1.0" ry="0.45" fill="#a4a4a4" opacity="0.7" transform="rotate(-25 59.9 492.1)"/>
<ellipse cx="126.2" cy="498.9" rx="1.2" ry="0.45" fill="#9d9d9d" opacity="0.7" transform="rotate(-25 126.2 498.9)"/>
<ellipse cx="64.7" cy="491.2" rx="1.2" ry="0.45" fill="#a2a2a2" opacity="0.7" transform="rotate(-25 64.7 491.2)"/>
<ellipse cx="96.2" cy="490.7" rx="1.8" ry="0.45" fill="#9d9d9d" opacity="0.7" transform="rotate(-25 96.2 490.7)"/>
<ellipse cx="111.7" cy="500.3" rx="1.2" ry="0.45" fill="#969696" opacity="0.7" transform="rotate(-25 111.7 500.3)"/>
<ellipse cx="78.2" cy="497.2" rx="1.6" ry="0.45" fill="#9d9d9d" opacity="0.7" transform="rotate(-25 78.2 497.2)"/>
<ellipse cx="100.4" cy="486.3" rx="1.7" ry="0.45" fill="#b0b0b0" opacity="0.7" transform="rotate(-25 100.4 486.3)"/>
<ellipse cx="12.2" cy="498.8" rx="1.3" ry="0.45" fill="#949494" opacity="0.7" transform="rotate(-25 12.2 498.8)"/>
<ellipse cx="57.8" cy="496.3" rx="0.7" ry="0.45" fill="#6c6c6c" opacity="0.7" transform="rotate(-25 57.8 496.3)"/>
<ellipse cx="20.9" cy="495.1" rx="1.4" ry="0.45" fill="#7e7e7e" opacity="0.7" transform="rotate(-25 20.9 495.1)"/>
<ellipse cx="63.7" cy="499.2" rx="1.3" ry="0.45" fill="#646464" opacity="0.7" transform="rotate(-25 63.7 499.2)"/>
<ellipse cx="113.7" cy="483.5" rx="0.7" ry="0.45" fill="#6c6c6c" opacity="0.7" transform="rotate(-25 113.7 483.5)"/>
<ellipse cx="42.0" cy="498.4" rx="1.0" ry="0.45" fill="#a4a4a4" opacity="0.7" transform="rotate(-25 42.0 498.4)"/>
<ellipse cx="122.5" cy="490.3" rx="1.4" ry="0.45" fill="#949494" opacity="0.7" transform="rotate(-25 122.5 490.3)"/>
<ellipse cx="73.0" cy="491.7" rx="1.4" ry="0.45" fill="#999999" opacity="0.7" transform="rotate(-25 73.0 491.7)"/>
<ellipse cx="63.9" cy="503.9" rx="1.5" ry="0.45" fill="#a9a9a9" opacity="0.7" transform="rotate(-25 63.9 503.9)"/>
<ellipse cx="66.6" cy="489.1" rx="0.9" ry="0.45" fill="#969696" opacity="0.7" transform="rotate(-25 66.6 489.1)"/>
<ellipse cx="103.9" cy="493.3" rx="1.3" ry="0.45" fill="#6a6a6a" opacity="0.7" transform="rotate(-25 103.9 493.3)"/>
<ellipse cx="70.0" cy="493.2" rx="1.4" ry="0.45" fill="#9c9c9c" opacity="0.7" transform="rotate(-25 70.0 493.2)"/>
<ellipse cx="125.1" cy="485.9" rx="1.0" ry="0.45" fill="#979797" opacity="0.7" transform="rotate(-25 125.1 485.9)"/>
<ellipse cx="57.5" cy="498.8" rx="1.7" ry="0.45" fill="#9d9d9d" opacity="0.7" transform="rotate(-25 57.5 498.8)"/>
<ellipse cx="69.1" cy="504.0" rx="1.6" ry="0.45" fill="#747474" opacity="0.7" transform="rotate(-25 69.1 504.0)"/>
<ellipse cx="117.3" cy="490.5" rx="0.8" ry="0.45" fill="#7a7a7a" opacity="0.7" transform="rotate(-25 117.3 490.5)"/>
<ellipse cx="67.0" cy="502.1" rx="1.6" ry="0.45" fill="#a9a9a9" opacity="0.7" transform="rotate(-25 67.0 502.1)"/>
<ellipse cx="101.0" cy="501.8" rx="1.0" ry="0.45" fill="#a4a4a4" opacity="0.7" transform="rotate(-25 101.0 501.8)"/>
<ellipse cx="48.2" cy="481.9" rx="1.7" ry="0.45" fill="#6f6f6f" opacity="0.7" transform="rotate(-25 48.2 481.9)"/>
<ellipse cx="103.9" cy="503.5" rx="0.9" ry="0.45" fill="#6a6a6a" opacity="0.7" transform="rotate(-25 103.9 503.5)"/>
<ellipse cx="62.4" cy="483.9" rx="0.9" ry="0.45" fill="#777777" opacity="0.7" transform="rotate(-25 62.4 483.9)"/>
<ellipse cx="85.4" cy="500.9" rx="1.4" ry="0.45" fill="#9f9f9f" opacity="0.7" transform="rotate(-25 85.4 500.9)"/>
<ellipse cx="64.3" cy="488.7" rx="1.0" ry="0.45" fill="#b3b3b3" opacity="0.7" transform="rotate(-25 64.3 488.7)"/>
<ellipse cx="106.1" cy="499.8" rx="1.6" ry="0.45" fill="#afafaf" opacity="0.7" transform="rotate(-25 106.1 499.8)"/>
<ellipse cx="112.5" cy="492.3" rx="1.2" ry="0.45" fill="#7c7c7c" opacity="0.7" transform="rotate(-25 112.5 492.3)"/>
<ellipse cx="20.3" cy="502.8" rx="1.3" ry="0.45" fill="#757575" opacity="0.7" transform="rotate(-25 20.3 502.8)"/>
<ellipse cx="17.5" cy="496.7" rx="1.2" ry="0.45" fill="#959595" opacity="0.7" transform="rotate(-25 17.5 496.7)"/>
<ellipse cx="48.2" cy="484.6" rx="1.0" ry="0.45" fill="#7f7f7f" opacity="0.7" transform="rotate(-25 48.2 484.6)"/>
<ellipse cx="72.8" cy="488.6" rx="1.2" ry="0.45" fill="#9f9f9f" opacity="0.7" transform="rotate(-25 72.8 488.6)"/>
<ellipse cx="119.2" cy="491.5" rx="0.8" ry="0.45" fill="#b3b3b3" opacity="0.7" transform="rotate(-25 119.2 491.5)"/>
<ellipse cx="32.5" cy="504.6" rx="1.2" ry="0.45" fill="#787878" opacity="0.7" transform="rotate(-25 32.5 504.6)"/>
<ellipse cx="95.9" cy="485.5" rx="1.8" ry="0.45" fill="#727272" opacity="0.7" transform="rotate(-25 95.9 485.5)"/>
<ellipse cx="40.6" cy="499.8" rx="1.6" ry="0.45" fill="#a2a2a2" opacity="0.7" transform="rotate(-25 40.6 499.8)"/>
<ellipse cx="50.7" cy="498.5" rx="1.7" ry="0.45" fill="#b2b2b2" opacity="0.7" transform="rotate(-25 50.7 498.5)"/>
<ellipse cx="122.1" cy="493.7" rx="1.3" ry="0.45" fill="#7a7a7a" opacity="0.7" transform="rotate(-25 122.1 493.7)"/>
<ellipse cx="100.5" cy="492.8" rx="1.5" ry="0.45" fill="#a9a9a9" opacity="0.7" transform="rotate(-25 100.5 492.8)"/>
<ellipse cx="13.5" cy="500.7" rx="1.1" ry="0.45" fill="#a4a4a4" opacity="0.7" transform="rotate(-25 13.5 500.7)"/>
<ellipse cx="54.0" cy="503.9" rx="1.5" ry="0.45" fill="#989898" opacity="0.7" transform="rotate(-25 54.0 503.9)"/>
<ellipse cx="84.9" cy="484.0" rx="1.3" ry="0.45" fill="#aaaaaa" opacity="0.7" transform="rotate(-25 84.9 484.0)"/>
<ellipse cx="42.6" cy="490.3" rx="0.7" ry="0.45" fill="#6c6c6c" opacity="0.7" transform="rotate(-25 42.6 490.3)"/>
<ellipse cx="62.0" cy="494.6" rx="1.1" ry="0.45" fill="#a1a1a1" opacity="0.7" transform="rotate(-25 62.0 494.6)"/>
<ellipse cx="37.6" cy="492.3" rx="1.8" ry="0.45" fill="#a9a9a9" opacity="0.7" transform="rotate(-25 37.6 492.3)"/>
<ellipse cx="117.6" cy="488.7" rx="1.0" ry="0.45" fill="#797979" opacity="0.7" transform="rotate(-25 117.6 488.7)"/>
<ellipse cx="17.7" cy="500.0" rx="1.8" ry="0.45" fill="#6d6d6d" opacity="0.7" transform="rotate(-25 17.7 500.0)"/>
<ellipse cx="22.7" cy="484.3" rx="1.5" ry="0.45" fill="#999999" opacity="0.7" transform="rotate(-25 22.7 484.3)"/>
<ellipse cx="106.3" cy="491.6" rx="0.7" ry="0.45" fill="#757575" opacity="0.7" transform="rotate(-25 106.3 491.6)"/>
<ellipse cx="70.7" cy="482.7" rx="1.2" ry="0.45" fill="#a5a5a5" opacity="0.7" transform="rotate(-25 70.7 482.7)"/>
<ellipse cx="38.2" cy="502.4" rx="1.5" ry="0.45" fill="#767676" opacity="0.7" transform="rotate(-25 38.2 502.4)"/>
<ellipse cx="85.4" cy="483.0" rx="1.0" ry="0.45" fill="#969696" opacity="0.7" transform="rotate(-25 85.4 483.0)"/>
<ellipse cx="73.2" cy="490.3" rx="0.9" ry="0.45" fill="#a6a6a6" opacity="0.7" transform="rotate(-25 73.2 490.3)"/>
<ellipse cx="93.5" cy="495.4" rx="0.8" ry="0.45" fill="#626262" opacity="0.7" transform="rotate(-25 93.5 495.4)"/>
<ellipse cx="71.1" cy="493.6" rx="1.0" ry="0.45" fill="#7f7f7f" opacity="0.7" transform="rotate(-25 71.1 493.6)"/>
<ellipse cx="16.0" cy="481.6" rx="0.9" ry="0.45" fill="#a7a7a7" opacity="0.7" transform="rotate(-25 16.0 481.6)"/>
<ellipse cx="44.7" cy="491.0" rx="1.0" ry="0.45" fill="#a2a2a2" opacity="0.7" transform="rotate(-25 44.7 491.0)"/>
<ellipse cx="98.6" cy="485.1" rx="1.3" ry="0.45" fill="#acacac" opacity="0.7" transform="rotate(-25 98.6 485.1)"/>
<ellipse cx="17.1" cy="502.7" rx="1.8" ry="0.45" fill="#969696" opacity="0.7" transform="rotate(-25 17.1 502.7)"/>
<ellipse cx="35.3" cy="497.5" rx="1.2" ry="0.45" fill="#626262" opacity="0.7" transform="rotate(-25 35.3 497.5)"/>
<ellipse cx="57.6" cy="502.7" rx="0.7" ry="0.45" fill="#a4a4a4" opacity="0.7" transform="rotate(-25 57.6 502.7)"/>
<ellipse cx="45.8" cy="488.8" rx="0.6" ry="0.45" fill="#aaaaaa" opacity="0.7" transform="rotate(-25 45.8 488.8)"/>
<ellipse cx="99.4" cy="498.2" rx="1.4" ry="0.45" fill="#959595" opacity="0.7" transform="rotate(-25 99.4 498.2)"/>
<ellipse cx="17.9" cy="488.1" rx="0.9" ry="0.45" fill="#686868" opacity="0.7" transform="rotate(-25 17.9 488.1)"/>
<ellipse cx="71.0" cy="494.8" rx="0.9" ry="0.45" fill="#a7a7a7" opacity="0.7" transform="rotate(-25 71.0 494.8)"/>
<ellipse cx="99.5" cy="500.9" rx="0.9" ry="0.45" fill="#a2a2a2" opacity="0.7" transform="rotate(-25 99.5 500.9)"/>
<ellipse cx="110.7" cy="483.2" rx="0.7" ry="0.45" fill="#989898" opacity="0.7" transform="rotate(-25 110.7 483.2)"/>
<ellipse cx="109.5" cy="500.1" rx="1.3" ry="0.45" fill="#a0a0a0" opacity="0.7" transform="rotate(-25 109.5 500.1)"/>
<ellipse cx="71.8" cy="490.5" rx="1.7" ry="0.45" fill="#a9a9a9" opacity="0.7" transform="rotate(-25 71.8 490.5)"/>
<ellipse cx="16.4" cy="491.6" rx="1.8" ry="0.45" fill="#6e6e6e" opacity="0.7" transform="rotate(-25 16.4 491.6)"/>
<ellipse cx="85.6" cy="488.2" rx="0.6" ry="0.45" fill="#9b9b9b" opacity="0.7" transform="rotate(-25 85.6 488.2)"/>
<ellipse cx="77.9" cy="496.6" rx="1.6" ry="0.45" fill="#606060" opacity="0.7" transform="rotate(-25 77.9 496.6)"/>
<ellipse cx="62.8" cy="503.1" rx="1.3" ry="0.45" fill="#636363" opacity="0.7" transform="rotate(-25 62.8 503.1)"/>
<ellipse cx="83.7" cy="496.5" rx="1.4" ry="0.45" fill="#969696" opacity="0.7" transform="rotate(-25 83.7 496.5)"/>
<ellipse cx="47.1" cy="483.1" rx="1.1" ry="0.45" fill="#7e7e7e" opacity="0.7" transform="rotate(-25 47.1 483.1)"/>
<ellipse cx="18.4" cy="502.6" rx="1.2" ry="0.45" fill="#727272" opacity="0.7" transform="rotate(-25 18.4 502.6)"/>
<ellipse cx="98.3" cy="486.1" rx="0.6" ry="0.45" fill="#6e6e6e" opacity="0.7" transform="rotate(-25 98.3 486.1)"/>
<ellipse cx="92.4" cy="481.8" rx="1.4" ry="0.45" fill="#616161" opacity="0.7" transform="rotate(-25 92.4 481.8)"/>
<ellipse cx="38.1" cy="491.2" rx="1.2" ry="0.45" fill="#a0a0a0" opacity="0.7" transform="rotate(-25 38.1 491.2)"/>
<ellipse cx="37.8" cy="504.9" rx="1.6" ry="0.45" fill="#a4a4a4" opacity="0.7" transform="rotate(-25 37.8 504.9)"/>
<ellipse cx="21.3" cy="484.4" rx="1.6" ry="0.45" fill="#b1b1b1" opacity="0.7" transform="rotate(-25 21.3 484.4)"/>
<ellipse cx="80.3" cy="497.3" rx="0.8" ry="0.45" fill="#a5a5a5" opacity="0.7" transform="rotate(-25 80.3 497.3)"/>
<ellipse cx="86.7" cy="484.9" rx="1.1" ry="0.45" fill="#6f6f6f" opacity="0.7" transform="rotate(-25 86.7 484.9)"/>
<ellipse cx="55.2" cy="482.4" rx="1.6" ry="0.45" fill="#989898" opacity="0.7" transform="rotate(-25 55.2 482.4)"/>
<ellipse cx="23.8" cy="493.7" rx="1.4" ry="0.45" fill="#9f9f9f" opacity="0.7" transform="rotate(-25 23.8 493.7)"/>
<ellipse cx="43.1" cy="496.7" rx="0.8" ry="0.45" fill="#686868" opacity="0.7" transform="rotate(-25 43.1 496.7)"/>
<ellipse cx="45.6" cy="500.7" rx="1.3" ry="0.45" fill="#717171" opacity="0.7" transform="rotate(-25 45.6 500.7)"/>
<ellipse cx="105.6" cy="502.5" rx="1.5" ry="0.45" fill="#979797" opacity="0.7" transform="rotate(-25 105.6 502.5)"/>
<ellipse cx="44.2" cy="493.8" rx="1.3" ry="0.45" fill="#969696" opacity="0.7" transform="rotate(-25 44.2 493.8)"/>
<ellipse cx="16.7" cy="499.9" rx="0.6" ry="0.45" fill="#7a7a7a" opacity="0.7" transform="rotate(-25 16.7 499.9)"/>
<ellipse cx="106.3" cy="490.1" rx="1.1" ry="0.45" fill="#a9a9a9" opacity="0.7" transform="rotate(-25 106.3 490.1)"/>
<ellipse cx="127.1" cy="486.6" rx="0.7" ry="0.45" fill="#a3a3a3" opacity="0.7" transform="rotate(-25 127.1 486.6)"/>
<ellipse cx="65.5" cy="485.1" rx="1.1" ry="0.45" fill="#949494" opacity="0.7" transform="rotate(-25 65.5 485.1)"/>
<ellipse cx="102.8" cy="493.0" rx="1.1" ry="0.45" fill="#7a7a7a" opacity="0.7" transform="rotate(-25 102.8 493.0)"/>
<ellipse cx="119.2" cy="491.1" rx="1.1" ry="0.45" fill="#a7a7a7" opacity="0.7" transform="rotate(-25 119.2 491.1)"/>
<ellipse cx="112.7" cy="481.3" rx="0.8" ry="0.45" fill="#959595" opacity="0.7" transform="rotate(-25 112.7 481.3)"/>
<ellipse cx="52.1" cy="486.4" rx="1.3" ry="0.45" fill="#7c7c7c" opacity="0.7" transform="rotate(-25 52.1 486.4)"/>
<ellipse cx="14.4" cy="502.0" rx="1.4" ry="0.45" fill="#a9a9a9" opacity="0.7" transform="rotate(-25 14.4 502.0)"/>
<ellipse cx="104.3" cy="481.6" rx="1.0" ry="0.45" fill="#b0b0b0" opacity="0.7" transform="rotate(-25 104.3 481.6)"/>
<ellipse cx="13.5" cy="489.7" rx="1.6" ry="0.45" fill="#a4a4a4" opacity="0.7" transform="rotate(-25 13.5 489.7)"/>
<ellipse cx="99.0" cy="495.6" rx="1.6" ry="0.45" fill="#969696" opacity="0.7" transform="rotate(-25 99.0 495.6)"/>
<ellipse cx="12.6" cy="481.6" rx="1.6" ry="0.45" fill="#a0a0a0" opacity="0.7" transform="rotate(-25 12.6 481.6)"/>
<ellipse cx="27.3" cy="500.7" rx="1.5" ry="0.45" fill="#acacac" opacity="0.7" transform="rotate(-25 27.3 500.7)"/>
<ellipse cx="22.4" cy="503.4" rx="1.7" ry="0.45" fill="#9c9c9c" opacity="0.7" transform="rotate(-25 22.4 503.4)"/>
<ellipse cx="41.9" cy="492.0" rx="0.9" ry="0.45" fill="#7c7c7c" opacity="0.7" transform="rotate(-25 41.9 492.0)"/>
<ellipse cx="125.0" cy="492.4" rx="0.9" ry="0.45" fill="#acacac" opacity="0.7" transform="rotate(-25 125.0 492.4)"/>
<ellipse cx="66.8" cy="494.5" rx="1.3" ry="0.45" fill="#969696" opacity="0.7" transform="rotate(-25 66.8 494.5)"/>
<ellipse cx="34.8" cy="486.4" rx="1.5" ry="0.45" fill="#757575" opacity="0.7" transform="rotate(-25 34.8 486.4)"/>
<ellipse cx="72.7" cy="498.4" rx="1.7" ry="0.45" fill="#acacac" opacity="0.7" transform="rotate(-25 72.7 498.4)"/>
<ellipse cx="86.2" cy="493.2" rx="1.0" ry="0.45" fill="#9e9e9e" opacity="0.7" transform="rotate(-25 86.2 493.2)"/>
<ellipse cx="109.4" cy="503.1" rx="0.7" ry="0.45" fill="#717171" opacity="0.7" transform="rotate(-25 109.4 503.1)"/>
<ellipse cx="114.8" cy="498.9" rx="1.1" ry="0.45" fill="#757575" opacity="0.7" transform="rotate(-25 114.8 498.9)"/>
<ellipse cx="110.2" cy="501.0" rx="1.4" ry="0.45" fill="#9d9d9d" opacity="0.7" transform="rotate(-25 110.2 501.0)"/>
<ellipse cx="26.2" cy="485.1" rx="0.7" ry="0.45" fill="#b1b1b1" opacity="0.7" transform="rotate(-25 26.2 485.1)"/>
<ellipse cx="34.5" cy="486.0" rx="1.4" ry="0.45" fill="#969696" opacity="0.7" transform="rotate(-25 34.5 486.0)"/>
<ellipse cx="25.2" cy="503.3" rx="0.7" ry="0.45" fill="#7c7c7c" opacity="0.7" transform="rotate(-25 25.2 503.3)"/>
<ellipse cx="81.2" cy="483.2" rx="0.9" ry="0.45" fill="#aaaaaa" opacity="0.7" transform="rotate(-25 81.2 483.2)"/>
<ellipse cx="124.1" cy="504.4" rx="1.1" ry="0.45" fill="#9b9b9b" opacity="0.7" transform="rotate(-25 124.1 504.4)"/>
<ellipse cx="73.2" cy="489.3" rx="1.5" ry="0.45" fill="#747474" opacity="0.7" transform="rotate(-25 73.2 489.3)"/>
<ellipse cx="90.3" cy="503.9" rx="0.6" ry="0.45" fill="#979797" opacity="0.7" transform="rotate(-25 90.3 503.9)"/>
<ellipse cx="61.3" cy="490.2" rx="1.7" ry="0.45" fill="#a6a6a6" opacity="0.7" transform="rotate(-25 61.3 490.2)"/>
<ellipse cx="15.2" cy="504.3" rx="1.1" ry="0.45" fill="#7f7f7f" opacity="0.7" transform="rotate(-25 15.2 504.3)"/>
<ellipse cx="91.6" cy="488.8" rx="0.7" ry="0.45" fill="#969696" opacity="0.7" transform="rotate(-25 91.6 488.8)"/>
<ellipse cx="39.5" cy="486.1" rx="1.3" ry="0.45" fill="#7b7b7b" opacity="0.7" transform="rotate(-25 39.5 486.1)"/>
<ellipse cx="62.2" cy="489.9" rx="1.1" ry="0.45" fill="#b0b0b0" opacity="0.7" transform="rotate(-25 62.2 489.9)"/>
<ellipse cx="102.2" cy="499.1" rx="1.3" ry="0.45" fill="#aaaaaa" opacity="0.7" transform="rotate(-25 102.2 499.1)"/>
<ellipse cx="38.2" cy="482.1" rx="1.7" ry="0.45" fill="#6c6c6c" opacity="0.7" transform="rotate(-25 38.2 482.1)"/>
<ellipse cx="101.3" cy="492.9" rx="1.3" ry="0.45" fill="#aaaaaa" opacity="0.7" transform="rotate(-25 101.3 492.9)"/>
<ellipse cx="79.0" cy="481.2" rx="0.9" ry="0.45" fill="#767676" opacity="0.7" transform="rotate(-25 79.0 481.2)"/>
<ellipse cx="96.4" cy="502.7" rx="1.2" ry="0.45" fill="#7e7e7e" opacity="0.7" transform="rotate(-25 96.4 502.7)"/>
<ellipse cx="96.8" cy="494.6" rx="1.6" ry="0.45" fill="#626262" opacity="0.7" transform="rotate(-25 96.8 494.6)"/>
<ellipse cx="110.1" cy="495.8" rx="1.4" ry="0.45" fill="#adadad" opacity="0.7" transform="rotate(-25 110.1 495.8)"/>
<ellipse cx="61.8" cy="498.7" rx="0.6" ry="0.45" fill="#9e9e9e" opacity="0.7" transform="rotate(-25 61.8 498.7)"/>
<ellipse cx="73.1" cy="483.7" rx="1.0" ry="0.45" fill="#959595" opacity="0.7" transform="rotate(-25 73.1 483.7)"/>
<ellipse cx="90.7" cy="495.3" rx="1.1" ry="0.45" fill="#979797" opacity="0.7" transform="rotate(-25 90.7 495.3)"/>
<ellipse cx="93.1" cy="493.4" rx="0.8" ry="0.45" fill="#b2b2b2" opacity="0.7" transform="rotate(-25 93.1 493.4)"/>
<ellipse cx="87.9" cy="496.6" rx="0.8" ry="0.45" fill="#686868" opacity="0.7" transform="rotate(-25 87.9 496.6)"/>
<ellipse cx="20.3" cy="485.0" rx="1.4" ry="0.45" fill="#969696" opacity="0.7" transform="rotate(-25 20.3 485.0)"/>
<ellipse cx="123.7" cy="498.5" rx="1.3" ry="0.45" fill="#646464" opacity="0.7" transform="rotate(-25 123.7 498.5)"/>
<ellipse cx="123.0" cy="484.2" rx="1.0" ry="0.45" fill="#696969" opacity="0.7" transform="rotate(-25 123.0 484.2)"/>
<ellipse cx="41.6" cy="499.0" rx="1.7" ry="0.45" fill="#a3a3a3" opacity="0.7" transform="rotate(-25 41.6 499.0)"/>
<ellipse cx="20.7" cy="482.6" rx="1.2" ry="0.45" fill="#7f7f7f" opacity="0.7" transform="rotate(-25 20.7 482.6)"/>
<ellipse cx="45.0" cy="496.8" rx="1.5" ry="0.45" fill="#616161" opacity="0.7" transform="rotate(-25 45.0 496.8)"/>
<ellipse cx="68.9" cy="501.6" rx="1.3" ry="0.45" fill="#6f6f6f" opacity="0.7" transform="rotate(-25 68.9 501.6)"/>
<ellipse cx="13.5" cy="484.3" rx="1.4" ry="0.45" fill="#747474" opacity="0.7" transform="rotate(-25 13.5 484.3)"/>
<ellipse cx="88.2" cy="504.4" rx="1.7" ry="0.45" fill="#b2b2b2" opacity="0.7" transform="rotate(-25 88.2 504.4)"/>
<ellipse cx="22.3" cy="483.3" rx="1.3" ry="0.45" fill="#a7a7a7" opacity="0.7" transform="rotate(-25 22.3 483.3)"/>
<ellipse cx="118.4" cy="495.8" rx="1.1" ry="0.45" fill="#707070" opacity="0.7" transform="rotate(-25 118.4 495.8)"/>
<ellipse cx="50.2" cy="496.1" rx="1.0" ry="0.45" fill="#a6a6a6" opacity="0.7" transform="rotate(-25 50.2 496.1)"/>
<ellipse cx="92.5" cy="494.0" rx="1.6" ry="0.45" fill="#a6a6a6" opacity="0.7" transform="rotate(-25 92.5 494.0)"/>
<ellipse cx="64.6" cy="484.9" rx="1.0" ry="0.45" fill="#7d7d7d" opacity="0.7" transform="rotate(-25 64.6 484.9)"/>
<ellipse cx="40.2" cy="499.5" rx="0.7" ry="0.45" fill="#6d6d6d" opacity="0.7" transform="rotate(-25 40.2 499.5)"/>
<ellipse cx="97.1" cy="490.8" rx="1.3" ry="0.45" fill="#a3a3a3" opacity="0.7" transform="rotate(-25 97.1 490.8)"/>
<ellipse cx="14.4" cy="491.8" rx="1.4" ry="0.45" fill="#b3b3b3" opacity="0.7" transform="rotate(-25 14.4 491.8)"/>
<ellipse cx="70.1" cy="499.1" rx="0.6" ry="0.45" fill="#999999" opacity="0.7" transform="rotate(-25 70.1 499.1)"/>
<ellipse cx="70.3" cy="492.7" rx="1.4" ry="0.45" fill="#9d9d9d" opacity="0.7" transform="rotate(-25 70.3 492.7)"/>
<ellipse cx="60.9" cy="491.0" rx="0.8" ry="0.45" fill="#7d7d7d" opacity="0.7" transform="rotate(-25 60.9 491.0)"/>
<ellipse cx="121.5" cy="496.7" rx="1.2" ry="0.45" fill="#696969" opacity="0.7" transform="rotate(-25 121.5 496.7)"/>
<ellipse cx="32.5" cy="482.0" rx="1.5" ry="0.45" fill="#606060" opacity="0.7" transform="rotate(-25 32.5 482.0)"/>
<ellipse cx="122.5" cy="481.9" rx="1.8" ry="0.45" fill="#a2a2a2" opacity="0.7" transform="rotate(-25 122.5 481.9)"/>
<ellipse cx="36.6" cy="486.9" rx="1.3" ry="0.45" fill="#a5a5a5" opacity="0.7" transform="rotate(-25 36.6 486.9)"/>
<ellipse cx="22.0" cy="497.1" rx="0.8" ry="0.45" fill="#a0a0a0" opacity="0.7" transform="rotate(-25 22.0 497.1)"/>
<ellipse cx="73.7" cy="495.4" rx="1.0" ry="0.45" fill="#a5a5a5" opacity="0.7" transform="rotate(-25 73.7 495.4)"/>
<ellipse cx="55.6" cy="492.9" rx="0.7" ry="0.45" fill="#737373" opacity="0.7" transform="rotate(-25 55.6 492.9)"/>
<ellipse cx="81.4" cy="487.4" rx="0.6" ry="0.45" fill="#6f6f6f" opacity="0.7" transform="rotate(-25 81.4 487.4)"/>
<ellipse cx="72.4" cy="502.9" rx="1.3" ry="0.45" fill="#adadad" opacity="0.7" transform="rotate(-25 72.4 502.9)"/>
<ellipse cx="101.7" cy="500.5" rx="0.9" ry="0.45" fill="#717171" opacity="0.7" transform="rotate(-25 101.7 500.5)"/>
<ellipse cx="24.7" cy="496.3" rx="1.0" ry="0.45" fill="#777777" opacity="0.7" transform="rotate(-25 24.7 496.3)"/>
<ellipse cx="41.0" cy="487.1" rx="1.0" ry="0.45" fill="#6b6b6b" opacity="0.7" transform="rotate(-25 41.0 487.1)"/>
<ellipse cx="80.1" cy="502.7" rx="0.6" ry="0.45" fill="#a2a2a2" opacity="0.7" transform="rotate(-25 80.1 502.7)"/>
<ellipse cx="20.8" cy="485.8" rx="0.8" ry="0.45" fill="#7c7c7c" opacity="0.7" transform="rotate(-25 20.8 485.8)"/>
<ellipse cx="77.7" cy="483.3" rx="1.7" ry="0.45" fill="#717171" opacity="0.7" transform="rotate(-25 77.7 483.3)"/>
<ellipse cx="33.6" cy="497.2" rx="0.9" ry="0.45" fill="#696969" opacity="0.7" transform="rotate(-25 33.6 497.2)"/>
<ellipse cx="120.9" cy="488.8" rx="1.6" ry="0.45" fill="#969696" opacity="0.7" transform="rotate(-25 120.9 488.8)"/>
<ellipse cx="126.6" cy="491.7" rx="1.0" ry="0.45" fill="#979797" opacity="0.7" transform="rotate(-25 126.6 491.7)"/>
<ellipse cx="99.3" cy="502.8" rx="0.7" ry="0.45" fill="#676767" opacity="0.7" transform="rotate(-25 99.3 502.8)"/>
<ellipse cx="80.1" cy="484.8" rx="1.4" ry="0.45" fill="#b0b0b0" opacity="0.7" transform="rotate(-25 80.1 484.8)"/>
<ellipse cx="120.9" cy="498.1" rx="1.2" ry="0.45" fill="#616161" opacity="0.7" transform="rotate(-25 120.9 498.1)"/>
<ellipse cx="43.7" cy="485.8" rx="1.7" ry="0.45" fill="#949494" opacity="0.7" transform="rotate(-25 43.7 485.8)"/>
<ellipse cx="13.4" cy="502.3" rx="1.6" ry="0.45" fill="#757575" opacity="0.7" transform="rotate(-25 13.4 502.3)"/>
<ellipse cx="102.4" cy="487.3" rx="1.1" ry="0.45" fill="#767676" opacity="0.7" transform="rotate(-25 102.4 487.3)"/>
<ellipse cx="60.2" cy="503.1" rx="1.4" ry="0.45" fill="#b0b0b0" opacity="0.7" transform="rotate(-25 60.2 503.1)"/>
<ellipse cx="107.6" cy="499.0" rx="1.5" ry="0.45" fill="#a3a3a3" opacity="0.7" transform="rotate(-25 107.6 499.0)"/>
<ellipse cx="60.4" cy="501.5" rx="1.8" ry="0.45" fill="#9c9c9c" opacity="0.7" transform="rotate(-25 60.4 501.5)"/>
<ellipse cx="76.9" cy="499.2" rx="0.8" ry="0.45" fill="#616161" opacity="0.7" transform="rotate(-25 76.9 499.2)"/>
<ellipse cx="54.1" cy="489.1" rx="1.1" ry="0.45" fill="#797979" opacity="0.7" transform="rotate(-25 54.1 489.1)"/>
<ellipse cx="117.9" cy="490.5" rx="1.5" ry="0.45" fill="#7b7b7b" opacity="0.7" transform="rotate(-25 117.9 490.5)"/>
<ellipse cx="53.8" cy="502.5" rx="0.9" ry="0.45" fill="#777777" opacity="0.7" transform="rotate(-25 53.8 502.5)"/>
<ellipse cx="24.2" cy="496.9" rx="1.5" ry="0.45" fill="#646464" opacity="0.7" transform="rotate(-25 24.2 496.9)"/>
<ellipse cx="91.0" cy="500.7" rx="1.8" ry="0.45" fill="#acacac" opacity="0.7" transform="rotate(-25 91.0 500.7)"/>
<ellipse cx="55.3" cy="498.0" rx="0.7" ry="0.45" fill="#aeaeae" opacity="0.7" transform="rotate(-25 55.3 498.0)"/>
<ellipse cx="72.9" cy="484.9" rx="0.7" ry="0.45" fill="#9c9c9c" opacity="0.7" transform="rotate(-25 72.9 484.9)"/>
<ellipse cx="14.7" cy="485.1" rx="1.3" ry="0.45" fill="#676767" opacity="0.7" transform="rotate(-25 14.7 485.1)"/>
<ellipse cx="125.6" cy="500.9" rx="1.7" ry="0.45" fill="#989898" opacity="0.7" transform="rotate(-25 125.6 500.9)"/>
<ellipse cx="110.3" cy="492.0" rx="1.7" ry="0.45" fill="#606060" opacity="0.7" transform="rotate(-25 110.3 492.0)"/>
<ellipse cx="90.8" cy="492.5" rx="1.7" ry="0.45" fill="#9f9f9f" opacity="0.7" transform="rotate(-25 90.8 492.5)"/>
<ellipse cx="82.8" cy="497.6" rx="1.1" ry="0.45" fill="#a3a3a3" opacity="0.7" transform="rotate(-25 82.8 497.6)"/>
<ellipse cx="87.0" cy="483.5" rx="1.7" ry="0.45" fill="#737373" opacity="0.7" transform="rotate(-25 87.0 483.5)"/>
<ellipse cx="125.6" cy="491.5" rx="0.8" ry="0.45" fill="#989898" opacity="0.7" transform="rotate(-25 125.6 491.5)"/>
<ellipse cx="49.9" cy="499.9" rx="1.5" ry="0.45" fill="#969696" opacity="0.7" transform="rotate(-25 49.9 499.9)"/>
<ellipse cx="107.0" cy="503.3" rx="1.2" ry="0.45" fill="#969696" opacity="0.7" transform="rotate(-25 107.0 503.3)"/>
<ellipse cx="110.2" cy="502.1" rx="1.2" ry="0.45" fill="#a7a7a7" opacity="0.7" transform="rotate(-25 110.2 502.1)"/>
<ellipse cx="51.7" cy="497.2" rx="1.2" ry="0.45" fill="#9b9b9b" opacity="0.7" transform="rotate(-25 51.7 497.2)"/>
<ellipse cx="70.0" cy="500.6" rx="0.9" ry="0.45" fill="#767676" opacity="0.7" transform="rotate(-25 70.0 500.6)"/>
<ellipse cx="18.7" cy="481.8" rx="1.4" ry="0.45" fill="#b3b3b3" opacity="0.7" transform="rotate(-25 18.7 481.8)"/>
<ellipse cx="36.6" cy="493.9" rx="0.8" ry="0.45" fill="#656565" opacity="0.7" transform="rotate(-25 36.6 493.9)"/>
<ellipse cx="63.8" cy="498.5" rx="1.1" ry="0.45" fill="#7d7d7d" opacity="0.7" transform="rotate(-25 63.8 498.5)"/>
<ellipse cx="34.6" cy="496.7" rx="1.0" ry="0.45" fill="#666666" opacity="0.7" transform="rotate(-25 34.6 496.7)"/>
<ellipse cx="14.0" cy="483.4" rx="0.9" ry="0.45" fill="#b2b2b2" opacity="0.7" transform="rotate(-25 14.0 483.4)"/>
<ellipse cx="104.5" cy="499.6" rx="1.1" ry="0.45" fill="#9d9d9d" opacity="0.7" transform="rotate(-25 104.5 499.6)"/>
<ellipse cx="109.8" cy="504.9" rx="1.2" ry="0.45" fill="#949494" opacity="0.7" transform="rotate(-25 109.8 504.9)"/>
<ellipse cx="97.2" cy="493.6" rx="1.4" ry="0.45" fill="#7a7a7a" opacity="0.7" transform="rotate(-25 97.2 493.6)"/>
<ellipse cx="106.6" cy="504.7" rx="0.8" ry="0.45" fill="#9b9b9b" opacity="0.7" transform="rotate(-25 106.6 504.7)"/>
<ellipse cx="122.1" cy="501.9" rx="0.9" ry="0.45" fill="#9b9b9b" opacity="0.7" transform="rotate(-25 122.1 501.9)"/>
<ellipse cx="125.3" cy="495.1" rx="1.3" ry="0.45" fill="#ababab" opacity="0.7" transform="rotate(-25 125.3 495.1)"/>
<ellipse cx="80.9" cy="492.4" rx="1.7" ry="0.45" fill="#a2a2a2" opacity="0.7" transform="rotate(-25 80.9 492.4)"/>
<ellipse cx="62.6" cy="492.4" rx="0.7" ry="0.45" fill="#999999" opacity="0.7" transform="rotate(-25 62.6 492.4)"/>
<ellipse cx="101.7" cy="494.1" rx="1.0" ry="0.45" fill="#adadad" opacity="0.7" transform="rotate(-25 101.7 494.1)"/>
<ellipse cx="86.2" cy="500.9" rx="1.5" ry="0.45" fill="#9e9e9e" opacity="0.7" transform="rotate(-25 86.2 500.9)"/>
<ellipse cx="80.0" cy="495.6" rx="0.8" ry="0.45" fill="#636363" opacity="0.7" transform="rotate(-25 80.0 495.6)"/>
<ellipse cx="44.0" cy="481.9" rx="0.7" ry="0.45" fill="#a3a3a3" opacity="0.7" transform="rotate(-25 44.0 481.9)"/>
<ellipse cx="122.9" cy="491.6" rx="0.9" ry="0.45" fill="#737373" opacity="0.7" transform="rotate(-25 122.9 491.6)"/>
<ellipse cx="103.6" cy="493.4" rx="0.8" ry="0.45" fill="#9a9a9a" opacity="0.7" transform="rotate(-25 103.6 493.4)"/>
<ellipse cx="62.1" cy="498.3" rx="1.6" ry="0.45" fill="#ababab" opacity="0.7" transform="rotate(-25 62.1 498.3)"/>
<ellipse cx="72.3" cy="483.3" rx="0.7" ry="0.45" fill="#606060" opacity="0.7" transform="rotate(-25 72.3 483.3)"/>
<ellipse cx="48.1" cy="492.4" rx="1.5" ry="0.45" fill="#626262" opacity="0.7" transform="rotate(-25 48.1 492.4)"/>
<ellipse cx="52.8" cy="484.0" rx="1.6" ry="0.45" fill="#afafaf" opacity="0.7" transform="rotate(-25 52.8 484.0)"/>
<ellipse cx="115.9" cy="489.8" rx="1.5" ry="0.45" fill="#9e9e9e" opacity="0.7" transform="rotate(-25 115.9 489.8)"/>
<ellipse cx="119.3" cy="483.5" rx="0.8" ry="0.45" fill="#b0b0b0" opacity="0.7" transform="rotate(-25 119.3 483.5)"/>
<ellipse cx="88.9" cy="493.8" rx="1.5" ry="0.45" fill="#999999" opacity="0.7" transform="rotate(-25 88.9 493.8)"/>
<ellipse cx="90.4" cy="482.0" rx="1.8" ry="0.45" fill="#a6a6a6" opacity="0.7" transform="rotate(-25 90.4 482.0)"/>
<ellipse cx="84.4" cy="497.4" rx="1.0" ry="0.45" fill="#949494" opacity="0.7" transform="rotate(-25 84.4 497.4)"/>
<ellipse cx="71.6" cy="487.5" rx="1.8" ry="0.45" fill="#adadad" opacity="0.7" transform="rotate(-25 71.6 487.5)"/>
<ellipse cx="13.4" cy="488.0" rx="0.7" ry="0.45" fill="#b0b0b0" opacity="0.7" transform="rotate(-25 13.4 488.0)"/>
<ellipse cx="108.2" cy="503.0" rx="1.7" ry="0.45" fill="#797979" opacity="0.7" transform="rotate(-25 108.2 503.0)"/>
<ellipse cx="50.3" cy="489.5" rx="1.7" ry="0.45" fill="#a4a4a4" opacity="0.7" transform="rotate(-25 50.3 489.5)"/>
<ellipse cx="44.9" cy="482.1" rx="1.6" ry="0.45" fill="#a6a6a6" opacity="0.7" transform="rotate(-25 44.9 482.1)"/>
<ellipse cx="82.5" cy="497.1" rx="1.1" ry="0.45" fill="#9b9b9b" opacity="0.7" transform="rotate(-25 82.5 497.1)"/>
<ellipse cx="11.5" cy="499.1" rx="1.0" ry="0.45" fill="#a6a6a6" opacity="0.7" transform="rotate(-25 11.5 499.1)"/>
<ellipse cx="57.8" cy="503.8" rx="0.9" ry="0.45" fill="#adadad" opacity="0.7" transform="rotate(-25 57.8 503.8)"/>
<ellipse cx="70.7" cy="482.7" rx="1.5" ry="0.45" fill="#9a9a9a" opacity="0.7" transform="rotate(-25 70.7 482.7)"/>
<ellipse cx="65.5" cy="491.1" rx="1.5" ry="0.45" fill="#a3a3a3" opacity="0.7" transform="rotate(-25 65.5 491.1)"/>
<ellipse cx="95.9" cy="496.6" rx="1.4" ry="0.45" fill="#989898" opacity="0.7" transform="rotate(-25 95.9 496.6)"/>
<ellipse cx="117.8" cy="482.5" rx="1.4" ry="0.45" fill="#999999" opacity="0.7" transform="rotate(-25 117.8 482.5)"/>
<ellipse cx="82.7" cy="489.3" rx="1.1" ry="0.45" fill="#656565" opacity="0.7" transform="rotate(-25 82.7 489.3)"/>
<ellipse cx="74.1" cy="495.6" rx="1.8" ry="0.45" fill="#b2b2b2" opacity="0.7" transform="rotate(-25 74.1 495.6)"/>
<ellipse cx="79.5" cy="504.2" rx="1.3" ry="0.45" fill="#a6a6a6" opacity="0.7" transform="rotate(-25 79.5 504.2)"/>
<ellipse cx="47.4" cy="484.8" rx="0.7" ry="0.45" fill="#a4a4a4" opacity="0.7" transform="rotate(-25 47.4 484.8)"/>
<ellipse cx="85.6" cy="493.9" rx="1.2" ry="0.45" fill="#b2b2b2" opacity="0.7" transform="rotate(-25 85.6 493.9)"/>
<ellipse cx="41.4" cy="490.6" rx="1.2" ry="0.45" fill="#7e7e7e" opacity="0.7" transform="rotate(-25 41.4 490.6)"/>
<ellipse cx="89.1" cy="493.7" rx="1.7" ry="0.45" fill="#727272" opacity="0.7" transform="rotate(-25 89.1 493.7)"/>
<ellipse cx="36.9" cy="501.0" rx="1.8" ry="0.45" fill="#a7a7a7" opacity="0.7" transform="rotate(-25 36.9 501.0)"/>
<ellipse cx="26.1" cy="492.4" rx="1.5" ry="0.45" fill="#a7a7a7" opacity="0.7" transform="rotate(-25 26.1 492.4)"/>
<ellipse cx="115.1" cy="491.1" rx="1.4" ry="0.45" fill="#9b9b9b" opacity="0.7" transform="rotate(-25 115.1 491.1)"/>
<ellipse cx="80.3" cy="494.9" rx="0.6" ry="0.45" fill="#969696" opacity="0.7" transform="rotate(-25 80.3 494.9)"/>
<ellipse cx="40.6" cy="490.1" rx="1.2" ry="0.45" fill="#a0a0a0" opacity="0.7" transform="rotate(-25 40.6 490.1)"/>
<ellipse cx="66.7" cy="485.3" rx="0.9" ry="0.45" fill="#9b9b9b" opacity="0.7" transform="rotate(-25 66.7 485.3)"/>
<ellipse cx="74.4" cy="481.1" rx="1.0" ry="0.45" fill="#969696" opacity="0.7" transform="rotate(-25 74.4 481.1)"/>
<ellipse cx="20.3" cy="492.3" rx="1.7" ry="0.45" fill="#9a9a9a" opacity="0.7" transform="rotate(-25 20.3 492.3)"/>
<ellipse cx="126.2" cy="490.9" rx="1.4" ry="0.45" fill="#acacac" opacity="0.7" transform="rotate(-25 126.2 490.9)"/>
<ellipse cx="48.1" cy="501.3" rx="1.4" ry="0.45" fill="#ababab" opacity="0.7" transform="rotate(-25 48.1 501.3)"/>
<ellipse cx="127.0" cy="481.5" rx="0.6" ry="0.45" fill="#aaaaaa" opacity="0.7" transform="rotate(-25 127.0 481.5)"/>
<ellipse cx="72.1" cy="504.2" rx="1.4" ry="0.45" fill="#707070" opacity="0.7" transform="rotate(-25 72.1 504.2)"/>
<ellipse cx="98.9" cy="497.1" rx="1.6" ry="0.45" fill="#959595" opacity="0.7" transform="rotate(-25 98.9 497.1)"/>
<ellipse cx="17.2" cy="495.3" rx="1.0" ry="0.45" fill="#a8a8a8" opacity="0.7" transform="rotate(-25 17.2 495.3)"/>
<ellipse cx="90.6" cy="488.4" rx="1.2" ry="0.45" fill="#acacac" opacity="0.7" transform="rotate(-25 90.6 488.4)"/>
<ellipse cx="76.4" cy="495.8" rx="1.1" ry="0.45" fill="#7d7d7d" opacity="0.7" transform="rotate(-25 76.4 495.8)"/>
<ellipse cx="106.7" cy="481.9" rx="1.3" ry="0.45" fill="#a5a5a5" opacity="0.7" transform="rotate(-25 106.7 481.9)"/>
<ellipse cx="71.1" cy="496.4" rx="1.5" ry="0.45" fill="#ababab" opacity="0.7" transform="rotate(-25 71.1 496.4)"/>
<ellipse cx="127.5" cy="501.6" rx="1.6" ry="0.45" fill="#626262" opacity="0.7" transform="rotate(-25 127.5 501.6)"/>
<ellipse cx="56.1" cy="496.9" rx="0.9" ry="0.45" fill="#b1b1b1" opacity="0.7" transform="rotate(-25 56.1 496.9)"/>
<ellipse cx="59.7" cy="504.5" rx="0.8" ry="0.45" fill="#afafaf" opacity="0.7" transform="rotate(-25 59.7 504.5)"/>
<ellipse cx="24.4" cy="497.8" rx="1.0" ry="0.45" fill="#616161" opacity="0.7" transform="rotate(-25 24.4 497.8)"/>
<ellipse cx="56.7" cy="491.1" rx="1.3" ry="0.45" fill="#ababab" opacity="0.7" transform="rotate(-25 56.7 491.1)"/>
<ellipse cx="15.5" cy="484.8" rx="1.8" ry="0.45" fill="#9b9b9b" opacity="0.7" transform="rotate(-25 15.5 484.8)"/>
<ellipse cx="118.9" cy="501.9" rx="1.1" ry="0.45" fill="#646464" opacity="0.7" transform="rotate(-25 118.9 501.9)"/>
<ellipse cx="125.1" cy="500.1" rx="1.3" ry="0.45" fill="#a6a6a6" opacity="0.7" transform="rotate(-25 125.1 500.1)"/>
<ellipse cx="94.9" cy="482.5" rx="0.9" ry="0.45" fill="#969696" opacity="0.7" transform="rotate(-25 94.9 482.5)"/>
<ellipse cx="34.8" cy="490.8" rx="1.0" ry="0.45" fill="#a4a4a4" opacity="0.7" transform="rotate(-25 34.8 490.8)"/>
<ellipse cx="31.4" cy="488.2" rx="0.9" ry="0.45" fill="#9f9f9f" opacity="0.7" transform="rotate(-25 31.4 488.2)"/>
<ellipse cx="121.2" cy="493.3" rx="1.4" ry="0.45" fill="#a2a2a2" opacity="0.7" transform="rotate(-25 121.2 493.3)"/>
<ellipse cx="128.4" cy="485.7" rx="1.2" ry="0.45" fill="#6f6f6f" opacity="0.7" transform="rotate(-25 128.4 485.7)"/>
<rect x="11" y="418" width="117.5" height="1" fill="#555"/>
</g>
<rect x="11.8" y="424.70" width="116.2" height="13.7" fill="none" stroke="#efdc18" stroke-width="1.15"/>
<rect x="11.8" y="438.40" width="116.2" height="13.7" fill="none" stroke="#efdc18" stroke-width="1.15"/>
<rect x="11.8" y="452.10" width="116.2" height="13.7" fill="none" stroke="#efdc18" stroke-width="1.15"/>
<rect x="11.8" y="465.80" width="116.2" height="13.7" fill="none" stroke="#efdc18" stroke-width="1.15"/>
<text x="70.0" y="434.2" font-size="9.6" text-anchor="middle" fill="#f4e214" stroke="#f4e214" stroke-width="0.25">Region 4</text>
<text x="70.0" y="447.9" font-size="9.6" text-anchor="middle" fill="#f4e214" stroke="#f4e214" stroke-width="0.25">Region 3</text>
<text x="70.0" y="461.59999999999997" font-size="9.6" text-anchor="middle" fill="#f4e214" stroke="#f4e214" stroke-width="0.25">Region 2</text>
<text x="70.0" y="475.29999999999995" font-size="9.6" text-anchor="middle" fill="#f4e214" stroke="#f4e214" stroke-width="0.25">Region 1</text>
<rect x="117" y="503" width="11.5" height="1.2" fill="#f4f4f4"/>
<text transform="translate(155.0,395.5) scale(0.78,1)" x="0" y="0" font-size="16" fill="#111" stroke="#111" stroke-width="0.45">E</text>
<rect x="263.7" y="398.7" width="4.3" height="4.8" fill="#2c4a7e"/>
<text x="272.9" y="403.8" font-size="10.0" text-anchor="start" fill="#111" textLength="75.6" lengthAdjust="spacingAndGlyphs" >No Endothelium</text>
<rect x="377.3" y="398.7" width="4.2" height="4.8" fill="#a3002a"/>
<text x="386.5" y="403.8" font-size="10.0" text-anchor="start" fill="#111" textLength="59.6" lengthAdjust="spacingAndGlyphs" >Endothelium</text>
<polygon points="212.9,536.5 215.3,442.5 218.1,435.6 220.8,448.5 223.8,453.4 226.4,458.9 229.1,458.9 232.3,455 235.1,456.4 238.2,459.7 240.6,459.3 243.6,457.4 247.5,460.9 252.1,464.9 256.8,464.3 260.4,467.2 263.3,470.2 265.9,467.2 269.3,478.1 272.2,483.1 275.2,489 278.2,493.4 280.2,494.9 281.1,518.7 282.1,536.5" fill="#a3002a"/>
<polygon points="286.6,536.5 288.7,516.9 291.8,489.2 294.7,482.3 297.3,475 300.4,475.7 302.8,475.4 305.6,472.8 308,472.2 310.8,469.8 314.3,466.7 317.7,469.8 320.1,469.3 322.9,466.7 325.3,471.9 327.6,472.8 331,476.7 335,478 339.7,481.4 343.1,484.9 346.6,490.9 349.2,497 352.3,502.2 354.7,506.5 355.8,523.8 357,536.5" fill="#a3002a"/>
<polygon points="362.3,536.5 364.5,527.5 367.1,513.6 369.7,505 373.2,499.4 376.6,498.4 379.6,499.4 382.3,501.2 384.8,498.9 387.9,497.7 391.3,494.6 393.4,493.2 396.5,496 400,494.9 403.1,494.6 405.2,496 407.8,492.5 411.2,495.5 415.6,501.5 419.9,507.6 423.3,511 425.9,515.4 428,524 429.7,536.5" fill="#a3002a"/>
<polygon points="437.8,536.5 440.7,532.6 443.5,525.4 445.9,521 447.6,518.4 450.4,510.1 452.8,511.2 456,513.6 459.1,508.1 462,503.7 464.3,507.2 467.2,504.3 470.7,507.7 474.1,507.2 477.6,506.3 481.6,506.7 485,504.3 488,510.1 491.4,510.7 495.4,511.5 497.5,514.1 498.9,516.7 501.3,517.1 501.6,536.5" fill="#a3002a"/>
<polygon points="212.9,536.5 214.9,492 217.9,490.6 220.4,499.9 223.8,499.9 226.4,501.3 229.1,496.9 232.7,498.3 235.7,500.9 238.6,500.9 241.6,502.3 249.5,502.3 255.4,506.8 261.4,508.8 268.3,511.7 272.2,513.7 277.2,514.7 279.8,513.3 281.1,518.7 282.3,536.5" fill="#2c4a7e"/>
<polygon points="286.6,536.5 290.4,522.1 293.8,515.2 297.3,514.8 300.4,511.3 303.4,514.3 306,512 309.1,512.6 314.6,510.3 319.8,512.6 326.7,511.3 333.6,513.4 340.6,515.2 345.7,515.2 350.1,519.5 354,520.7 356.1,536.5" fill="#2c4a7e"/>
<polygon points="362.3,536.5 365.4,531.8 368,527.8 371.4,526.6 375.8,526.6 381,527.8 386.1,529.6 391.3,528.3 396.5,528.9 403.4,527.5 410.4,528.9 414.7,528.9 419,529.6 422.5,529.6 426.3,531.3 428.5,534.4 429.7,536.5" fill="#2c4a7e"/>
<polygon points="437.8,536.5 443,535.4 445.6,534 449,533.1 452.5,533.1 456,532.6 460.3,531.9 464.6,532.3 471.5,533.1 478.4,533.1 485.4,533.1 492.3,533.1 496.6,533.7 501.3,534.4 501.6,536.5" fill="#2c4a7e"/>
<line x1="212.6" y1="411.0" x2="212.6" y2="537.2" stroke="#000" stroke-width="1.4"/>
<line x1="208" y1="536.5" x2="501.6" y2="536.5" stroke="#000" stroke-width="1.4"/>
<text x="203.8" y="540.2" font-size="10.4" text-anchor="end" fill="#111" >0</text>
<line x1="208" y1="506.5" x2="212.6" y2="506.5" stroke="#000" stroke-width="1.3"/>
<text x="203.8" y="510.2" font-size="10.4" text-anchor="end" fill="#111" >10</text>
<line x1="208" y1="476.5" x2="212.6" y2="476.5" stroke="#000" stroke-width="1.3"/>
<text x="203.8" y="480.2" font-size="10.4" text-anchor="end" fill="#111" >20</text>
<line x1="208" y1="446.5" x2="212.6" y2="446.5" stroke="#000" stroke-width="1.3"/>
<text x="203.8" y="450.2" font-size="10.4" text-anchor="end" fill="#111" >30</text>
<line x1="208" y1="416.5" x2="212.6" y2="416.5" stroke="#000" stroke-width="1.3"/>
<text x="203.8" y="420.2" font-size="10.4" text-anchor="end" fill="#111" >40</text>
<text x="214.0" y="551.5" font-size="10.4" text-anchor="middle" fill="#111" >0</text>
<text x="235.0" y="551.5" font-size="10.4" text-anchor="middle" fill="#111" >8</text>
<text x="256.5" y="551.5" font-size="10.4" text-anchor="middle" fill="#111" >16</text>
<text x="275.5" y="551.5" font-size="10.4" text-anchor="middle" fill="#111" >24</text>
<line x1="211.0" y1="559" x2="281.9" y2="559" stroke="#1a1a1a" stroke-width="1.4"/>
<text x="246.0" y="572.8" font-size="10.6" text-anchor="middle" fill="#111" textLength="43.4" lengthAdjust="spacingAndGlyphs" >Region 1</text>
<text x="290.0" y="551.5" font-size="10.4" text-anchor="middle" fill="#111" >0</text>
<text x="309.8" y="551.5" font-size="10.4" text-anchor="middle" fill="#111" >8</text>
<text x="331.3" y="551.5" font-size="10.4" text-anchor="middle" fill="#111" >16</text>
<text x="350.3" y="551.5" font-size="10.4" text-anchor="middle" fill="#111" >24</text>
<line x1="285.1" y1="559" x2="356.1" y2="559" stroke="#1a1a1a" stroke-width="1.4"/>
<text x="320.5" y="572.8" font-size="10.6" text-anchor="middle" fill="#111" textLength="43.4" lengthAdjust="spacingAndGlyphs" >Region 2</text>
<text x="364.9" y="551.5" font-size="10.4" text-anchor="middle" fill="#111" >0</text>
<text x="384.6" y="551.5" font-size="10.4" text-anchor="middle" fill="#111" >8</text>
<text x="406.1" y="551.5" font-size="10.4" text-anchor="middle" fill="#111" >16</text>
<text x="425.1" y="551.5" font-size="10.4" text-anchor="middle" fill="#111" >24</text>
<line x1="359.2" y1="559" x2="430.3" y2="559" stroke="#1a1a1a" stroke-width="1.4"/>
<text x="395.0" y="572.8" font-size="10.6" text-anchor="middle" fill="#111" textLength="43.4" lengthAdjust="spacingAndGlyphs" >Region 3</text>
<text x="439.7" y="551.5" font-size="10.4" text-anchor="middle" fill="#111" >0</text>
<text x="459.4" y="551.5" font-size="10.4" text-anchor="middle" fill="#111" >8</text>
<text x="480.9" y="551.5" font-size="10.4" text-anchor="middle" fill="#111" >16</text>
<text x="499.9" y="551.5" font-size="10.4" text-anchor="middle" fill="#111" >24</text>
<line x1="433.3" y1="559" x2="504.5" y2="559" stroke="#1a1a1a" stroke-width="1.4"/>
<text x="469.5" y="572.8" font-size="10.6" text-anchor="middle" fill="#111" textLength="43.4" lengthAdjust="spacingAndGlyphs" >Region 4</text>
<text x="319.9" y="593.1" font-size="13.2" text-anchor="start" fill="#111" textLength="74.4" lengthAdjust="spacingAndGlyphs" >Time (hours)</text>
<text transform="translate(164.3,473.7) rotate(-90)" font-size="13.2" text-anchor="middle" fill="#111" textLength="126.4" lengthAdjust="spacingAndGlyphs">Migrated neutrophils</text>
<text transform="translate(181.0,474.4) rotate(-90)" font-size="13.2" text-anchor="middle" fill="#111" textLength="125.0" lengthAdjust="spacingAndGlyphs">(% of Max migration)</text>
<text transform="translate(13.3,622.2) scale(0.73,1)" x="0" y="0" font-size="16" fill="#111" stroke="#111" stroke-width="0.45">F</text>
<rect x="188.7" y="625.3" width="3.9" height="4.2" fill="#2c4a7e"/>
<text x="197.3" y="630.9" font-size="10.0" text-anchor="start" fill="#111" textLength="75.2" lengthAdjust="spacingAndGlyphs" >No Endothelium</text>
<rect x="301.9" y="625.4" width="3.9" height="4.2" fill="#a3002a"/>
<text x="310.4" y="630.9" font-size="10.0" text-anchor="start" fill="#111" textLength="59.8" lengthAdjust="spacingAndGlyphs" >Endothelium</text>
<line x1="70.8" y1="638.3" x2="70.8" y2="743.7" stroke="#000" stroke-width="1.4"/>
<line x1="66.5" y1="743" x2="492" y2="743" stroke="#000" stroke-width="1.4"/>
<text x="62.4" y="746.7" font-size="10.4" text-anchor="end" fill="#111" >0</text>
<line x1="66.5" y1="709.80" x2="70.8" y2="709.80" stroke="#000" stroke-width="1.3"/>
<text x="62.4" y="713.5" font-size="10.4" text-anchor="end" fill="#111" >10</text>
<line x1="66.5" y1="676.60" x2="70.8" y2="676.60" stroke="#000" stroke-width="1.3"/>
<text x="62.4" y="680.3000000000001" font-size="10.4" text-anchor="end" fill="#111" >20</text>
<line x1="66.5" y1="643.40" x2="70.8" y2="643.40" stroke="#000" stroke-width="1.3"/>
<text x="62.4" y="647.1" font-size="10.4" text-anchor="end" fill="#111" >30</text>
<line x1="78.10000000000001" y1="735.0" x2="78.10000000000001" y2="743" stroke="#000" stroke-width="1.3"/>
<line x1="75.7" y1="735.0" x2="80.50000000000001" y2="735.0" stroke="#000" stroke-width="1.3"/>
<line x1="83.3" y1="733.7" x2="83.3" y2="741.0" stroke="#000" stroke-width="1.3"/>
<line x1="80.89999999999999" y1="733.7" x2="85.7" y2="733.7" stroke="#000" stroke-width="1.3"/>
<rect x="80.90" y="741.0" width="5.0" height="2.00" fill="#a3002a"/>
<text x="80.7" y="757.6" font-size="10.4" text-anchor="middle" fill="#111" >0</text>
<line x1="96.4" y1="680.8" x2="96.4" y2="688.5" stroke="#000" stroke-width="1.3"/>
<line x1="94.0" y1="680.8" x2="98.80000000000001" y2="680.8" stroke="#000" stroke-width="1.3"/>
<line x1="101.6" y1="665.8" x2="101.6" y2="673.0" stroke="#000" stroke-width="1.3"/>
<line x1="99.19999999999999" y1="665.8" x2="104.0" y2="665.8" stroke="#000" stroke-width="1.3"/>
<rect x="93.80" y="688.5" width="5.0" height="54.50" fill="#2c4a7e"/>
<rect x="99.20" y="673.0" width="5.0" height="70.00" fill="#a3002a"/>
<text x="99.0" y="757.6" font-size="10.4" text-anchor="middle" fill="#111" >4</text>
<text x="101.6" y="666.84" font-size="12" text-anchor="middle" fill="#1a1a1a">*</text>
<line x1="114.70000000000002" y1="681.0" x2="114.70000000000002" y2="688.5" stroke="#000" stroke-width="1.3"/>
<line x1="112.30000000000001" y1="681.0" x2="117.10000000000002" y2="681.0" stroke="#000" stroke-width="1.3"/>
<line x1="119.9" y1="664.4" x2="119.9" y2="672.1" stroke="#000" stroke-width="1.3"/>
<line x1="117.5" y1="664.4" x2="122.30000000000001" y2="664.4" stroke="#000" stroke-width="1.3"/>
<rect x="112.10" y="688.5" width="5.0" height="54.50" fill="#2c4a7e"/>
<rect x="117.50" y="672.1" width="5.0" height="70.90" fill="#a3002a"/>
<text x="117.30000000000001" y="757.6" font-size="10.4" text-anchor="middle" fill="#111" >8</text>
<text x="119.9" y="665.54" font-size="12" text-anchor="middle" fill="#1a1a1a">*</text>
<line x1="133.00000000000003" y1="683.0" x2="133.00000000000003" y2="690.8" stroke="#000" stroke-width="1.3"/>
<line x1="130.60000000000002" y1="683.0" x2="135.40000000000003" y2="683.0" stroke="#000" stroke-width="1.3"/>
<line x1="138.20000000000002" y1="668.8" x2="138.20000000000002" y2="676.5" stroke="#000" stroke-width="1.3"/>
<line x1="135.8" y1="668.8" x2="140.60000000000002" y2="668.8" stroke="#000" stroke-width="1.3"/>
<rect x="130.40" y="690.8" width="5.0" height="52.20" fill="#2c4a7e"/>
<rect x="135.80" y="676.5" width="5.0" height="66.50" fill="#a3002a"/>
<text x="135.60000000000002" y="757.6" font-size="10.4" text-anchor="middle" fill="#111" >12</text>
<text x="138.20000000000002" y="669.34" font-size="12" text-anchor="middle" fill="#1a1a1a">*</text>
<line x1="151.3" y1="692.3" x2="151.3" y2="700.0" stroke="#000" stroke-width="1.3"/>
<line x1="148.9" y1="692.3" x2="153.70000000000002" y2="692.3" stroke="#000" stroke-width="1.3"/>
<line x1="156.5" y1="665.0" x2="156.5" y2="672.7" stroke="#000" stroke-width="1.3"/>
<line x1="154.1" y1="665.0" x2="158.9" y2="665.0" stroke="#000" stroke-width="1.3"/>
<rect x="148.70" y="700.0" width="5.0" height="43.00" fill="#2c4a7e"/>
<rect x="154.10" y="672.7" width="5.0" height="70.30" fill="#a3002a"/>
<text x="153.9" y="757.6" font-size="10.4" text-anchor="middle" fill="#111" >16</text>
<text x="156.5" y="665.54" font-size="12" text-anchor="middle" fill="#1a1a1a">***</text>
<line x1="186.70000000000002" y1="735.6" x2="186.70000000000002" y2="743" stroke="#000" stroke-width="1.3"/>
<line x1="184.3" y1="735.6" x2="189.10000000000002" y2="735.6" stroke="#000" stroke-width="1.3"/>
<line x1="191.9" y1="735.6" x2="191.9" y2="743" stroke="#000" stroke-width="1.3"/>
<line x1="189.5" y1="735.6" x2="194.3" y2="735.6" stroke="#000" stroke-width="1.3"/>
<text x="189.3" y="757.6" font-size="10.4" text-anchor="middle" fill="#111" >0</text>
<line x1="205.00000000000003" y1="704.4" x2="205.00000000000003" y2="711.9" stroke="#000" stroke-width="1.3"/>
<line x1="202.60000000000002" y1="704.4" x2="207.40000000000003" y2="704.4" stroke="#000" stroke-width="1.3"/>
<line x1="210.20000000000002" y1="675.4" x2="210.20000000000002" y2="683.3" stroke="#000" stroke-width="1.3"/>
<line x1="207.8" y1="675.4" x2="212.60000000000002" y2="675.4" stroke="#000" stroke-width="1.3"/>
<rect x="202.40" y="711.9" width="5.0" height="31.10" fill="#2c4a7e"/>
<rect x="207.80" y="683.3" width="5.0" height="59.70" fill="#a3002a"/>
<text x="207.60000000000002" y="757.6" font-size="10.4" text-anchor="middle" fill="#111" >4</text>
<text x="210.20000000000002" y="676.04" font-size="12" text-anchor="middle" fill="#1a1a1a">**</text>
<line x1="223.3" y1="701.0" x2="223.3" y2="708.7" stroke="#000" stroke-width="1.3"/>
<line x1="220.9" y1="701.0" x2="225.70000000000002" y2="701.0" stroke="#000" stroke-width="1.3"/>
<line x1="228.5" y1="671.5" x2="228.5" y2="678.8" stroke="#000" stroke-width="1.3"/>
<line x1="226.1" y1="671.5" x2="230.9" y2="671.5" stroke="#000" stroke-width="1.3"/>
<rect x="220.70" y="708.7" width="5.0" height="34.30" fill="#2c4a7e"/>
<rect x="226.10" y="678.8" width="5.0" height="64.20" fill="#a3002a"/>
<text x="225.9" y="757.6" font-size="10.4" text-anchor="middle" fill="#111" >8</text>
<text x="228.5" y="671.24" font-size="12" text-anchor="middle" fill="#1a1a1a">**</text>
<line x1="241.60000000000002" y1="700.4" x2="241.60000000000002" y2="707.7" stroke="#000" stroke-width="1.3"/>
<line x1="239.20000000000002" y1="700.4" x2="244.00000000000003" y2="700.4" stroke="#000" stroke-width="1.3"/>
<line x1="246.8" y1="666.3" x2="246.8" y2="673.7" stroke="#000" stroke-width="1.3"/>
<line x1="244.4" y1="666.3" x2="249.20000000000002" y2="666.3" stroke="#000" stroke-width="1.3"/>
<rect x="239.00" y="707.7" width="5.0" height="35.30" fill="#2c4a7e"/>
<rect x="244.40" y="673.7" width="5.0" height="69.30" fill="#a3002a"/>
<text x="244.20000000000002" y="757.6" font-size="10.4" text-anchor="middle" fill="#111" >12</text>
<text x="246.8" y="665.54" font-size="12" text-anchor="middle" fill="#1a1a1a">**</text>
<line x1="259.9" y1="701.5" x2="259.9" y2="709.2" stroke="#000" stroke-width="1.3"/>
<line x1="257.5" y1="701.5" x2="262.29999999999995" y2="701.5" stroke="#000" stroke-width="1.3"/>
<line x1="265.1" y1="680.4" x2="265.1" y2="688.0" stroke="#000" stroke-width="1.3"/>
<line x1="262.70000000000005" y1="680.4" x2="267.5" y2="680.4" stroke="#000" stroke-width="1.3"/>
<rect x="257.30" y="709.2" width="5.0" height="33.80" fill="#2c4a7e"/>
<rect x="262.70" y="688.0" width="5.0" height="55.00" fill="#a3002a"/>
<text x="262.5" y="757.6" font-size="10.4" text-anchor="middle" fill="#111" >16</text>
<text x="265.1" y="681.09" font-size="12" text-anchor="middle" fill="#1a1a1a">**</text>
<line x1="295.29999999999995" y1="735.5" x2="295.29999999999995" y2="743" stroke="#000" stroke-width="1.3"/>
<line x1="292.9" y1="735.5" x2="297.69999999999993" y2="735.5" stroke="#000" stroke-width="1.3"/>
<line x1="300.5" y1="735.5" x2="300.5" y2="743" stroke="#000" stroke-width="1.3"/>
<line x1="298.1" y1="735.5" x2="302.9" y2="735.5" stroke="#000" stroke-width="1.3"/>
<text x="297.9" y="757.6" font-size="10.4" text-anchor="middle" fill="#111" >0</text>
<line x1="313.59999999999997" y1="721.5" x2="313.59999999999997" y2="729.0" stroke="#000" stroke-width="1.3"/>
<line x1="311.2" y1="721.5" x2="315.99999999999994" y2="721.5" stroke="#000" stroke-width="1.3"/>
<line x1="318.8" y1="701.0" x2="318.8" y2="708.75" stroke="#000" stroke-width="1.3"/>
<line x1="316.40000000000003" y1="701.0" x2="321.2" y2="701.0" stroke="#000" stroke-width="1.3"/>
<rect x="311.00" y="729.0" width="5.0" height="14.00" fill="#2c4a7e"/>
<rect x="316.40" y="708.75" width="5.0" height="34.25" fill="#a3002a"/>
<text x="316.2" y="757.6" font-size="10.4" text-anchor="middle" fill="#111" >4</text>
<text x="318.8" y="701.34" font-size="12" text-anchor="middle" fill="#1a1a1a">**</text>
<line x1="331.9" y1="724.0" x2="331.9" y2="731.5" stroke="#000" stroke-width="1.3"/>
<line x1="329.5" y1="724.0" x2="334.29999999999995" y2="724.0" stroke="#000" stroke-width="1.3"/>
<line x1="337.1" y1="696.75" x2="337.1" y2="704.5" stroke="#000" stroke-width="1.3"/>
<line x1="334.70000000000005" y1="696.75" x2="339.5" y2="696.75" stroke="#000" stroke-width="1.3"/>
<rect x="329.30" y="731.5" width="5.0" height="11.50" fill="#2c4a7e"/>
<rect x="334.70" y="704.5" width="5.0" height="38.50" fill="#a3002a"/>
<text x="334.5" y="757.6" font-size="10.4" text-anchor="middle" fill="#111" >8</text>
<text x="337.1" y="696.84" font-size="12" text-anchor="middle" fill="#1a1a1a">**</text>
<line x1="350.19999999999993" y1="724.0" x2="350.19999999999993" y2="731.5" stroke="#000" stroke-width="1.3"/>
<line x1="347.79999999999995" y1="724.0" x2="352.5999999999999" y2="724.0" stroke="#000" stroke-width="1.3"/>
<line x1="355.4" y1="681.25" x2="355.4" y2="688.25" stroke="#000" stroke-width="1.3"/>
<line x1="353.0" y1="681.25" x2="357.79999999999995" y2="681.25" stroke="#000" stroke-width="1.3"/>
<rect x="347.60" y="731.5" width="5.0" height="11.50" fill="#2c4a7e"/>
<rect x="353.00" y="688.25" width="5.0" height="54.75" fill="#a3002a"/>
<text x="352.79999999999995" y="757.6" font-size="10.4" text-anchor="middle" fill="#111" >12</text>
<text x="355.4" y="681.84" font-size="12" text-anchor="middle" fill="#1a1a1a">****</text>
<line x1="368.49999999999994" y1="722.0" x2="368.49999999999994" y2="729.0" stroke="#000" stroke-width="1.3"/>
<line x1="366.09999999999997" y1="722.0" x2="370.8999999999999" y2="722.0" stroke="#000" stroke-width="1.3"/>
<line x1="373.7" y1="688.25" x2="373.7" y2="695.75" stroke="#000" stroke-width="1.3"/>
<line x1="371.3" y1="688.25" x2="376.09999999999997" y2="688.25" stroke="#000" stroke-width="1.3"/>
<rect x="365.90" y="729.0" width="5.0" height="14.00" fill="#2c4a7e"/>
<rect x="371.30" y="695.75" width="5.0" height="47.25" fill="#a3002a"/>
<text x="371.09999999999997" y="757.6" font-size="10.4" text-anchor="middle" fill="#111" >16</text>
<text x="373.7" y="688.09" font-size="12" text-anchor="middle" fill="#1a1a1a">****</text>
<line x1="403.8999999999999" y1="735.5" x2="403.8999999999999" y2="743" stroke="#000" stroke-width="1.3"/>
<line x1="401.49999999999994" y1="735.5" x2="406.2999999999999" y2="735.5" stroke="#000" stroke-width="1.3"/>
<line x1="409.09999999999997" y1="735.5" x2="409.09999999999997" y2="743" stroke="#000" stroke-width="1.3"/>
<line x1="406.7" y1="735.5" x2="411.49999999999994" y2="735.5" stroke="#000" stroke-width="1.3"/>
<text x="406.49999999999994" y="757.6" font-size="10.4" text-anchor="middle" fill="#111" >0</text>
<line x1="422.19999999999993" y1="732.5" x2="422.19999999999993" y2="740.5" stroke="#000" stroke-width="1.3"/>
<line x1="419.79999999999995" y1="732.5" x2="424.5999999999999" y2="732.5" stroke="#000" stroke-width="1.3"/>
<line x1="427.4" y1="719.0" x2="427.4" y2="727.0" stroke="#000" stroke-width="1.3"/>
<line x1="425.0" y1="719.0" x2="429.79999999999995" y2="719.0" stroke="#000" stroke-width="1.3"/>
<rect x="419.60" y="740.5" width="5.0" height="2.50" fill="#2c4a7e"/>
<rect x="425.00" y="727.0" width="5.0" height="16.00" fill="#a3002a"/>
<text x="424.79999999999995" y="757.6" font-size="10.4" text-anchor="middle" fill="#111" >4</text>
<line x1="440.49999999999994" y1="730.75" x2="440.49999999999994" y2="738.75" stroke="#000" stroke-width="1.3"/>
<line x1="438.09999999999997" y1="730.75" x2="442.8999999999999" y2="730.75" stroke="#000" stroke-width="1.3"/>
<line x1="445.7" y1="709.25" x2="445.7" y2="716.25" stroke="#000" stroke-width="1.3"/>
<line x1="443.3" y1="709.25" x2="448.09999999999997" y2="709.25" stroke="#000" stroke-width="1.3"/>
<rect x="437.90" y="738.75" width="5.0" height="4.25" fill="#2c4a7e"/>
<rect x="443.30" y="716.25" width="5.0" height="26.75" fill="#a3002a"/>
<text x="443.09999999999997" y="757.6" font-size="10.4" text-anchor="middle" fill="#111" >8</text>
<text x="445.7" y="709.84" font-size="12" text-anchor="middle" fill="#1a1a1a">**</text>
<line x1="458.79999999999995" y1="730.75" x2="458.79999999999995" y2="738.75" stroke="#000" stroke-width="1.3"/>
<line x1="456.4" y1="730.75" x2="461.19999999999993" y2="730.75" stroke="#000" stroke-width="1.3"/>
<line x1="464.0" y1="693.0" x2="464.0" y2="700.75" stroke="#000" stroke-width="1.3"/>
<line x1="461.6" y1="693.0" x2="466.4" y2="693.0" stroke="#000" stroke-width="1.3"/>
<rect x="456.20" y="738.75" width="5.0" height="4.25" fill="#2c4a7e"/>
<rect x="461.60" y="700.75" width="5.0" height="42.25" fill="#a3002a"/>
<text x="461.4" y="757.6" font-size="10.4" text-anchor="middle" fill="#111" >12</text>
<text x="464.0" y="693.09" font-size="12" text-anchor="middle" fill="#1a1a1a">****</text>
<line x1="477.0999999999999" y1="730.75" x2="477.0999999999999" y2="738.75" stroke="#000" stroke-width="1.3"/>
<line x1="474.69999999999993" y1="730.75" x2="479.4999999999999" y2="730.75" stroke="#000" stroke-width="1.3"/>
<line x1="482.29999999999995" y1="696.75" x2="482.29999999999995" y2="704.5" stroke="#000" stroke-width="1.3"/>
<line x1="479.9" y1="696.75" x2="484.69999999999993" y2="696.75" stroke="#000" stroke-width="1.3"/>
<rect x="474.50" y="738.75" width="5.0" height="4.25" fill="#2c4a7e"/>
<rect x="479.90" y="704.5" width="5.0" height="38.50" fill="#a3002a"/>
<text x="479.69999999999993" y="757.6" font-size="10.4" text-anchor="middle" fill="#111" >16</text>
<text x="482.29999999999995" y="697.59" font-size="12" text-anchor="middle" fill="#1a1a1a">****</text>
<text x="116.2" y="775.0" font-size="10.6" text-anchor="middle" fill="#111" textLength="44.0" lengthAdjust="spacingAndGlyphs" >Region 1</text>
<text x="225.2" y="775.0" font-size="10.6" text-anchor="middle" fill="#111" textLength="44.0" lengthAdjust="spacingAndGlyphs" >Region 2</text>
<text x="334.2" y="775.0" font-size="10.6" text-anchor="middle" fill="#111" textLength="44.0" lengthAdjust="spacingAndGlyphs" >Region 3</text>
<text x="442.6" y="775.0" font-size="10.6" text-anchor="middle" fill="#111" textLength="44.0" lengthAdjust="spacingAndGlyphs" >Region 4</text>
<text x="244.6" y="794.8" font-size="13.2" text-anchor="start" fill="#111" textLength="74.2" lengthAdjust="spacingAndGlyphs" >Time (hours)</text>
<text transform="translate(23.4,690.1) rotate(-90)" font-size="13.2" text-anchor="middle" fill="#111" textLength="126.4" lengthAdjust="spacingAndGlyphs">Migrated neutrophils</text>
<text transform="translate(40.1,690.1) rotate(-90)" font-size="13.2" text-anchor="middle" fill="#111" textLength="125.0" lengthAdjust="spacingAndGlyphs">(% of Max migration)</text>
<rect x="0" y="0" width="520" height="1" fill="#5c5c5c"/>
<rect x="0" y="1" width="520" height="1" fill="#1e1e1e"/>
<rect x="0" y="0" width="2" height="809" fill="#2e2e2e"/>
<rect x="518" y="0" width="2" height="809" fill="#141414"/>
<rect x="0" y="807" width="520" height="2" fill="#141414"/>
</svg>
</body></html>
